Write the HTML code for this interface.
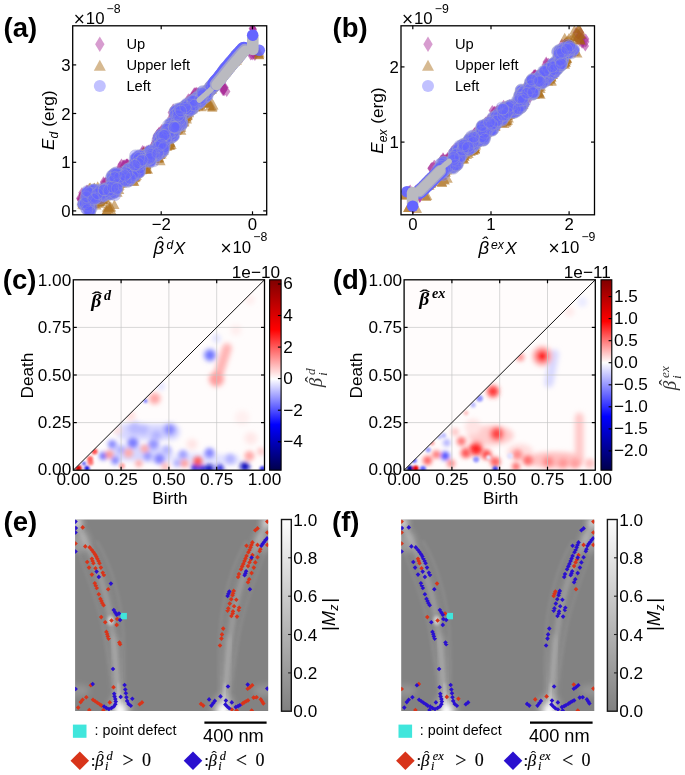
<!DOCTYPE html>
<html lang="en"><head><meta charset="utf-8"><title>Figure</title>
<style>html,body{margin:0;padding:0;background:#fff}svg{display:block}text{font-family:'Liberation Sans', sans-serif}text.sf{font-family:'Liberation Serif', 'DejaVu Serif', serif}text.dj{font-family:'DejaVu Sans',sans-serif}</style></head><body>
<svg width="685" height="775" viewBox="0 0 685 775">
<defs>
<filter id="blur1" x="-20%" y="-20%" width="140%" height="140%"><feGaussianBlur stdDeviation="1.1"/></filter>
<filter id="blur2" x="-20%" y="-20%" width="140%" height="140%"><feGaussianBlur stdDeviation="1.7"/></filter>
<filter id="blurh" x="-10%" y="-10%" width="120%" height="120%"><feGaussianBlur stdDeviation="2.1"/></filter>
<filter id="blurs" x="-10%" y="-10%" width="120%" height="120%"><feGaussianBlur stdDeviation="2.9"/></filter>
<filter id="blur3" x="-50%" y="-50%" width="200%" height="200%"><feGaussianBlur stdDeviation="3.2"/></filter>
<linearGradient id="seis_pc" x1="0" y1="0" x2="0" y2="1">
<stop offset="0%" stop-color="#800000"/>
<stop offset="26.1%" stop-color="#ff0000"/>
<stop offset="52.1%" stop-color="#ffffff"/>
<stop offset="76.1%" stop-color="#0000ff"/>
<stop offset="100%" stop-color="#00004c"/>
</linearGradient>
<linearGradient id="seis_pd" x1="0" y1="0" x2="0" y2="1">
<stop offset="0%" stop-color="#800000"/>
<stop offset="21.8%" stop-color="#ff0000"/>
<stop offset="43.5%" stop-color="#ffffff"/>
<stop offset="71.8%" stop-color="#0000ff"/>
<stop offset="100%" stop-color="#00004c"/>
</linearGradient>
<linearGradient id="graybar" x1="0" y1="0" x2="0" y2="1"><stop offset="0" stop-color="#fdfdfd"/><stop offset="1" stop-color="#808080"/></linearGradient>
</defs>
<rect x="0" y="0" width="685" height="775" fill="#fff"/>
<g id="pa">
<clipPath id="clip_pa"><rect x="72.7" y="25.8" width="194" height="189"/></clipPath>
<g clip-path="url(#clip_pa)">
<path d="M125.7 163.5L129.4 169.1L125.7 174.7L122 169.1ZM235.7 51.4L239.4 57L235.7 62.6L232 57ZM120.1 169L123.8 174.6L120.1 180.2L116.4 174.6ZM123.8 163.4L127.5 169L123.8 174.6L120.1 169ZM145 155.5L148.7 161.1L145 166.7L141.3 161.1ZM155.7 140.8L159.4 146.4L155.7 152L152 146.4ZM117 172.8L120.7 178.4L117 184L113.3 178.4ZM114 178.2L117.7 183.8L114 189.4L110.3 183.8ZM213.4 78.2L217.1 83.8L213.4 89.4L209.7 83.8ZM145.7 160.2L149.4 165.8L145.7 171.4L142 165.8ZM229.4 59.7L233.1 65.3L229.4 70.9L225.7 65.3ZM119.7 170.1L123.4 175.7L119.7 181.3L116 175.7ZM194.2 88.4L197.9 94L194.2 99.6L190.5 94ZM198.8 88.5L202.5 94.1L198.8 99.7L195.1 94.1ZM165.3 127.3L169 132.9L165.3 138.5L161.6 132.9ZM193.5 93.1L197.2 98.7L193.5 104.3L189.8 98.7ZM102.9 184.6L106.6 190.2L102.9 195.8L99.2 190.2ZM156.3 140.7L160 146.3L156.3 151.9L152.6 146.3ZM155.9 135.4L159.6 141L155.9 146.6L152.2 141ZM235.5 50.8L239.2 56.4L235.5 62L231.8 56.4ZM162.6 127.5L166.3 133.1L162.6 138.7L158.9 133.1ZM157.5 135.4L161.2 141L157.5 146.6L153.8 141ZM95.7 190.4L99.4 196L95.7 201.6L92 196ZM210.4 82.1L214.1 87.7L210.4 93.3L206.7 87.7ZM164.1 125.8L167.8 131.4L164.1 137L160.4 131.4ZM242.5 45.6L246.2 51.2L242.5 56.8L238.8 51.2ZM118.7 166.2L122.4 171.8L118.7 177.4L115 171.8ZM104.5 183L108.2 188.6L104.5 194.2L100.8 188.6ZM118.4 178.2L122.1 183.8L118.4 189.4L114.7 183.8ZM122.7 162.4L126.4 168L122.7 173.6L119 168ZM233.3 53.9L237 59.5L233.3 65.1L229.6 59.5ZM230.1 58.1L233.8 63.7L230.1 69.3L226.4 63.7ZM223 85.1L226.7 90.7L223 96.3L219.3 90.7ZM238.9 47.6L242.6 53.2L238.9 58.8L235.2 53.2ZM172.4 109.2L176.1 114.8L172.4 120.4L168.7 114.8ZM121.5 158.4L125.2 164L121.5 169.6L117.8 164ZM115.3 176.9L119 182.5L115.3 188.1L111.6 182.5ZM92.4 188.1L96.1 193.7L92.4 199.3L88.7 193.7ZM119.7 172.4L123.4 178L119.7 183.6L116 178ZM115.4 174.3L119.1 179.9L115.4 185.5L111.7 179.9ZM81.8 193L85.5 198.6L81.8 204.2L78.1 198.6ZM143.9 156.4L147.6 162L143.9 167.6L140.2 162ZM88.7 188.2L92.4 193.8L88.7 199.4L85 193.8ZM161.7 124.1L165.4 129.7L161.7 135.3L158 129.7ZM106.2 180.8L109.9 186.4L106.2 192L102.5 186.4ZM175.5 118.7L179.2 124.3L175.5 129.9L171.8 124.3ZM186 104.9L189.7 110.5L186 116.1L182.3 110.5ZM148.3 144.9L152 150.5L148.3 156.1L144.6 150.5ZM102.3 188.4L106 194L102.3 199.6L98.6 194ZM167.7 126.2L171.4 131.8L167.7 137.4L164 131.8ZM170.2 125.5L173.9 131.1L170.2 136.7L166.5 131.1ZM79.7 192.8L83.4 198.4L79.7 204L76 198.4ZM194.6 89.8L198.3 95.4L194.6 101L190.9 95.4ZM231.4 57.7L235.1 63.3L231.4 68.9L227.7 63.3ZM242.5 44.5L246.2 50.1L242.5 55.7L238.8 50.1ZM235.9 49.8L239.6 55.4L235.9 61L232.2 55.4ZM104.1 180.7L107.8 186.3L104.1 191.9L100.4 186.3ZM164.3 129.1L168 134.7L164.3 140.3L160.6 134.7ZM143 146.7L146.7 152.3L143 157.9L139.3 152.3ZM121.7 162.6L125.4 168.2L121.7 173.8L118 168.2ZM173.5 118.5L177.2 124.1L173.5 129.7L169.8 124.1ZM144.2 153L147.9 158.6L144.2 164.2L140.5 158.6ZM175.2 105.5L178.9 111.1L175.2 116.7L171.5 111.1ZM209.1 85.5L212.8 91.1L209.1 96.7L205.4 91.1ZM221.1 71.5L224.8 77.1L221.1 82.7L217.4 77.1ZM155.9 141.8L159.6 147.4L155.9 153L152.2 147.4ZM241.9 44L245.6 49.6L241.9 55.2L238.2 49.6ZM173.1 125.5L176.8 131.1L173.1 136.7L169.4 131.1ZM123.1 159.5L126.8 165.1L123.1 170.7L119.4 165.1ZM144.9 160.8L148.6 166.4L144.9 172L141.2 166.4ZM228.2 60.9L231.9 66.5L228.2 72.1L224.5 66.5ZM213 77.4L216.7 83L213 88.6L209.3 83ZM154.8 142.4L158.5 148L154.8 153.6L151.1 148ZM224.5 67.3L228.2 72.9L224.5 78.5L220.8 72.9ZM102.9 188.5L106.6 194.1L102.9 199.7L99.2 194.1ZM254.9 49.9L258.6 55.5L254.9 61.1L251.2 55.5ZM205.7 86.8L209.4 92.4L205.7 98L202 92.4ZM174.7 115.7L178.4 121.3L174.7 126.9L171 121.3ZM82.7 195.4L86.4 201L82.7 206.6L79 201ZM183.4 105.7L187.1 111.3L183.4 116.9L179.7 111.3ZM207.5 85.3L211.2 90.9L207.5 96.5L203.8 90.9ZM119.7 163.2L123.4 168.8L119.7 174.4L116 168.8ZM234.7 52L238.4 57.6L234.7 63.2L231 57.6ZM157.7 129L161.4 134.6L157.7 140.2L154 134.6ZM143.8 155.9L147.5 161.5L143.8 167.1L140.1 161.5ZM121.3 158.7L125 164.3L121.3 169.9L117.6 164.3ZM155.1 145L158.8 150.6L155.1 156.2L151.4 150.6ZM141.2 162.5L144.9 168.1L141.2 173.7L137.5 168.1ZM109.4 177.4L113.1 183L109.4 188.6L105.7 183ZM191.3 92.9L195 98.5L191.3 104.1L187.6 98.5ZM117.8 172.6L121.5 178.2L117.8 183.8L114.1 178.2ZM98.8 191.4L102.5 197L98.8 202.6L95.1 197ZM143.7 161.5L147.4 167.1L143.7 172.7L140 167.1ZM223.8 66.4L227.5 72L223.8 77.6L220.1 72ZM127.1 158.5L130.8 164.1L127.1 169.7L123.4 164.1ZM90.8 188.3L94.5 193.9L90.8 199.5L87.1 193.9ZM189.6 93.8L193.3 99.4L189.6 105L185.9 99.4ZM224.6 66.2L228.3 71.8L224.6 77.4L220.9 71.8ZM240.1 47.3L243.8 52.9L240.1 58.5L236.4 52.9ZM160.4 129.2L164.1 134.8L160.4 140.4L156.7 134.8ZM177.8 107.7L181.5 113.3L177.8 118.9L174.1 113.3ZM84.8 200.9L88.5 206.5L84.8 212.1L81.1 206.5ZM103 187.2L106.7 192.8L103 198.4L99.3 192.8ZM210.4 81.3L214.1 86.9L210.4 92.5L206.7 86.9ZM151.4 144.9L155.1 150.5L151.4 156.1L147.7 150.5ZM144 145.5L147.7 151.1L144 156.7L140.3 151.1ZM137.4 163.6L141.1 169.2L137.4 174.8L133.7 169.2ZM155.8 142L159.5 147.6L155.8 153.2L152.1 147.6ZM155.7 141.4L159.4 147L155.7 152.6L152 147ZM116.9 174.2L120.6 179.8L116.9 185.4L113.2 179.8ZM221 71.4L224.7 77L221 82.6L217.3 77ZM86.4 192.6L90.1 198.2L86.4 203.8L82.7 198.2ZM118.6 173.7L122.3 179.3L118.6 184.9L114.9 179.3ZM225.3 64.8L229 70.4L225.3 76L221.6 70.4ZM100.9 188.4L104.6 194L100.9 199.6L97.2 194ZM215.5 75.9L219.2 81.5L215.5 87.1L211.8 81.5ZM109 176.7L112.7 182.3L109 187.9L105.3 182.3ZM140.5 165L144.2 170.6L140.5 176.2L136.8 170.6ZM180.8 104.8L184.5 110.4L180.8 116L177.1 110.4ZM218 74L221.7 79.6L218 85.2L214.3 79.6ZM159.9 130.1L163.6 135.7L159.9 141.3L156.2 135.7ZM114.5 177.6L118.2 183.2L114.5 188.8L110.8 183.2ZM131.4 161.1L135.1 166.7L131.4 172.3L127.7 166.7ZM211.2 80.2L214.9 85.8L211.2 91.4L207.5 85.8ZM146.3 157.1L150 162.7L146.3 168.3L142.6 162.7ZM155.1 145.8L158.8 151.4L155.1 157L151.4 151.4ZM123.6 160.4L127.3 166L123.6 171.6L119.9 166ZM252.3 22.8L256 28.4L252.3 34L248.6 28.4ZM212.9 79.7L216.6 85.3L212.9 90.9L209.2 85.3ZM140.7 161.6L144.4 167.2L140.7 172.8L137 167.2ZM225 82L228.7 87.6L225 93.2L221.3 87.6ZM174.6 110.8L178.3 116.4L174.6 122L170.9 116.4ZM124.1 159.5L127.8 165.1L124.1 170.7L120.4 165.1ZM110.6 178.4L114.3 184L110.6 189.6L106.9 184ZM157.2 139.2L160.9 144.8L157.2 150.4L153.5 144.8ZM145.4 159.7L149.1 165.3L145.4 170.9L141.7 165.3ZM227.3 62.6L231 68.2L227.3 73.8L223.6 68.2ZM231.3 57.2L235 62.8L231.3 68.4L227.6 62.8ZM164.3 127L168 132.6L164.3 138.2L160.6 132.6ZM83.8 191.8L87.5 197.4L83.8 203L80.1 197.4ZM211.9 79.5L215.6 85.1L211.9 90.7L208.2 85.1ZM230.9 56.2L234.6 61.8L230.9 67.4L227.2 61.8ZM144.5 147.2L148.2 152.8L144.5 158.4L140.8 152.8ZM135.4 162.5L139.1 168.1L135.4 173.7L131.7 168.1ZM187 103L190.7 108.6L187 114.2L183.3 108.6ZM154.8 143.2L158.5 148.8L154.8 154.4L151.1 148.8ZM241.1 45L244.8 50.6L241.1 56.2L237.4 50.6ZM132 159.6L135.7 165.2L132 170.8L128.3 165.2ZM197.3 87.7L201 93.3L197.3 98.9L193.6 93.3ZM173.6 115.3L177.3 120.9L173.6 126.5L169.9 120.9ZM239.7 48.8L243.4 54.4L239.7 60L236 54.4ZM215.8 75.6L219.5 81.2L215.8 86.8L212.1 81.2ZM169.4 126.6L173.1 132.2L169.4 137.8L165.7 132.2ZM133.9 160.5L137.6 166.1L133.9 171.7L130.2 166.1ZM100.7 188.1L104.4 193.7L100.7 199.3L97 193.7ZM240.9 46.6L244.6 52.2L240.9 57.8L237.2 52.2ZM120.2 165.6L123.9 171.2L120.2 176.8L116.5 171.2ZM186.7 105.8L190.4 111.4L186.7 117L183 111.4ZM237.6 49.7L241.3 55.3L237.6 60.9L233.9 55.3ZM224.9 66.4L228.6 72L224.9 77.6L221.2 72ZM177.1 119.2L180.8 124.8L177.1 130.4L173.4 124.8ZM148.4 146.5L152.1 152.1L148.4 157.7L144.7 152.1ZM144.1 149.9L147.8 155.5L144.1 161.1L140.4 155.5ZM145.5 147.3L149.2 152.9L145.5 158.5L141.8 152.9ZM102.4 181.2L106.1 186.8L102.4 192.4L98.7 186.8ZM143.3 151.5L147 157.1L143.3 162.7L139.6 157.1ZM188.9 97.9L192.6 103.5L188.9 109.1L185.2 103.5ZM181 105.7L184.7 111.3L181 116.9L177.3 111.3ZM126.4 164.4L130.1 170L126.4 175.6L122.7 170ZM176.1 108.9L179.8 114.5L176.1 120.1L172.4 114.5ZM157 130.5L160.7 136.1L157 141.7L153.3 136.1ZM126.1 158.8L129.8 164.4L126.1 170L122.4 164.4ZM143.8 158.8L147.5 164.4L143.8 170L140.1 164.4ZM196 89.1L199.7 94.7L196 100.3L192.3 94.7ZM145.8 146.3L149.5 151.9L145.8 157.5L142.1 151.9ZM143.3 157.9L147 163.5L143.3 169.1L139.6 163.5ZM196.6 88.4L200.3 94L196.6 99.6L192.9 94ZM233.1 54L236.8 59.6L233.1 65.2L229.4 59.6ZM142.6 145.1L146.3 150.7L142.6 156.3L138.9 150.7ZM174.8 106.5L178.5 112.1L174.8 117.7L171.1 112.1ZM204.1 89.1L207.8 94.7L204.1 100.3L200.4 94.7ZM229 60.3L232.7 65.9L229 71.5L225.3 65.9ZM183.1 102.4L186.8 108L183.1 113.6L179.4 108ZM99 192L102.7 197.6L99 203.2L95.3 197.6ZM189.2 97.8L192.9 103.4L189.2 109L185.5 103.4ZM204.2 88.5L207.9 94.1L204.2 99.7L200.5 94.1ZM97.8 189.9L101.5 195.5L97.8 201.1L94.1 195.5ZM174.6 123.3L178.3 128.9L174.6 134.5L170.9 128.9ZM218.5 72.3L222.2 77.9L218.5 83.5L214.8 77.9ZM153.7 144.5L157.4 150.1L153.7 155.7L150 150.1ZM212.2 80.3L215.9 85.9L212.2 91.5L208.5 85.9ZM166.3 124.8L170 130.4L166.3 136L162.6 130.4ZM194.2 87.3L197.9 92.9L194.2 98.5L190.5 92.9ZM144.2 152.6L147.9 158.2L144.2 163.8L140.5 158.2ZM243.6 43.1L247.3 48.7L243.6 54.3L239.9 48.7ZM196.5 86.8L200.2 92.4L196.5 98L192.8 92.4ZM127.1 160.3L130.8 165.9L127.1 171.5L123.4 165.9ZM238 49.5L241.7 55.1L238 60.7L234.3 55.1ZM220.4 71.9L224.1 77.5L220.4 83.1L216.7 77.5ZM228.4 60.8L232.1 66.4L228.4 72L224.7 66.4ZM175.9 123.1L179.6 128.7L175.9 134.3L172.2 128.7ZM83 192.3L86.7 197.9L83 203.5L79.3 197.9ZM145.5 159.2L149.2 164.8L145.5 170.4L141.8 164.8ZM115.8 176L119.5 181.6L115.8 187.2L112.1 181.6ZM169.3 124.1L173 129.7L169.3 135.3L165.6 129.7ZM177.9 121.2L181.6 126.8L177.9 132.4L174.2 126.8ZM195.2 88.3L198.9 93.9L195.2 99.5L191.5 93.9ZM195.3 87.2L199 92.8L195.3 98.4L191.6 92.8ZM87 184.4L90.7 190L87 195.6L83.3 190ZM168.8 124.1L172.5 129.7L168.8 135.3L165.1 129.7ZM131.3 160L135 165.6L131.3 171.2L127.6 165.6ZM218.2 73.9L221.9 79.5L218.2 85.1L214.5 79.5ZM217.3 74L221 79.6L217.3 85.2L213.6 79.6ZM126 160.3L129.7 165.9L126 171.5L122.3 165.9ZM191.3 92.3L195 97.9L191.3 103.5L187.6 97.9ZM226.3 66.3L230 71.9L226.3 77.5L222.6 71.9ZM203.7 89.4L207.4 95L203.7 100.6L200 95ZM144.3 158.6L148 164.2L144.3 169.8L140.6 164.2ZM86 186.2L89.7 191.8L86 197.4L82.3 191.8ZM242.8 43.7L246.5 49.3L242.8 54.9L239.1 49.3ZM202.4 89.6L206.1 95.2L202.4 100.8L198.7 95.2ZM83.1 192.3L86.8 197.9L83.1 203.5L79.4 197.9ZM189.5 97.5L193.2 103.1L189.5 108.7L185.8 103.1ZM120.5 173.6L124.2 179.2L120.5 184.8L116.8 179.2ZM117.5 173.1L121.2 178.7L117.5 184.3L113.8 178.7ZM226.8 62.4L230.5 68L226.8 73.6L223.1 68ZM213.3 78.9L217 84.5L213.3 90.1L209.6 84.5ZM209.2 83.5L212.9 89.1L209.2 94.7L205.5 89.1ZM210.5 82.1L214.2 87.7L210.5 93.3L206.8 87.7ZM105.5 177.2L109.2 182.8L105.5 188.4L101.8 182.8ZM233.8 53.1L237.5 58.7L233.8 64.3L230.1 58.7ZM173.8 125.5L177.5 131.1L173.8 136.7L170.1 131.1ZM143.6 151.8L147.3 157.4L143.6 163L139.9 157.4ZM201.4 89.6L205.1 95.2L201.4 100.8L197.7 95.2ZM222.9 68.5L226.6 74.1L222.9 79.7L219.2 74.1ZM155.3 141.5L159 147.1L155.3 152.7L151.6 147.1ZM162.1 127.4L165.8 133L162.1 138.6L158.4 133ZM214.8 76.3L218.5 81.9L214.8 87.5L211.1 81.9ZM235 51.6L238.7 57.2L235 62.8L231.3 57.2ZM174.3 115.5L178 121.1L174.3 126.7L170.6 121.1ZM234.8 51.8L238.5 57.4L234.8 63L231.1 57.4ZM203.6 88.2L207.3 93.8L203.6 99.4L199.9 93.8ZM89.4 187.5L93.1 193.1L89.4 198.7L85.7 193.1ZM156.5 131.2L160.2 136.8L156.5 142.4L152.8 136.8ZM130 159.9L133.7 165.5L130 171.1L126.3 165.5ZM218 73.8L221.7 79.4L218 85L214.3 79.4ZM80.2 191.8L83.9 197.4L80.2 203L76.5 197.4ZM97.9 192.8L101.6 198.4L97.9 204L94.2 198.4ZM82.7 191.2L86.4 196.8L82.7 202.4L79 196.8ZM210.5 80.9L214.2 86.5L210.5 92.1L206.8 86.5ZM99.6 190.4L103.3 196L99.6 201.6L95.9 196ZM104.1 190.4L107.8 196L104.1 201.6L100.4 196ZM141.4 163.2L145.1 168.8L141.4 174.4L137.7 168.8ZM209.9 82.4L213.6 88L209.9 93.6L206.2 88ZM172.2 110L175.9 115.6L172.2 121.2L168.5 115.6ZM118.4 166.5L122.1 172.1L118.4 177.7L114.7 172.1ZM85.7 190.4L89.4 196L85.7 201.6L82 196ZM191.3 97.5L195 103.1L191.3 108.7L187.6 103.1ZM140.5 162.5L144.2 168.1L140.5 173.7L136.8 168.1ZM221.6 68.9L225.3 74.5L221.6 80.1L217.9 74.5ZM185.8 105L189.5 110.6L185.8 116.2L182.1 110.6ZM158.5 128.3L162.2 133.9L158.5 139.5L154.8 133.9ZM222.1 69L225.8 74.6L222.1 80.2L218.4 74.6ZM236.7 50.7L240.4 56.3L236.7 61.9L233 56.3ZM225.1 65.4L228.8 71L225.1 76.6L221.4 71ZM189.7 95.3L193.4 100.9L189.7 106.5L186 100.9ZM173.2 106.3L176.9 111.9L173.2 117.5L169.5 111.9ZM215.4 73.3L219.1 78.9L215.4 84.5L211.7 78.9ZM90 189.7L93.7 195.3L90 200.9L86.3 195.3ZM182.1 106.5L185.8 112.1L182.1 117.7L178.4 112.1ZM191 100.6L194.7 106.2L191 111.8L187.3 106.2ZM208.5 83.8L212.2 89.4L208.5 95L204.8 89.4ZM116.2 176L119.9 181.6L116.2 187.2L112.5 181.6ZM207.6 84.6L211.3 90.2L207.6 95.8L203.9 90.2Z" fill="#a0148c" fill-opacity="0.5"/>
<path d="M188.9 97.4L192.6 103L188.9 108.6L185.2 103ZM128.1 159.3L131.8 164.9L128.1 170.5L124.4 164.9ZM198 87.8L201.7 93.4L198 99L194.3 93.4ZM236.4 50.8L240.1 56.4L236.4 62L232.7 56.4ZM190.4 97.3L194.1 102.9L190.4 108.5L186.7 102.9ZM103.6 184.2L107.3 189.8L103.6 195.4L99.9 189.8ZM215.8 75.9L219.5 81.5L215.8 87.1L212.1 81.5ZM99.9 192.1L103.6 197.7L99.9 203.3L96.2 197.7ZM174 122.1L177.7 127.7L174 133.3L170.3 127.7ZM170.2 125L173.9 130.6L170.2 136.2L166.5 130.6ZM157.9 130.3L161.6 135.9L157.9 141.5L154.2 135.9ZM213.1 80L216.8 85.6L213.1 91.2L209.4 85.6ZM154.5 144.8L158.2 150.4L154.5 156L150.8 150.4ZM231.5 55.9L235.2 61.5L231.5 67.1L227.8 61.5ZM84.2 192.4L87.9 198L84.2 203.6L80.5 198ZM143.4 159.6L147.1 165.2L143.4 170.8L139.7 165.2ZM230.4 58.6L234.1 64.2L230.4 69.8L226.7 64.2ZM198.9 88.1L202.6 93.7L198.9 99.3L195.2 93.7ZM203.9 89.2L207.6 94.8L203.9 100.4L200.2 94.8ZM99.4 191.4L103.1 197L99.4 202.6L95.7 197ZM82.3 197.7L86 203.3L82.3 208.9L78.6 203.3ZM190.4 95.3L194.1 100.9L190.4 106.5L186.7 100.9ZM105.8 177.1L109.5 182.7L105.8 188.3L102.1 182.7ZM238 48.5L241.7 54.1L238 59.7L234.3 54.1ZM205.6 88.4L209.3 94L205.6 99.6L201.9 94ZM223.4 67.5L227.1 73.1L223.4 78.7L219.7 73.1ZM239.2 49.2L242.9 54.8L239.2 60.4L235.5 54.8ZM188 100.3L191.7 105.9L188 111.5L184.3 105.9ZM216.4 74.2L220.1 79.8L216.4 85.4L212.7 79.8ZM227.5 62.4L231.2 68L227.5 73.6L223.8 68ZM176.6 121.9L180.3 127.5L176.6 133.1L172.9 127.5ZM112.7 177.4L116.4 183L112.7 188.6L109 183ZM234.2 53L237.9 58.6L234.2 64.2L230.5 58.6ZM146.8 148.4L150.5 154L146.8 159.6L143.1 154ZM120.9 172L124.6 177.6L120.9 183.2L117.2 177.6ZM243.3 42.9L247 48.5L243.3 54.1L239.6 48.5ZM219.9 73.1L223.6 78.7L219.9 84.3L216.2 78.7ZM156.8 132.6L160.5 138.2L156.8 143.8L153.1 138.2ZM176.2 115.7L179.9 121.3L176.2 126.9L172.5 121.3ZM107 177.8L110.7 183.4L107 189L103.3 183.4ZM94 191.1L97.7 196.7L94 202.3L90.3 196.7ZM216.7 74.3L220.4 79.9L216.7 85.5L213 79.9ZM80.5 192.9L84.2 198.5L80.5 204.1L76.8 198.5ZM88.1 188.1L91.8 193.7L88.1 199.3L84.4 193.7ZM122.6 160.8L126.3 166.4L122.6 172L118.9 166.4ZM133.8 162.7L137.5 168.3L133.8 173.9L130.1 168.3ZM195.9 87.9L199.6 93.5L195.9 99.1L192.2 93.5ZM115.6 176.7L119.3 182.3L115.6 187.9L111.9 182.3ZM159.7 129.3L163.4 134.9L159.7 140.5L156 134.9ZM214.2 76L217.9 81.6L214.2 87.2L210.5 81.6ZM123.2 160.2L126.9 165.8L123.2 171.4L119.5 165.8ZM186.7 102.1L190.4 107.7L186.7 113.3L183 107.7ZM141.2 164.7L144.9 170.3L141.2 175.9L137.5 170.3ZM88.4 202.9L92.1 208.5L88.4 214.1L84.7 208.5ZM134 161.1L137.7 166.7L134 172.3L130.3 166.7ZM167.2 125.7L170.9 131.3L167.2 136.9L163.5 131.3ZM173.7 107.2L177.4 112.8L173.7 118.4L170 112.8ZM146.6 147.9L150.3 153.5L146.6 159.1L142.9 153.5ZM174.5 108.4L178.2 114L174.5 119.6L170.8 114ZM153 146.2L156.7 151.8L153 157.4L149.3 151.8ZM229 58.9L232.7 64.5L229 70.1L225.3 64.5ZM241.9 46L245.6 51.6L241.9 57.2L238.2 51.6ZM111.8 177.8L115.5 183.4L111.8 189L108.1 183.4ZM100.9 193.4L104.6 199L100.9 204.6L97.2 199ZM121.1 165.1L124.8 170.7L121.1 176.3L117.4 170.7ZM87 189.4L90.7 195L87 200.6L83.3 195ZM187.1 103.4L190.8 109L187.1 114.6L183.4 109ZM117.5 171.3L121.2 176.9L117.5 182.5L113.8 176.9ZM188.5 102L192.2 107.6L188.5 113.2L184.8 107.6ZM151 147.8L154.7 153.4L151 159L147.3 153.4ZM209.4 84L213.1 89.6L209.4 95.2L205.7 89.6ZM177 121L180.7 126.6L177 132.2L173.3 126.6ZM223.6 69.1L227.3 74.7L223.6 80.3L219.9 74.7ZM160.7 127.5L164.4 133.1L160.7 138.7L157 133.1ZM120.2 160.9L123.9 166.5L120.2 172.1L116.5 166.5ZM141.9 152.4L145.6 158L141.9 163.6L138.2 158ZM194.5 90L198.2 95.6L194.5 101.2L190.8 95.6ZM210.7 81.9L214.4 87.5L210.7 93.1L207 87.5ZM191 99L194.7 104.6L191 110.2L187.3 104.6ZM212.5 81L216.2 86.6L212.5 92.2L208.8 86.6ZM159.9 129.9L163.6 135.5L159.9 141.1L156.2 135.5ZM117.1 173.5L120.8 179.1L117.1 184.7L113.4 179.1ZM210.1 82.5L213.8 88.1L210.1 93.7L206.4 88.1ZM241.2 46.1L244.9 51.7L241.2 57.3L237.5 51.7ZM226.5 62.5L230.2 68.1L226.5 73.7L222.8 68.1ZM226 63L229.7 68.6L226 74.2L222.3 68.6ZM174.2 124.8L177.9 130.4L174.2 136L170.5 130.4ZM177.8 106.5L181.5 112.1L177.8 117.7L174.1 112.1ZM204.7 87.2L208.4 92.8L204.7 98.4L201 92.8ZM117.2 173.5L120.9 179.1L117.2 184.7L113.5 179.1ZM142.9 153L146.6 158.6L142.9 164.2L139.2 158.6ZM146.8 145.3L150.5 150.9L146.8 156.5L143.1 150.9ZM105.5 180.3L109.2 185.9L105.5 191.5L101.8 185.9ZM158.3 137.2L162 142.8L158.3 148.4L154.6 142.8ZM250.7 49.2L254.4 54.8L250.7 60.4L247 54.8ZM175.5 118.4L179.2 124L175.5 129.6L171.8 124ZM84.8 188.7L88.5 194.3L84.8 199.9L81.1 194.3ZM242 44.7L245.7 50.3L242 55.9L238.3 50.3ZM187.1 98.4L190.8 104L187.1 109.6L183.4 104ZM144.6 157.7L148.3 163.3L144.6 168.9L140.9 163.3ZM150.7 147.1L154.4 152.7L150.7 158.3L147 152.7ZM216.2 75.8L219.9 81.4L216.2 87L212.5 81.4ZM98.5 192.3L102.2 197.9L98.5 203.5L94.8 197.9ZM163.1 126.7L166.8 132.3L163.1 137.9L159.4 132.3ZM115.1 169.7L118.8 175.3L115.1 180.9L111.4 175.3ZM148.7 147.9L152.4 153.5L148.7 159.1L145 153.5ZM93.8 188.7L97.5 194.3L93.8 199.9L90.1 194.3ZM158.2 135.8L161.9 141.4L158.2 147L154.5 141.4ZM233.8 54L237.5 59.6L233.8 65.2L230.1 59.6ZM231.6 56.7L235.3 62.3L231.6 67.9L227.9 62.3ZM119.3 173.3L123 178.9L119.3 184.5L115.6 178.9ZM193.4 93.4L197.1 99L193.4 104.6L189.7 99ZM237.8 48.4L241.5 54L237.8 59.6L234.1 54ZM242.7 45.3L246.4 50.9L242.7 56.5L239 50.9ZM120.3 162.8L124 168.4L120.3 174L116.6 168.4ZM212 80.8L215.7 86.4L212 92L208.3 86.4ZM141.9 147.4L145.6 153L141.9 158.6L138.2 153ZM239 47.5L242.7 53.1L239 58.7L235.3 53.1ZM157.1 131.6L160.8 137.2L157.1 142.8L153.4 137.2ZM171.3 107L175 112.6L171.3 118.2L167.6 112.6ZM231.8 55.4L235.5 61L231.8 66.6L228.1 61ZM216.3 75.4L220 81L216.3 86.6L212.6 81ZM229.4 58.6L233.1 64.2L229.4 69.8L225.7 64.2ZM221.1 71.3L224.8 76.9L221.1 82.5L217.4 76.9ZM235.2 50.1L238.9 55.7L235.2 61.3L231.5 55.7ZM217.2 75.8L220.9 81.4L217.2 87L213.5 81.4ZM103.5 180.9L107.2 186.5L103.5 192.1L99.8 186.5ZM213.4 76.9L217.1 82.5L213.4 88.1L209.7 82.5ZM177.5 123.3L181.2 128.9L177.5 134.5L173.8 128.9ZM220 71.1L223.7 76.7L220 82.3L216.3 76.7ZM237.7 49.4L241.4 55L237.7 60.6L234 55ZM118.8 169L122.5 174.6L118.8 180.2L115.1 174.6ZM156.3 140.8L160 146.4L156.3 152L152.6 146.4ZM81.7 196.1L85.4 201.7L81.7 207.3L78 201.7ZM252.9 23.2L256.6 28.8L252.9 34.4L249.2 28.8ZM195.1 89.1L198.8 94.7L195.1 100.3L191.4 94.7ZM122.3 162L126 167.6L122.3 173.2L118.6 167.6ZM152.9 146.1L156.6 151.7L152.9 157.3L149.2 151.7ZM103.7 184.3L107.4 189.9L103.7 195.5L100 189.9ZM223.2 68.4L226.9 74L223.2 79.6L219.5 74ZM152.3 146.1L156 151.7L152.3 157.3L148.6 151.7ZM174.7 117.2L178.4 122.8L174.7 128.4L171 122.8ZM89.3 204.5L93 210.1L89.3 215.7L85.6 210.1ZM204.6 88.5L208.3 94.1L204.6 99.7L200.9 94.1ZM165.4 125.1L169.1 130.7L165.4 136.3L161.7 130.7ZM137 160.5L140.7 166.1L137 171.7L133.3 166.1ZM195 87.4L198.7 93L195 98.6L191.3 93ZM174.5 125.3L178.2 130.9L174.5 136.5L170.8 130.9ZM89.5 191.4L93.2 197L89.5 202.6L85.8 197ZM223.8 82.2L227.5 87.8L223.8 93.4L220.1 87.8ZM192 98.5L195.7 104.1L192 109.7L188.3 104.1ZM228 61.4L231.7 67L228 72.6L224.3 67ZM139.9 163.5L143.6 169.1L139.9 174.7L136.2 169.1ZM87.3 199.4L91 205L87.3 210.6L83.6 205ZM87 191.1L90.7 196.7L87 202.3L83.3 196.7ZM204 89.2L207.7 94.8L204 100.4L200.3 94.8ZM175.1 105.9L178.8 111.5L175.1 117.1L171.4 111.5ZM237.1 50.2L240.8 55.8L237.1 61.4L233.4 55.8ZM157.9 139.2L161.6 144.8L157.9 150.4L154.2 144.8ZM236.3 51.6L240 57.2L236.3 62.8L232.6 57.2ZM87.1 184.9L90.8 190.5L87.1 196.1L83.4 190.5ZM179.3 105.4L183 111L179.3 116.6L175.6 111ZM121.2 166.8L124.9 172.4L121.2 178L117.5 172.4ZM193.7 88.9L197.4 94.5L193.7 100.1L190 94.5ZM121.1 162.5L124.8 168.1L121.1 173.7L117.4 168.1ZM222.5 67.9L226.2 73.5L222.5 79.1L218.8 73.5ZM205.1 88.9L208.8 94.5L205.1 100.1L201.4 94.5ZM234.8 52.1L238.5 57.7L234.8 63.3L231.1 57.7ZM185.3 104.7L189 110.3L185.3 115.9L181.6 110.3ZM104.5 186.1L108.2 191.7L104.5 197.3L100.8 191.7ZM152.5 146L156.2 151.6L152.5 157.2L148.8 151.6ZM239.6 48.5L243.3 54.1L239.6 59.7L235.9 54.1ZM173.3 114.2L177 119.8L173.3 125.4L169.6 119.8ZM214.9 75.5L218.6 81.1L214.9 86.7L211.2 81.1ZM83.4 193.7L87.1 199.3L83.4 204.9L79.7 199.3ZM172 126.9L175.7 132.5L172 138.1L168.3 132.5ZM206.8 84.7L210.5 90.3L206.8 95.9L203.1 90.3ZM101.5 191.6L105.2 197.2L101.5 202.8L97.8 197.2ZM222.2 68.8L225.9 74.4L222.2 80L218.5 74.4ZM207.1 85.9L210.8 91.5L207.1 97.1L203.4 91.5ZM233.2 53.7L236.9 59.3L233.2 64.9L229.5 59.3ZM126.5 158.5L130.2 164.1L126.5 169.7L122.8 164.1ZM109.5 179L113.2 184.6L109.5 190.2L105.8 184.6ZM100 190.2L103.7 195.8L100 201.4L96.3 195.8ZM231.5 56.3L235.2 61.9L231.5 67.5L227.8 61.9ZM187.7 103.6L191.4 109.2L187.7 114.8L184 109.2ZM110.4 177.2L114.1 182.8L110.4 188.4L106.7 182.8ZM124.1 161.3L127.8 166.9L124.1 172.5L120.4 166.9ZM81 194L84.7 199.6L81 205.2L77.3 199.6ZM101.8 187.8L105.5 193.4L101.8 199L98.1 193.4ZM96.7 192.4L100.4 198L96.7 203.6L93 198ZM88.4 201.6L92.1 207.2L88.4 212.8L84.7 207.2ZM143.3 146.4L147 152L143.3 157.6L139.6 152ZM195 89.2L198.7 94.8L195 100.4L191.3 94.8ZM220.3 72.8L224 78.4L220.3 84L216.6 78.4ZM133.9 162.5L137.6 168.1L133.9 173.7L130.2 168.1ZM188.7 100L192.4 105.6L188.7 111.2L185 105.6ZM219.6 73.1L223.3 78.7L219.6 84.3L215.9 78.7ZM105.4 179.2L109.1 184.8L105.4 190.4L101.7 184.8ZM228.9 59.8L232.6 65.4L228.9 71L225.2 65.4ZM126.1 159.6L129.8 165.2L126.1 170.8L122.4 165.2ZM168.6 123.6L172.3 129.2L168.6 134.8L164.9 129.2ZM158.9 130.6L162.6 136.2L158.9 141.8L155.2 136.2ZM156.9 129.6L160.6 135.2L156.9 140.8L153.2 135.2ZM228.5 61L232.2 66.6L228.5 72.2L224.8 66.6ZM172.6 109.9L176.3 115.5L172.6 121.1L168.9 115.5ZM163.5 125.6L167.2 131.2L163.5 136.8L159.8 131.2ZM206.4 86L210.1 91.6L206.4 97.2L202.7 91.6ZM153.4 139.3L157.1 144.9L153.4 150.5L149.7 144.9ZM185.7 99.8L189.4 105.4L185.7 111L182 105.4ZM229.9 58.4L233.6 64L229.9 69.6L226.2 64ZM132 159.4L135.7 165L132 170.6L128.3 165ZM156.8 135L160.5 140.6L156.8 146.2L153.1 140.6ZM243.5 44.6L247.2 50.2L243.5 55.8L239.8 50.2ZM157.3 138.8L161 144.4L157.3 150L153.6 144.4ZM188.4 93.2L192.1 98.8L188.4 104.4L184.7 98.8ZM157.1 137.2L160.8 142.8L157.1 148.4L153.4 142.8ZM239.7 46.9L243.4 52.5L239.7 58.1L236 52.5ZM224.3 65.6L228 71.2L224.3 76.8L220.6 71.2ZM225.8 64.2L229.5 69.8L225.8 75.4L222.1 69.8ZM221.7 69.9L225.4 75.5L221.7 81.1L218 75.5ZM172.5 111.1L176.2 116.7L172.5 122.3L168.8 116.7ZM211.2 81.7L214.9 87.3L211.2 92.9L207.5 87.3ZM143.7 160.9L147.4 166.5L143.7 172.1L140 166.5ZM208 87.3L211.7 92.9L208 98.5L204.3 92.9ZM187.9 102.3L191.6 107.9L187.9 113.5L184.2 107.9ZM144.4 158.1L148.1 163.7L144.4 169.3L140.7 163.7ZM86.8 188.1L90.5 193.7L86.8 199.3L83.1 193.7ZM122.7 160.6L126.4 166.2L122.7 171.8L119 166.2ZM81.9 187.2L85.6 192.8L81.9 198.4L78.2 192.8ZM212.7 78.2L216.4 83.8L212.7 89.4L209 83.8ZM222.6 70.7L226.3 76.3L222.6 81.9L218.9 76.3ZM159.1 126.6L162.8 132.2L159.1 137.8L155.4 132.2ZM176.3 122.7L180 128.3L176.3 133.9L172.6 128.3ZM178 104.1L181.7 109.7L178 115.3L174.3 109.7ZM240.6 46.6L244.3 52.2L240.6 57.8L236.9 52.2ZM174.1 112.6L177.8 118.2L174.1 123.8L170.4 118.2ZM103.3 189.1L107 194.7L103.3 200.3L99.6 194.7ZM156.5 138.3L160.2 143.9L156.5 149.5L152.8 143.9ZM203 89.6L206.7 95.2L203 100.8L199.3 95.2ZM87.7 188.5L91.4 194.1L87.7 199.7L84 194.1ZM107.5 177.7L111.2 183.3L107.5 188.9L103.8 183.3ZM136.9 161.5L140.6 167.1L136.9 172.7L133.2 167.1ZM119.8 165.5L123.5 171.1L119.8 176.7L116.1 171.1ZM129.1 160.3L132.8 165.9L129.1 171.5L125.4 165.9ZM223.9 84L227.6 89.6L223.9 95.2L220.2 89.6ZM116.9 173.3L120.6 178.9L116.9 184.5L113.2 178.9ZM113.2 176.9L116.9 182.5L113.2 188.1L109.5 182.5ZM156.2 140.5L159.9 146.1L156.2 151.7L152.5 146.1ZM144.6 152.9L148.3 158.5L144.6 164.1L140.9 158.5ZM189.1 100.5L192.8 106.1L189.1 111.7L185.4 106.1ZM231.9 54.9L235.6 60.5L231.9 66.1L228.2 60.5ZM116.2 179.7L119.9 185.3L116.2 190.9L112.5 185.3ZM226.9 63.4L230.6 69L226.9 74.6L223.2 69ZM143.6 147.3L147.3 152.9L143.6 158.5L139.9 152.9ZM172.5 109.5L176.2 115.1L172.5 120.7L168.8 115.1ZM103.5 176.3L107.2 181.9L103.5 187.5L99.8 181.9ZM143.8 152.3L147.5 157.9L143.8 163.5L140.1 157.9ZM232.4 55.6L236.1 61.2L232.4 66.8L228.7 61.2ZM110.3 176.7L114 182.3L110.3 187.9L106.6 182.3ZM140.7 158.9L144.4 164.5L140.7 170.1L137 164.5ZM226.3 64.2L230 69.8L226.3 75.4L222.6 69.8ZM140.8 161.3L144.5 166.9L140.8 172.5L137.1 166.9ZM222.5 82.8L226.2 88.4L222.5 94L218.8 88.4ZM129 159.7L132.7 165.3L129 170.9L125.3 165.3ZM227.7 61.8L231.4 67.4L227.7 73L224 67.4ZM112.6 176.1L116.3 181.7L112.6 187.3L108.9 181.7ZM216.4 74.5L220.1 80.1L216.4 85.7L212.7 80.1ZM155.2 145.6L158.9 151.2L155.2 156.8L151.5 151.2ZM150.3 145.9L154 151.5L150.3 157.1L146.6 151.5ZM155.7 133L159.4 138.6L155.7 144.2L152 138.6ZM181.8 104.9L185.5 110.5L181.8 116.1L178.1 110.5ZM174.4 105.2L178.1 110.8L174.4 116.4L170.7 110.8ZM253.3 48.6L257 54.2L253.3 59.8L249.6 54.2Z" fill="#a0148c" fill-opacity="0.5"/>
<path d="M141.4 161L145.1 166.6L141.4 172.2L137.7 166.6ZM140 163.3L143.7 168.9L140 174.5L136.3 168.9ZM192.4 94L196.1 99.6L192.4 105.2L188.7 99.6ZM83.6 190.9L87.3 196.5L83.6 202.1L79.9 196.5ZM231.6 56.5L235.3 62.1L231.6 67.7L227.9 62.1ZM114.7 179.3L118.4 184.9L114.7 190.5L111 184.9ZM172.5 113.9L176.2 119.5L172.5 125.1L168.8 119.5ZM209 84.9L212.7 90.5L209 96.1L205.3 90.5ZM182 105L185.7 110.6L182 116.2L178.3 110.6ZM187.4 95.9L191.1 101.5L187.4 107.1L183.7 101.5ZM176.1 125.6L179.8 131.2L176.1 136.8L172.4 131.2ZM165.4 127.4L169.1 133L165.4 138.6L161.7 133ZM154.6 137.5L158.3 143.1L154.6 148.7L150.9 143.1ZM123.6 162.7L127.3 168.3L123.6 173.9L119.9 168.3ZM106.2 178.4L109.9 184L106.2 189.6L102.5 184ZM188.2 99.6L191.9 105.2L188.2 110.8L184.5 105.2ZM146 150.9L149.7 156.5L146 162.1L142.3 156.5ZM113.7 179.7L117.4 185.3L113.7 190.9L110 185.3ZM174.3 110.8L178 116.4L174.3 122L170.6 116.4ZM111.9 180.3L115.6 185.9L111.9 191.5L108.2 185.9ZM224 85.1L227.7 90.7L224 96.3L220.3 90.7ZM229.8 57.2L233.5 62.8L229.8 68.4L226.1 62.8ZM104 177.4L107.7 183L104 188.6L100.3 183ZM122.1 168.3L125.8 173.9L122.1 179.5L118.4 173.9ZM156.3 134.7L160 140.3L156.3 145.9L152.6 140.3ZM144.3 159.8L148 165.4L144.3 171L140.6 165.4ZM183.9 106.1L187.6 111.7L183.9 117.3L180.2 111.7ZM224.4 67.3L228.1 72.9L224.4 78.5L220.7 72.9ZM222.9 68.8L226.6 74.4L222.9 80L219.2 74.4ZM221.7 71L225.4 76.6L221.7 82.2L218 76.6ZM190.4 94L194.1 99.6L190.4 105.2L186.7 99.6ZM99 191.2L102.7 196.8L99 202.4L95.3 196.8ZM213.3 78.8L217 84.4L213.3 90L209.6 84.4ZM174.5 124.3L178.2 129.9L174.5 135.5L170.8 129.9ZM105.1 188.6L108.8 194.2L105.1 199.8L101.4 194.2ZM143.2 147.7L146.9 153.3L143.2 158.9L139.5 153.3ZM227.7 61.4L231.4 67L227.7 72.6L224 67ZM135.7 161.8L139.4 167.4L135.7 173L132 167.4ZM225.7 65.8L229.4 71.4L225.7 77L222 71.4ZM206.1 86L209.8 91.6L206.1 97.2L202.4 91.6ZM174.5 116.5L178.2 122.1L174.5 127.7L170.8 122.1ZM241 46.6L244.7 52.2L241 57.8L237.3 52.2ZM105.2 177.4L108.9 183L105.2 188.6L101.5 183ZM226.3 62.3L230 67.9L226.3 73.5L222.6 67.9ZM115.1 172.7L118.8 178.3L115.1 183.9L111.4 178.3ZM210 83L213.7 88.6L210 94.2L206.3 88.6ZM234 53L237.7 58.6L234 64.2L230.3 58.6ZM240.7 47.6L244.4 53.2L240.7 58.8L237 53.2ZM205.8 87.3L209.5 92.9L205.8 98.5L202.1 92.9ZM212 80.4L215.7 86L212 91.6L208.3 86ZM162.2 126.9L165.9 132.5L162.2 138.1L158.5 132.5ZM114.8 177.1L118.5 182.7L114.8 188.3L111.1 182.7ZM180.9 105.4L184.6 111L180.9 116.6L177.2 111ZM95.4 191.3L99.1 196.9L95.4 202.5L91.7 196.9ZM197.8 87.5L201.5 93.1L197.8 98.7L194.1 93.1ZM193.3 91L197 96.6L193.3 102.2L189.6 96.6ZM243.5 44L247.2 49.6L243.5 55.2L239.8 49.6ZM189.6 97.5L193.3 103.1L189.6 108.7L185.9 103.1ZM191.4 94.1L195.1 99.7L191.4 105.3L187.7 99.7ZM205.2 88.5L208.9 94.1L205.2 99.7L201.5 94.1ZM192.2 92.4L195.9 98L192.2 103.6L188.5 98ZM176.9 106.3L180.6 111.9L176.9 117.5L173.2 111.9ZM150.8 144.2L154.5 149.8L150.8 155.4L147.1 149.8ZM117.1 173.9L120.8 179.5L117.1 185.1L113.4 179.5ZM166.5 127.2L170.2 132.8L166.5 138.4L162.8 132.8ZM187.9 100.8L191.6 106.4L187.9 112L184.2 106.4ZM215.4 77.2L219.1 82.8L215.4 88.4L211.7 82.8ZM165 126.4L168.7 132L165 137.6L161.3 132ZM155.9 134.7L159.6 140.3L155.9 145.9L152.2 140.3ZM107.3 182.7L111 188.3L107.3 193.9L103.6 188.3ZM184.8 102.1L188.5 107.7L184.8 113.3L181.1 107.7ZM196.6 88L200.3 93.6L196.6 99.2L192.9 93.6ZM173.8 125.8L177.5 131.4L173.8 137L170.1 131.4ZM106.6 178.3L110.3 183.9L106.6 189.5L102.9 183.9ZM176.4 120.8L180.1 126.4L176.4 132L172.7 126.4ZM82.3 189.1L86 194.7L82.3 200.3L78.6 194.7ZM120.1 170.9L123.8 176.5L120.1 182.1L116.4 176.5ZM234 52.3L237.7 57.9L234 63.5L230.3 57.9ZM194 91.6L197.7 97.2L194 102.8L190.3 97.2ZM228.6 59.5L232.3 65.1L228.6 70.7L224.9 65.1ZM213.1 76.1L216.8 81.7L213.1 87.3L209.4 81.7ZM157.4 129L161.1 134.6L157.4 140.2L153.7 134.6ZM86.5 187.4L90.2 193L86.5 198.6L82.8 193ZM84.8 190.7L88.5 196.3L84.8 201.9L81.1 196.3ZM221.4 70.4L225.1 76L221.4 81.6L217.7 76ZM184 102.8L187.7 108.4L184 114L180.3 108.4ZM233.8 56.2L237.5 61.8L233.8 67.4L230.1 61.8ZM141.2 163.3L144.9 168.9L141.2 174.5L137.5 168.9ZM106.1 177.3L109.8 182.9L106.1 188.5L102.4 182.9ZM118.4 171.1L122.1 176.7L118.4 182.3L114.7 176.7ZM225.3 64.1L229 69.7L225.3 75.3L221.6 69.7ZM150.1 145.2L153.8 150.8L150.1 156.4L146.4 150.8ZM80.7 194.4L84.4 200L80.7 205.6L77 200ZM95.2 188.9L98.9 194.5L95.2 200.1L91.5 194.5ZM213.3 77.4L217 83L213.3 88.6L209.6 83ZM217.1 73.1L220.8 78.7L217.1 84.3L213.4 78.7ZM102.6 180.6L106.3 186.2L102.6 191.8L98.9 186.2ZM161.5 125.6L165.2 131.2L161.5 136.8L157.8 131.2ZM186 102.5L189.7 108.1L186 113.7L182.3 108.1ZM253.4 24.2L257.1 29.8L253.4 35.4L249.7 29.8ZM155.4 137.3L159.1 142.9L155.4 148.5L151.7 142.9ZM234.4 52.6L238.1 58.2L234.4 63.8L230.7 58.2ZM237.1 50.4L240.8 56L237.1 61.6L233.4 56ZM83.1 193.3L86.8 198.9L83.1 204.5L79.4 198.9ZM238.1 49L241.8 54.6L238.1 60.2L234.4 54.6ZM149 146.7L152.7 152.3L149 157.9L145.3 152.3ZM194.9 91.6L198.6 97.2L194.9 102.8L191.2 97.2ZM202.2 90.6L205.9 96.2L202.2 101.8L198.5 96.2ZM171.9 124.9L175.6 130.5L171.9 136.1L168.2 130.5ZM148.4 145.1L152.1 150.7L148.4 156.3L144.7 150.7ZM195.9 90.9L199.6 96.5L195.9 102.1L192.2 96.5ZM142.3 149.6L146 155.2L142.3 160.8L138.6 155.2ZM222.5 81.1L226.2 86.7L222.5 92.3L218.8 86.7ZM152.5 144.4L156.2 150L152.5 155.6L148.8 150ZM96.4 192.3L100.1 197.9L96.4 203.5L92.7 197.9ZM100.7 191.5L104.4 197.1L100.7 202.7L97 197.1ZM185.7 100.4L189.4 106L185.7 111.6L182 106ZM137.5 162.9L141.2 168.5L137.5 174.1L133.8 168.5ZM172.7 113.5L176.4 119.1L172.7 124.7L169 119.1ZM157.4 135.4L161.1 141L157.4 146.6L153.7 141ZM209.9 83.8L213.6 89.4L209.9 95L206.2 89.4ZM169.4 124.2L173.1 129.8L169.4 135.4L165.7 129.8ZM142.1 160.7L145.8 166.3L142.1 171.9L138.4 166.3ZM173.9 123.6L177.6 129.2L173.9 134.8L170.2 129.2ZM103.9 192.8L107.6 198.4L103.9 204L100.2 198.4ZM232.5 54.5L236.2 60.1L232.5 65.7L228.8 60.1ZM208.9 84.6L212.6 90.2L208.9 95.8L205.2 90.2ZM103.6 190.3L107.3 195.9L103.6 201.5L99.9 195.9ZM168.6 124.9L172.3 130.5L168.6 136.1L164.9 130.5ZM177.3 122.7L181 128.3L177.3 133.9L173.6 128.3ZM148.5 148L152.2 153.6L148.5 159.2L144.8 153.6ZM146.8 147.4L150.5 153L146.8 158.6L143.1 153ZM150 145.3L153.7 150.9L150 156.5L146.3 150.9ZM92.7 189L96.4 194.6L92.7 200.2L89 194.6ZM87.6 189.8L91.3 195.4L87.6 201L83.9 195.4ZM189.6 98.9L193.3 104.5L189.6 110.1L185.9 104.5ZM175.6 124.1L179.3 129.7L175.6 135.3L171.9 129.7ZM101.6 182.7L105.3 188.3L101.6 193.9L97.9 188.3ZM224.5 82.3L228.2 87.9L224.5 93.5L220.8 87.9ZM156.1 142.4L159.8 148L156.1 153.6L152.4 148ZM207.4 85.2L211.1 90.8L207.4 96.4L203.7 90.8ZM103 188.2L106.7 193.8L103 199.4L99.3 193.8ZM170.9 112.4L174.6 118L170.9 123.6L167.2 118ZM152.7 147.1L156.4 152.7L152.7 158.3L149 152.7ZM173.9 107.8L177.6 113.4L173.9 119L170.2 113.4ZM111.5 177.4L115.2 183L111.5 188.6L107.8 183ZM137.1 163.3L140.8 168.9L137.1 174.5L133.4 168.9ZM124.3 159.5L128 165.1L124.3 170.7L120.6 165.1ZM224.2 85.1L227.9 90.7L224.2 96.3L220.5 90.7ZM121.7 167.9L125.4 173.5L121.7 179.1L118 173.5ZM103.1 181.1L106.8 186.7L103.1 192.3L99.4 186.7ZM191.5 92.6L195.2 98.2L191.5 103.8L187.8 98.2ZM157.3 135.5L161 141.1L157.3 146.7L153.6 141.1ZM210.9 83.6L214.6 89.2L210.9 94.8L207.2 89.2ZM151.3 146.2L155 151.8L151.3 157.4L147.6 151.8ZM99.7 189.9L103.4 195.5L99.7 201.1L96 195.5ZM144 155.3L147.7 160.9L144 166.5L140.3 160.9ZM104.2 179L107.9 184.6L104.2 190.2L100.5 184.6ZM181.4 106.8L185.1 112.4L181.4 118L177.7 112.4ZM103.4 184.5L107.1 190.1L103.4 195.7L99.7 190.1ZM160.3 130.9L164 136.5L160.3 142.1L156.6 136.5ZM185.4 103.6L189.1 109.2L185.4 114.8L181.7 109.2ZM172.8 108.6L176.5 114.2L172.8 119.8L169.1 114.2ZM91.6 189.5L95.3 195.1L91.6 200.7L87.9 195.1ZM152.4 146.2L156.1 151.8L152.4 157.4L148.7 151.8ZM242.1 45.9L245.8 51.5L242.1 57.1L238.4 51.5ZM177.8 104.8L181.5 110.4L177.8 116L174.1 110.4ZM155.7 143.6L159.4 149.2L155.7 154.8L152 149.2ZM163.9 124.8L167.6 130.4L163.9 136L160.2 130.4ZM125.2 161.1L128.9 166.7L125.2 172.3L121.5 166.7ZM125.2 160.9L128.9 166.5L125.2 172.1L121.5 166.5ZM103.4 184.8L107.1 190.4L103.4 196L99.7 190.4ZM124 161.8L127.7 167.4L124 173L120.3 167.4ZM240.2 47.6L243.9 53.2L240.2 58.8L236.5 53.2ZM173.7 110.3L177.4 115.9L173.7 121.5L170 115.9ZM82.9 192.2L86.6 197.8L82.9 203.4L79.2 197.8ZM158.1 135.7L161.8 141.3L158.1 146.9L154.4 141.3ZM105.8 180L109.5 185.6L105.8 191.2L102.1 185.6ZM124.3 162.2L128 167.8L124.3 173.4L120.6 167.8ZM120.9 166.8L124.6 172.4L120.9 178L117.2 172.4ZM156.9 137.7L160.6 143.3L156.9 148.9L153.2 143.3ZM163.1 124.6L166.8 130.2L163.1 135.8L159.4 130.2ZM212.3 78.6L216 84.2L212.3 89.8L208.6 84.2ZM225.7 64.3L229.4 69.9L225.7 75.5L222 69.9ZM207.9 85.2L211.6 90.8L207.9 96.4L204.2 90.8ZM226.7 85.8L230.4 91.4L226.7 97L223 91.4ZM85.9 203.6L89.6 209.2L85.9 214.8L82.2 209.2ZM153.8 143.5L157.5 149.1L153.8 154.7L150.1 149.1ZM110.2 178L113.9 183.6L110.2 189.2L106.5 183.6ZM160 128.6L163.7 134.2L160 139.8L156.3 134.2ZM231.9 54.4L235.6 60L231.9 65.6L228.2 60ZM155.6 142.9L159.3 148.5L155.6 154.1L151.9 148.5ZM103.4 187.5L107.1 193.1L103.4 198.7L99.7 193.1ZM86 189.2L89.7 194.8L86 200.4L82.3 194.8ZM156.8 130.4L160.5 136L156.8 141.6L153.1 136ZM136 161L139.7 166.6L136 172.2L132.3 166.6ZM223.1 68.7L226.8 74.3L223.1 79.9L219.4 74.3ZM173.8 119.6L177.5 125.2L173.8 130.8L170.1 125.2ZM101.2 187.7L104.9 193.3L101.2 198.9L97.5 193.3ZM195.7 89.3L199.4 94.9L195.7 100.5L192 94.9ZM87.6 188.6L91.3 194.2L87.6 199.8L83.9 194.2ZM160.8 132.2L164.5 137.8L160.8 143.4L157.1 137.8ZM201.9 90.3L205.6 95.9L201.9 101.5L198.2 95.9ZM164.8 123.6L168.5 129.2L164.8 134.8L161.1 129.2ZM191.2 96.2L194.9 101.8L191.2 107.4L187.5 101.8ZM91.1 187.6L94.8 193.2L91.1 198.8L87.4 193.2ZM119.9 172.5L123.6 178.1L119.9 183.7L116.2 178.1ZM119.3 176.1L123 181.7L119.3 187.3L115.6 181.7ZM228.7 62L232.4 67.6L228.7 73.2L225 67.6ZM252.2 49.3L255.9 54.9L252.2 60.5L248.5 54.9ZM155.7 139.6L159.4 145.2L155.7 150.8L152 145.2ZM230.2 58.1L233.9 63.7L230.2 69.3L226.5 63.7ZM225.9 65.2L229.6 70.8L225.9 76.4L222.2 70.8ZM190.1 102.4L193.8 108L190.1 113.6L186.4 108ZM174.5 109L178.2 114.6L174.5 120.2L170.8 114.6ZM160.5 127.9L164.2 133.5L160.5 139.1L156.8 133.5ZM178.1 106L181.8 111.6L178.1 117.2L174.4 111.6ZM86.6 188.9L90.3 194.5L86.6 200.1L82.9 194.5ZM174.1 108.1L177.8 113.7L174.1 119.3L170.4 113.7ZM172.4 113.3L176.1 118.9L172.4 124.5L168.7 118.9ZM159.7 134.5L163.4 140.1L159.7 145.7L156 140.1ZM195.3 92.7L199 98.3L195.3 103.9L191.6 98.3ZM232.2 56.3L235.9 61.9L232.2 67.5L228.5 61.9ZM218.6 72.4L222.3 78L218.6 83.6L214.9 78ZM145.1 146.9L148.8 152.5L145.1 158.1L141.4 152.5ZM141.4 159.6L145.1 165.2L141.4 170.8L137.7 165.2ZM103.7 183.1L107.4 188.7L103.7 194.3L100 188.7ZM156.7 130.5L160.4 136.1L156.7 141.7L153 136.1ZM114.6 179.1L118.3 184.7L114.6 190.3L110.9 184.7ZM181.7 105.3L185.4 110.9L181.7 116.5L178 110.9ZM83.1 193.8L86.8 199.4L83.1 205L79.4 199.4ZM103.7 183.7L107.4 189.3L103.7 194.9L100 189.3ZM140.5 162L144.2 167.6L140.5 173.2L136.8 167.6ZM176.7 118.9L180.4 124.5L176.7 130.1L173 124.5ZM121 168.9L124.7 174.5L121 180.1L117.3 174.5ZM158.9 128L162.6 133.6L158.9 139.2L155.2 133.6ZM110.1 177L113.8 182.6L110.1 188.2L106.4 182.6ZM218.8 74.1L222.5 79.7L218.8 85.3L215.1 79.7ZM128.3 161.3L132 166.9L128.3 172.5L124.6 166.9ZM206.6 85.7L210.3 91.3L206.6 96.9L202.9 91.3ZM186.1 102.3L189.8 107.9L186.1 113.5L182.4 107.9ZM239.2 48.5L242.9 54.1L239.2 59.7L235.5 54.1ZM228.2 59.8L231.9 65.4L228.2 71L224.5 65.4ZM121.8 163.4L125.5 169L121.8 174.6L118.1 169ZM172.6 113.5L176.3 119.1L172.6 124.7L168.9 119.1ZM221.7 70.1L225.4 75.7L221.7 81.3L218 75.7ZM182.2 104.5L185.9 110.1L182.2 115.7L178.5 110.1ZM119.4 169L123.1 174.6L119.4 180.2L115.7 174.6ZM214.3 77.8L218 83.4L214.3 89L210.6 83.4ZM163.4 126.9L167.1 132.5L163.4 138.1L159.7 132.5ZM219.9 72.6L223.6 78.2L219.9 83.8L216.2 78.2ZM129.8 161.2L133.5 166.8L129.8 172.4L126.1 166.8ZM81.8 193.9L85.5 199.5L81.8 205.1L78.1 199.5ZM184.6 104.3L188.3 109.9L184.6 115.5L180.9 109.9ZM205.8 86.7L209.5 92.3L205.8 97.9L202.1 92.3ZM194.5 93.1L198.2 98.7L194.5 104.3L190.8 98.7ZM194.5 95.1L198.2 100.7L194.5 106.3L190.8 100.7ZM202.9 89.3L206.6 94.9L202.9 100.5L199.2 94.9ZM123.6 160.6L127.3 166.2L123.6 171.8L119.9 166.2ZM210 84.5L213.7 90.1L210 95.7L206.3 90.1ZM115.3 175.6L119 181.2L115.3 186.8L111.6 181.2ZM195 91.2L198.7 96.8L195 102.4L191.3 96.8ZM106.9 178.8L110.6 184.4L106.9 190L103.2 184.4ZM173.2 103.6L176.9 109.2L173.2 114.8L169.5 109.2ZM224.4 66.6L228.1 72.2L224.4 77.8L220.7 72.2ZM99 191.5L102.7 197.1L99 202.7L95.3 197.1ZM143 155.8L146.7 161.4L143 167L139.3 161.4ZM92 191.7L95.7 197.3L92 202.9L88.3 197.3ZM175.8 106.4L179.5 112L175.8 117.6L172.1 112ZM174.5 117.7L178.2 123.3L174.5 128.9L170.8 123.3ZM127.5 158.6L131.2 164.2L127.5 169.8L123.8 164.2ZM220.7 72.1L224.4 77.7L220.7 83.3L217 77.7ZM190.5 94.3L194.2 99.9L190.5 105.5L186.8 99.9ZM154.6 138.6L158.3 144.2L154.6 149.8L150.9 144.2ZM172.6 124.6L176.3 130.2L172.6 135.8L168.9 130.2Z" fill="#a0148c" fill-opacity="0.5"/>
<path d="M144.3 150.4L149.5 159.8L139.2 159.8ZM83.9 195.7L89 205.2L78.8 205.2ZM98.1 195.3L103.3 204.8L93 204.8ZM230 60.2L235.1 69.6L224.8 69.6ZM119.8 169.6L124.9 179L114.7 179ZM206.5 88.2L211.6 97.6L201.3 97.6ZM137.1 164.7L142.2 174.1L132 174.1ZM212.3 82L217.5 91.4L207.2 91.4ZM94.3 182.9L99.4 192.3L89.2 192.3ZM170 123.4L175.2 132.8L164.9 132.8ZM180.8 120.1L185.9 129.6L175.7 129.6ZM111.1 182.3L116.2 191.7L105.9 191.7ZM136.4 163.6L141.5 173.1L131.2 173.1ZM210.5 82.8L215.7 92.2L205.4 92.2ZM224 67.6L229.1 77.1L218.9 77.1ZM231.2 59.4L236.3 68.8L226.1 68.8ZM216.7 76.4L221.8 85.9L211.6 85.9ZM168 136.9L173.1 146.3L162.9 146.3ZM146.2 164.2L151.4 173.7L141.1 173.7ZM240.4 47.2L245.5 56.6L235.2 56.6ZM176.7 124.5L181.9 133.9L171.6 133.9ZM130.8 173.8L136 183.3L125.7 183.3ZM122.4 175.8L127.6 185.3L117.3 185.3ZM108.2 186.4L113.3 195.8L103.1 195.8ZM99.6 196L104.7 205.5L94.4 205.5ZM167.1 133.6L172.2 143L161.9 143ZM98.7 194.9L103.9 204.3L93.6 204.3ZM168.6 127L173.7 136.5L163.4 136.5ZM214.7 78.7L219.8 88.2L209.6 88.2ZM105.6 191.1L110.7 200.5L100.5 200.5ZM176.8 122.1L181.9 131.5L171.6 131.5ZM239.1 47L244.3 56.5L234 56.5ZM191.1 100.6L196.2 110L185.9 110ZM180.6 121.5L185.7 131L175.4 131ZM167.5 127.6L172.6 137.1L162.3 137.1ZM234.8 55.9L240 65.3L229.7 65.3ZM127.2 173.1L132.4 182.6L122.1 182.6ZM167.7 131.3L172.8 140.8L162.6 140.8ZM119.8 176.2L124.9 185.7L114.6 185.7ZM123.7 173.4L128.9 182.8L118.6 182.8ZM187.1 108.6L192.2 118L182 118ZM212 82.2L217.2 91.7L206.9 91.7ZM220.8 72.7L225.9 82.2L215.6 82.2ZM186.4 100.7L191.5 110.2L181.2 110.2ZM200.9 96.4L206 105.8L195.8 105.8ZM135.1 168.1L140.2 177.5L129.9 177.5ZM107.4 182.8L112.5 192.3L102.2 192.3ZM134.3 176.5L139.4 185.9L129.2 185.9ZM198.6 98.2L203.7 107.7L193.5 107.7ZM184.2 111.1L189.4 120.6L179.1 120.6ZM89.5 199.8L94.6 209.2L84.4 209.2ZM161.2 142.2L166.4 151.7L156.1 151.7ZM160.5 155.8L165.6 165.2L155.4 165.2ZM211 82.9L216.1 92.4L205.9 92.4ZM223 69.2L228.1 78.6L217.9 78.6ZM100.4 193.4L105.5 202.8L95.3 202.8ZM206.9 85.4L212 94.9L201.8 94.9ZM87.7 197.2L92.8 206.7L82.5 206.7ZM164.7 139.4L169.9 148.9L159.6 148.9ZM180.2 122.7L185.3 132.1L175.1 132.1ZM198.6 95.9L203.8 105.3L193.5 105.3ZM163.2 141.5L168.3 151L158.1 151ZM114.4 199.5L119.5 209L109.2 209ZM138.3 161.4L143.5 170.9L133.2 170.9ZM121 177.2L126.1 186.7L115.8 186.7ZM97.8 197.7L102.9 207.2L92.6 207.2ZM190.9 101.1L196 110.6L185.7 110.6ZM235.5 54.1L240.6 63.5L230.4 63.5ZM94.5 198.9L99.6 208.4L89.3 208.4ZM128.2 173.6L133.3 183L123 183ZM185 111L190.2 120.4L179.9 120.4ZM157.6 148.1L162.7 157.5L152.5 157.5ZM226.6 63.7L231.7 73.2L221.5 73.2ZM100 193.5L105.1 203L94.8 203ZM88.5 196.1L93.6 205.5L83.3 205.5ZM196.9 100.9L202.1 110.3L191.8 110.3ZM169.8 137.2L174.9 146.6L164.7 146.6ZM239.4 48.7L244.5 58.2L234.2 58.2ZM124.4 173.7L129.5 183.2L119.3 183.2ZM229.2 61.5L234.4 71L224.1 71ZM145.5 161.3L150.6 170.7L140.4 170.7ZM218 73.9L223.2 83.4L212.9 83.4ZM201.3 101.8L206.5 111.2L196.2 111.2ZM103.6 194.5L108.7 204L98.5 204ZM241.6 45.4L246.7 54.9L236.5 54.9ZM170.9 123.1L176.1 132.5L165.8 132.5ZM142.1 164.9L147.2 174.3L136.9 174.3ZM169.4 140.3L174.5 149.7L164.2 149.7ZM94.6 185.3L99.7 194.8L89.5 194.8ZM228.4 61.8L233.5 71.3L223.3 71.3ZM159.4 148.7L164.5 158.1L154.3 158.1ZM209 98L214.1 107.5L203.8 107.5ZM237.2 52.1L242.4 61.5L232.1 61.5ZM163.2 140.7L168.4 150.1L158.1 150.1ZM225.1 66.6L230.2 76.1L219.9 76.1ZM226.4 65.4L231.5 74.8L221.3 74.8ZM163.1 138.5L168.2 148L157.9 148ZM220.7 72.4L225.8 81.8L215.6 81.8ZM231.5 59.3L236.7 68.8L226.4 68.8ZM236.9 53L242 62.5L231.7 62.5ZM158.7 149.2L163.8 158.6L153.6 158.6ZM182.2 112.8L187.3 122.2L177 122.2ZM135.4 168.1L140.5 177.5L130.3 177.5ZM137.1 162.7L142.2 172.1L132 172.1ZM148.8 150.9L154 160.3L143.7 160.3ZM99.7 195.7L104.8 205.2L94.6 205.2ZM92.3 186.3L97.4 195.7L87.2 195.7ZM185.1 111L190.3 120.5L180 120.5ZM170.4 137.6L175.5 147L165.2 147ZM210 101.1L215.1 110.6L204.8 110.6ZM232.1 56.4L237.3 65.8L227 65.8ZM199.4 95.7L204.6 105.1L194.3 105.1ZM89.8 200.2L95 209.6L84.7 209.6ZM123.9 172.9L129 182.3L118.7 182.3ZM237.9 50.8L243 60.3L232.8 60.3ZM237.9 51.3L243 60.7L232.8 60.7ZM241.7 46L246.9 55.5L236.6 55.5ZM104 192.7L109.1 202.1L98.8 202.1ZM236.1 54L241.2 63.4L231 63.4ZM111.6 205.7L116.7 215.1L106.5 215.1ZM109 185.9L114.1 195.3L103.9 195.3ZM230.7 57.7L235.9 67.1L225.6 67.1ZM214.6 79.6L219.7 89L209.5 89ZM167.7 124L172.9 133.4L162.6 133.4ZM181.2 122.3L186.3 131.8L176.1 131.8ZM160.1 149.2L165.2 158.6L155 158.6ZM117.1 178.7L122.3 188.1L112 188.1ZM98.7 192.2L103.9 201.7L93.6 201.7ZM168.7 131.9L173.8 141.4L163.6 141.4ZM214.1 79.2L219.3 88.6L209 88.6ZM118.8 181.4L123.9 190.8L113.6 190.8ZM168.8 135.3L173.9 144.8L163.6 144.8ZM100.8 195.2L105.9 204.7L95.6 204.7ZM184.5 115L189.6 124.4L179.4 124.4ZM178.2 123.2L183.3 132.7L173.1 132.7ZM227.7 63.6L232.9 73.1L222.6 73.1ZM106.6 204.9L111.8 214.3L101.5 214.3ZM180 117.9L185.1 127.4L174.9 127.4ZM203.3 91.3L208.4 100.7L198.2 100.7ZM107.6 185.9L112.7 195.4L102.4 195.4ZM220.6 71.7L225.7 81.1L215.4 81.1ZM153.6 152.1L158.8 161.5L148.5 161.5ZM205.1 94.1L210.3 103.5L200 103.5ZM192.6 97.8L197.7 107.2L187.4 107.2ZM109.9 185.7L115 195.1L104.7 195.1ZM147.9 156.2L153 165.6L142.8 165.6ZM128.7 174.8L133.8 184.2L123.5 184.2ZM135.2 171.7L140.3 181.2L130.1 181.2ZM227 61.7L232.2 71.2L221.9 71.2ZM184.6 113.9L189.7 123.4L179.5 123.4ZM192.4 99.2L197.5 108.6L187.3 108.6ZM192.5 103.8L197.6 113.3L187.3 113.3ZM240.3 47.5L245.4 57L235.2 57ZM158.8 147.9L163.9 157.4L153.7 157.4ZM220.1 71.9L225.2 81.3L214.9 81.3ZM174.7 124.4L179.8 133.8L169.6 133.8ZM180.8 121.2L185.9 130.7L175.7 130.7ZM161.1 146L166.2 155.4L155.9 155.4ZM133.4 171L138.5 180.4L128.3 180.4ZM82.9 198.3L88 207.7L77.8 207.7ZM94.3 198.8L99.4 208.2L89.2 208.2ZM105.8 206.8L110.9 216.2L100.7 216.2ZM110.3 202.5L115.4 211.9L105.2 211.9ZM204.5 90.4L209.7 99.9L199.4 99.9ZM169.2 136.6L174.3 146.1L164 146.1ZM99.1 196.6L104.2 206.1L93.9 206.1ZM214.9 76.7L220 86.2L209.8 86.2ZM185.1 113.6L190.2 123.1L180 123.1ZM231.1 57.9L236.3 67.4L226 67.4ZM110.4 182.3L115.5 191.7L105.3 191.7ZM150.8 153L155.9 162.5L145.6 162.5ZM179.1 121.8L184.2 131.3L173.9 131.3ZM146.7 148.8L151.8 158.2L141.6 158.2ZM97.2 196.7L102.3 206.1L92.1 206.1ZM191.7 101.6L196.9 111.1L186.6 111.1ZM188.6 106.1L193.7 115.5L183.4 115.5ZM174.7 122.1L179.8 131.6L169.6 131.6ZM163.5 145.4L168.6 154.8L158.3 154.8ZM154.4 150.8L159.6 160.2L149.3 160.2ZM156.4 152.8L161.5 162.3L151.2 162.3ZM171.8 125.5L176.9 134.9L166.7 134.9ZM186.1 104L191.3 113.4L181 113.4ZM158.6 149.9L163.7 159.4L153.5 159.4ZM115.8 180.7L121 190.1L110.7 190.1ZM116.3 177.3L121.5 186.7L111.2 186.7ZM229.5 62.2L234.7 71.6L224.4 71.6ZM191 102.1L196.1 111.6L185.8 111.6ZM120.9 171.8L126.1 181.2L115.8 181.2ZM241.9 45.3L247 54.7L236.7 54.7ZM166.8 129L171.9 138.5L161.7 138.5ZM92.5 196.9L97.6 206.4L87.3 206.4ZM187.7 109.3L192.8 118.7L182.6 118.7ZM226.5 64.9L231.6 74.3L221.4 74.3ZM198.9 95.3L204.1 104.7L193.8 104.7ZM178.1 120.6L183.2 130L172.9 130ZM219.4 74.4L224.6 83.8L214.3 83.8ZM240.4 47.9L245.6 57.4L235.3 57.4ZM219.8 70.9L224.9 80.3L214.6 80.3ZM168.3 132.2L173.5 141.7L163.2 141.7ZM187.6 104L192.7 113.5L182.4 113.5ZM96.4 200.2L101.5 209.6L91.2 209.6ZM89.5 183.8L94.6 193.2L84.4 193.2ZM189.1 107.8L194.2 117.3L184 117.3ZM164.1 137.2L169.2 146.6L159 146.6ZM88.8 190L93.9 199.5L83.6 199.5ZM135.7 165.7L140.9 175.1L130.6 175.1ZM128.2 172.2L133.4 181.7L123.1 181.7ZM203.6 89L208.7 98.4L198.4 98.4ZM114.4 181.5L119.5 191L109.3 191ZM195.7 101.1L200.8 110.5L190.6 110.5ZM244 43.9L249.1 53.4L238.9 53.4ZM211.7 81.4L216.9 90.9L206.6 90.9ZM172.1 123.1L177.2 132.6L167 132.6ZM158.6 143.3L163.8 152.7L153.5 152.7ZM167.3 124.9L172.5 134.4L162.2 134.4ZM109.9 179.7L115 189.2L104.7 189.2ZM146.7 163.6L151.9 173.1L141.6 173.1ZM144.1 163.8L149.3 173.2L139 173.2ZM204.1 95.4L209.2 104.9L198.9 104.9ZM134.3 171.6L139.4 181.1L129.1 181.1ZM199.3 101.2L204.5 110.6L194.2 110.6ZM140.7 163.5L145.8 172.9L135.5 172.9ZM227.4 62.6L232.5 72.1L222.2 72.1ZM228.2 62L233.3 71.4L223 71.4ZM190.4 102.9L195.5 112.4L185.3 112.4ZM130.7 174.1L135.8 183.6L125.5 183.6ZM206.8 86.3L211.9 95.7L201.7 95.7ZM188.1 106.9L193.2 116.4L183 116.4ZM172.1 124.9L177.3 134.3L167 134.3ZM151 150.8L156.1 160.3L145.9 160.3ZM110.5 183.1L115.7 192.5L105.4 192.5ZM220.6 70.4L225.7 79.8L215.5 79.8ZM194.5 99.4L199.7 108.9L189.4 108.9ZM83.7 199.9L88.8 209.3L78.6 209.3ZM134.5 161.5L139.7 171L129.4 171ZM189.1 102.1L194.2 111.5L184 111.5ZM217.9 76.7L223 86.1L212.8 86.1ZM230.1 60L235.2 69.5L225 69.5ZM109.6 183.1L114.7 192.5L104.4 192.5ZM97.1 197.2L102.2 206.7L92 206.7ZM131 172.8L136.1 182.2L125.9 182.2ZM85.4 196.7L90.5 206.2L80.3 206.2ZM162.1 147.2L167.2 156.6L156.9 156.6ZM186.9 114L192 123.5L181.8 123.5ZM185.3 113.6L190.4 123L180.2 123ZM208.6 85.2L213.7 94.6L203.5 94.6ZM144.4 162.1L149.5 171.6L139.2 171.6ZM145.4 154.5L150.6 163.9L140.3 163.9ZM241.9 46.7L247.1 56.1L236.8 56.1ZM144.9 161.3L150.1 170.8L139.8 170.8ZM210.1 84.3L215.2 93.7L204.9 93.7ZM124.8 172.3L129.9 181.8L119.7 181.8ZM179.9 115.9L185 125.3L174.8 125.3ZM146.2 158.9L151.4 168.4L141.1 168.4ZM186.1 99.8L191.2 109.3L181 109.3ZM103.5 189.8L108.7 199.2L98.4 199.2ZM188.2 101.3L193.3 110.7L183.1 110.7ZM240.7 48.2L245.9 57.6L235.6 57.6ZM221.6 71.2L226.7 80.7L216.5 80.7ZM119.8 175.9L124.9 185.4L114.7 185.4ZM86.9 198.7L92 208.1L81.8 208.1ZM110.1 181.4L115.3 190.9L105 190.9ZM81.8 195.9L86.9 205.3L76.7 205.3ZM195.4 98.7L200.5 108.2L190.3 108.2ZM168.5 124.2L173.7 133.6L163.4 133.6ZM99.7 194.5L104.9 203.9L94.6 203.9ZM259.2 49.8L264.3 59.3L254.1 59.3ZM97 196.8L102.1 206.2L91.8 206.2ZM170.6 124.3L175.7 133.8L165.5 133.8ZM225.4 67.7L230.5 77.1L220.3 77.1ZM193.3 99.7L198.5 109.1L188.2 109.1ZM186 109.2L191.2 118.6L180.9 118.6ZM138.3 161L143.4 170.5L133.1 170.5ZM118 178.3L123.1 187.8L112.9 187.8ZM209.1 84.2L214.2 93.6L204 93.6ZM92.5 199.6L97.6 209.1L87.4 209.1ZM88.1 199.1L93.2 208.6L82.9 208.6ZM211.9 84.4L217 93.8L206.8 93.8ZM230.3 59.1L235.5 68.5L225.2 68.5ZM203.4 98.2L208.5 107.6L198.3 107.6Z" fill="#a5640a" fill-opacity="0.5"/>
<path d="M138.6 164.3L143.7 173.7L133.4 173.7ZM106.8 202.4L111.9 211.8L101.7 211.8ZM186.6 103.2L191.7 112.6L181.5 112.6ZM114.7 183.3L119.8 192.7L109.5 192.7ZM147 157L152.1 166.4L141.9 166.4ZM230.1 58.1L235.3 67.5L225 67.5ZM195.6 99.5L200.8 109L190.5 109ZM111.5 187L116.6 196.4L106.3 196.4ZM129.8 172.4L134.9 181.8L124.7 181.8ZM216.7 76.1L221.8 85.6L211.6 85.6ZM148 164.4L153.1 173.8L142.8 173.8ZM160.2 140.1L165.3 149.6L155.1 149.6ZM109.2 202.2L114.3 211.7L104 211.7ZM94.8 196.5L99.9 205.9L89.7 205.9ZM232.7 56.4L237.8 65.8L227.5 65.8ZM235.8 54.9L240.9 64.3L230.7 64.3ZM100.5 196.4L105.6 205.9L95.3 205.9ZM170.1 124.8L175.2 134.3L164.9 134.3ZM222.5 69.9L227.6 79.4L217.4 79.4ZM213.2 80.9L218.3 90.3L208 90.3ZM229.5 60.2L234.6 69.6L224.4 69.6ZM145.5 150L150.6 159.5L140.3 159.5ZM104.5 189.6L109.7 199.1L99.4 199.1ZM178.3 122.2L183.4 131.7L173.1 131.7ZM186.4 107L191.6 116.5L181.3 116.5ZM104.6 189.4L109.7 198.9L99.5 198.9ZM89.1 198.1L94.3 207.5L84 207.5ZM107.8 189.4L113 198.9L102.7 198.9ZM244 44L249.1 53.4L238.9 53.4ZM136.8 163.7L141.9 173.1L131.7 173.1ZM106.9 190.6L112.1 200L101.8 200ZM162.3 143.6L167.4 153L157.1 153ZM230.2 58.9L235.3 68.3L225 68.3ZM112.4 184L117.5 193.4L107.2 193.4ZM226.2 66.1L231.4 75.6L221.1 75.6ZM189.6 100.5L194.7 110L184.4 110ZM168.3 128.8L173.5 138.3L163.2 138.3ZM219.1 71.8L224.2 81.2L214 81.2ZM188.8 104.2L193.9 113.7L183.6 113.7ZM234.8 56.3L239.9 65.8L229.6 65.8ZM154.6 153.2L159.7 162.7L149.4 162.7ZM240.5 46.4L245.7 55.9L235.4 55.9ZM93.7 198.6L98.8 208.1L88.5 208.1ZM112.4 180.4L117.5 189.9L107.3 189.9ZM93 197.5L98.1 206.9L87.9 206.9ZM234.5 54.9L239.6 64.4L229.4 64.4ZM118 177.8L123.2 187.2L112.9 187.2ZM101 192L106.2 201.4L95.9 201.4ZM218.8 75L223.9 84.4L213.6 84.4ZM168.5 128.4L173.6 137.8L163.4 137.8ZM200.8 96.5L205.9 105.9L195.6 105.9ZM212.5 81.1L217.6 90.6L207.3 90.6ZM187.3 107.2L192.5 116.7L182.2 116.7ZM182.4 114.5L187.5 123.9L177.3 123.9ZM125 173.3L130.1 182.8L119.9 182.8ZM89.1 198.2L94.2 207.7L83.9 207.7ZM136.5 164.2L141.6 173.7L131.4 173.7ZM146.3 160.3L151.5 169.7L141.2 169.7ZM112.1 180.3L117.2 189.7L106.9 189.7ZM206.9 87.2L212.1 96.7L201.8 96.7ZM117.4 180L122.5 189.4L112.3 189.4ZM211.6 82.7L216.7 92.2L206.5 92.2ZM135.4 162.3L140.5 171.7L130.2 171.7ZM205.1 97.8L210.2 107.2L199.9 107.2ZM180 116.4L185.1 125.9L174.9 125.9ZM219 72.9L224.2 82.3L213.9 82.3ZM135.1 168.2L140.2 177.6L130 177.6ZM202.6 90.6L207.7 100L197.5 100ZM165.9 131.3L171 140.8L160.8 140.8ZM215.2 77.2L220.4 86.7L210.1 86.7ZM240 48.9L245.1 58.4L234.8 58.4ZM94.9 197.2L100 206.6L89.7 206.6ZM160.2 140.8L165.3 150.2L155.1 150.2ZM198.1 101.1L203.3 110.6L193 110.6ZM103.7 189.1L108.8 198.5L98.6 198.5ZM189.4 100.6L194.5 110.1L184.3 110.1ZM209.2 97.1L214.3 106.5L204.1 106.5ZM139.3 162.6L144.4 172.1L134.2 172.1ZM146.4 158.4L151.5 167.8L141.3 167.8ZM132.6 163.3L137.7 172.7L127.4 172.7ZM162.6 140L167.7 149.5L157.4 149.5ZM225.7 66.6L230.8 76L220.6 76ZM177.8 118L183 127.5L172.7 127.5ZM140.4 163.1L145.6 172.6L135.3 172.6ZM145 161.6L150.1 171L139.9 171ZM238.8 49.5L243.9 59L233.7 59ZM94 184L99.1 193.5L88.9 193.5ZM88.4 197.7L93.6 207.2L83.3 207.2ZM160 149.7L165.2 159.1L154.9 159.1ZM186.5 112.1L191.6 121.5L181.3 121.5ZM227.4 63.3L232.5 72.8L222.3 72.8ZM229.8 59.1L234.9 68.5L224.7 68.5ZM133.6 170.9L138.7 180.3L128.5 180.3ZM89 195.7L94.1 205.1L83.9 205.1ZM209.9 83.5L215 93L204.8 93ZM178.2 120.7L183.3 130.1L173.1 130.1ZM176.6 124L181.7 133.4L171.4 133.4ZM94.9 186.4L100 195.9L89.8 195.9ZM229.3 60.9L234.4 70.4L224.1 70.4ZM209.5 84.8L214.6 94.3L204.3 94.3ZM203.8 94.4L209 103.9L198.7 103.9ZM97.2 194.2L102.3 203.7L92.1 203.7ZM109 182L114.1 191.5L103.9 191.5ZM94.3 182.5L99.4 192L89.1 192ZM233.1 56.4L238.2 65.9L227.9 65.9ZM106.8 188.2L112 197.7L101.7 197.7ZM215.7 79L220.8 88.4L210.5 88.4ZM157.4 149.8L162.6 159.2L152.3 159.2ZM243.8 44.4L248.9 53.8L238.6 53.8ZM142.4 163.8L147.6 173.2L137.3 173.2ZM103.1 186.8L108.2 196.3L98 196.3ZM227.2 64.2L232.3 73.6L222 73.6ZM106.8 181L112 190.5L101.7 190.5ZM181.6 118.6L186.7 128L176.5 128ZM169.9 136.3L175 145.7L164.7 145.7ZM126.6 174.6L131.7 184L121.4 184ZM238.4 51.1L243.5 60.6L233.2 60.6ZM121.7 178.1L126.8 187.5L116.5 187.5ZM259 49.2L264.1 58.7L253.8 58.7ZM134.8 162.7L139.9 172.2L129.6 172.2ZM231.8 56.5L236.9 65.9L226.6 65.9ZM169.6 127.8L174.7 137.2L164.4 137.2ZM82.4 197L87.5 206.4L77.3 206.4ZM86.2 196.4L91.4 205.9L81.1 205.9ZM185.6 105.2L190.7 114.7L180.4 114.7ZM207.6 85.9L212.8 95.3L202.5 95.3ZM233.4 56.8L238.5 66.3L228.3 66.3ZM122.3 172.6L127.5 182L117.2 182ZM174.3 124.9L179.4 134.4L169.2 134.4ZM108.3 186.7L113.4 196.2L103.2 196.2ZM204.8 95.8L210 105.3L199.7 105.3ZM203.8 89.6L208.9 99.1L198.6 99.1ZM108.7 186.6L113.8 196.1L103.5 196.1ZM186.9 107.3L192 116.7L181.8 116.7ZM236.8 55.4L241.9 64.8L231.6 64.8ZM179.3 119L184.4 128.4L174.2 128.4ZM215.1 78.1L220.3 87.5L210 87.5ZM116.5 179L121.7 188.5L111.4 188.5ZM221.9 68.7L227 78.1L216.8 78.1ZM164.4 126.9L169.5 136.4L159.3 136.4ZM143.9 157L149 166.4L138.7 166.4ZM134.4 172.8L139.6 182.2L129.3 182.2ZM225.6 66.2L230.7 75.7L220.4 75.7ZM221.3 70.1L226.4 79.6L216.2 79.6ZM161 141.1L166.2 150.5L155.9 150.5ZM178.1 124.2L183.3 133.6L173 133.6ZM103.4 193.3L108.5 202.8L98.3 202.8ZM237.5 51.2L242.7 60.6L232.4 60.6ZM168.6 125.6L173.7 135L163.4 135ZM181.9 116.8L187 126.3L176.7 126.3ZM145.9 146.6L151.1 156L140.8 156ZM148.4 149.3L153.5 158.8L143.3 158.8ZM200.1 96.6L205.2 106L194.9 106ZM176.6 125.5L181.7 135L171.5 135ZM223.8 67.5L228.9 77L218.7 77ZM145.6 149.3L150.7 158.8L140.5 158.8ZM113.2 181.7L118.4 191.1L108.1 191.1ZM120.2 174.9L125.3 184.3L115 184.3ZM184.3 116.8L189.5 126.2L179.2 126.2ZM192.9 102.1L198.1 111.5L187.8 111.5ZM83.7 198.2L88.8 207.6L78.5 207.6ZM237.1 53.8L242.2 63.2L231.9 63.2ZM145.3 150.6L150.4 160.1L140.1 160.1ZM225.6 66.5L230.8 75.9L220.5 75.9ZM218.6 75.1L223.7 84.6L213.4 84.6ZM238.1 52.5L243.2 62L233 62ZM238 49.2L243.2 58.7L232.9 58.7ZM102 194.1L107.1 203.6L96.8 203.6ZM215.3 77.1L220.4 86.5L210.2 86.5ZM160 143.6L165.2 153.1L154.9 153.1ZM100.2 193L105.4 202.4L95.1 202.4ZM109.6 184L114.7 193.5L104.5 193.5ZM181.7 116.4L186.8 125.9L176.5 125.9ZM166.8 130L171.9 139.5L161.6 139.5ZM151 150.4L156.2 159.9L145.9 159.9ZM243.1 45.4L248.2 54.9L237.9 54.9ZM233.3 55.7L238.4 65.2L228.1 65.2ZM166.9 135.5L172 144.9L161.8 144.9ZM106.9 186.2L112 195.7L101.7 195.7ZM187.1 105.2L192.2 114.7L182 114.7ZM148 148.5L153.1 157.9L142.9 157.9ZM222 69.9L227.1 79.4L216.8 79.4ZM143.1 164.5L148.2 173.9L138 173.9ZM205.1 87.8L210.2 97.3L200 97.3ZM187.2 110.8L192.3 120.3L182.1 120.3ZM218.6 73.4L223.8 82.9L213.5 82.9ZM181 116.4L186.1 125.8L175.9 125.8ZM179.6 118.3L184.7 127.8L174.4 127.8ZM205.5 89.2L210.6 98.7L200.3 98.7ZM209.2 85.5L214.3 94.9L204 94.9ZM187.1 108.4L192.3 117.9L182 117.9ZM208.7 96.2L213.8 105.6L203.6 105.6ZM144.8 156.1L149.9 165.6L139.6 165.6ZM221.9 68.9L227 78.3L216.8 78.3ZM103.4 193.8L108.5 203.3L98.2 203.3ZM138.5 162.9L143.6 172.3L133.4 172.3ZM182.5 113.7L187.6 123.2L177.3 123.2ZM182.9 113.1L188 122.5L177.7 122.5ZM125.5 174.7L130.7 184.2L120.4 184.2ZM238.7 48.7L243.9 58.2L233.6 58.2ZM208.9 84.7L214 94.2L203.8 94.2ZM207.2 86.9L212.3 96.3L202.1 96.3ZM231.1 57.6L236.3 67L226 67ZM103.6 192L108.8 201.4L98.5 201.4ZM104.9 189.3L110 198.7L99.8 198.7ZM225.9 63.8L231.1 73.2L220.8 73.2ZM184.6 113.5L189.7 122.9L179.4 122.9ZM172.5 125L177.6 134.4L167.4 134.4ZM166.4 139.1L171.6 148.6L161.3 148.6ZM92.4 198.3L97.5 207.8L87.2 207.8ZM109.2 182.4L114.3 191.8L104.1 191.8ZM142.6 164.3L147.7 173.7L137.4 173.7ZM182.1 114.5L187.2 124L176.9 124ZM234.7 54.5L239.8 64L229.6 64ZM102.8 189.2L107.9 198.7L97.7 198.7ZM143.6 153.7L148.8 163.2L138.5 163.2ZM133.6 162.5L138.8 172L128.5 172ZM218 76.1L223.1 85.5L212.9 85.5ZM193.1 100.6L198.2 110.1L187.9 110.1ZM238.2 50.3L243.3 59.8L233 59.8ZM123.5 171.1L128.6 180.5L118.4 180.5ZM213.9 80.6L219.1 90.1L208.8 90.1ZM162 141.3L167.2 150.8L156.9 150.8ZM91.1 185.6L96.2 195.1L86 195.1ZM210.7 83.6L215.8 93L205.6 93ZM212.8 80.6L217.9 90L207.6 90ZM116.7 178.7L121.9 188.1L111.6 188.1ZM237 53.6L242.2 63L231.9 63ZM91.9 197L97 206.4L86.7 206.4ZM186.4 109.1L191.5 118.5L181.3 118.5ZM204.1 96.6L209.2 106L198.9 106ZM109.8 186.3L115 195.8L104.7 195.8ZM162.1 139.5L167.2 149L156.9 149ZM104.4 191.1L109.5 200.6L99.3 200.6ZM205.6 88.8L210.8 98.3L200.5 98.3ZM198.7 100.4L203.9 109.8L193.6 109.8ZM205.3 88.8L210.5 98.3L200.2 98.3ZM158.1 149.3L163.2 158.8L152.9 158.8ZM181.3 116L186.4 125.4L176.1 125.4ZM132 172.4L137.1 181.9L126.9 181.9ZM119 174.3L124.1 183.7L113.9 183.7ZM134 167.6L139.1 177.1L128.9 177.1ZM185 111.5L190.1 120.9L179.8 120.9ZM180.9 115.9L186 125.3L175.8 125.3ZM241.4 46.9L246.5 56.3L236.3 56.3ZM112.6 181.8L117.7 191.3L107.5 191.3ZM82.4 199.2L87.5 208.7L77.3 208.7ZM213.1 79.5L218.3 89L208 89ZM223.7 68.1L228.8 77.6L218.6 77.6ZM127.2 174.7L132.3 184.1L122.1 184.1ZM212.3 102.3L217.4 111.7L207.1 111.7ZM189.8 101L194.9 110.5L184.7 110.5ZM196.6 98.9L201.8 108.3L191.5 108.3ZM157.7 153.2L162.8 162.7L152.6 162.7ZM91.3 197.6L96.4 207.1L86.2 207.1ZM105.2 193.8L110.4 203.3L100.1 203.3ZM207 87.8L212.1 97.3L201.9 97.3ZM166 125.8L171.2 135.2L160.9 135.2ZM203.9 90.1L209.1 99.5L198.8 99.5ZM207.7 85.9L212.9 95.3L202.6 95.3ZM169.8 137.7L174.9 147.2L164.7 147.2ZM145.4 149.9L150.5 159.3L140.3 159.3ZM223.3 67.8L228.4 77.3L218.1 77.3ZM170.4 140.4L175.5 149.8L165.2 149.8ZM119.6 178.4L124.7 187.9L114.4 187.9ZM83.9 196.8L89 206.2L78.8 206.2ZM168 131.8L173.1 141.3L162.9 141.3ZM117.8 176.6L122.9 186L112.7 186ZM167.3 131.8L172.5 141.2L162.2 141.2ZM189 99.4L194.1 108.8L183.9 108.8ZM213.3 80L218.4 89.4L208.2 89.4ZM109.2 184.5L114.3 193.9L104.1 193.9ZM121.3 171.4L126.5 180.8L116.2 180.8ZM154.9 151.7L160 161.1L149.8 161.1ZM234.9 54.2L240 63.7L229.8 63.7ZM159.1 142L164.3 151.4L154 151.4ZM187.6 101.9L192.7 111.4L182.5 111.4ZM120.9 175.3L126 184.8L115.8 184.8ZM158.4 152.5L163.5 161.9L153.3 161.9ZM242.2 45.5L247.3 55L237 55Z" fill="#a5640a" fill-opacity="0.5"/>
<path d="M212.5 82.5L217.6 92L207.4 92ZM158.9 151.9L164 161.3L153.8 161.3ZM167.4 140.7L172.6 150.2L162.3 150.2ZM97.2 196.3L102.3 205.8L92.1 205.8ZM140.4 162.9L145.5 172.3L135.2 172.3ZM229.1 59.3L234.3 68.7L224 68.7ZM147.9 148.1L153.1 157.5L142.8 157.5ZM213.4 100.1L218.5 109.6L208.3 109.6ZM132.4 171.8L137.5 181.3L127.3 181.3ZM235.1 55.1L240.2 64.6L230 64.6ZM136 171.2L141.1 180.7L130.8 180.7ZM239.5 49.8L244.6 59.3L234.4 59.3ZM136.7 170.5L141.8 180L131.6 180ZM206.6 88.1L211.8 97.6L201.5 97.6ZM192.5 102L197.6 111.5L187.3 111.5ZM208.7 98.4L213.8 107.9L203.6 107.9ZM113.9 178.6L119 188.1L108.8 188.1ZM204.7 89.4L209.9 98.8L199.6 98.8ZM168.8 124.2L174 133.7L163.7 133.7ZM220.3 71.2L225.4 80.6L215.2 80.6ZM166 140.5L171.1 150L160.8 150ZM171.6 139.6L176.7 149.1L166.5 149.1ZM203 90.4L208.1 99.9L197.9 99.9ZM231.9 57.6L237 67L226.7 67ZM211.2 96.2L216.3 105.7L206.1 105.7ZM133.5 165.1L138.7 174.6L128.4 174.6ZM212.3 81L217.4 90.5L207.1 90.5ZM234.6 55.1L239.7 64.6L229.5 64.6ZM209.9 97.7L215.1 107.1L204.8 107.1ZM161.5 149L166.6 158.4L156.4 158.4ZM235.5 53.7L240.7 63.1L230.4 63.1ZM236.7 52.6L241.8 62.1L231.5 62.1ZM231.9 57.8L237.1 67.3L226.8 67.3ZM160.1 147.6L165.2 157L154.9 157ZM133.5 175.1L138.6 184.5L128.3 184.5ZM233.1 56.8L238.2 66.3L227.9 66.3ZM202.2 90.2L207.4 99.7L197.1 99.7ZM222.2 69.7L227.3 79.2L217.1 79.2ZM213.7 81.4L218.8 90.8L208.5 90.8ZM214.2 78.4L219.3 87.8L209.1 87.8ZM229.1 60.2L234.2 69.6L224 69.6ZM145.8 161L150.9 170.5L140.6 170.5ZM169.6 124.8L174.7 134.2L164.4 134.2ZM108 184.7L113.1 194.2L102.9 194.2ZM183.6 117L188.7 126.4L178.5 126.4ZM187.4 101.1L192.5 110.5L182.3 110.5ZM156.8 151.5L161.9 161L151.7 161ZM205.5 87.7L210.6 97.1L200.4 97.1ZM147.1 151.4L152.2 160.8L142 160.8ZM195.5 99.7L200.6 109.1L190.4 109.1ZM106.1 188.6L111.2 198L100.9 198ZM226.2 65.5L231.3 75L221 75ZM179.5 121.6L184.7 131L174.4 131ZM202.6 95.9L207.8 105.3L197.5 105.3ZM179.1 118.5L184.2 127.9L174 127.9ZM184 110L189.1 119.5L178.8 119.5ZM166.8 141.6L171.9 151L161.7 151ZM111.1 201.9L116.2 211.4L105.9 211.4ZM216.1 77.2L221.2 86.6L210.9 86.6ZM215 79.4L220.1 88.8L209.9 88.8ZM155.9 152.5L161.1 161.9L150.8 161.9ZM226.7 65L231.8 74.4L221.5 74.4ZM132.7 176L137.8 185.5L127.5 185.5ZM218 75.6L223.1 85.1L212.9 85.1ZM101.1 193.7L106.2 203.2L96 203.2ZM225.6 66.6L230.8 76L220.5 76ZM209.9 85.3L215 94.8L204.7 94.8ZM202.3 97.6L207.4 107L197.2 107ZM217.2 76.9L222.4 86.4L212.1 86.4ZM170.1 124.7L175.2 134.2L165 134.2ZM132.1 175.7L137.2 185.2L127 185.2ZM156.5 150.8L161.6 160.2L151.4 160.2ZM227.2 62.9L232.3 72.3L222 72.3ZM160.3 143.2L165.5 152.7L155.2 152.7ZM112.6 182L117.7 191.4L107.4 191.4ZM238.4 47.8L243.5 57.2L233.3 57.2ZM214.4 79.1L219.5 88.6L209.3 88.6ZM115.4 179.8L120.5 189.2L110.3 189.2ZM228.3 62.8L233.5 72.2L223.2 72.2ZM227.7 62.6L232.9 72L222.6 72ZM119.2 184.5L124.3 194L114.1 194ZM224.2 67.6L229.4 77.1L219.1 77.1ZM120.4 178L125.6 187.5L115.3 187.5ZM237.2 52.5L242.3 62L232 62ZM135.3 171.9L140.4 181.4L130.2 181.4ZM207.3 86.3L212.4 95.7L202.2 95.7ZM148.9 150.6L154 160L143.7 160ZM212.5 101.2L217.7 110.6L207.4 110.6ZM131.9 174.1L137 183.6L126.7 183.6ZM151 150.2L156.1 159.7L145.9 159.7ZM233.7 55.9L238.8 65.4L228.6 65.4ZM90.2 199.3L95.3 208.7L85 208.7ZM205.4 86.4L210.6 95.9L200.3 95.9ZM175.2 122.6L180.3 132L170.1 132ZM108.1 203.8L113.3 213.3L103 213.3ZM243.2 45.6L248.4 55L238.1 55ZM105.6 186.4L110.7 195.9L100.5 195.9ZM96.1 197.9L101.2 207.3L91 207.3ZM119.3 178.1L124.4 187.5L114.1 187.5ZM85.6 200.1L90.7 209.5L80.4 209.5ZM125.2 173.7L130.4 183.1L120.1 183.1ZM134.7 170.7L139.8 180.2L129.5 180.2ZM92.6 186.9L97.7 196.4L87.4 196.4ZM125.4 172.7L130.5 182.1L120.2 182.1ZM106.8 205.8L111.9 215.2L101.7 215.2ZM162.9 140.5L168 150L157.8 150ZM116.2 182.4L121.3 191.8L111.1 191.8ZM157.1 143.6L162.2 153L152 153ZM181.3 125.4L186.4 134.8L176.1 134.8ZM203.9 98.1L209 107.6L198.8 107.6ZM86.7 196.4L91.8 205.8L81.6 205.8ZM168.3 128.3L173.4 137.7L163.1 137.7ZM118.5 180.1L123.6 189.5L113.3 189.5ZM223 69.8L228.2 79.3L217.9 79.3ZM143.6 146.7L148.8 156.1L138.5 156.1ZM242.8 44.3L247.9 53.8L237.7 53.8ZM146 163.8L151.1 173.2L140.8 173.2ZM205.5 89.8L210.6 99.3L200.3 99.3ZM144.3 161.1L149.5 170.5L139.2 170.5ZM184.3 113.3L189.4 122.8L179.2 122.8ZM188 103.1L193.1 112.5L182.8 112.5ZM238.2 49.7L243.3 59.1L233.1 59.1ZM95.2 184.8L100.3 194.2L90.1 194.2ZM166.1 138.3L171.2 147.8L160.9 147.8ZM119.5 180.3L124.6 189.8L114.3 189.8ZM199.1 99.3L204.2 108.8L193.9 108.8ZM228.3 61.8L233.4 71.3L223.1 71.3ZM156.2 151.5L161.4 160.9L151.1 160.9ZM163.9 141.3L169 150.7L158.8 150.7ZM157 151.6L162.1 161L151.9 161ZM238.7 49.3L243.8 58.7L233.6 58.7ZM134.1 166.1L139.2 175.5L128.9 175.5ZM113.8 182.2L119 191.7L108.7 191.7ZM211.2 81.8L216.3 91.2L206.1 91.2ZM242.6 44.8L247.7 54.2L237.5 54.2ZM144.9 157.9L150 167.3L139.8 167.3ZM101.5 191.9L106.6 201.3L96.4 201.3ZM144.2 153.4L149.4 162.8L139.1 162.8ZM178.9 119.3L184 128.8L173.7 128.8ZM176 124.1L181.1 133.6L170.9 133.6ZM180.7 113.6L185.9 123L175.6 123ZM219.1 72.9L224.2 82.3L214 82.3ZM210.3 95.5L215.4 104.9L205.2 104.9ZM118.9 174.9L124 184.3L113.7 184.3ZM94 196.3L99.1 205.7L88.8 205.7ZM207.2 84.5L212.4 94L202.1 94ZM153.5 151.6L158.6 161L148.3 161ZM105.6 207.4L110.7 216.8L100.5 216.8ZM216.9 74.4L222 83.8L211.8 83.8ZM186.1 111.6L191.2 121L180.9 121ZM169.7 136.3L174.9 145.8L164.6 145.8ZM133.1 172.1L138.3 181.5L128 181.5ZM132.6 162.9L137.8 172.4L127.5 172.4ZM168.9 136.1L174.1 145.5L163.8 145.5ZM259.1 47L264.3 56.4L254 56.4ZM160.1 143L165.2 152.4L154.9 152.4ZM187.4 101.1L192.5 110.6L182.2 110.6ZM180.7 117.6L185.9 127L175.6 127ZM223.2 68.2L228.3 77.6L218.1 77.6ZM218.9 74.1L224 83.5L213.8 83.5ZM133.8 168.5L138.9 178L128.6 178ZM215.8 78.3L220.9 87.8L210.6 87.8ZM129.7 174.1L134.8 183.6L124.5 183.6ZM103.6 188.9L108.7 198.4L98.5 198.4ZM164.9 127.2L170.1 136.6L159.8 136.6ZM109.8 200.8L114.9 210.3L104.7 210.3ZM117.3 181.1L122.4 190.5L112.1 190.5ZM122.1 172.5L127.2 181.9L117 181.9ZM159.7 148.3L164.8 157.8L154.6 157.8ZM90.3 182.4L95.4 191.8L85.2 191.8ZM146.2 159.6L151.3 169.1L141.1 169.1ZM115.3 178.1L120.4 187.5L110.2 187.5ZM142.5 164L147.6 173.4L137.4 173.4ZM146.5 156.5L151.6 166L141.3 166ZM166.7 129L171.8 138.5L161.5 138.5ZM210.8 83.6L215.9 93.1L205.7 93.1ZM179.7 115.8L184.8 125.2L174.5 125.2ZM204.7 94.6L209.8 104L199.6 104ZM207.7 97.7L212.8 107.1L202.5 107.1ZM195.3 101.9L200.4 111.4L190.1 111.4ZM203.5 90.8L208.7 100.2L198.4 100.2ZM159.3 153.1L164.4 162.5L154.1 162.5ZM99.9 195.1L105 204.6L94.8 204.6ZM123.6 171.3L128.7 180.8L118.5 180.8ZM219.5 73.6L224.6 83L214.3 83ZM144 162.4L149.1 171.8L138.9 171.8ZM179.9 123.4L185 132.9L174.7 132.9ZM181.9 115.5L187.1 124.9L176.8 124.9ZM220.2 73L225.3 82.4L215 82.4ZM165.9 127.9L171.1 137.3L160.8 137.3ZM137.3 165.4L142.4 174.9L132.2 174.9ZM117.5 187.3L122.6 196.8L112.3 196.8ZM226.1 65.1L231.2 74.5L220.9 74.5ZM89.3 182.8L94.4 192.3L84.2 192.3ZM167.2 138.9L172.4 148.4L162.1 148.4ZM216.1 77L221.2 86.4L211 86.4ZM102.6 194.3L107.8 203.7L97.5 203.7ZM84.1 196L89.2 205.5L79 205.5ZM186.1 104.8L191.3 114.3L181 114.3ZM97.4 197.2L102.5 206.6L92.3 206.6ZM162.5 141L167.6 150.5L157.4 150.5ZM160.9 144L166 153.4L155.7 153.4ZM202.2 96.2L207.3 105.7L197 105.7ZM200 99.3L205.1 108.7L194.9 108.7ZM221.4 71L226.6 80.5L216.3 80.5ZM99.8 198.4L104.9 207.8L94.7 207.8ZM117.9 181.1L123 190.6L112.8 190.6ZM104 190.3L109.2 199.7L98.9 199.7ZM198.1 100.1L203.2 109.6L192.9 109.6ZM100.4 194.9L105.6 204.4L95.3 204.4ZM197.2 99.4L202.3 108.8L192.1 108.8ZM179.1 117L184.3 126.5L174 126.5ZM142.7 161.2L147.8 170.6L137.5 170.6ZM217.5 76.3L222.6 85.8L212.4 85.8ZM241 46.3L246.1 55.8L235.8 55.8ZM113.3 182.6L118.4 192.1L108.1 192.1ZM143.8 152.1L149 161.6L138.7 161.6ZM86.7 200.3L91.9 209.7L81.6 209.7ZM116.1 182.4L121.2 191.9L110.9 191.9ZM144.8 157.3L150 166.8L139.7 166.8ZM132.8 168.9L137.9 178.3L127.7 178.3ZM171.8 125.1L177 134.6L166.7 134.6ZM200.2 97.8L205.3 107.2L195 107.2ZM222.5 68.8L227.6 78.3L217.4 78.3ZM159.9 141.7L165.1 151.2L154.8 151.2ZM89.4 197.8L94.5 207.3L84.2 207.3ZM211 84.4L216.1 93.8L205.8 93.8ZM152.4 149.8L157.5 159.2L147.2 159.2ZM190.1 100.4L195.3 109.9L185 109.9ZM167.9 137.7L173 147.1L162.7 147.1ZM241.4 47.2L246.5 56.7L236.3 56.7ZM202.7 91.6L207.9 101L197.6 101ZM169 139L174.1 148.4L163.9 148.4ZM122 175.9L127.1 185.3L116.8 185.3ZM188.7 102.9L193.9 112.4L183.6 112.4ZM85.4 198.5L90.5 208L80.3 208ZM97.7 181.3L102.8 190.8L92.6 190.8ZM169.1 130L174.3 139.4L164 139.4ZM93.5 196.3L98.7 205.7L88.4 205.7ZM152.1 150.5L157.3 160L147 160ZM201.2 96.5L206.4 106L196.1 106ZM176.9 123.4L182 132.9L171.7 132.9ZM111.3 180.1L116.4 189.5L106.2 189.5ZM237.7 53.1L242.8 62.6L232.6 62.6ZM166.6 139.9L171.8 149.3L161.5 149.3ZM158.4 141.5L163.6 151L153.3 151ZM187.2 105.7L192.3 115.2L182 115.2ZM187.7 110.4L192.8 119.9L182.6 119.9ZM145 151.2L150.1 160.6L139.9 160.6ZM140.9 163.1L146 172.5L135.8 172.5ZM190.6 99.6L195.8 109L185.5 109ZM144 153L149.1 162.5L138.8 162.5ZM120.7 173.8L125.9 183.3L115.6 183.3ZM186.5 110.6L191.6 120.1L181.4 120.1ZM167.2 134.4L172.3 143.9L162.1 143.9ZM166.8 138.8L171.9 148.3L161.7 148.3ZM145.3 159.1L150.5 168.6L140.2 168.6ZM115.6 180.1L120.7 189.5L110.4 189.5ZM224.3 66.8L229.4 76.2L219.1 76.2ZM146.3 150.6L151.5 160L141.2 160ZM179 119.4L184.2 128.9L173.9 128.9ZM120.5 172.2L125.6 181.7L115.3 181.7ZM145.2 161L150.3 170.5L140.1 170.5ZM197.9 98.8L203 108.2L192.8 108.2ZM244.1 44.2L249.2 53.6L238.9 53.6ZM201.1 95.2L206.2 104.7L196 104.7ZM185.8 111L190.9 120.4L180.7 120.4ZM166.8 128.5L171.9 138L161.6 138ZM198.1 97L203.3 106.5L193 106.5ZM102.9 191L108.1 200.4L97.8 200.4ZM206.4 96.2L211.5 105.6L201.2 105.6ZM107 186.4L112.2 195.9L101.9 195.9ZM192 101.1L197.1 110.6L186.8 110.6ZM135.3 168.3L140.4 177.8L130.1 177.8ZM146.5 155.5L151.6 165L141.3 165ZM134 164.8L139.1 174.3L128.9 174.3ZM147 148L152.1 157.4L141.9 157.4ZM208.1 85.2L213.2 94.7L203 94.7ZM96 196.6L101.1 206L90.8 206ZM259.4 48L264.5 57.5L254.3 57.5ZM128.8 175.2L133.9 184.6L123.6 184.6ZM180.9 115.8L186 125.2L175.7 125.2Z" fill="#a5640a" fill-opacity="0.5"/>
<g fill="#7a7aff" fill-opacity="0.9">
<circle cx="82.9" cy="204.2" r="5.3"/>
<circle cx="83.8" cy="203.8" r="5.3"/>
<circle cx="84.8" cy="203.9" r="5.3"/>
<circle cx="89.8" cy="209.4" r="5.3"/>
<circle cx="88.6" cy="205.9" r="5.3"/>
<circle cx="87.4" cy="202.5" r="5.3"/>
<circle cx="86.7" cy="199.8" r="5.3"/>
<circle cx="87.8" cy="199.7" r="5.3"/>
<circle cx="89.7" cy="200.7" r="5.3"/>
<circle cx="88.7" cy="197.6" r="5.3"/>
<circle cx="91.2" cy="199.8" r="5.3"/>
<circle cx="87.3" cy="192.2" r="5.3"/>
<circle cx="92.7" cy="198.3" r="5.3"/>
<circle cx="90.7" cy="194.1" r="5.3"/>
<circle cx="93.1" cy="195.4" r="5.3"/>
<circle cx="95.8" cy="198.3" r="5.3"/>
<circle cx="92.2" cy="190.9" r="5.3"/>
<circle cx="94.9" cy="193.4" r="5.3"/>
<circle cx="93.8" cy="189.8" r="5.3"/>
<circle cx="97.5" cy="193.8" r="5.3"/>
<circle cx="96.6" cy="190.9" r="5.3"/>
<circle cx="97.3" cy="190.1" r="5.3"/>
<circle cx="101.3" cy="194.3" r="5.3"/>
<circle cx="104" cy="196.2" r="5.3"/>
<circle cx="100.7" cy="190.7" r="5.3"/>
<circle cx="102.7" cy="191.4" r="5.3"/>
<circle cx="104.2" cy="191.8" r="5.3"/>
<circle cx="103.8" cy="189.9" r="5.3"/>
<circle cx="104.3" cy="189.1" r="5.3"/>
<circle cx="109.3" cy="194" r="5.3"/>
<circle cx="110.9" cy="194.4" r="5.3"/>
<circle cx="108.8" cy="190.4" r="5.3"/>
<circle cx="110" cy="190.5" r="5.3"/>
<circle cx="108.7" cy="186.8" r="5.3"/>
<circle cx="114.5" cy="192.9" r="5.3"/>
<circle cx="113.4" cy="189.9" r="5.3"/>
<circle cx="115.1" cy="190.9" r="5.3"/>
<circle cx="111.9" cy="185" r="5.3"/>
<circle cx="116.3" cy="189.2" r="5.3"/>
<circle cx="117" cy="188.5" r="5.3"/>
<circle cx="112.5" cy="181.3" r="5.3"/>
<circle cx="117.2" cy="185.8" r="5.3"/>
<circle cx="117.3" cy="184.5" r="5.3"/>
<circle cx="111.9" cy="175.6" r="5.3"/>
<circle cx="114.7" cy="177.5" r="5.3"/>
<circle cx="113.9" cy="174" r="5.3"/>
<circle cx="115.2" cy="174.3" r="5.3"/>
<circle cx="116.2" cy="174.1" r="5.3"/>
<circle cx="118.9" cy="176.4" r="5.3"/>
<circle cx="120.8" cy="177.9" r="5.3"/>
<circle cx="119.9" cy="174.8" r="5.3"/>
<circle cx="122.3" cy="176.8" r="5.3"/>
<circle cx="126.1" cy="181.1" r="5.3"/>
<circle cx="125.3" cy="178.1" r="5.3"/>
<circle cx="125.3" cy="176" r="5.3"/>
<circle cx="127.2" cy="177.4" r="5.3"/>
<circle cx="128.9" cy="178.5" r="5.3"/>
<circle cx="129.5" cy="177.9" r="5.3"/>
<circle cx="131.3" cy="178.6" r="5.3"/>
<circle cx="128.6" cy="172.8" r="5.3"/>
<circle cx="128.2" cy="171.2" r="5.3"/>
<circle cx="127.6" cy="169" r="5.3"/>
<circle cx="135" cy="175.9" r="5.3"/>
<circle cx="132.7" cy="171.8" r="5.3"/>
<circle cx="133.3" cy="171.1" r="5.3"/>
<circle cx="131.2" cy="167.1" r="5.3"/>
<circle cx="132.8" cy="167.5" r="5.3"/>
<circle cx="138.7" cy="172.6" r="5.3"/>
<circle cx="139.5" cy="172.1" r="5.3"/>
<circle cx="134.5" cy="165.2" r="5.3"/>
<circle cx="135.6" cy="165.1" r="5.3"/>
<circle cx="134.7" cy="162.8" r="5.3"/>
<circle cx="137.1" cy="164" r="5.3"/>
<circle cx="137.3" cy="162.8" r="5.3"/>
<circle cx="139.8" cy="164.3" r="5.3"/>
<circle cx="138.9" cy="161.8" r="5.3"/>
<circle cx="136.4" cy="157.6" r="5.3"/>
<circle cx="142" cy="162.4" r="5.3"/>
<circle cx="139" cy="157.9" r="5.3"/>
<circle cx="142.8" cy="160.5" r="5.3"/>
<circle cx="139.2" cy="155.3" r="5.3"/>
<circle cx="143.3" cy="158.1" r="5.3"/>
<circle cx="146.3" cy="160.1" r="5.3"/>
<circle cx="147.2" cy="159.6" r="5.3"/>
<circle cx="150.2" cy="161.5" r="5.3"/>
<circle cx="150.6" cy="160.5" r="5.3"/>
<circle cx="147" cy="155.4" r="5.3"/>
<circle cx="148.2" cy="155.4" r="5.3"/>
<circle cx="150.5" cy="156.5" r="5.3"/>
<circle cx="149.3" cy="153.7" r="5.3"/>
<circle cx="151.3" cy="154.3" r="5.3"/>
<circle cx="151.5" cy="153.2" r="5.3"/>
<circle cx="150.2" cy="150.5" r="5.3"/>
<circle cx="156.5" cy="156.2" r="5.3"/>
<circle cx="157.1" cy="155.4" r="5.3"/>
<circle cx="155.1" cy="151.8" r="5.3"/>
<circle cx="157.8" cy="153.3" r="5.3"/>
<circle cx="159.5" cy="153.9" r="5.3"/>
<circle cx="158.4" cy="151.2" r="5.3"/>
<circle cx="156" cy="147" r="5.3"/>
<circle cx="162.3" cy="151.1" r="5.3"/>
<circle cx="162.4" cy="150" r="5.3"/>
<circle cx="163.4" cy="149.9" r="5.3"/>
<circle cx="163.5" cy="148.4" r="5.3"/>
<circle cx="160" cy="144.6" r="5.3"/>
<circle cx="161.3" cy="144.3" r="5.3"/>
<circle cx="163.2" cy="144.6" r="5.3"/>
<circle cx="163.3" cy="143.4" r="5.3"/>
<circle cx="161.5" cy="140.8" r="5.3"/>
<circle cx="158.5" cy="137.2" r="5.3"/>
<circle cx="165.2" cy="141.3" r="5.3"/>
<circle cx="160.7" cy="136.4" r="5.3"/>
<circle cx="160.4" cy="135.1" r="5.3"/>
<circle cx="165.9" cy="138.3" r="5.3"/>
<circle cx="167.8" cy="138.7" r="5.3"/>
<circle cx="164.8" cy="135.1" r="5.3"/>
<circle cx="164.4" cy="133.7" r="5.3"/>
<circle cx="169.5" cy="136.3" r="5.3"/>
<circle cx="167" cy="133.1" r="5.3"/>
<circle cx="169.6" cy="134.1" r="5.3"/>
<circle cx="174" cy="135.7" r="5.3"/>
<circle cx="170.7" cy="132.5" r="5.3"/>
<circle cx="166.5" cy="129" r="5.3"/>
<circle cx="169.9" cy="129.8" r="5.3"/>
<circle cx="168.6" cy="127.9" r="5.3"/>
<circle cx="168.8" cy="126.9" r="5.3"/>
<circle cx="175.1" cy="129.8" r="5.3"/>
<circle cx="174.8" cy="128.4" r="5.3"/>
<circle cx="174.5" cy="127.2" r="5.3"/>
<circle cx="170.2" cy="123.3" r="5.3"/>
<circle cx="177.1" cy="126.6" r="5.3"/>
<circle cx="172.8" cy="122.6" r="5.3"/>
<circle cx="179.4" cy="125.7" r="5.3"/>
<circle cx="174.3" cy="121.4" r="5.3"/>
<circle cx="181.5" cy="124.7" r="5.3"/>
<circle cx="180.6" cy="123.1" r="5.3"/>
<circle cx="179.9" cy="121.7" r="5.3"/>
<circle cx="182" cy="122.2" r="5.3"/>
<circle cx="179.8" cy="119.4" r="5.3"/>
<circle cx="175.1" cy="114.8" r="5.3"/>
<circle cx="175.9" cy="114.2" r="5.3"/>
<circle cx="177.9" cy="114.6" r="5.3"/>
<circle cx="175" cy="111.3" r="5.3"/>
<circle cx="181" cy="114.6" r="5.3"/>
<circle cx="178.6" cy="111.5" r="5.3"/>
<circle cx="177.7" cy="109.5" r="5.3"/>
<circle cx="180.9" cy="111" r="5.3"/>
<circle cx="183.5" cy="111.7" r="5.3"/>
<circle cx="181.3" cy="108.9" r="5.3"/>
<circle cx="183" cy="108.7" r="5.3"/>
<circle cx="186.1" cy="109.9" r="5.3"/>
<circle cx="186.2" cy="109" r="5.3"/>
<circle cx="185" cy="105.7" r="5.3"/>
<circle cx="188.9" cy="109.9" r="5.3"/>
<circle cx="189.9" cy="109.6" r="5.3"/>
<circle cx="186.8" cy="103.7" r="5.3"/>
<circle cx="191.9" cy="109.1" r="5.3"/>
<circle cx="193.1" cy="108.8" r="5.3"/>
<circle cx="192.6" cy="107" r="5.3"/>
<circle cx="193.8" cy="106.9" r="5.3"/>
<circle cx="191.2" cy="101.6" r="5.3"/>
<circle cx="193.8" cy="103.4" r="5.3"/>
<circle cx="193.2" cy="101.2" r="5.3"/>
<circle cx="194.7" cy="101.6" r="5.3"/>
<circle cx="195.6" cy="101.5" r="5.3"/>
<circle cx="198.5" cy="103.8" r="5.3"/>
<circle cx="196.5" cy="99.5" r="5.3"/>
<circle cx="200.1" cy="102.6" r="5.3"/>
<circle cx="201" cy="101.5" r="5.3"/>
<circle cx="200.8" cy="100.1" r="5.3"/>
<circle cx="201.5" cy="99.3" r="5.3"/>
<circle cx="201.7" cy="98.4" r="5.3"/>
<circle cx="202.4" cy="97.5" r="5.3"/>
<circle cx="201.4" cy="94.9" r="5.3"/>
<circle cx="205.1" cy="98" r="5.3"/>
<circle cx="202.2" cy="93.2" r="5.3"/>
<circle cx="206.2" cy="95.9" r="5.3"/>
<circle cx="207.4" cy="96" r="5.3"/>
<circle cx="206.5" cy="93.6" r="5.3"/>
<circle cx="206.8" cy="92.8" r="5.3"/>
<circle cx="208" cy="92.4" r="5.3"/>
<circle cx="209" cy="92.1" r="5.3"/>
<circle cx="208.3" cy="89.9" r="5.3"/>
<circle cx="208.8" cy="89.1" r="5.3"/>
<circle cx="209.6" cy="88.8" r="5.3"/>
<circle cx="209.5" cy="87.6" r="5.3"/>
<circle cx="210.9" cy="87.6" r="5.3"/>
<circle cx="210.7" cy="86" r="5.3"/>
<circle cx="211.4" cy="85.5" r="5.3"/>
<circle cx="213.4" cy="85.9" r="5.3"/>
<circle cx="212.7" cy="84.1" r="5.3"/>
<circle cx="215.5" cy="85.2" r="5.3"/>
<circle cx="214.6" cy="83.1" r="5.3"/>
<circle cx="214.5" cy="82" r="5.3"/>
<circle cx="215.3" cy="81.4" r="5.3"/>
<circle cx="217.1" cy="81.6" r="5.3"/>
<circle cx="218.1" cy="81.4" r="5.3"/>
<circle cx="218" cy="79.9" r="5.3"/>
<circle cx="217.9" cy="78.6" r="5.3"/>
<circle cx="219.4" cy="78.8" r="5.3"/>
<circle cx="220.7" cy="78.5" r="5.3"/>
<circle cx="221.4" cy="77.8" r="5.3"/>
<circle cx="220.6" cy="76" r="5.3"/>
<circle cx="220.8" cy="75" r="5.3"/>
<circle cx="222.4" cy="74.8" r="5.3"/>
<circle cx="222.6" cy="73.7" r="5.3"/>
<circle cx="223.1" cy="73.2" r="5.3"/>
<circle cx="224.6" cy="72.9" r="5.3"/>
<circle cx="224" cy="71.5" r="5.3"/>
<circle cx="223.8" cy="70" r="5.3"/>
<circle cx="225.2" cy="69.8" r="5.3"/>
<circle cx="225.6" cy="69.1" r="5.3"/>
<circle cx="227.6" cy="69.6" r="5.3"/>
<circle cx="226.2" cy="67.2" r="5.3"/>
<circle cx="229" cy="68" r="5.3"/>
<circle cx="228.7" cy="66.5" r="5.3"/>
<circle cx="230.3" cy="66.9" r="5.3"/>
<circle cx="230.8" cy="66.1" r="5.3"/>
<circle cx="231.5" cy="65.2" r="5.3"/>
<circle cx="231" cy="63.6" r="5.3"/>
<circle cx="231.6" cy="63.2" r="5.3"/>
<circle cx="231.4" cy="61.8" r="5.3"/>
<circle cx="233.2" cy="61.9" r="5.3"/>
<circle cx="233" cy="60.6" r="5.3"/>
<circle cx="234.4" cy="60.2" r="5.3"/>
<circle cx="233.6" cy="58.6" r="5.3"/>
<circle cx="235.6" cy="58.9" r="5.3"/>
<circle cx="235" cy="57.2" r="5.3"/>
<circle cx="237.1" cy="57.6" r="5.3"/>
<circle cx="237" cy="56.5" r="5.3"/>
<circle cx="237.4" cy="55.6" r="5.3"/>
<circle cx="239.3" cy="55.8" r="5.3"/>
<circle cx="239.6" cy="55.1" r="5.3"/>
<circle cx="240.3" cy="54.2" r="5.3"/>
<circle cx="241.2" cy="53.9" r="5.3"/>
<circle cx="241.7" cy="53" r="5.3"/>
<circle cx="242.1" cy="52.3" r="5.3"/>
<circle cx="242.3" cy="50.9" r="5.3"/>
<circle cx="242.5" cy="49.9" r="5.3"/>
<circle cx="242.3" cy="48.6" r="5.3"/>
</g>
<g fill="#6464ff" fill-opacity="0.35" stroke="#a8a8c2" stroke-opacity="0.45" stroke-width="0.8">
<circle cx="162.8" cy="141.4" r="5.8"/>
<circle cx="143.6" cy="157.7" r="5.8"/>
<circle cx="223.8" cy="70" r="5.8"/>
<circle cx="127.5" cy="181.8" r="5.8"/>
<circle cx="97.4" cy="192.7" r="5.8"/>
<circle cx="197.8" cy="97.3" r="5.8"/>
<circle cx="146.3" cy="160.1" r="5.8"/>
<circle cx="231" cy="63.6" r="5.8"/>
<circle cx="237.4" cy="55.6" r="5.8"/>
<circle cx="114.9" cy="173.3" r="5.8"/>
<circle cx="201.7" cy="95.9" r="5.8"/>
<circle cx="167.8" cy="138.7" r="5.8"/>
<circle cx="209.1" cy="90" r="5.8"/>
<circle cx="218.3" cy="78.1" r="5.8"/>
<circle cx="150.2" cy="161.5" r="5.8"/>
<circle cx="156.4" cy="148" r="5.8"/>
<circle cx="230.5" cy="65.3" r="5.8"/>
<circle cx="182" cy="122.2" r="5.8"/>
<circle cx="114.7" cy="186.7" r="5.8"/>
<circle cx="140.2" cy="167.1" r="5.8"/>
<circle cx="205.9" cy="92.8" r="5.8"/>
<circle cx="158.8" cy="145.4" r="5.8"/>
<circle cx="191.2" cy="105.9" r="5.8"/>
<circle cx="193.1" cy="108.8" r="5.8"/>
<circle cx="232.8" cy="63.2" r="5.8"/>
<circle cx="163.5" cy="142.8" r="5.8"/>
<circle cx="196.5" cy="99.5" r="5.8"/>
<circle cx="112.3" cy="193" r="5.8"/>
<circle cx="174.3" cy="121.4" r="5.8"/>
<circle cx="221.1" cy="77.1" r="5.8"/>
<circle cx="174.6" cy="118.9" r="5.8"/>
<circle cx="134.7" cy="170.4" r="5.8"/>
<circle cx="177.2" cy="108.9" r="5.8"/>
<circle cx="190.1" cy="102.1" r="5.8"/>
<circle cx="111.9" cy="175.6" r="5.8"/>
<circle cx="93.1" cy="195.4" r="5.8"/>
<circle cx="211" cy="86.7" r="5.8"/>
<circle cx="199.4" cy="94.9" r="5.8"/>
<circle cx="126.9" cy="171.5" r="5.8"/>
<circle cx="209" cy="92.1" r="5.8"/>
<circle cx="91.2" cy="199.8" r="5.8"/>
<circle cx="239.8" cy="55.4" r="5.8"/>
<circle cx="242.7" cy="48.5" r="5.8"/>
<circle cx="192.2" cy="102.7" r="5.8"/>
<circle cx="162.4" cy="150" r="5.8"/>
<circle cx="102.7" cy="191.4" r="5.8"/>
<circle cx="181.7" cy="121.2" r="5.8"/>
<circle cx="133.3" cy="171.1" r="5.8"/>
<circle cx="191.2" cy="101.6" r="5.8"/>
<circle cx="139.2" cy="161.4" r="5.8"/>
<circle cx="215.4" cy="82.9" r="5.8"/>
<circle cx="182.7" cy="108.4" r="5.8"/>
<circle cx="215.5" cy="85.2" r="5.8"/>
<circle cx="115" cy="194.9" r="5.8"/>
<circle cx="129.2" cy="172.7" r="5.8"/>
<circle cx="159.6" cy="150" r="5.8"/>
<circle cx="148.5" cy="153.5" r="5.8"/>
<circle cx="88.7" cy="195.1" r="5.8"/>
<circle cx="91.2" cy="190.5" r="5.8"/>
<circle cx="234.5" cy="60.8" r="5.8"/>
<circle cx="184.6" cy="113.9" r="5.8"/>
<circle cx="180.6" cy="119.2" r="5.8"/>
<circle cx="195.8" cy="99.6" r="5.8"/>
<circle cx="170.2" cy="123.3" r="5.8"/>
<circle cx="154.2" cy="151.6" r="5.8"/>
<circle cx="165.3" cy="132.4" r="5.8"/>
<circle cx="97.3" cy="190.1" r="5.8"/>
<circle cx="230" cy="63.1" r="5.8"/>
<circle cx="126.8" cy="170.5" r="5.8"/>
<circle cx="173.2" cy="133.3" r="5.8"/>
<circle cx="181.5" cy="110.7" r="5.8"/>
<circle cx="149.3" cy="153.7" r="5.8"/>
<circle cx="183.6" cy="114.7" r="5.8"/>
<circle cx="147.2" cy="159.6" r="5.8"/>
<circle cx="215.4" cy="82.3" r="5.8"/>
<circle cx="186.1" cy="109.9" r="5.8"/>
<circle cx="161.5" cy="140.8" r="5.8"/>
<circle cx="241.7" cy="53" r="5.8"/>
<circle cx="203" cy="94.6" r="5.8"/>
<circle cx="149.4" cy="151.8" r="5.8"/>
<circle cx="141.3" cy="157.9" r="5.8"/>
<circle cx="197.3" cy="104.1" r="5.8"/>
<circle cx="127.6" cy="169" r="5.8"/>
<circle cx="225.4" cy="68.2" r="5.8"/>
<circle cx="89.8" cy="209.4" r="5.8"/>
<circle cx="174.8" cy="128.4" r="5.8"/>
<circle cx="193.4" cy="102.8" r="5.8"/>
<circle cx="235" cy="57.2" r="5.8"/>
<circle cx="179.9" cy="121.7" r="5.8"/>
<circle cx="102.3" cy="188.5" r="5.8"/>
<circle cx="112.1" cy="184.8" r="5.8"/>
<circle cx="209.3" cy="89.5" r="5.8"/>
<circle cx="240.3" cy="52.1" r="5.8"/>
<circle cx="128.7" cy="180.7" r="5.8"/>
<circle cx="207.9" cy="92.9" r="5.8"/>
<circle cx="168.6" cy="127.9" r="5.8"/>
<circle cx="82.9" cy="204.2" r="5.8"/>
<circle cx="154" cy="161" r="5.8"/>
<circle cx="103.6" cy="195.1" r="5.8"/>
<circle cx="154.9" cy="156.2" r="5.8"/>
<circle cx="117.1" cy="178.7" r="5.8"/>
<circle cx="208.8" cy="89.1" r="5.8"/>
<circle cx="118.9" cy="176.4" r="5.8"/>
<circle cx="224.6" cy="69" r="5.8"/>
<circle cx="140.5" cy="161.6" r="5.8"/>
<circle cx="177.9" cy="114.6" r="5.8"/>
<circle cx="172.2" cy="122.6" r="5.8"/>
<circle cx="236" cy="55.4" r="5.8"/>
<circle cx="218.1" cy="81.4" r="5.8"/>
<circle cx="223.6" cy="70.5" r="5.8"/>
<circle cx="214.5" cy="82" r="5.8"/>
<circle cx="178.6" cy="120" r="5.8"/>
<circle cx="204.3" cy="93.9" r="5.8"/>
<circle cx="136.4" cy="167.1" r="5.8"/>
<circle cx="94.9" cy="193.4" r="5.8"/>
<circle cx="128.2" cy="171.2" r="5.8"/>
<circle cx="162.3" cy="151.1" r="5.8"/>
<circle cx="198.5" cy="103.8" r="5.8"/>
<circle cx="175.7" cy="126.3" r="5.8"/>
<circle cx="88.9" cy="194.1" r="5.8"/>
<circle cx="174.2" cy="128.4" r="5.8"/>
<circle cx="183.2" cy="110.6" r="5.8"/>
<circle cx="175.9" cy="114.2" r="5.8"/>
<circle cx="170.7" cy="134.5" r="5.8"/>
<circle cx="239" cy="53.4" r="5.8"/>
<circle cx="85.3" cy="198.8" r="5.8"/>
<circle cx="227.6" cy="69.6" r="5.8"/>
<circle cx="185.2" cy="105.7" r="5.8"/>
<circle cx="188.9" cy="109.9" r="5.8"/>
<circle cx="208.5" cy="90.7" r="5.8"/>
<circle cx="242.3" cy="50.9" r="5.8"/>
<circle cx="147" cy="155.4" r="5.8"/>
<circle cx="164.8" cy="139.5" r="5.8"/>
<circle cx="93.4" cy="190.6" r="5.8"/>
<circle cx="127.2" cy="177.4" r="5.8"/>
<circle cx="169.6" cy="134.1" r="5.8"/>
<circle cx="135.7" cy="165.6" r="5.8"/>
<circle cx="169.5" cy="127.9" r="5.8"/>
<circle cx="132.8" cy="167.5" r="5.8"/>
<circle cx="193.8" cy="103.4" r="5.8"/>
<circle cx="175" cy="111.3" r="5.8"/>
<circle cx="158.4" cy="151.2" r="5.8"/>
<circle cx="115.2" cy="174.3" r="5.8"/>
<circle cx="104.2" cy="191.8" r="5.8"/>
<circle cx="86.3" cy="201.7" r="5.8"/>
<circle cx="113.2" cy="189.2" r="5.8"/>
<circle cx="131" cy="173.4" r="5.8"/>
<circle cx="187.3" cy="105.1" r="5.8"/>
<circle cx="163.1" cy="150.3" r="5.8"/>
<circle cx="164.4" cy="133.7" r="5.8"/>
<circle cx="127.4" cy="176.7" r="5.8"/>
<circle cx="235.2" cy="59.6" r="5.8"/>
<circle cx="213.4" cy="85.9" r="5.8"/>
<circle cx="91.3" cy="204.2" r="5.8"/>
<circle cx="207.2" cy="91.1" r="5.8"/>
<circle cx="95.1" cy="199.2" r="5.8"/>
<circle cx="155.9" cy="154.7" r="5.8"/>
<circle cx="207.4" cy="96" r="5.8"/>
<circle cx="113.9" cy="174" r="5.8"/>
<circle cx="121" cy="174.9" r="5.8"/>
<circle cx="242.1" cy="52.3" r="5.8"/>
<circle cx="150.2" cy="162.2" r="5.8"/>
<circle cx="87.6" cy="194.5" r="5.8"/>
<circle cx="189.9" cy="109.6" r="5.8"/>
<circle cx="100" cy="191.6" r="5.8"/>
<circle cx="155.1" cy="151.8" r="5.8"/>
<circle cx="146.4" cy="161.1" r="5.8"/>
<circle cx="129.5" cy="177.9" r="5.8"/>
<circle cx="193.8" cy="106.9" r="5.8"/>
<circle cx="202.7" cy="91.3" r="5.8"/>
<circle cx="164.1" cy="142" r="5.8"/>
<circle cx="156.6" cy="153.9" r="5.8"/>
<circle cx="183.4" cy="107.2" r="5.8"/>
<circle cx="88.7" cy="197.6" r="5.8"/>
<circle cx="223.3" cy="71.8" r="5.8"/>
<circle cx="111.5" cy="192.6" r="5.8"/>
<circle cx="168.7" cy="137.2" r="5.8"/>
<circle cx="228.5" cy="65.6" r="5.8"/>
<circle cx="138.1" cy="173.1" r="5.8"/>
<circle cx="200.1" cy="102.6" r="5.8"/>
<circle cx="220.8" cy="75" r="5.8"/>
<circle cx="231.4" cy="61.8" r="5.8"/>
<circle cx="104" cy="196.2" r="5.8"/>
<circle cx="160.9" cy="153.3" r="5.8"/>
<circle cx="90.7" cy="194.1" r="5.8"/>
<circle cx="241.2" cy="53.9" r="5.8"/>
<circle cx="92.3" cy="190.5" r="5.8"/>
<circle cx="156.5" cy="156.2" r="5.8"/>
<circle cx="133.5" cy="170.7" r="5.8"/>
<circle cx="233.3" cy="60.4" r="5.8"/>
<circle cx="174.8" cy="111.7" r="5.8"/>
<circle cx="129.5" cy="180.7" r="5.8"/>
<circle cx="220.5" cy="75.1" r="5.8"/>
<circle cx="241.5" cy="51.2" r="5.8"/>
<circle cx="131.2" cy="167.1" r="5.8"/>
<circle cx="233.9" cy="62.2" r="5.8"/>
<circle cx="87.8" cy="199.7" r="5.8"/>
<circle cx="117.1" cy="189.2" r="5.8"/>
<circle cx="177.7" cy="109.5" r="5.8"/>
<circle cx="177.4" cy="120.3" r="5.8"/>
<circle cx="161" cy="135.4" r="5.8"/>
<circle cx="228.2" cy="66.1" r="5.8"/>
<circle cx="237.6" cy="55.1" r="5.8"/>
<circle cx="116.2" cy="186.6" r="5.8"/>
<circle cx="146.3" cy="156.2" r="5.8"/>
<circle cx="190.2" cy="105.8" r="5.8"/>
<circle cx="92.9" cy="194.4" r="5.8"/>
<circle cx="191.9" cy="109.1" r="5.8"/>
<circle cx="101.8" cy="192.5" r="5.8"/>
<circle cx="150.9" cy="154.2" r="5.8"/>
<circle cx="102.5" cy="190.7" r="5.8"/>
<circle cx="180.7" cy="119.9" r="5.8"/>
<circle cx="91.8" cy="199.5" r="5.8"/>
<circle cx="111.8" cy="187" r="5.8"/>
<circle cx="139.5" cy="172.1" r="5.8"/>
<circle cx="113.3" cy="180.9" r="5.8"/>
<circle cx="90.5" cy="208.2" r="5.8"/>
<circle cx="233" cy="60.6" r="5.8"/>
<circle cx="209.5" cy="87.6" r="5.8"/>
<circle cx="206.9" cy="93.3" r="5.8"/>
<circle cx="154.9" cy="150.8" r="5.8"/>
<circle cx="144.8" cy="157.7" r="5.8"/>
<circle cx="89.2" cy="203.1" r="5.8"/>
<circle cx="115.1" cy="190.9" r="5.8"/>
<circle cx="117.2" cy="185.8" r="5.8"/>
<circle cx="233.2" cy="62.5" r="5.8"/>
<circle cx="175.4" cy="130.6" r="5.8"/>
<circle cx="125.3" cy="176" r="5.8"/>
<circle cx="181.2" cy="125.8" r="5.8"/>
<circle cx="123.8" cy="174.8" r="5.8"/>
<circle cx="133.7" cy="175.1" r="5.8"/>
<circle cx="182.5" cy="123.5" r="5.8"/>
<circle cx="184.5" cy="106.3" r="5.8"/>
<circle cx="222.3" cy="73.2" r="5.8"/>
<circle cx="201.7" cy="98.4" r="5.8"/>
<circle cx="113.4" cy="185.8" r="5.8"/>
<circle cx="220.2" cy="78.9" r="5.8"/>
<circle cx="205.1" cy="98" r="5.8"/>
<circle cx="93.8" cy="189.8" r="5.8"/>
<circle cx="193.5" cy="105.5" r="5.8"/>
<circle cx="131.8" cy="170" r="5.8"/>
<circle cx="178.4" cy="122.3" r="5.8"/>
<circle cx="111.8" cy="181.3" r="5.8"/>
<circle cx="157.5" cy="140.7" r="5.8"/>
<circle cx="218.1" cy="80.3" r="5.8"/>
<circle cx="113" cy="178.2" r="5.8"/>
<circle cx="211.4" cy="86.1" r="5.8"/>
<circle cx="191.1" cy="109.9" r="5.8"/>
<circle cx="181" cy="123.9" r="5.8"/>
<circle cx="232.3" cy="63" r="5.8"/>
<circle cx="215.1" cy="85.6" r="5.8"/>
<circle cx="185.1" cy="108.9" r="5.8"/>
<circle cx="142.3" cy="155.2" r="5.8"/>
<circle cx="138.8" cy="162.5" r="5.8"/>
<circle cx="220.7" cy="77.7" r="5.8"/>
<circle cx="96.6" cy="190.9" r="5.8"/>
<circle cx="135" cy="168.4" r="5.8"/>
<circle cx="123.5" cy="172.1" r="5.8"/>
<circle cx="87.4" cy="202.5" r="5.8"/>
<circle cx="114.5" cy="181.3" r="5.8"/>
<circle cx="175.2" cy="122.7" r="5.8"/>
<circle cx="83.8" cy="203.8" r="5.8"/>
<circle cx="131.3" cy="178.6" r="5.8"/>
<circle cx="175.1" cy="129.8" r="5.8"/>
<circle cx="172.8" cy="122.6" r="5.8"/>
<circle cx="197.3" cy="102.7" r="5.8"/>
<circle cx="156" cy="150.5" r="5.8"/>
<circle cx="133.2" cy="173.5" r="5.8"/>
<circle cx="157.8" cy="143.4" r="5.8"/>
<circle cx="178.6" cy="111.5" r="5.8"/>
<circle cx="98.1" cy="192.5" r="5.8"/>
<circle cx="93.6" cy="190.2" r="5.8"/>
<circle cx="84.8" cy="203.9" r="5.8"/>
<circle cx="230.6" cy="63" r="5.8"/>
<circle cx="225.2" cy="68.5" r="5.8"/>
<circle cx="160.6" cy="150.1" r="5.8"/>
<circle cx="160.7" cy="136.4" r="5.8"/>
<circle cx="117.9" cy="182.2" r="5.8"/>
<circle cx="135.1" cy="162.6" r="5.8"/>
<circle cx="114.8" cy="178.8" r="5.8"/>
<circle cx="173.5" cy="125.6" r="5.8"/>
<circle cx="103.8" cy="190.7" r="5.8"/>
<circle cx="214.3" cy="82.5" r="5.8"/>
<circle cx="169.9" cy="129.8" r="5.8"/>
<circle cx="150.8" cy="154.7" r="5.8"/>
<circle cx="201.5" cy="99.3" r="5.8"/>
<circle cx="185" cy="105.7" r="5.8"/>
<circle cx="224.2" cy="73.7" r="5.8"/>
<circle cx="92.2" cy="190.9" r="5.8"/>
<circle cx="227.8" cy="67.6" r="5.8"/>
<circle cx="163.4" cy="149.9" r="5.8"/>
<circle cx="159.5" cy="137.5" r="5.8"/>
<circle cx="151.7" cy="158.1" r="5.8"/>
<circle cx="161.7" cy="138.3" r="5.8"/>
<circle cx="193.3" cy="100.5" r="5.8"/>
<circle cx="171.6" cy="135.6" r="5.8"/>
<circle cx="211" cy="88.2" r="5.8"/>
<circle cx="226.3" cy="71.5" r="5.8"/>
<circle cx="235" cy="58.7" r="5.8"/>
<circle cx="168.1" cy="125.2" r="5.8"/>
<circle cx="159.5" cy="153.9" r="5.8"/>
<circle cx="220.7" cy="78.5" r="5.8"/>
<circle cx="129.1" cy="175.7" r="5.8"/>
<circle cx="242.3" cy="48.6" r="5.8"/>
<circle cx="155.1" cy="154.9" r="5.8"/>
<circle cx="181" cy="114.6" r="5.8"/>
<circle cx="223.1" cy="73.2" r="5.8"/>
<circle cx="171.4" cy="137.4" r="5.8"/>
<circle cx="181.5" cy="124.7" r="5.8"/>
<circle cx="183.5" cy="111.7" r="5.8"/>
<circle cx="139.8" cy="166" r="5.8"/>
<circle cx="137.7" cy="172.3" r="5.8"/>
<circle cx="181.9" cy="113.2" r="5.8"/>
<circle cx="197.8" cy="97.6" r="5.8"/>
<circle cx="236.7" cy="57" r="5.8"/>
<circle cx="86.9" cy="195.9" r="5.8"/>
<circle cx="109.5" cy="188.4" r="5.8"/>
<circle cx="120.7" cy="175.3" r="5.8"/>
<circle cx="100.3" cy="198.5" r="5.8"/>
<circle cx="145.4" cy="155.9" r="5.8"/>
<circle cx="211.3" cy="89.5" r="5.8"/>
<circle cx="110.9" cy="178.3" r="5.8"/>
<circle cx="180.5" cy="116.7" r="5.8"/>
<circle cx="196.7" cy="97.4" r="5.8"/>
<circle cx="168.9" cy="128.6" r="5.8"/>
<circle cx="163.2" cy="133.2" r="5.8"/>
<circle cx="217.1" cy="81.6" r="5.8"/>
<circle cx="174.2" cy="121.1" r="5.8"/>
<circle cx="198.2" cy="99.3" r="5.8"/>
<circle cx="188.4" cy="112.1" r="5.8"/>
<circle cx="202.4" cy="97.5" r="5.8"/>
<circle cx="93.3" cy="195.3" r="5.8"/>
<circle cx="142" cy="162.4" r="5.8"/>
<circle cx="198.9" cy="102.1" r="5.8"/>
<circle cx="210.3" cy="89.9" r="5.8"/>
<circle cx="209.2" cy="90.7" r="5.8"/>
<circle cx="99.8" cy="194.8" r="5.8"/>
<circle cx="213.7" cy="83" r="5.8"/>
<circle cx="171.1" cy="123.1" r="5.8"/>
<circle cx="172.3" cy="131" r="5.8"/>
<circle cx="182.3" cy="111.5" r="5.8"/>
<circle cx="213.4" cy="87.5" r="5.8"/>
<circle cx="160.4" cy="135.1" r="5.8"/>
<circle cx="235.8" cy="57" r="5.8"/>
<circle cx="110" cy="192.2" r="5.8"/>
<circle cx="120.8" cy="177.9" r="5.8"/>
<circle cx="162" cy="138.3" r="5.8"/>
<circle cx="163.2" cy="151.4" r="5.8"/>
<circle cx="135.4" cy="174.3" r="5.8"/>
<circle cx="117" cy="175.6" r="5.8"/>
<circle cx="213.5" cy="85.2" r="5.8"/>
<circle cx="219.3" cy="79.3" r="5.8"/>
<circle cx="161.3" cy="146.1" r="5.8"/>
<circle cx="211.4" cy="85.5" r="5.8"/>
<circle cx="180.6" cy="115.7" r="5.8"/>
<circle cx="234.4" cy="60.2" r="5.8"/>
<circle cx="209.6" cy="88.8" r="5.8"/>
<circle cx="177.4" cy="118.5" r="5.8"/>
<circle cx="139.2" cy="155.3" r="5.8"/>
<circle cx="196.9" cy="98.8" r="5.8"/>
<circle cx="170.9" cy="138.3" r="5.8"/>
<circle cx="173.2" cy="136.7" r="5.8"/>
<circle cx="240.3" cy="54.2" r="5.8"/>
<circle cx="132.4" cy="169" r="5.8"/>
<circle cx="222.5" cy="75.4" r="5.8"/>
<circle cx="168.6" cy="136.3" r="5.8"/>
<circle cx="233.6" cy="58.6" r="5.8"/>
<circle cx="227.5" cy="67.6" r="5.8"/>
<circle cx="238" cy="55.3" r="5.8"/>
<circle cx="236.4" cy="54.9" r="5.8"/>
<circle cx="98.2" cy="191" r="5.8"/>
<circle cx="214.6" cy="83.1" r="5.8"/>
<circle cx="168.8" cy="126.9" r="5.8"/>
<circle cx="180.2" cy="113.6" r="5.8"/>
<circle cx="136" cy="159" r="5.8"/>
<circle cx="214.8" cy="84" r="5.8"/>
<circle cx="94.3" cy="193" r="5.8"/>
<circle cx="164.1" cy="147.2" r="5.8"/>
<circle cx="168.6" cy="138.4" r="5.8"/>
<circle cx="128.9" cy="178.5" r="5.8"/>
<circle cx="157.1" cy="155.4" r="5.8"/>
<circle cx="119.2" cy="173.8" r="5.8"/>
<circle cx="242.8" cy="51" r="5.8"/>
<circle cx="137.1" cy="164" r="5.8"/>
<circle cx="101.3" cy="194.3" r="5.8"/>
<circle cx="202.1" cy="92.1" r="5.8"/>
<circle cx="236.4" cy="56.5" r="5.8"/>
<circle cx="113.4" cy="189.9" r="5.8"/>
<circle cx="163.3" cy="143.4" r="5.8"/>
<circle cx="195.6" cy="101.5" r="5.8"/>
<circle cx="111.2" cy="193" r="5.8"/>
<circle cx="156.1" cy="151.9" r="5.8"/>
<circle cx="116.7" cy="174.1" r="5.8"/>
<circle cx="222.6" cy="73.7" r="5.8"/>
<circle cx="224" cy="71.5" r="5.8"/>
<circle cx="140.1" cy="169.7" r="5.8"/>
<circle cx="239.4" cy="51.9" r="5.8"/>
<circle cx="203.9" cy="97.4" r="5.8"/>
<circle cx="167.1" cy="128.7" r="5.8"/>
<circle cx="126.8" cy="171" r="5.8"/>
<circle cx="158.5" cy="151.6" r="5.8"/>
<circle cx="146.2" cy="154.8" r="5.8"/>
<circle cx="221.8" cy="75.4" r="5.8"/>
<circle cx="152.9" cy="151.2" r="5.8"/>
<circle cx="183" cy="109.2" r="5.8"/>
<circle cx="177.3" cy="115.8" r="5.8"/>
<circle cx="237" cy="56.5" r="5.8"/>
<circle cx="215.7" cy="81.2" r="5.8"/>
<circle cx="181.3" cy="108.9" r="5.8"/>
<circle cx="235.6" cy="58.9" r="5.8"/>
<circle cx="128.6" cy="172.8" r="5.8"/>
<circle cx="224.2" cy="70.6" r="5.8"/>
<circle cx="134.7" cy="162.8" r="5.8"/>
<circle cx="158.4" cy="151.7" r="5.8"/>
<circle cx="187.9" cy="109" r="5.8"/>
<circle cx="205.2" cy="92.5" r="5.8"/>
<circle cx="128.4" cy="169" r="5.8"/>
<circle cx="241.5" cy="52.4" r="5.8"/>
<circle cx="149.6" cy="158.9" r="5.8"/>
<circle cx="156" cy="147" r="5.8"/>
<circle cx="86.5" cy="198.6" r="5.8"/>
<circle cx="108.9" cy="191.4" r="5.8"/>
<circle cx="174" cy="135.7" r="5.8"/>
<circle cx="215.9" cy="80.1" r="5.8"/>
<circle cx="90.1" cy="211.2" r="5.8"/>
<circle cx="241.1" cy="50.2" r="5.8"/>
<circle cx="132.1" cy="167.7" r="5.8"/>
<circle cx="140.8" cy="156.2" r="5.8"/>
<circle cx="95" cy="195.7" r="5.8"/>
<circle cx="161.4" cy="135.4" r="5.8"/>
<circle cx="125.6" cy="172.5" r="5.8"/>
<circle cx="227.7" cy="66.2" r="5.8"/>
<circle cx="86.4" cy="193.6" r="5.8"/>
<circle cx="211" cy="87.8" r="5.8"/>
<circle cx="219" cy="80.4" r="5.8"/>
<circle cx="175.8" cy="110.9" r="5.8"/>
<circle cx="179.5" cy="117.8" r="5.8"/>
<circle cx="169.5" cy="136.3" r="5.8"/>
<circle cx="163.2" cy="144.6" r="5.8"/>
<circle cx="108" cy="194.1" r="5.8"/>
<circle cx="176.3" cy="121.9" r="5.8"/>
<circle cx="144.6" cy="160.2" r="5.8"/>
<circle cx="239.6" cy="55.1" r="5.8"/>
<circle cx="132.7" cy="171.8" r="5.8"/>
<circle cx="226.5" cy="71.6" r="5.8"/>
<circle cx="207.5" cy="91.1" r="5.8"/>
<circle cx="242.2" cy="49.4" r="5.8"/>
<circle cx="126.1" cy="181.1" r="5.8"/>
<circle cx="163.2" cy="149.9" r="5.8"/>
<circle cx="113.3" cy="192.1" r="5.8"/>
<circle cx="237.5" cy="53.9" r="5.8"/>
<circle cx="137.7" cy="169.7" r="5.8"/>
<circle cx="225.9" cy="67.7" r="5.8"/>
<circle cx="86.7" cy="199.8" r="5.8"/>
<circle cx="177.7" cy="112.8" r="5.8"/>
<circle cx="183" cy="108.7" r="5.8"/>
<circle cx="137.3" cy="162.8" r="5.8"/>
<circle cx="91.7" cy="207.9" r="5.8"/>
<circle cx="231.6" cy="63.2" r="5.8"/>
<circle cx="222.7" cy="72.1" r="5.8"/>
<circle cx="105.5" cy="189.5" r="5.8"/>
<circle cx="174.8" cy="130.9" r="5.8"/>
<circle cx="122.1" cy="179.1" r="5.8"/>
<circle cx="218" cy="79.9" r="5.8"/>
<circle cx="194.7" cy="101.6" r="5.8"/>
<circle cx="150" cy="157.9" r="5.8"/>
<circle cx="191.5" cy="108.9" r="5.8"/>
<circle cx="99" cy="191.9" r="5.8"/>
<circle cx="161" cy="139" r="5.8"/>
<circle cx="134.7" cy="159.5" r="5.8"/>
<circle cx="221.1" cy="78.4" r="5.8"/>
<circle cx="137.8" cy="166.5" r="5.8"/>
<circle cx="124.5" cy="179.8" r="5.8"/>
<circle cx="88.9" cy="207.6" r="5.8"/>
<circle cx="181.1" cy="108.3" r="5.8"/>
<circle cx="219.4" cy="80.2" r="5.8"/>
<circle cx="158.3" cy="142.5" r="5.8"/>
<circle cx="216.1" cy="80" r="5.8"/>
<circle cx="200.8" cy="100.1" r="5.8"/>
<circle cx="138.9" cy="161.8" r="5.8"/>
<circle cx="105.4" cy="190" r="5.8"/>
<circle cx="143" cy="161.9" r="5.8"/>
<circle cx="169.1" cy="131.3" r="5.8"/>
<circle cx="192.6" cy="107" r="5.8"/>
<circle cx="235.7" cy="58.3" r="5.8"/>
<circle cx="116.3" cy="189.2" r="5.8"/>
<circle cx="105.7" cy="188.9" r="5.8"/>
<circle cx="178.8" cy="125.8" r="5.8"/>
<circle cx="192.7" cy="107.4" r="5.8"/>
<circle cx="194.1" cy="100.1" r="5.8"/>
<circle cx="191.7" cy="105" r="5.8"/>
<circle cx="217" cy="83.1" r="5.8"/>
<circle cx="116.4" cy="179.1" r="5.8"/>
<circle cx="221.4" cy="76.9" r="5.8"/>
<circle cx="86.2" cy="208.6" r="5.8"/>
<circle cx="155" cy="149.5" r="5.8"/>
<circle cx="180.6" cy="123.1" r="5.8"/>
<circle cx="99.5" cy="191.8" r="5.8"/>
<circle cx="175.1" cy="114.8" r="5.8"/>
<circle cx="220.1" cy="75" r="5.8"/>
<circle cx="148.2" cy="155.4" r="5.8"/>
<circle cx="89.3" cy="211.4" r="5.8"/>
<circle cx="224.8" cy="69" r="5.8"/>
<circle cx="202.3" cy="99.9" r="5.8"/>
<circle cx="89.7" cy="200.7" r="5.8"/>
<circle cx="199.7" cy="98.6" r="5.8"/>
<circle cx="104.3" cy="189.1" r="5.8"/>
<circle cx="195.5" cy="100.7" r="5.8"/>
<circle cx="158.5" cy="137.2" r="5.8"/>
<circle cx="140.9" cy="160.3" r="5.8"/>
<circle cx="88.5" cy="198.1" r="5.8"/>
<circle cx="149.7" cy="154.6" r="5.8"/>
<circle cx="138.5" cy="171.7" r="5.8"/>
<circle cx="206.9" cy="92.5" r="5.8"/>
<circle cx="234.7" cy="60.1" r="5.8"/>
<circle cx="167" cy="133.1" r="5.8"/>
<circle cx="154" cy="154.2" r="5.8"/>
<circle cx="137.7" cy="160.1" r="5.8"/>
<circle cx="207.4" cy="90" r="5.8"/>
<circle cx="88.6" cy="205.9" r="5.8"/>
<circle cx="193.3" cy="100.7" r="5.8"/>
<circle cx="119.9" cy="174.8" r="5.8"/>
<circle cx="164.5" cy="144.8" r="5.8"/>
<circle cx="215.3" cy="81.4" r="5.8"/>
<circle cx="172.5" cy="134" r="5.8"/>
<circle cx="109.3" cy="194" r="5.8"/>
<circle cx="240.4" cy="53.4" r="5.8"/>
<circle cx="168" cy="129.4" r="5.8"/>
<circle cx="122.3" cy="176.8" r="5.8"/>
<circle cx="139.8" cy="171.7" r="5.8"/>
<circle cx="87.6" cy="204.9" r="5.8"/>
<circle cx="232.9" cy="60.6" r="5.8"/>
<circle cx="228.9" cy="64.9" r="5.8"/>
<circle cx="169.8" cy="126.7" r="5.8"/>
<circle cx="229.4" cy="63.3" r="5.8"/>
<circle cx="93.1" cy="196.9" r="5.8"/>
<circle cx="112.9" cy="186.5" r="5.8"/>
<circle cx="99.7" cy="196.6" r="5.8"/>
<circle cx="159.9" cy="140.2" r="5.8"/>
<circle cx="93.9" cy="189.5" r="5.8"/>
<circle cx="136.4" cy="157.6" r="5.8"/>
<circle cx="204.4" cy="92.5" r="5.8"/>
<circle cx="229.5" cy="65.8" r="5.8"/>
<circle cx="229" cy="68" r="5.8"/>
<circle cx="230.8" cy="66.1" r="5.8"/>
<circle cx="92.7" cy="198.3" r="5.8"/>
<circle cx="189.4" cy="109.4" r="5.8"/>
<circle cx="100.7" cy="190.7" r="5.8"/>
<circle cx="125.3" cy="178.1" r="5.8"/>
<circle cx="143.3" cy="158.1" r="5.8"/>
<circle cx="211.3" cy="89.7" r="5.8"/>
<circle cx="123.9" cy="176.7" r="5.8"/>
<circle cx="142.8" cy="160.5" r="5.8"/>
<circle cx="212.5" cy="84.5" r="5.8"/>
<circle cx="111.9" cy="185" r="5.8"/>
<circle cx="199.6" cy="96.6" r="5.8"/>
<circle cx="135" cy="175.9" r="5.8"/>
<circle cx="220.6" cy="76" r="5.8"/>
<circle cx="240.1" cy="54.7" r="5.8"/>
<circle cx="213" cy="85.9" r="5.8"/>
<circle cx="223.3" cy="75.2" r="5.8"/>
<circle cx="134" cy="173.7" r="5.8"/>
<circle cx="210.7" cy="86" r="5.8"/>
<circle cx="179.4" cy="125.7" r="5.8"/>
<circle cx="195.5" cy="98.4" r="5.8"/>
<circle cx="85.2" cy="203" r="5.8"/>
<circle cx="201.6" cy="96.1" r="5.8"/>
<circle cx="225.6" cy="69.1" r="5.8"/>
<circle cx="162.9" cy="135.2" r="5.8"/>
<circle cx="115.5" cy="177.2" r="5.8"/>
<circle cx="161.2" cy="134.3" r="5.8"/>
<circle cx="228.7" cy="66.5" r="5.8"/>
<circle cx="177.6" cy="125.4" r="5.8"/>
<circle cx="144.5" cy="162" r="5.8"/>
<circle cx="112.1" cy="178.3" r="5.8"/>
<circle cx="229.6" cy="64.1" r="5.8"/>
<circle cx="233.6" cy="59" r="5.8"/>
<circle cx="206.8" cy="92.8" r="5.8"/>
<circle cx="219.4" cy="78.8" r="5.8"/>
<circle cx="87.3" cy="192.2" r="5.8"/>
<circle cx="222.5" cy="72.9" r="5.8"/>
<circle cx="223" cy="71.1" r="5.8"/>
<circle cx="170.7" cy="132.5" r="5.8"/>
<circle cx="103.8" cy="192.2" r="5.8"/>
<circle cx="242.5" cy="49.9" r="5.8"/>
<circle cx="178.4" cy="111.7" r="5.8"/>
<circle cx="135.3" cy="155.6" r="5.8"/>
<circle cx="201" cy="101.5" r="5.8"/>
<circle cx="179.8" cy="119.4" r="5.8"/>
<circle cx="151.5" cy="153.2" r="5.8"/>
<circle cx="226.4" cy="67.6" r="5.8"/>
<circle cx="239.3" cy="55.8" r="5.8"/>
<circle cx="208" cy="92.4" r="5.8"/>
<circle cx="168.6" cy="131.9" r="5.8"/>
<circle cx="153" cy="154.7" r="5.8"/>
<circle cx="206.2" cy="95.9" r="5.8"/>
<circle cx="228.3" cy="67.1" r="5.8"/>
<circle cx="201.6" cy="97.7" r="5.8"/>
<circle cx="159" cy="145.3" r="5.8"/>
<circle cx="119.8" cy="182" r="5.8"/>
<circle cx="89.8" cy="211.7" r="5.8"/>
<circle cx="213.7" cy="83.9" r="5.8"/>
<circle cx="201.4" cy="94.9" r="5.8"/>
<circle cx="150.9" cy="152.8" r="5.8"/>
<circle cx="186.8" cy="103.7" r="5.8"/>
<circle cx="104.6" cy="195.2" r="5.8"/>
<circle cx="206.5" cy="93.6" r="5.8"/>
<circle cx="222.4" cy="74" r="5.8"/>
<circle cx="140.1" cy="168" r="5.8"/>
<circle cx="175" cy="124.7" r="5.8"/>
<circle cx="110.9" cy="194.4" r="5.8"/>
<circle cx="150.6" cy="160.5" r="5.8"/>
<circle cx="210.9" cy="87.6" r="5.8"/>
<circle cx="122.6" cy="181.5" r="5.8"/>
<circle cx="138.7" cy="172.6" r="5.8"/>
<circle cx="114.3" cy="179.5" r="5.8"/>
<circle cx="188.9" cy="104.2" r="5.8"/>
<circle cx="147.1" cy="159.2" r="5.8"/>
<circle cx="116.2" cy="174.1" r="5.8"/>
<circle cx="169.1" cy="133.1" r="5.8"/>
<circle cx="139" cy="157.9" r="5.8"/>
<circle cx="132.5" cy="175.4" r="5.8"/>
<circle cx="220.1" cy="78.4" r="5.8"/>
<circle cx="242.9" cy="48.3" r="5.8"/>
<circle cx="192.3" cy="100.2" r="5.8"/>
<circle cx="165.2" cy="141.3" r="5.8"/>
<circle cx="112.3" cy="189.7" r="5.8"/>
<circle cx="89.5" cy="193" r="5.8"/>
<circle cx="230.3" cy="66.9" r="5.8"/>
<circle cx="95.8" cy="198.3" r="5.8"/>
<circle cx="139.8" cy="164.3" r="5.8"/>
<circle cx="212.7" cy="84.1" r="5.8"/>
<circle cx="189.8" cy="107.2" r="5.8"/>
<circle cx="161.3" cy="142.9" r="5.8"/>
<circle cx="103.8" cy="193.4" r="5.8"/>
<circle cx="165.9" cy="138.3" r="5.8"/>
<circle cx="160" cy="144.6" r="5.8"/>
<circle cx="125.5" cy="180.7" r="5.8"/>
<circle cx="221.4" cy="77.8" r="5.8"/>
<circle cx="192.6" cy="104.8" r="5.8"/>
<circle cx="150.2" cy="150.5" r="5.8"/>
<circle cx="231.2" cy="61" r="5.8"/>
<circle cx="216.4" cy="81.6" r="5.8"/>
<circle cx="135.6" cy="165.1" r="5.8"/>
<circle cx="110" cy="190.5" r="5.8"/>
<circle cx="224.6" cy="72.9" r="5.8"/>
<circle cx="203.1" cy="95.1" r="5.8"/>
<circle cx="190" cy="110.6" r="5.8"/>
<circle cx="173.6" cy="126.8" r="5.8"/>
<circle cx="86.3" cy="196.8" r="5.8"/>
<circle cx="218.7" cy="81.2" r="5.8"/>
<circle cx="237.1" cy="57.6" r="5.8"/>
<circle cx="236.1" cy="57.7" r="5.8"/>
<circle cx="108.7" cy="192.2" r="5.8"/>
<circle cx="157.8" cy="146.9" r="5.8"/>
<circle cx="241.2" cy="51.8" r="5.8"/>
<circle cx="208.3" cy="89.9" r="5.8"/>
<circle cx="202.4" cy="95.4" r="5.8"/>
<circle cx="230.9" cy="62.8" r="5.8"/>
<circle cx="112.5" cy="181.3" r="5.8"/>
<circle cx="193.2" cy="101.2" r="5.8"/>
<circle cx="87.3" cy="191.2" r="5.8"/>
<circle cx="166.5" cy="129" r="5.8"/>
<circle cx="162" cy="136.9" r="5.8"/>
<circle cx="93.7" cy="199.1" r="5.8"/>
<circle cx="130.3" cy="178.4" r="5.8"/>
<circle cx="117.3" cy="184.5" r="5.8"/>
<circle cx="213.5" cy="86.6" r="5.8"/>
<circle cx="114.5" cy="192.9" r="5.8"/>
<circle cx="226.2" cy="67.2" r="5.8"/>
<circle cx="108.7" cy="186.8" r="5.8"/>
<circle cx="103.8" cy="189.9" r="5.8"/>
<circle cx="200.5" cy="98.9" r="5.8"/>
<circle cx="210.8" cy="86.9" r="5.8"/>
<circle cx="243.4" cy="51.4" r="5.8"/>
<circle cx="194.5" cy="105.1" r="5.8"/>
<circle cx="164.8" cy="135.1" r="5.8"/>
<circle cx="179.9" cy="108.3" r="5.8"/>
<circle cx="151.3" cy="154.3" r="5.8"/>
<circle cx="203.2" cy="93.9" r="5.8"/>
<circle cx="186.2" cy="109" r="5.8"/>
<circle cx="177.1" cy="126.6" r="5.8"/>
<circle cx="164.4" cy="146.7" r="5.8"/>
<circle cx="126.8" cy="173.5" r="5.8"/>
<circle cx="163.9" cy="135.3" r="5.8"/>
<circle cx="174.1" cy="127.4" r="5.8"/>
<circle cx="185.3" cy="106.9" r="5.8"/>
<circle cx="242.6" cy="49.4" r="5.8"/>
<circle cx="175.9" cy="127.6" r="5.8"/>
<circle cx="141.1" cy="161.2" r="5.8"/>
<circle cx="110.6" cy="186.9" r="5.8"/>
<circle cx="222.4" cy="74.8" r="5.8"/>
<circle cx="97.5" cy="193.8" r="5.8"/>
<circle cx="138.1" cy="163" r="5.8"/>
<circle cx="225.2" cy="69.8" r="5.8"/>
<circle cx="235.3" cy="58.2" r="5.8"/>
<circle cx="87.1" cy="209.6" r="5.8"/>
<circle cx="178.3" cy="115.7" r="5.8"/>
<circle cx="150.5" cy="156.5" r="5.8"/>
<circle cx="104" cy="189.9" r="5.8"/>
<circle cx="108.8" cy="190.4" r="5.8"/>
<circle cx="150" cy="158.4" r="5.8"/>
<circle cx="180.9" cy="111" r="5.8"/>
<circle cx="163.5" cy="148.4" r="5.8"/>
<circle cx="157.8" cy="153.3" r="5.8"/>
<circle cx="116.2" cy="172.5" r="5.8"/>
<circle cx="233.2" cy="61.9" r="5.8"/>
<circle cx="202.2" cy="93.2" r="5.8"/>
<circle cx="142.2" cy="160.1" r="5.8"/>
<circle cx="119.7" cy="177.3" r="5.8"/>
<circle cx="240.1" cy="53.5" r="5.8"/>
<circle cx="231.5" cy="65.2" r="5.8"/>
<circle cx="174.5" cy="127.2" r="5.8"/>
<circle cx="217.9" cy="78.6" r="5.8"/>
<circle cx="114.7" cy="177.5" r="5.8"/>
<circle cx="124.6" cy="175.4" r="5.8"/>
<circle cx="134.5" cy="165.2" r="5.8"/>
<circle cx="112.9" cy="187.3" r="5.8"/>
<circle cx="117" cy="188.5" r="5.8"/>
<circle cx="161.3" cy="144.3" r="5.8"/>
</g>
<circle cx="241.8" cy="50.3" r="5.8" fill="#6464ff" fill-opacity="0.95"/>
<circle cx="259.3" cy="50.3" r="5.8" fill="#6464ff" fill-opacity="0.85"/>
<path d="M214.8 83.6L216 82.1L217.2 80.7L218.5 79.2L219.7 77.8L220.8 76.3L222 74.8L223.2 73.3L224.4 71.9L225.5 70.4L226.7 68.9L227.9 67.4L229 66L230.3 64.5L231.5 63.1L232.7 61.7L233.9 60.2L235.2 58.8L236.4 57.4L237.6 55.9L238.8 54.5L240.1 53.1L241.3 51.7L242.7 50.3L244 49" fill="none" stroke="#6464ff" stroke-width="14.6" stroke-linecap="round" stroke-linejoin="round"/>
<path d="M199.3 100.1L200 99.5L200.7 98.8L201.4 98.2L202.1 97.6L202.8 96.9L203.6 96.3L204.3 95.7L205 95.1L205.7 94.4L206.4 93.8L207.1 93.2L207.8 92.5L208.5 91.9L209.2 91.3L209.9 90.6L210.6 90L211.3 89.2L211.9 88.5L212.5 87.8L213.1 87.1L213.7 86.4L214.4 85.6L215 84.9L215.6 84.2" fill="none" stroke="#babac0" stroke-width="5.5" stroke-linecap="round" stroke-linejoin="round"/>
<path d="M215.7 84.3L216.9 82.9L218.2 81.4L219.4 80L220.6 78.5L221.8 77L222.9 75.6L224.1 74.1L225.3 72.6L226.5 71.1L227.6 69.7L228.8 68.2L230 66.7L231.2 65.3L232.4 63.9L233.6 62.4L234.8 61L236.1 59.6L237.3 58.1L238.5 56.7L239.7 55.3L241 53.8L242.2 52.5L243.5 51.2L244.8 49.8" fill="none" stroke="#9c9cd0" stroke-width="12" stroke-linecap="round" stroke-linejoin="round"/>
<path d="M216.5 85L217.7 83.5L218.9 82.1L220.1 80.7L221.4 79.1L222.6 77.7L223.7 76.2L224.9 74.7L226.1 73.2L227.2 71.8L228.4 70.3L229.6 68.8L230.8 67.3L231.9 65.9L233.2 64.5L234.4 63.1L235.6 61.6L236.8 60.2L238.1 58.8L239.3 57.3L240.5 55.9L241.7 54.5L242.9 53.2L244.2 51.9L245.6 50.6" fill="none" stroke="#babac0" stroke-width="10.4" stroke-linecap="round" stroke-linejoin="round"/>
<line x1="252.8" y1="49.5" x2="252.8" y2="38" stroke="#babac0" stroke-width="11.6" stroke-linecap="round"/>
<circle cx="252.7" cy="35.2" r="5.8" fill="#6464ff" fill-opacity="1"/>
</g>
<rect x="72.7" y="25.8" width="194" height="189" fill="none" stroke="#000" stroke-width="1.3"/>
<line x1="161.2" y1="214.8" x2="161.2" y2="211.3" stroke="#000" stroke-width="1.2" />
<line x1="161.2" y1="25.8" x2="161.2" y2="29.3" stroke="#000" stroke-width="1.2" />
<text x="161.2" y="230.4" font-size="16.8" text-anchor="middle">−2</text>
<line x1="252.5" y1="214.8" x2="252.5" y2="211.3" stroke="#000" stroke-width="1.2" />
<line x1="252.5" y1="25.8" x2="252.5" y2="29.3" stroke="#000" stroke-width="1.2" />
<text x="252.5" y="230.4" font-size="16.8" text-anchor="middle">0</text>
<line x1="72.7" y1="210.9" x2="76.2" y2="210.9" stroke="#000" stroke-width="1.2" />
<line x1="266.7" y1="210.9" x2="263.2" y2="210.9" stroke="#000" stroke-width="1.2" />
<text x="70.5" y="216.9" font-size="16.8" text-anchor="end">0</text>
<line x1="72.7" y1="162.3" x2="76.2" y2="162.3" stroke="#000" stroke-width="1.2" />
<line x1="266.7" y1="162.3" x2="263.2" y2="162.3" stroke="#000" stroke-width="1.2" />
<text x="70.5" y="168.3" font-size="16.8" text-anchor="end">1</text>
<line x1="72.7" y1="113.5" x2="76.2" y2="113.5" stroke="#000" stroke-width="1.2" />
<line x1="266.7" y1="113.5" x2="263.2" y2="113.5" stroke="#000" stroke-width="1.2" />
<text x="70.5" y="119.5" font-size="16.8" text-anchor="end">2</text>
<line x1="72.7" y1="64.9" x2="76.2" y2="64.9" stroke="#000" stroke-width="1.2" />
<line x1="266.7" y1="64.9" x2="263.2" y2="64.9" stroke="#000" stroke-width="1.2" />
<text x="70.5" y="70.9" font-size="16.8" text-anchor="end">3</text>
</g>
<path d="M99.8 36.4L104.5 44.2L99.8 52L95.1 44.2Z" fill="#a0148c" fill-opacity="0.42"/>
<path d="M99.8 59.7L105.8 70.7L93.8 70.7Z" fill="#a5640a" fill-opacity="0.45"/>
<circle cx="99.8" cy="86" r="6" fill="#6464ff" fill-opacity="0.4"/>
<text x="126.4" y="49.4" font-size="14.7">Up</text>
<text x="126.4" y="70" font-size="14.7">Upper left</text>
<text x="126.4" y="91.2" font-size="14.7">Left</text>
<text x="3.5" y="36.8" font-size="27.5" font-weight="bold">(a)</text>
<text x="73" y="23.9" font-size="15" class="dj">×</text>
<text x="85.8" y="23.9" font-size="16.8">10</text>
<text x="106.6" y="12.6" font-size="12.3">−8</text>
<text x="219.7" y="252.7" font-size="15" class="dj">×</text>
<text x="232.5" y="252.7" font-size="16.8">10</text>
<text x="253.3" y="241.4" font-size="12.3">−8</text>
<g transform="translate(54.2 120) rotate(-90)">
<text x="-29.9" y="0" font-size="17.2" font-style="italic">E</text>
<text x="-18.4" y="3.4" font-size="12.2" font-style="italic">d</text>
<text x="-6.8" y="0" font-size="17.2">(erg)</text>
</g>
<text x="153.5" y="253.8" font-size="18.6" font-style="italic">β</text>
<text x="156.4" y="249.5" font-size="18.5" font-style="italic">ˆ</text>
<text x="166.4" y="249.2" font-size="12.2" font-style="italic">d</text>
<text x="173.8" y="253.8" font-size="17.2" font-style="italic">X</text>
<g id="pb">
<clipPath id="clip_pb"><rect x="401" y="25.8" width="193.5" height="189"/></clipPath>
<g clip-path="url(#clip_pb)">
<path d="M535.5 72.4L539.2 78L535.5 83.6L531.8 78ZM527.9 84.5L531.6 90.1L527.9 95.7L524.2 90.1ZM494.2 107L497.9 112.6L494.2 118.2L490.5 112.6ZM429.8 175.1L433.5 180.7L429.8 186.3L426.1 180.7ZM420.8 185.2L424.5 190.8L420.8 196.4L417.1 190.8ZM562.3 51.6L566 57.2L562.3 62.8L558.6 57.2ZM544.7 68.7L548.4 74.3L544.7 79.9L541 74.3ZM518 99.1L521.7 104.7L518 110.3L514.3 104.7ZM492.3 115.2L496 120.8L492.3 126.4L488.6 120.8ZM521.9 95.7L525.6 101.3L521.9 106.9L518.2 101.3ZM542.6 70.9L546.3 76.5L542.6 82.1L538.9 76.5ZM468.2 139.5L471.9 145.1L468.2 150.7L464.5 145.1ZM564.9 52.1L568.6 57.7L564.9 63.3L561.2 57.7ZM448.9 155.6L452.6 161.2L448.9 166.8L445.2 161.2ZM528.8 80.1L532.5 85.7L528.8 91.3L525.1 85.7ZM492.5 113.1L496.2 118.7L492.5 124.3L488.8 118.7ZM475.9 128.4L479.6 134L475.9 139.6L472.2 134ZM447.5 154L451.2 159.6L447.5 165.2L443.8 159.6ZM454 144.9L457.7 150.5L454 156.1L450.3 150.5ZM479.4 125.3L483.1 130.9L479.4 136.5L475.7 130.9ZM554 61.3L557.7 66.9L554 72.5L550.3 66.9ZM558.5 58.9L562.2 64.5L558.5 70.1L554.8 64.5ZM561.9 38.8L565.6 44.4L561.9 50L558.2 44.4ZM523 90.7L526.7 96.3L523 101.9L519.3 96.3ZM441.8 157.1L445.5 162.7L441.8 168.3L438.1 162.7ZM539.4 70.2L543.1 75.8L539.4 81.4L535.7 75.8ZM464.7 140.9L468.4 146.5L464.7 152.1L461 146.5ZM455.7 143.1L459.4 148.7L455.7 154.3L452 148.7ZM477.8 132.2L481.5 137.8L477.8 143.4L474.1 137.8ZM446.3 154.7L450 160.3L446.3 165.9L442.6 160.3ZM563.2 55.4L566.9 61L563.2 66.6L559.5 61ZM422.7 183.7L426.4 189.3L422.7 194.9L419 189.3ZM561.1 57.7L564.8 63.3L561.1 68.9L557.4 63.3ZM477.6 128.3L481.3 133.9L477.6 139.5L473.9 133.9ZM546.3 60.9L550 66.5L546.3 72.1L542.6 66.5ZM537 70.1L540.7 75.7L537 81.3L533.3 75.7ZM425.7 178L429.4 183.6L425.7 189.2L422 183.6ZM425.4 179.7L429.1 185.3L425.4 190.9L421.7 185.3ZM543 70.3L546.7 75.9L543 81.5L539.3 75.9ZM464.2 139.8L467.9 145.4L464.2 151L460.5 145.4ZM527.2 83.8L530.9 89.4L527.2 95L523.5 89.4ZM434.8 171.5L438.5 177.1L434.8 182.7L431.1 177.1ZM441.6 164.7L445.3 170.3L441.6 175.9L437.9 170.3ZM420 185L423.7 190.6L420 196.2L416.3 190.6ZM487.3 120.5L491 126.1L487.3 131.7L483.6 126.1ZM432.2 173.3L435.9 178.9L432.2 184.5L428.5 178.9ZM487.2 116.8L490.9 122.4L487.2 128L483.5 122.4ZM472.4 138L476.1 143.6L472.4 149.2L468.7 143.6ZM455.9 146.1L459.6 151.7L455.9 157.3L452.2 151.7ZM474.4 136.5L478.1 142.1L474.4 147.7L470.7 142.1ZM498.6 107.3L502.3 112.9L498.6 118.5L494.9 112.9ZM443 152.3L446.7 157.9L443 163.5L439.3 157.9ZM454.1 151L457.8 156.6L454.1 162.2L450.4 156.6ZM426.7 178.4L430.4 184L426.7 189.6L423 184ZM533.2 77.8L536.9 83.4L533.2 89L529.5 83.4ZM507 102.3L510.7 107.9L507 113.5L503.3 107.9ZM422.4 183.1L426.1 188.7L422.4 194.3L418.7 188.7ZM529.7 83.7L533.4 89.3L529.7 94.9L526 89.3ZM450.2 155.2L453.9 160.8L450.2 166.4L446.5 160.8ZM559.6 53.7L563.3 59.3L559.6 64.9L555.9 59.3ZM484.3 118.4L488 124L484.3 129.6L480.6 124ZM493.6 108.4L497.3 114L493.6 119.6L489.9 114ZM532.9 77.1L536.6 82.7L532.9 88.3L529.2 82.7ZM529.8 79L533.5 84.6L529.8 90.2L526.1 84.6ZM508.2 102.9L511.9 108.5L508.2 114.1L504.5 108.5ZM517.7 96.8L521.4 102.4L517.7 108L514 102.4ZM485.3 119.2L489 124.8L485.3 130.4L481.6 124.8ZM537.8 70.2L541.5 75.8L537.8 81.4L534.1 75.8ZM455.7 143.4L459.4 149L455.7 154.6L452 149ZM547 63.3L550.7 68.9L547 74.5L543.3 68.9ZM546 64.8L549.7 70.4L546 76L542.3 70.4ZM430.4 174.6L434.1 180.2L430.4 185.8L426.7 180.2ZM455.3 153.4L459 159L455.3 164.6L451.6 159ZM485.9 118.6L489.6 124.2L485.9 129.8L482.2 124.2ZM500.8 103.2L504.5 108.8L500.8 114.4L497.1 108.8ZM476.3 126.4L480 132L476.3 137.6L472.6 132ZM491.9 116.9L495.6 122.5L491.9 128.1L488.2 122.5ZM564.7 38.2L568.4 43.8L564.7 49.4L561 43.8ZM514.2 100.1L517.9 105.7L514.2 111.3L510.5 105.7ZM483 128.4L486.7 134L483 139.6L479.3 134ZM463.3 140.4L467 146L463.3 151.6L459.6 146ZM476 128.7L479.7 134.3L476 139.9L472.3 134.3ZM519.6 99.2L523.3 104.8L519.6 110.4L515.9 104.8ZM451.7 155.8L455.4 161.4L451.7 167L448 161.4ZM468.3 138.6L472 144.2L468.3 149.8L464.6 144.2ZM430 176.2L433.7 181.8L430 187.4L426.3 181.8ZM465.6 144.1L469.3 149.7L465.6 155.3L461.9 149.7ZM432.4 174.3L436.1 179.9L432.4 185.5L428.7 179.9ZM561.9 57.5L565.6 63.1L561.9 68.7L558.2 63.1ZM519.3 96.7L523 102.3L519.3 107.9L515.6 102.3ZM515.5 101.3L519.2 106.9L515.5 112.5L511.8 106.9ZM503.1 105.6L506.8 111.2L503.1 116.8L499.4 111.2ZM526 82.6L529.7 88.2L526 93.8L522.3 88.2ZM490.5 113L494.2 118.6L490.5 124.2L486.8 118.6ZM438.8 166.3L442.5 171.9L438.8 177.5L435.1 171.9ZM474.5 127.2L478.2 132.8L474.5 138.4L470.8 132.8ZM559.2 58.6L562.9 64.2L559.2 69.8L555.5 64.2ZM529 84.7L532.7 90.3L529 95.9L525.3 90.3ZM486.1 126.2L489.8 131.8L486.1 137.4L482.4 131.8ZM490.9 112.7L494.6 118.3L490.9 123.9L487.2 118.3ZM494.6 110.3L498.3 115.9L494.6 121.5L490.9 115.9ZM448.8 154.8L452.5 160.4L448.8 166L445.1 160.4ZM486.5 127.8L490.2 133.4L486.5 139L482.8 133.4ZM511.1 102.1L514.8 107.7L511.1 113.3L507.4 107.7ZM464.2 142.2L467.9 147.8L464.2 153.4L460.5 147.8ZM491.4 118.2L495.1 123.8L491.4 129.4L487.7 123.8ZM560.7 59.2L564.4 64.8L560.7 70.4L557 64.8ZM529.6 76.2L533.3 81.8L529.6 87.4L525.9 81.8ZM454.7 148.1L458.4 153.7L454.7 159.3L451 153.7ZM564.9 48.3L568.6 53.9L564.9 59.5L561.2 53.9ZM468.8 139.7L472.5 145.3L468.8 150.9L465.1 145.3ZM454.4 156.1L458.1 161.7L454.4 167.3L450.7 161.7ZM544.5 68.5L548.2 74.1L544.5 79.7L540.8 74.1ZM459.3 145.6L463 151.2L459.3 156.8L455.6 151.2ZM475.6 138L479.3 143.6L475.6 149.2L471.9 143.6ZM465.6 139.4L469.3 145L465.6 150.6L461.9 145ZM528.1 80.3L531.8 85.9L528.1 91.5L524.4 85.9ZM535.5 73.2L539.2 78.8L535.5 84.4L531.8 78.8ZM506.5 102.7L510.2 108.3L506.5 113.9L502.8 108.3ZM420.1 184.7L423.8 190.3L420.1 195.9L416.4 190.3ZM462.2 144.8L465.9 150.4L462.2 156L458.5 150.4ZM476.2 135.8L479.9 141.4L476.2 147L472.5 141.4ZM442.8 162.4L446.5 168L442.8 173.6L439.1 168ZM477.1 129L480.8 134.6L477.1 140.2L473.4 134.6ZM559.1 55.5L562.8 61.1L559.1 66.7L555.4 61.1ZM554.3 57.9L558 63.5L554.3 69.1L550.6 63.5ZM419.8 191.9L423.5 197.5L419.8 203.1L416.1 197.5ZM502.2 106.4L505.9 112L502.2 117.6L498.5 112ZM442.2 160.7L445.9 166.3L442.2 171.9L438.5 166.3ZM585.7 33.4L589.4 39L585.7 44.6L582 39ZM534.8 75.9L538.5 81.5L534.8 87.1L531.1 81.5ZM570.6 39L574.3 44.6L570.6 50.2L566.9 44.6ZM584.5 33.9L588.2 39.5L584.5 45.1L580.8 39.5ZM470 136L473.7 141.6L470 147.2L466.3 141.6ZM497.9 104.5L501.6 110.1L497.9 115.7L494.2 110.1ZM424.7 181.4L428.4 187L424.7 192.6L421 187ZM511.6 101.5L515.3 107.1L511.6 112.7L507.9 107.1ZM453.7 146.8L457.4 152.4L453.7 158L450 152.4ZM456.3 144.7L460 150.3L456.3 155.9L452.6 150.3ZM557.3 57.4L561 63L557.3 68.6L553.6 63ZM460.3 144.6L464 150.2L460.3 155.8L456.6 150.2ZM548.5 60.5L552.2 66.1L548.5 71.7L544.8 66.1ZM438.1 168L441.8 173.6L438.1 179.2L434.4 173.6ZM529.4 90.3L533.1 95.9L529.4 101.5L525.7 95.9ZM511.3 100.4L515 106L511.3 111.6L507.6 106ZM464.3 140L468 145.6L464.3 151.2L460.6 145.6ZM581.7 32.2L585.4 37.8L581.7 43.4L578 37.8ZM474.5 135.3L478.2 140.9L474.5 146.5L470.8 140.9ZM544.9 67.8L548.6 73.4L544.9 79L541.2 73.4ZM454.2 149L457.9 154.6L454.2 160.2L450.5 154.6ZM558.6 55.2L562.3 60.8L558.6 66.4L554.9 60.8ZM566.6 39.5L570.3 45.1L566.6 50.7L562.9 45.1ZM455.4 153.5L459.1 159.1L455.4 164.7L451.7 159.1ZM519.3 93L523 98.6L519.3 104.2L515.6 98.6ZM464.1 140.7L467.8 146.3L464.1 151.9L460.4 146.3ZM427.8 176.7L431.5 182.3L427.8 187.9L424.1 182.3ZM477.6 135.5L481.3 141.1L477.6 146.7L473.9 141.1ZM502.7 107.9L506.4 113.5L502.7 119.1L499 113.5ZM542.6 69.8L546.3 75.4L542.6 81L538.9 75.4ZM475.9 140.6L479.6 146.2L475.9 151.8L472.2 146.2ZM546.5 61.3L550.2 66.9L546.5 72.5L542.8 66.9ZM518.1 93.9L521.8 99.5L518.1 105.1L514.4 99.5ZM562.2 53.2L565.9 58.8L562.2 64.4L558.5 58.8ZM471.3 138.5L475 144.1L471.3 149.7L467.6 144.1ZM447.8 153.7L451.5 159.3L447.8 164.9L444.1 159.3ZM421 185.3L424.7 190.9L421 196.5L417.3 190.9ZM465.7 138.8L469.4 144.4L465.7 150L462 144.4ZM509.6 101.8L513.3 107.4L509.6 113L505.9 107.4ZM480.9 127.5L484.6 133.1L480.9 138.7L477.2 133.1ZM436.1 168.8L439.8 174.4L436.1 180L432.4 174.4ZM526.2 90.7L529.9 96.3L526.2 101.9L522.5 96.3ZM502.7 108.4L506.4 114L502.7 119.6L499 114ZM540.7 71.5L544.4 77.1L540.7 82.7L537 77.1ZM582.9 37.6L586.6 43.2L582.9 48.8L579.2 43.2ZM436.1 168.9L439.8 174.5L436.1 180.1L432.4 174.5ZM527.2 90.5L530.9 96.1L527.2 101.7L523.5 96.1ZM562.7 57.7L566.4 63.3L562.7 68.9L559 63.3ZM461.1 144L464.8 149.6L461.1 155.2L457.4 149.6ZM536 71.8L539.7 77.4L536 83L532.3 77.4ZM466.9 140.5L470.6 146.1L466.9 151.7L463.2 146.1ZM525.3 91.9L529 97.5L525.3 103.1L521.6 97.5ZM535.6 73.3L539.3 78.9L535.6 84.5L531.9 78.9ZM440.2 164.6L443.9 170.2L440.2 175.8L436.5 170.2ZM525.8 90.7L529.5 96.3L525.8 101.9L522.1 96.3ZM442.3 157.9L446 163.5L442.3 169.1L438.6 163.5ZM530.5 81.9L534.2 87.5L530.5 93.1L526.8 87.5ZM460.7 143.2L464.4 148.8L460.7 154.4L457 148.8ZM462.4 143.2L466.1 148.8L462.4 154.4L458.7 148.8ZM565.4 42.5L569.1 48.1L565.4 53.7L561.7 48.1ZM433.3 172.3L437 177.9L433.3 183.5L429.6 177.9ZM426.1 178.8L429.8 184.4L426.1 190L422.4 184.4ZM463.7 142.1L467.4 147.7L463.7 153.3L460 147.7ZM498.5 105.8L502.2 111.4L498.5 117L494.8 111.4ZM422.9 181.8L426.6 187.4L422.9 193L419.2 187.4ZM430.3 173.9L434 179.5L430.3 185.1L426.6 179.5ZM445.5 155.8L449.2 161.4L445.5 167L441.8 161.4ZM566.8 41.1L570.5 46.7L566.8 52.3L563.1 46.7ZM454.6 156.9L458.3 162.5L454.6 168.1L450.9 162.5ZM532.8 77.6L536.5 83.2L532.8 88.8L529.1 83.2ZM431.9 173.9L435.6 179.5L431.9 185.1L428.2 179.5ZM455.1 152.1L458.8 157.7L455.1 163.3L451.4 157.7ZM485 124.7L488.7 130.3L485 135.9L481.3 130.3ZM452 154.5L455.7 160.1L452 165.7L448.3 160.1ZM439 165.2L442.7 170.8L439 176.4L435.3 170.8ZM501 105.3L504.7 110.9L501 116.5L497.3 110.9ZM444 160.7L447.7 166.3L444 171.9L440.3 166.3ZM556.7 59.6L560.4 65.2L556.7 70.8L553 65.2ZM530.6 80L534.3 85.6L530.6 91.2L526.9 85.6ZM496.3 106.3L500 111.9L496.3 117.5L492.6 111.9ZM550.7 61.8L554.4 67.4L550.7 73L547 67.4ZM485.4 121.7L489.1 127.3L485.4 132.9L481.7 127.3ZM501.9 107.3L505.6 112.9L501.9 118.5L498.2 112.9ZM585.3 40.3L589 45.9L585.3 51.5L581.6 45.9ZM562.7 50.7L566.4 56.3L562.7 61.9L559 56.3ZM515.4 100.8L519.1 106.4L515.4 112L511.7 106.4ZM517.6 98.4L521.3 104L517.6 109.6L513.9 104ZM423.7 181.7L427.4 187.3L423.7 192.9L420 187.3ZM567.2 39.5L570.9 45.1L567.2 50.7L563.5 45.1ZM496.3 108.1L500 113.7L496.3 119.3L492.6 113.7ZM478.3 137.1L482 142.7L478.3 148.3L474.6 142.7ZM493.2 111.7L496.9 117.3L493.2 122.9L489.5 117.3ZM449.1 153.6L452.8 159.2L449.1 164.8L445.4 159.2ZM464.9 141.9L468.6 147.5L464.9 153.1L461.2 147.5ZM558.4 57.8L562.1 63.4L558.4 69L554.7 63.4ZM583.9 33.8L587.6 39.4L583.9 45L580.2 39.4ZM534.5 69.3L538.2 74.9L534.5 80.5L530.8 74.9ZM473.3 139.9L477 145.5L473.3 151.1L469.6 145.5ZM526 85.2L529.7 90.8L526 96.4L522.3 90.8ZM424.8 182.3L428.5 187.9L424.8 193.5L421.1 187.9ZM565.4 41.9L569.1 47.5L565.4 53.1L561.7 47.5ZM566.4 47.9L570.1 53.5L566.4 59.1L562.7 53.5ZM565.5 48.2L569.2 53.8L565.5 59.4L561.8 53.8ZM492.7 113.5L496.4 119.1L492.7 124.7L489 119.1ZM455.9 143.7L459.6 149.3L455.9 154.9L452.2 149.3ZM489.5 116L493.2 121.6L489.5 127.2L485.8 121.6ZM430.8 174.9L434.5 180.5L430.8 186.1L427.1 180.5ZM527.2 88.7L530.9 94.3L527.2 99.9L523.5 94.3ZM481.3 129.4L485 135L481.3 140.6L477.6 135ZM511.3 102.4L515 108L511.3 113.6L507.6 108ZM428.3 175.6L432 181.2L428.3 186.8L424.6 181.2ZM421.2 185.5L424.9 191.1L421.2 196.7L417.5 191.1ZM561.7 56.1L565.4 61.7L561.7 67.3L558 61.7ZM534.8 73.1L538.5 78.7L534.8 84.3L531.1 78.7ZM544.6 67.5L548.3 73.1L544.6 78.7L540.9 73.1ZM423.1 182.3L426.8 187.9L423.1 193.5L419.4 187.9ZM507.4 103.1L511.1 108.7L507.4 114.3L503.7 108.7ZM421.5 184.7L425.2 190.3L421.5 195.9L417.8 190.3ZM518.7 95.1L522.4 100.7L518.7 106.3L515 100.7ZM474.9 138.4L478.6 144L474.9 149.6L471.2 144ZM475.9 139.4L479.6 145L475.9 150.6L472.2 145ZM457 144.6L460.7 150.2L457 155.8L453.3 150.2ZM548 59.8L551.7 65.4L548 71L544.3 65.4ZM523.4 89.6L527.1 95.2L523.4 100.8L519.7 95.2ZM513.4 103.1L517.1 108.7L513.4 114.3L509.7 108.7ZM476.2 132.3L479.9 137.9L476.2 143.5L472.5 137.9ZM475.7 126.5L479.4 132.1L475.7 137.7L472 132.1ZM549.5 63.3L553.2 68.9L549.5 74.5L545.8 68.9ZM493.4 112.9L497.1 118.5L493.4 124.1L489.7 118.5ZM472.3 138.5L476 144.1L472.3 149.7L468.6 144.1ZM422.8 182.9L426.5 188.5L422.8 194.1L419.1 188.5ZM478.4 126.6L482.1 132.2L478.4 137.8L474.7 132.2ZM473.1 138.5L476.8 144.1L473.1 149.7L469.4 144.1ZM462.7 140.9L466.4 146.5L462.7 152.1L459 146.5ZM567.1 46.3L570.8 51.9L567.1 57.5L563.4 51.9ZM474.1 132L477.8 137.6L474.1 143.2L470.4 137.6ZM481.6 124.4L485.3 130L481.6 135.6L477.9 130ZM533.3 76L537 81.6L533.3 87.2L529.6 81.6ZM546.5 67L550.2 72.6L546.5 78.2L542.8 72.6ZM514.8 101.8L518.5 107.4L514.8 113L511.1 107.4ZM528.2 79.4L531.9 85L528.2 90.6L524.5 85ZM518.7 96.7L522.4 102.3L518.7 107.9L515 102.3ZM561.2 52.4L564.9 58L561.2 63.6L557.5 58ZM469 140.2L472.7 145.8L469 151.4L465.3 145.8ZM518.2 94.4L521.9 100L518.2 105.6L514.5 100ZM532.2 73.1L535.9 78.7L532.2 84.3L528.5 78.7ZM435.9 168L439.6 173.6L435.9 179.2L432.2 173.6ZM452.8 153.4L456.5 159L452.8 164.6L449.1 159ZM518 93.4L521.7 99L518 104.6L514.3 99Z" fill="#a0148c" fill-opacity="0.5"/>
<path d="M544.2 66.8L547.9 72.4L544.2 78L540.5 72.4ZM509 100.7L512.7 106.3L509 111.9L505.3 106.3ZM436.4 170.1L440.1 175.7L436.4 181.3L432.7 175.7ZM546.2 69.2L549.9 74.8L546.2 80.4L542.5 74.8ZM475 134.5L478.7 140.1L475 145.7L471.3 140.1ZM436.4 169L440.1 174.6L436.4 180.2L432.7 174.6ZM484.2 128.2L487.9 133.8L484.2 139.4L480.5 133.8ZM419.2 185.4L422.9 191L419.2 196.6L415.5 191ZM452.2 154.8L455.9 160.4L452.2 166L448.5 160.4ZM454.7 148.1L458.4 153.7L454.7 159.3L451 153.7ZM487 126.2L490.7 131.8L487 137.4L483.3 131.8ZM436.1 169.5L439.8 175.1L436.1 180.7L432.4 175.1ZM546.7 57.7L550.4 63.3L546.7 68.9L543 63.3ZM529.1 87.4L532.8 93L529.1 98.6L525.4 93ZM435.5 170.3L439.2 175.9L435.5 181.5L431.8 175.9ZM546.6 63.2L550.3 68.8L546.6 74.4L542.9 68.8ZM453.9 151.6L457.6 157.2L453.9 162.8L450.2 157.2ZM509.6 99.2L513.3 104.8L509.6 110.4L505.9 104.8ZM534.8 71.9L538.5 77.5L534.8 83.1L531.1 77.5ZM441 154.8L444.7 160.4L441 166L437.3 160.4ZM434.8 159.8L438.5 165.4L434.8 171L431.1 165.4ZM536.2 71L539.9 76.6L536.2 82.2L532.5 76.6ZM494.6 109.8L498.3 115.4L494.6 121L490.9 115.4ZM576.4 26.8L580.1 32.4L576.4 38L572.7 32.4ZM467.4 139.4L471.1 145L467.4 150.6L463.7 145ZM564 52.1L567.7 57.7L564 63.3L560.3 57.7ZM521.2 90.2L524.9 95.8L521.2 101.4L517.5 95.8ZM530.5 76.1L534.2 81.7L530.5 87.3L526.8 81.7ZM559 60.8L562.7 66.4L559 72L555.3 66.4ZM505 106.8L508.7 112.4L505 118L501.3 112.4ZM443 156.2L446.7 161.8L443 167.4L439.3 161.8ZM565.3 51.4L569 57L565.3 62.6L561.6 57ZM488 116L491.7 121.6L488 127.2L484.3 121.6ZM453.4 144.2L457.1 149.8L453.4 155.4L449.7 149.8ZM483.3 127.5L487 133.1L483.3 138.7L479.6 133.1ZM544 66.3L547.7 71.9L544 77.5L540.3 71.9ZM555.9 58.8L559.6 64.4L555.9 70L552.2 64.4ZM546.1 67.9L549.8 73.5L546.1 79.1L542.4 73.5ZM546.4 66.9L550.1 72.5L546.4 78.1L542.7 72.5ZM523.9 91.4L527.6 97L523.9 102.6L520.2 97ZM514.7 100.3L518.4 105.9L514.7 111.5L511 105.9ZM536.3 73.2L540 78.8L536.3 84.4L532.6 78.8ZM440.3 162.1L444 167.7L440.3 173.3L436.6 167.7ZM562.3 53.9L566 59.5L562.3 65.1L558.6 59.5ZM426.3 179.3L430 184.9L426.3 190.5L422.6 184.9ZM428.2 176.7L431.9 182.3L428.2 187.9L424.5 182.3ZM548.1 66.6L551.8 72.2L548.1 77.8L544.4 72.2ZM566.2 43.3L569.9 48.9L566.2 54.5L562.5 48.9ZM495.8 106L499.5 111.6L495.8 117.2L492.1 111.6ZM553.3 59.5L557 65.1L553.3 70.7L549.6 65.1ZM520.4 95.7L524.1 101.3L520.4 106.9L516.7 101.3ZM443 155L446.7 160.6L443 166.2L439.3 160.6ZM471.4 139.9L475.1 145.5L471.4 151.1L467.7 145.5ZM455.8 143.1L459.5 148.7L455.8 154.3L452.1 148.7ZM464.5 138.9L468.2 144.5L464.5 150.1L460.8 144.5ZM427.2 177.8L430.9 183.4L427.2 189L423.5 183.4ZM563.5 45.4L567.2 51L563.5 56.6L559.8 51ZM565 52.5L568.7 58.1L565 63.7L561.3 58.1ZM460 143.4L463.7 149L460 154.6L456.3 149ZM530.3 79.4L534 85L530.3 90.6L526.6 85ZM434 160L437.7 165.6L434 171.2L430.3 165.6ZM495.1 112.3L498.8 117.9L495.1 123.5L491.4 117.9ZM566.7 48.1L570.4 53.7L566.7 59.3L563 53.7ZM453.1 153.7L456.8 159.3L453.1 164.9L449.4 159.3ZM433.4 172.7L437.1 178.3L433.4 183.9L429.7 178.3ZM497.7 105.5L501.4 111.1L497.7 116.7L494 111.1ZM510.8 99.8L514.5 105.4L510.8 111L507.1 105.4ZM477.1 130L480.8 135.6L477.1 141.2L473.4 135.6ZM423.5 184.7L427.2 190.3L423.5 195.9L419.8 190.3ZM517.9 95.3L521.6 100.9L517.9 106.5L514.2 100.9ZM445.5 154.1L449.2 159.7L445.5 165.3L441.8 159.7ZM485.4 117.1L489.1 122.7L485.4 128.3L481.7 122.7ZM565.6 42.3L569.3 47.9L565.6 53.5L561.9 47.9ZM413 202.7L416.7 208.3L413 213.9L409.3 208.3ZM565.5 46.3L569.2 51.9L565.5 57.5L561.8 51.9ZM476.1 138.8L479.8 144.4L476.1 150L472.4 144.4ZM559.7 56.3L563.4 61.9L559.7 67.5L556 61.9ZM531.9 73.2L535.6 78.8L531.9 84.4L528.2 78.8ZM583.6 36.9L587.3 42.5L583.6 48.1L579.9 42.5ZM500.1 104L503.8 109.6L500.1 115.2L496.4 109.6ZM528.3 90.5L532 96.1L528.3 101.7L524.6 96.1ZM487.1 116.5L490.8 122.1L487.1 127.7L483.4 122.1ZM585.7 36.1L589.4 41.7L585.7 47.3L582 41.7ZM545.3 59.2L549 64.8L545.3 70.4L541.6 64.8ZM559.8 51.7L563.5 57.3L559.8 62.9L556.1 57.3ZM562.2 52.1L565.9 57.7L562.2 63.3L558.5 57.7ZM479.1 127.2L482.8 132.8L479.1 138.4L475.4 132.8ZM476.4 131.6L480.1 137.2L476.4 142.8L472.7 137.2ZM455.2 144.9L458.9 150.5L455.2 156.1L451.5 150.5ZM506.6 106L510.3 111.6L506.6 117.2L502.9 111.6ZM479.4 127.1L483.1 132.7L479.4 138.3L475.7 132.7ZM485.9 117L489.6 122.6L485.9 128.2L482.2 122.6ZM526.7 93.2L530.4 98.8L526.7 104.4L523 98.8ZM426.6 177.4L430.3 183L426.6 188.6L422.9 183ZM443.3 153.2L447 158.8L443.3 164.4L439.6 158.8ZM563.5 53.1L567.2 58.7L563.5 64.3L559.8 58.7ZM531.5 78.6L535.2 84.2L531.5 89.8L527.8 84.2ZM467.5 139.8L471.2 145.4L467.5 151L463.8 145.4ZM522.7 93.1L526.4 98.7L522.7 104.3L519 98.7ZM419.8 185.7L423.5 191.3L419.8 196.9L416.1 191.3ZM565.6 51.6L569.3 57.2L565.6 62.8L561.9 57.2ZM554 59.4L557.7 65L554 70.6L550.3 65ZM422.2 183.8L425.9 189.4L422.2 195L418.5 189.4ZM430.2 175.2L433.9 180.8L430.2 186.4L426.5 180.8ZM530.8 82.9L534.5 88.5L530.8 94.1L527.1 88.5ZM517.4 90.5L521.1 96.1L517.4 101.7L513.7 96.1ZM438.8 166.2L442.5 171.8L438.8 177.4L435.1 171.8ZM454.7 144.8L458.4 150.4L454.7 156L451 150.4ZM423.1 183.2L426.8 188.8L423.1 194.4L419.4 188.8ZM569.2 38.9L572.9 44.5L569.2 50.1L565.5 44.5ZM534.2 77.2L537.9 82.8L534.2 88.4L530.5 82.8ZM552.7 58.1L556.4 63.7L552.7 69.3L549 63.7ZM442.3 163.6L446 169.2L442.3 174.8L438.6 169.2ZM538.3 72L542 77.6L538.3 83.2L534.6 77.6ZM559.3 56.2L563 61.8L559.3 67.4L555.6 61.8ZM463 144.4L466.7 150L463 155.6L459.3 150ZM488 117.1L491.7 122.7L488 128.3L484.3 122.7ZM494.5 105.8L498.2 111.4L494.5 117L490.8 111.4ZM441.5 164.2L445.2 169.8L441.5 175.4L437.8 169.8ZM440.8 165.7L444.5 171.3L440.8 176.9L437.1 171.3ZM495.5 108L499.2 113.6L495.5 119.2L491.8 113.6ZM568.1 40.7L571.8 46.3L568.1 51.9L564.4 46.3ZM424 180.9L427.7 186.5L424 192.1L420.3 186.5ZM485.5 116.4L489.2 122L485.5 127.6L481.8 122ZM453.3 146.5L457 152.1L453.3 157.7L449.6 152.1ZM562.9 50.8L566.6 56.4L562.9 62L559.2 56.4ZM534.8 73.5L538.5 79.1L534.8 84.7L531.1 79.1ZM477.5 127.7L481.2 133.3L477.5 138.9L473.8 133.3ZM556.5 58.9L560.2 64.5L556.5 70.1L552.8 64.5ZM520.7 91.9L524.4 97.5L520.7 103.1L517 97.5ZM475.4 132.6L479.1 138.2L475.4 143.8L471.7 138.2ZM427.5 177.7L431.2 183.3L427.5 188.9L423.8 183.3ZM523.8 90.8L527.5 96.4L523.8 102L520.1 96.4ZM489.2 114.9L492.9 120.5L489.2 126.1L485.5 120.5ZM454.6 148.3L458.3 153.9L454.6 159.5L450.9 153.9ZM437.5 167.8L441.2 173.4L437.5 179L433.8 173.4ZM542.3 67.9L546 73.5L542.3 79.1L538.6 73.5ZM562 49.1L565.7 54.7L562 60.3L558.3 54.7ZM546.2 59.8L549.9 65.4L546.2 71L542.5 65.4ZM494.7 113L498.4 118.6L494.7 124.2L491 118.6ZM544.9 67.4L548.6 73L544.9 78.6L541.2 73ZM453.8 154.9L457.5 160.5L453.8 166.1L450.1 160.5ZM433 162.2L436.7 167.8L433 173.4L429.3 167.8ZM451.1 154.7L454.8 160.3L451.1 165.9L447.4 160.3ZM494 105.9L497.7 111.5L494 117.1L490.3 111.5ZM548.4 60.8L552.1 66.4L548.4 72L544.7 66.4ZM490 116.3L493.7 121.9L490 127.5L486.3 121.9ZM538.3 70.2L542 75.8L538.3 81.4L534.6 75.8ZM440.6 164L444.3 169.6L440.6 175.2L436.9 169.6ZM508.4 103.8L512.1 109.4L508.4 115L504.7 109.4ZM519 96.8L522.7 102.4L519 108L515.3 102.4ZM529.6 76.4L533.3 82L529.6 87.6L525.9 82ZM531.9 71.9L535.6 77.5L531.9 83.1L528.2 77.5ZM439.8 161.4L443.5 167L439.8 172.6L436.1 167ZM469.6 136.7L473.3 142.3L469.6 147.9L465.9 142.3ZM458.2 145.7L461.9 151.3L458.2 156.9L454.5 151.3ZM551.9 59.2L555.6 64.8L551.9 70.4L548.2 64.8ZM432.2 173.6L435.9 179.2L432.2 184.8L428.5 179.2ZM435.9 170.5L439.6 176.1L435.9 181.7L432.2 176.1ZM529.6 82.5L533.3 88.1L529.6 93.7L525.9 88.1ZM492.7 113.4L496.4 119L492.7 124.6L489 119ZM421.8 184.7L425.5 190.3L421.8 195.9L418.1 190.3ZM476.1 128.2L479.8 133.8L476.1 139.4L472.4 133.8ZM528.4 77.1L532.1 82.7L528.4 88.3L524.7 82.7ZM421.7 184.5L425.4 190.1L421.7 195.7L418 190.1ZM519.6 91.9L523.3 97.5L519.6 103.1L515.9 97.5ZM523 92.9L526.7 98.5L523 104.1L519.3 98.5ZM566.4 43.3L570.1 48.9L566.4 54.5L562.7 48.9ZM566.8 43.6L570.5 49.2L566.8 54.8L563.1 49.2ZM568.4 38.6L572.1 44.2L568.4 49.8L564.7 44.2ZM442.8 155.3L446.5 160.9L442.8 166.5L439.1 160.9ZM492.8 114L496.5 119.6L492.8 125.2L489.1 119.6ZM519.8 91.9L523.5 97.5L519.8 103.1L516.1 97.5ZM559.2 59.1L562.9 64.7L559.2 70.3L555.5 64.7ZM456.2 148.5L459.9 154.1L456.2 159.7L452.5 154.1ZM441.1 164L444.8 169.6L441.1 175.2L437.4 169.6ZM531.5 81L535.2 86.6L531.5 92.2L527.8 86.6ZM552.9 58.6L556.6 64.2L552.9 69.8L549.2 64.2ZM517.6 96.6L521.3 102.2L517.6 107.8L513.9 102.2ZM531.7 78.8L535.4 84.4L531.7 90L528 84.4ZM506.3 103.7L510 109.3L506.3 114.9L502.6 109.3ZM518.7 100.9L522.4 106.5L518.7 112.1L515 106.5ZM567.9 41.5L571.6 47.1L567.9 52.7L564.2 47.1ZM532.5 77.7L536.2 83.3L532.5 88.9L528.8 83.3ZM543.9 68.2L547.6 73.8L543.9 79.4L540.2 73.8ZM485.4 122.8L489.1 128.4L485.4 134L481.7 128.4ZM483.4 125.7L487.1 131.3L483.4 136.9L479.7 131.3ZM485.3 121.4L489 127L485.3 132.6L481.6 127ZM516.8 100L520.5 105.6L516.8 111.2L513.1 105.6ZM535.1 68.9L538.8 74.5L535.1 80.1L531.4 74.5ZM475.9 130.3L479.6 135.9L475.9 141.5L472.2 135.9ZM431 162.9L434.7 168.5L431 174.1L427.3 168.5ZM454.1 152.6L457.8 158.2L454.1 163.8L450.4 158.2ZM488 116.7L491.7 122.3L488 127.9L484.3 122.3ZM481.1 129.3L484.8 134.9L481.1 140.5L477.4 134.9ZM548.8 68.8L552.5 74.4L548.8 80L545.1 74.4ZM493.7 113L497.4 118.6L493.7 124.2L490 118.6ZM428 176.4L431.7 182L428 187.6L424.3 182ZM472.4 138.9L476.1 144.5L472.4 150.1L468.7 144.5ZM486.7 116.8L490.4 122.4L486.7 128L483 122.4ZM562 52.5L565.7 58.1L562 63.7L558.3 58.1ZM540.1 70.1L543.8 75.7L540.1 81.3L536.4 75.7ZM547.3 61L551 66.6L547.3 72.2L543.6 66.6ZM542.4 67.4L546.1 73L542.4 78.6L538.7 73ZM494.1 114.4L497.8 120L494.1 125.6L490.4 120ZM409 185.5L412.7 191.1L409 196.7L405.3 191.1ZM527.3 90L531 95.6L527.3 101.2L523.6 95.6ZM454.9 153.2L458.6 158.8L454.9 164.4L451.2 158.8ZM476.1 129.6L479.8 135.2L476.1 140.8L472.4 135.2ZM497.6 105.9L501.3 111.5L497.6 117.1L493.9 111.5ZM500.9 107.9L504.6 113.5L500.9 119.1L497.2 113.5ZM423.8 182.3L427.5 187.9L423.8 193.5L420.1 187.9ZM560.3 57.3L564 62.9L560.3 68.5L556.6 62.9ZM527.7 82.3L531.4 87.9L527.7 93.5L524 87.9ZM485.7 123.7L489.4 129.3L485.7 134.9L482 129.3ZM424.1 181.9L427.8 187.5L424.1 193.1L420.4 187.5ZM533.7 78.7L537.4 84.3L533.7 89.9L530 84.3ZM484.1 126L487.8 131.6L484.1 137.2L480.4 131.6ZM493.2 112.1L496.9 117.7L493.2 123.3L489.5 117.7ZM492.2 112.7L495.9 118.3L492.2 123.9L488.5 118.3ZM428.3 175.8L432 181.4L428.3 187L424.6 181.4ZM443.4 160.2L447.1 165.8L443.4 171.4L439.7 165.8ZM437.9 167.7L441.6 173.3L437.9 178.9L434.2 173.3ZM520.8 92.5L524.5 98.1L520.8 103.7L517.1 98.1ZM527.3 82.2L531 87.8L527.3 93.4L523.6 87.8ZM547 71.3L550.7 76.9L547 82.5L543.3 76.9ZM461.6 141.5L465.3 147.1L461.6 152.7L457.9 147.1ZM440.3 165.9L444 171.5L440.3 177.1L436.6 171.5ZM578 28.7L581.7 34.3L578 39.9L574.3 34.3ZM531.7 75.8L535.4 81.4L531.7 87L528 81.4ZM426.7 178.2L430.4 183.8L426.7 189.4L423 183.8ZM489.7 116.5L493.4 122.1L489.7 127.7L486 122.1ZM554.7 60.3L558.4 65.9L554.7 71.5L551 65.9ZM441.5 164.3L445.2 169.9L441.5 175.5L437.8 169.9ZM452.8 149.3L456.5 154.9L452.8 160.5L449.1 154.9ZM438 168.3L441.7 173.9L438 179.5L434.3 173.9ZM455.6 144.6L459.3 150.2L455.6 155.8L451.9 150.2ZM492 117.9L495.7 123.5L492 129.1L488.3 123.5ZM474.1 140.1L477.8 145.7L474.1 151.3L470.4 145.7ZM564.2 40.7L567.9 46.3L564.2 51.9L560.5 46.3ZM438.5 167.4L442.2 173L438.5 178.6L434.8 173ZM528.7 89.8L532.4 95.4L528.7 101L525 95.4ZM441.7 158.7L445.4 164.3L441.7 169.9L438 164.3ZM514.8 99.6L518.5 105.2L514.8 110.8L511.1 105.2ZM459.6 144.6L463.3 150.2L459.6 155.8L455.9 150.2ZM483.1 126.7L486.8 132.3L483.1 137.9L479.4 132.3ZM562.9 47.5L566.6 53.1L562.9 58.7L559.2 53.1ZM456 149.9L459.7 155.5L456 161.1L452.3 155.5ZM461.2 143.8L464.9 149.4L461.2 155L457.5 149.4ZM528.9 89.7L532.6 95.3L528.9 100.9L525.2 95.3ZM534.6 71.9L538.3 77.5L534.6 83.1L530.9 77.5ZM434 170.4L437.7 176L434 181.6L430.3 176ZM495.9 106.7L499.6 112.3L495.9 117.9L492.2 112.3ZM527.1 89.6L530.8 95.2L527.1 100.8L523.4 95.2ZM484.2 129.3L487.9 134.9L484.2 140.5L480.5 134.9ZM532.6 73.9L536.3 79.5L532.6 85.1L528.9 79.5ZM444.5 157.3L448.2 162.9L444.5 168.5L440.8 162.9ZM492.4 116.5L496.1 122.1L492.4 127.7L488.7 122.1ZM457 144.1L460.7 149.7L457 155.3L453.3 149.7ZM565.4 50.1L569.1 55.7L565.4 61.3L561.7 55.7ZM453.2 148.2L456.9 153.8L453.2 159.4L449.5 153.8ZM548.7 60.6L552.4 66.2L548.7 71.8L545 66.2ZM501.3 105.8L505 111.4L501.3 117L497.6 111.4ZM416.7 184.7L420.4 190.3L416.7 195.9L413 190.3ZM432.1 162L435.8 167.6L432.1 173.2L428.4 167.6ZM543.1 71.2L546.8 76.8L543.1 82.4L539.4 76.8ZM495.8 108.2L499.5 113.8L495.8 119.4L492.1 113.8ZM486.1 126.9L489.8 132.5L486.1 138.1L482.4 132.5ZM437.5 167.5L441.2 173.1L437.5 178.7L433.8 173.1ZM451.4 155.7L455.1 161.3L451.4 166.9L447.7 161.3ZM514.7 102.5L518.4 108.1L514.7 113.7L511 108.1ZM435.9 170.9L439.6 176.5L435.9 182.1L432.2 176.5ZM546.4 61.2L550.1 66.8L546.4 72.4L542.7 66.8ZM545.5 61.8L549.2 67.4L545.5 73L541.8 67.4ZM419.8 191.4L423.5 197L419.8 202.6L416.1 197ZM500.2 106.2L503.9 111.8L500.2 117.4L496.5 111.8ZM447.8 152L451.5 157.6L447.8 163.2L444.1 157.6ZM516.5 100.1L520.2 105.7L516.5 111.3L512.8 105.7Z" fill="#a0148c" fill-opacity="0.5"/>
<path d="M423.5 183L427.2 188.6L423.5 194.2L419.8 188.6ZM546.2 65.4L549.9 71L546.2 76.6L542.5 71ZM443.5 157.5L447.2 163.1L443.5 168.7L439.8 163.1ZM454.9 150.1L458.6 155.7L454.9 161.3L451.2 155.7ZM510.2 102.5L513.9 108.1L510.2 113.7L506.5 108.1ZM459.7 143.6L463.4 149.2L459.7 154.8L456 149.2ZM457.4 143L461.1 148.6L457.4 154.2L453.7 148.6ZM413.2 202.7L416.9 208.3L413.2 213.9L409.5 208.3ZM520.3 94.3L524 99.9L520.3 105.5L516.6 99.9ZM452.2 145.4L455.9 151L452.2 156.6L448.5 151ZM565.6 50.8L569.3 56.4L565.6 62L561.9 56.4ZM477.5 133.6L481.2 139.2L477.5 144.8L473.8 139.2ZM552.1 58.4L555.8 64L552.1 69.6L548.4 64ZM443.2 161.8L446.9 167.4L443.2 173L439.5 167.4ZM547.4 62.9L551.1 68.5L547.4 74.1L543.7 68.5ZM580.5 26.9L584.2 32.5L580.5 38.1L576.8 32.5ZM547 59.3L550.7 64.9L547 70.5L543.3 64.9ZM530 92.1L533.7 97.7L530 103.3L526.3 97.7ZM556.5 58.3L560.2 63.9L556.5 69.5L552.8 63.9ZM477.7 135.3L481.4 140.9L477.7 146.5L474 140.9ZM489 114.4L492.7 120L489 125.6L485.3 120ZM487.9 118.2L491.6 123.8L487.9 129.4L484.2 123.8ZM488 117.8L491.7 123.4L488 129L484.3 123.4ZM488.4 126.8L492.1 132.4L488.4 138L484.7 132.4ZM487.5 115.3L491.2 120.9L487.5 126.5L483.8 120.9ZM540.2 70.2L543.9 75.8L540.2 81.4L536.5 75.8ZM548.2 72.5L551.9 78.1L548.2 83.7L544.5 78.1ZM484.8 123.1L488.5 128.7L484.8 134.3L481.1 128.7ZM511.8 100L515.5 105.6L511.8 111.2L508.1 105.6ZM562.6 55.1L566.3 60.7L562.6 66.3L558.9 60.7ZM432.5 172.8L436.2 178.4L432.5 184L428.8 178.4ZM567.6 40L571.3 45.6L567.6 51.2L563.9 45.6ZM437.7 168.7L441.4 174.3L437.7 179.9L434 174.3ZM468.7 140.4L472.4 146L468.7 151.6L465 146ZM442.4 157.1L446.1 162.7L442.4 168.3L438.7 162.7ZM428.3 175.7L432 181.3L428.3 186.9L424.6 181.3ZM444.1 154.9L447.8 160.5L444.1 166.1L440.4 160.5ZM522.2 93.5L525.9 99.1L522.2 104.7L518.5 99.1ZM517.5 94.2L521.2 99.8L517.5 105.4L513.8 99.8ZM442.3 157.6L446 163.2L442.3 168.8L438.6 163.2ZM556.3 59.6L560 65.2L556.3 70.8L552.6 65.2ZM479.7 126.6L483.4 132.2L479.7 137.8L476 132.2ZM495.7 114.9L499.4 120.5L495.7 126.1L492 120.5ZM579.7 33.4L583.4 39L579.7 44.6L576 39ZM564.4 38.9L568.1 44.5L564.4 50.1L560.7 44.5ZM565.1 41.6L568.8 47.2L565.1 52.8L561.4 47.2ZM449.7 155.4L453.4 161L449.7 166.6L446 161ZM517.5 97.1L521.2 102.7L517.5 108.3L513.8 102.7ZM567 40.4L570.7 46L567 51.6L563.3 46ZM505.2 105L508.9 110.6L505.2 116.2L501.5 110.6ZM507.4 101.2L511.1 106.8L507.4 112.4L503.7 106.8ZM534.3 72.7L538 78.3L534.3 83.9L530.6 78.3ZM492.3 104.9L496 110.5L492.3 116.1L488.6 110.5ZM553.7 60L557.4 65.6L553.7 71.2L550 65.6ZM541.2 71L544.9 76.6L541.2 82.2L537.5 76.6ZM463.3 144.6L467 150.2L463.3 155.8L459.6 150.2ZM455.1 154.9L458.8 160.5L455.1 166.1L451.4 160.5ZM563.1 52.1L566.8 57.7L563.1 63.3L559.4 57.7ZM428.5 176.5L432.2 182.1L428.5 187.7L424.8 182.1ZM486.2 119.6L489.9 125.2L486.2 130.8L482.5 125.2ZM580.2 32.6L583.9 38.2L580.2 43.8L576.5 38.2ZM505.6 101.3L509.3 106.9L505.6 112.5L501.9 106.9ZM443.2 155.1L446.9 160.7L443.2 166.3L439.5 160.7ZM579.8 35.6L583.5 41.2L579.8 46.8L576.1 41.2ZM425.3 178.9L429 184.5L425.3 190.1L421.6 184.5ZM582.1 32.6L585.8 38.2L582.1 43.8L578.4 38.2ZM439.8 166.1L443.5 171.7L439.8 177.3L436.1 171.7ZM485.9 119.2L489.6 124.8L485.9 130.4L482.2 124.8ZM528 90.6L531.7 96.2L528 101.8L524.3 96.2ZM506.9 105.9L510.6 111.5L506.9 117.1L503.2 111.5ZM535.5 74.2L539.2 79.8L535.5 85.4L531.8 79.8ZM443.3 163.9L447 169.5L443.3 175.1L439.6 169.5ZM427.4 177.5L431.1 183.1L427.4 188.7L423.7 183.1ZM506.3 105.3L510 110.9L506.3 116.5L502.6 110.9ZM433.8 171L437.5 176.6L433.8 182.2L430.1 176.6ZM498.6 108.2L502.3 113.8L498.6 119.4L494.9 113.8ZM483.4 128.2L487.1 133.8L483.4 139.4L479.7 133.8ZM527.6 90L531.3 95.6L527.6 101.2L523.9 95.6ZM520.4 92.1L524.1 97.7L520.4 103.3L516.7 97.7ZM486.2 125.2L489.9 130.8L486.2 136.4L482.5 130.8ZM435.3 169.6L439 175.2L435.3 180.8L431.6 175.2ZM422.2 183.8L425.9 189.4L422.2 195L418.5 189.4ZM533.9 76.2L537.6 81.8L533.9 87.4L530.2 81.8ZM420.5 186L424.2 191.6L420.5 197.2L416.8 191.6ZM528.2 89.5L531.9 95.1L528.2 100.7L524.5 95.1ZM464.9 146.2L468.6 151.8L464.9 157.4L461.2 151.8ZM441.4 158L445.1 163.6L441.4 169.2L437.7 163.6ZM459.1 145.1L462.8 150.7L459.1 156.3L455.4 150.7ZM486.3 122.8L490 128.4L486.3 134L482.6 128.4ZM527.3 91.3L531 96.9L527.3 102.5L523.6 96.9ZM581.9 36.2L585.6 41.8L581.9 47.4L578.2 41.8ZM518.1 93.4L521.8 99L518.1 104.6L514.4 99ZM474.8 135.9L478.5 141.5L474.8 147.1L471.1 141.5ZM515.3 101.6L519 107.2L515.3 112.8L511.6 107.2ZM529.1 82.5L532.8 88.1L529.1 93.7L525.4 88.1ZM475.7 132.1L479.4 137.7L475.7 143.3L472 137.7ZM468.3 139.5L472 145.1L468.3 150.7L464.6 145.1ZM471 140.3L474.7 145.9L471 151.5L467.3 145.9ZM565 49.3L568.7 54.9L565 60.5L561.3 54.9ZM530.2 78.9L533.9 84.5L530.2 90.1L526.5 84.5ZM494.8 106.4L498.5 112L494.8 117.6L491.1 112ZM537.2 71.4L540.9 77L537.2 82.6L533.5 77ZM444.4 155.4L448.1 161L444.4 166.6L440.7 161ZM553.5 61L557.2 66.6L553.5 72.2L549.8 66.6ZM514.1 101L517.8 106.6L514.1 112.2L510.4 106.6ZM505.6 106.1L509.3 111.7L505.6 117.3L501.9 111.7ZM415.8 184.8L419.5 190.4L415.8 196L412.1 190.4ZM558.2 58.2L561.9 63.8L558.2 69.4L554.5 63.8ZM425.4 180.8L429.1 186.4L425.4 192L421.7 186.4ZM495.2 108.6L498.9 114.2L495.2 119.8L491.5 114.2ZM474.6 127.5L478.3 133.1L474.6 138.7L470.9 133.1ZM496.6 105.9L500.3 111.5L496.6 117.1L492.9 111.5ZM462.3 142.9L466 148.5L462.3 154.1L458.6 148.5ZM545.7 62.6L549.4 68.2L545.7 73.8L542 68.2ZM504.6 105.1L508.3 110.7L504.6 116.3L500.9 110.7ZM518.8 100.3L522.5 105.9L518.8 111.5L515.1 105.9ZM445.4 154.8L449.1 160.4L445.4 166L441.7 160.4ZM488.8 116.7L492.5 122.3L488.8 127.9L485.1 122.3ZM434.7 171.5L438.4 177.1L434.7 182.7L431 177.1ZM431.3 162.4L435 168L431.3 173.6L427.6 168ZM506.9 102.3L510.6 107.9L506.9 113.5L503.2 107.9ZM521.2 95.3L524.9 100.9L521.2 106.5L517.5 100.9ZM467.9 140.9L471.6 146.5L467.9 152.1L464.2 146.5ZM438.9 165.4L442.6 171L438.9 176.6L435.2 171ZM464.3 142.7L468 148.3L464.3 153.9L460.6 148.3ZM513.2 100.4L516.9 106L513.2 111.6L509.5 106ZM547.6 66.7L551.3 72.3L547.6 77.9L543.9 72.3ZM440.4 165.8L444.1 171.4L440.4 177L436.7 171.4ZM435.8 168.7L439.5 174.3L435.8 179.9L432.1 174.3ZM509.3 100.5L513 106.1L509.3 111.7L505.6 106.1ZM496.3 109.3L500 114.9L496.3 120.5L492.6 114.9ZM560.7 52.8L564.4 58.4L560.7 64L557 58.4ZM529 86.6L532.7 92.2L529 97.8L525.3 92.2ZM533.8 69.5L537.5 75.1L533.8 80.7L530.1 75.1ZM410.2 184.5L413.9 190.1L410.2 195.7L406.5 190.1ZM475.7 134.6L479.4 140.2L475.7 145.8L472 140.2ZM546.2 56.5L549.9 62.1L546.2 67.7L542.5 62.1ZM519.7 92.5L523.4 98.1L519.7 103.7L516 98.1ZM530.3 82.6L534 88.2L530.3 93.8L526.6 88.2ZM486.9 126L490.6 131.6L486.9 137.2L483.2 131.6ZM473.5 139.4L477.2 145L473.5 150.6L469.8 145ZM484.5 121.9L488.2 127.5L484.5 133.1L480.8 127.5ZM430 174.5L433.7 180.1L430 185.7L426.3 180.1ZM564.9 52.7L568.6 58.3L564.9 63.9L561.2 58.3ZM565.2 47.5L568.9 53.1L565.2 58.7L561.5 53.1ZM549.3 59.1L553 64.7L549.3 70.3L545.6 64.7ZM425 180L428.7 185.6L425 191.2L421.3 185.6ZM501.3 109.1L505 114.7L501.3 120.3L497.6 114.7ZM476.4 137.5L480.1 143.1L476.4 148.7L472.7 143.1ZM483.3 127.5L487 133.1L483.3 138.7L479.6 133.1ZM434 171.3L437.7 176.9L434 182.5L430.3 176.9ZM507.4 106.6L511.1 112.2L507.4 117.8L503.7 112.2ZM434.4 171.7L438.1 177.3L434.4 182.9L430.7 177.3ZM424.7 180.7L428.4 186.3L424.7 191.9L421 186.3ZM550.2 58.9L553.9 64.5L550.2 70.1L546.5 64.5ZM428.1 177.6L431.8 183.2L428.1 188.8L424.4 183.2ZM432.9 173.3L436.6 178.9L432.9 184.5L429.2 178.9ZM523.6 93.3L527.3 98.9L523.6 104.5L519.9 98.9ZM447.6 153.8L451.3 159.4L447.6 165L443.9 159.4ZM530.2 87.8L533.9 93.4L530.2 99L526.5 93.4ZM530.2 83.8L533.9 89.4L530.2 95L526.5 89.4ZM561 53.9L564.7 59.5L561 65.1L557.3 59.5ZM475.2 129.3L478.9 134.9L475.2 140.5L471.5 134.9ZM504.2 107.6L507.9 113.2L504.2 118.8L500.5 113.2ZM429.7 175.1L433.4 180.7L429.7 186.3L426 180.7ZM577.2 33.2L580.9 38.8L577.2 44.4L573.5 38.8ZM517.4 100.9L521.1 106.5L517.4 112.1L513.7 106.5ZM566.5 49.9L570.2 55.5L566.5 61.1L562.8 55.5ZM523.4 91.1L527.1 96.7L523.4 102.3L519.7 96.7ZM503.6 99.8L507.3 105.4L503.6 111L499.9 105.4ZM565.7 50.8L569.4 56.4L565.7 62L562 56.4ZM493.4 108.3L497.1 113.9L493.4 119.5L489.7 113.9ZM526.3 79.8L530 85.4L526.3 91L522.6 85.4ZM441.7 164.1L445.4 169.7L441.7 175.3L438 169.7ZM568.1 45.7L571.8 51.3L568.1 56.9L564.4 51.3ZM487.6 118.5L491.3 124.1L487.6 129.7L483.9 124.1ZM476.6 133.8L480.3 139.4L476.6 145L472.9 139.4ZM468.4 137.1L472.1 142.7L468.4 148.3L464.7 142.7ZM432.1 162.1L435.8 167.7L432.1 173.3L428.4 167.7ZM425.8 180L429.5 185.6L425.8 191.2L422.1 185.6ZM519.1 98.9L522.8 104.5L519.1 110.1L515.4 104.5ZM474.8 138.4L478.5 144L474.8 149.6L471.1 144ZM508.3 101.2L512 106.8L508.3 112.4L504.6 106.8ZM438.2 166.6L441.9 172.2L438.2 177.8L434.5 172.2ZM463.9 142.2L467.6 147.8L463.9 153.4L460.2 147.8ZM567.1 45.1L570.8 50.7L567.1 56.3L563.4 50.7ZM530.3 81.6L534 87.2L530.3 92.8L526.6 87.2ZM549.6 59.1L553.3 64.7L549.6 70.3L545.9 64.7ZM458.9 144.5L462.6 150.1L458.9 155.7L455.2 150.1ZM535.7 69.2L539.4 74.8L535.7 80.4L532 74.8ZM441.3 164.2L445 169.8L441.3 175.4L437.6 169.8ZM547.1 60.6L550.8 66.2L547.1 71.8L543.4 66.2ZM538.9 70.3L542.6 75.9L538.9 81.5L535.2 75.9ZM548.5 57.8L552.2 63.4L548.5 69L544.8 63.4ZM433.4 172.7L437.1 178.3L433.4 183.9L429.7 178.3ZM541.2 69.7L544.9 75.3L541.2 80.9L537.5 75.3ZM514.2 101.1L517.9 106.7L514.2 112.3L510.5 106.7ZM426.6 178.3L430.3 183.9L426.6 189.5L422.9 183.9ZM580 35.3L583.7 40.9L580 46.5L576.3 40.9ZM424.6 179.5L428.3 185.1L424.6 190.7L420.9 185.1ZM441.3 165.3L445 170.9L441.3 176.5L437.6 170.9ZM516 100.4L519.7 106L516 111.6L512.3 106ZM433.9 171.6L437.6 177.2L433.9 182.8L430.2 177.2ZM431 174.5L434.7 180.1L431 185.7L427.3 180.1ZM499.7 105.7L503.4 111.3L499.7 116.9L496 111.3ZM454.1 153.8L457.8 159.4L454.1 165L450.4 159.4ZM455.1 145.9L458.8 151.5L455.1 157.1L451.4 151.5ZM526.9 90.7L530.6 96.3L526.9 101.9L523.2 96.3ZM485.9 119.9L489.6 125.5L485.9 131.1L482.2 125.5ZM445.7 155.3L449.4 160.9L445.7 166.5L442 160.9ZM528.8 88.4L532.5 94L528.8 99.6L525.1 94ZM532.4 76L536.1 81.6L532.4 87.2L528.7 81.6ZM536.9 70.8L540.6 76.4L536.9 82L533.2 76.4ZM541.1 68.7L544.8 74.3L541.1 79.9L537.4 74.3ZM468.3 139.6L472 145.2L468.3 150.8L464.6 145.2ZM494 111.3L497.7 116.9L494 122.5L490.3 116.9ZM447.5 152.2L451.2 157.8L447.5 163.4L443.8 157.8ZM434.6 172.9L438.3 178.5L434.6 184.1L430.9 178.5ZM538.3 70.2L542 75.8L538.3 81.4L534.6 75.8ZM493.8 108.7L497.5 114.3L493.8 119.9L490.1 114.3ZM439.3 167.1L443 172.7L439.3 178.3L435.6 172.7ZM507.4 102.2L511.1 107.8L507.4 113.4L503.7 107.8ZM528.6 85.2L532.3 90.8L528.6 96.4L524.9 90.8ZM442.1 160.8L445.8 166.4L442.1 172L438.4 166.4ZM485.8 123.6L489.5 129.2L485.8 134.8L482.1 129.2ZM502.5 104.1L506.2 109.7L502.5 115.3L498.8 109.7ZM475.1 137.2L478.8 142.8L475.1 148.4L471.4 142.8ZM428.9 175.9L432.6 181.5L428.9 187.1L425.2 181.5ZM557.5 57.3L561.2 62.9L557.5 68.5L553.8 62.9ZM450.4 156.3L454.1 161.9L450.4 167.5L446.7 161.9ZM504.9 105.4L508.6 111L504.9 116.6L501.2 111ZM559.7 60.2L563.4 65.8L559.7 71.4L556 65.8ZM549.1 58.7L552.8 64.3L549.1 69.9L545.4 64.3ZM486.5 124.1L490.2 129.7L486.5 135.3L482.8 129.7ZM535.2 72.4L538.9 78L535.2 83.6L531.5 78ZM435.9 171L439.6 176.6L435.9 182.2L432.2 176.6ZM494.7 108.5L498.4 114.1L494.7 119.7L491 114.1ZM546 64L549.7 69.6L546 75.2L542.3 69.6ZM507.3 99.9L511 105.5L507.3 111.1L503.6 105.5ZM505.6 106.5L509.3 112.1L505.6 117.7L501.9 112.1ZM505.9 103.2L509.6 108.8L505.9 114.4L502.2 108.8ZM449.7 155.9L453.4 161.5L449.7 167.1L446 161.5ZM563.2 43L566.9 48.6L563.2 54.2L559.5 48.6ZM565.9 47.2L569.6 52.8L565.9 58.4L562.2 52.8ZM430.5 173.8L434.2 179.4L430.5 185L426.8 179.4ZM555.6 58.3L559.3 63.9L555.6 69.5L551.9 63.9ZM581.9 37.3L585.6 42.9L581.9 48.5L578.2 42.9ZM518.9 100.2L522.6 105.8L518.9 111.4L515.2 105.8ZM540.5 69L544.2 74.6L540.5 80.2L536.8 74.6ZM563.7 53.8L567.4 59.4L563.7 65L560 59.4ZM466.4 139.1L470.1 144.7L466.4 150.3L462.7 144.7ZM452.8 156.5L456.5 162.1L452.8 167.7L449.1 162.1ZM424.9 181.7L428.6 187.3L424.9 192.9L421.2 187.3ZM566.3 40.2L570 45.8L566.3 51.4L562.6 45.8ZM488.6 114L492.3 119.6L488.6 125.2L484.9 119.6ZM494.3 112.2L498 117.8L494.3 123.4L490.6 117.8ZM577.2 33.1L580.9 38.7L577.2 44.3L573.5 38.7ZM486.4 121.2L490.1 126.8L486.4 132.4L482.7 126.8ZM558.4 57L562.1 62.6L558.4 68.2L554.7 62.6ZM454.4 155.2L458.1 160.8L454.4 166.4L450.7 160.8ZM565.1 42.2L568.8 47.8L565.1 53.4L561.4 47.8ZM524.2 90.7L527.9 96.3L524.2 101.9L520.5 96.3ZM509.1 100.5L512.8 106.1L509.1 111.7L505.4 106.1ZM433.8 161.7L437.5 167.3L433.8 172.9L430.1 167.3ZM524.8 92.9L528.5 98.5L524.8 104.1L521.1 98.5ZM442.2 159.1L445.9 164.7L442.2 170.3L438.5 164.7ZM529 87.6L532.7 93.2L529 98.8L525.3 93.2ZM439.4 167.1L443.1 172.7L439.4 178.3L435.7 172.7ZM563.9 40.8L567.6 46.4L563.9 52L560.2 46.4ZM529.5 85.8L533.2 91.4L529.5 97L525.8 91.4ZM535 78.2L538.7 83.8L535 89.4L531.3 83.8ZM481.1 128.8L484.8 134.4L481.1 140L477.4 134.4ZM545.4 63L549.1 68.6L545.4 74.2L541.7 68.6ZM475.7 138.2L479.4 143.8L475.7 149.4L472 143.8ZM482.3 123.8L486 129.4L482.3 135L478.6 129.4ZM476.4 134.7L480.1 140.3L476.4 145.9L472.7 140.3ZM440.1 165.1L443.8 170.7L440.1 176.3L436.4 170.7ZM442 154.7L445.7 160.3L442 165.9L438.3 160.3ZM493.8 108.6L497.5 114.2L493.8 119.8L490.1 114.2ZM431.2 173.9L434.9 179.5L431.2 185.1L427.5 179.5Z" fill="#a0148c" fill-opacity="0.5"/>
<path d="M547.1 75L552.2 84.5L541.9 84.5ZM433.9 170.4L439.1 179.9L428.8 179.9ZM570.3 34.9L575.5 44.4L565.2 44.4ZM449 162.5L454.1 171.9L443.8 171.9ZM474.2 131L479.4 140.4L469.1 140.4ZM475 143.7L480.2 153.2L469.9 153.2ZM424.2 181.3L429.4 190.7L419.1 190.7ZM571.4 45.1L576.5 54.6L566.3 54.6ZM507.3 111.4L512.4 120.9L502.1 120.9ZM533.5 89.1L538.6 98.6L528.3 98.6ZM450.2 156.6L455.3 166.1L445 166.1ZM539.2 74.6L544.3 84.1L534 84.1ZM507.4 109.7L512.5 119.1L502.3 119.1ZM440.4 166.1L445.6 175.5L435.3 175.5ZM574.4 28L579.5 37.4L569.3 37.4ZM538.8 87.7L543.9 97.1L533.7 97.1ZM559.4 58.6L564.6 68.1L554.3 68.1ZM450 158.4L455.1 167.8L444.9 167.8ZM436.4 169L441.5 178.4L431.3 178.4ZM475.7 133.7L480.9 143.1L470.6 143.1ZM537.6 81.1L542.7 90.6L532.4 90.6ZM486.5 124.2L491.6 133.7L481.3 133.7ZM435.8 170.2L440.9 179.7L430.7 179.7ZM484.3 126.7L489.4 136.1L479.2 136.1ZM448.4 163.5L453.5 173L443.2 173ZM578.1 25.7L583.2 35.2L573 35.2ZM552.3 57.7L557.4 67.2L547.2 67.2ZM533.8 87.1L538.9 96.6L528.7 96.6ZM509 106L514.2 115.4L503.9 115.4ZM538.8 79.2L543.9 88.7L533.6 88.7ZM563.9 57L569 66.4L558.8 66.4ZM501.4 114.6L506.6 124L496.3 124ZM492.1 119.1L497.2 128.5L486.9 128.5ZM511.6 103.4L516.7 112.9L506.5 112.9ZM464.1 154.1L469.2 163.6L459 163.6ZM432.7 176.3L437.8 185.7L427.6 185.7ZM504.8 115.7L510 125.2L499.7 125.2ZM522 91L527.2 100.4L516.9 100.4ZM530.1 86.5L535.2 95.9L524.9 95.9ZM518.9 100L524 109.4L513.7 109.4ZM475.4 138.3L480.6 147.7L470.3 147.7ZM550.3 64.7L555.4 74.2L545.1 74.2ZM522 100L527.1 109.5L516.9 109.5ZM423.5 182L428.6 191.5L418.4 191.5ZM450.9 155.9L456.1 165.3L445.8 165.3ZM507.9 110.5L513 119.9L502.8 119.9ZM489 120.7L494.2 130.1L483.9 130.1ZM565.5 56.8L570.6 66.2L560.4 66.2ZM538.1 74.3L543.2 83.8L533 83.8ZM440.2 166L445.3 175.5L435.1 175.5ZM492.1 121.9L497.2 131.3L486.9 131.3ZM563.4 50.5L568.6 59.9L558.3 59.9ZM550 72L555.1 81.4L544.8 81.4ZM453.5 154.5L458.7 163.9L448.4 163.9ZM441.8 164.7L446.9 174.1L436.7 174.1ZM475.3 137.4L480.5 146.8L470.2 146.8ZM522.9 93.2L528 102.6L517.8 102.6ZM464.6 143.4L469.7 152.9L459.5 152.9ZM467 147.4L472.2 156.8L461.9 156.8ZM487.1 121.1L492.2 130.6L481.9 130.6ZM430.5 178.3L435.6 187.8L425.4 187.8ZM547.3 72.4L552.4 81.9L542.2 81.9ZM533.1 87.9L538.2 97.3L527.9 97.3ZM536.2 73L541.3 82.5L531.1 82.5ZM551.4 72L556.6 81.5L546.3 81.5ZM462.2 151.6L467.4 161.1L457.1 161.1ZM440.4 166.2L445.6 175.7L435.3 175.7ZM506.9 115.9L512 125.4L501.8 125.4ZM559.5 56.7L564.6 66.2L554.4 66.2ZM428.8 180.2L433.9 189.6L423.7 189.6ZM565.9 36.9L571 46.3L560.7 46.3ZM563 55.5L568.1 64.9L557.9 64.9ZM477.4 131.1L482.6 140.6L472.3 140.6ZM550.2 71.8L555.4 81.3L545.1 81.3ZM566.5 45.1L571.6 54.5L561.4 54.5ZM439.1 166.7L444.3 176.1L434 176.1ZM521.4 87.7L526.6 97.2L516.3 97.2ZM539.1 82.2L544.2 91.7L534 91.7ZM449.3 160L454.4 169.5L444.1 169.5ZM496.6 116.7L501.7 126.1L491.4 126.1ZM515.9 103.3L521 112.7L510.8 112.7ZM554.8 55.7L560 65.2L549.7 65.2ZM555.9 58L561 67.4L550.8 67.4ZM475.4 141.8L480.5 151.2L470.3 151.2ZM447.3 159.2L452.4 168.7L442.1 168.7ZM425.9 180.6L431 190L420.7 190ZM547 75.3L552.1 84.8L541.8 84.8ZM514.8 103.3L520 112.8L509.7 112.8ZM525.7 87.1L530.8 96.6L520.6 96.6ZM538.2 86.5L543.3 96L533 96ZM439.7 166.9L444.8 176.3L434.5 176.3ZM485.2 125.6L490.3 135.1L480.1 135.1ZM548.4 70.5L553.6 80L543.3 80ZM541.7 74.1L546.9 83.5L536.6 83.5ZM421.6 185.5L426.7 195L416.5 195ZM509.8 103.7L514.9 113.1L504.7 113.1ZM568.3 47L573.5 56.5L563.2 56.5ZM559.7 58.5L564.8 68L554.6 68ZM456.7 154.4L461.9 163.8L451.6 163.8ZM473.2 137.4L478.4 146.8L468.1 146.8ZM448.9 155.3L454 164.7L443.7 164.7ZM524.5 88.6L529.6 98L519.4 98ZM456.6 153.4L461.7 162.9L451.4 162.9ZM482.8 128.4L487.9 137.8L477.7 137.8ZM533.3 88L538.4 97.5L528.1 97.5ZM564.4 48.5L569.5 58L559.3 58ZM577.5 28.4L582.6 37.9L572.3 37.9ZM528.6 85.8L533.7 95.3L523.5 95.3ZM421.7 184.6L426.8 194.1L416.6 194.1ZM522 87.9L527.1 97.3L516.9 97.3ZM499.9 115.4L505 124.8L494.8 124.8ZM537.2 76.2L542.3 85.6L532 85.6ZM452.4 156L457.5 165.5L447.2 165.5ZM450.4 155.4L455.6 164.9L445.3 164.9ZM462.2 151.6L467.3 161L457.1 161ZM524.1 97.1L529.2 106.5L518.9 106.5ZM569.5 46L574.6 55.5L564.3 55.5ZM548.1 76L553.2 85.4L543 85.4ZM534.5 74.6L539.6 84L529.4 84ZM549.8 73.4L554.9 82.8L544.6 82.8ZM483.6 129.6L488.7 139L478.5 139ZM555.4 57.2L560.5 66.7L550.2 66.7ZM461.6 151.3L466.7 160.8L456.5 160.8ZM558.5 57.6L563.6 67.1L553.4 67.1ZM552.8 57.9L558 67.4L547.7 67.4ZM549.4 74L554.5 83.5L544.3 83.5ZM514.6 100.8L519.7 110.2L509.5 110.2ZM494 116.4L499.1 125.9L488.8 125.9ZM568 35.2L573.1 44.7L562.9 44.7ZM505.5 110.4L510.6 119.8L500.3 119.8ZM451.9 153L457 162.5L446.8 162.5ZM503.1 116.2L508.2 125.6L498 125.6ZM454.8 154.1L459.9 163.6L449.7 163.6ZM438.9 167L444.1 176.5L433.8 176.5ZM526.4 85.4L531.5 94.8L521.2 94.8ZM549.6 67.7L554.7 77.2L544.5 77.2ZM515.8 101.9L521 111.3L510.7 111.3ZM489.2 122.5L494.3 132L484.1 132ZM554.3 58.5L559.4 67.9L549.2 67.9ZM452.8 152.5L457.9 162L447.6 162ZM524.8 86.7L529.9 96.1L519.7 96.1ZM416.8 203.2L421.9 212.6L411.7 212.6ZM567.6 41.9L572.8 51.4L562.5 51.4ZM531.6 87.3L536.8 96.8L526.5 96.8ZM547.1 74.4L552.3 83.8L542 83.8ZM479.3 132.5L484.4 141.9L474.2 141.9ZM518.3 100.1L523.4 109.6L513.1 109.6ZM408.2 202.6L413.3 212L403 212ZM580.1 25.2L585.3 34.6L575 34.6ZM567.5 39.8L572.7 49.2L562.4 49.2ZM446.2 161.2L451.4 170.7L441.1 170.7ZM548.1 74.2L553.3 83.6L543 83.6ZM552.9 63.5L558 72.9L547.7 72.9ZM580.4 28.8L585.5 38.2L575.3 38.2ZM564.6 53L569.7 62.5L559.5 62.5ZM502.1 116.9L507.3 126.3L497 126.3ZM519.1 101L524.2 110.5L514 110.5ZM449.2 161.4L454.4 170.8L444.1 170.8ZM462.9 151.7L468 161.1L457.8 161.1ZM475.3 132.6L480.5 142L470.2 142ZM553.8 65L558.9 74.5L548.6 74.5ZM485.6 120.9L490.8 130.3L480.5 130.3ZM568.3 36.7L573.4 46.2L563.1 46.2ZM426.3 191.5L431.4 201L421.2 201ZM523 97.1L528.1 106.6L517.8 106.6ZM495.4 118.3L500.5 127.7L490.3 127.7ZM579.9 34.4L585 43.9L574.8 43.9ZM483.6 129.7L488.7 139.1L478.5 139.1ZM506.1 108.7L511.3 118.2L501 118.2ZM536 76.3L541.1 85.8L530.8 85.8ZM540.4 75.2L545.5 84.6L535.3 84.6ZM460.2 154.1L465.4 163.5L455.1 163.5ZM431.3 176L436.4 185.4L426.1 185.4ZM473.6 145.6L478.7 155.1L468.4 155.1ZM502.6 115.3L507.7 124.7L497.4 124.7ZM465.2 148.2L470.3 157.7L460.1 157.7ZM564.8 56.8L569.9 66.3L559.6 66.3ZM490.7 122.9L495.9 132.3L485.6 132.3ZM445 166.8L450.1 176.3L439.8 176.3ZM486.8 125.4L491.9 134.9L481.6 134.9ZM538.7 86.7L543.8 96.2L533.6 96.2ZM505.5 110.1L510.6 119.6L500.4 119.6ZM537.6 76.2L542.7 85.6L532.5 85.6ZM567.1 45.8L572.2 55.2L561.9 55.2ZM445.4 165.5L450.6 174.9L440.3 174.9ZM428.2 180.4L433.3 189.9L423 189.9ZM472.5 142.9L477.6 152.3L467.4 152.3ZM523.4 99.2L528.5 108.7L518.3 108.7ZM479 133.2L484.1 142.6L473.8 142.6ZM514.9 102.7L520 112.2L509.7 112.2ZM509.2 103L514.3 112.5L504.1 112.5ZM553.5 61.2L558.7 70.7L548.4 70.7ZM464.4 142.2L469.5 151.7L459.3 151.7ZM564 50.1L569.1 59.5L558.8 59.5ZM574.4 25L579.6 34.5L569.3 34.5ZM452 155.4L457.1 164.8L446.9 164.8ZM431.5 175.7L436.6 185.2L426.3 185.2ZM522.4 86.8L527.6 96.3L517.3 96.3ZM506.9 113.9L512 123.3L501.8 123.3ZM508.7 113.1L513.9 122.5L503.6 122.5ZM566.4 46.4L571.6 55.9L561.3 55.9ZM427.1 179.5L432.2 189L421.9 189ZM438.5 167.2L443.7 176.7L433.4 176.7ZM561.8 59.3L567 68.7L556.7 68.7ZM478 131.5L483.2 141L472.9 141ZM482.4 130.3L487.5 139.7L477.2 139.7ZM537.4 79.5L542.5 89L532.3 89ZM566.3 55.2L571.4 64.7L561.2 64.7ZM562.8 46.7L567.9 56.1L557.7 56.1ZM460.4 152.9L465.5 162.4L455.3 162.4ZM475.4 131.6L480.6 141.1L470.3 141.1ZM522.3 91.2L527.4 100.6L517.2 100.6ZM525.8 85.8L530.9 95.3L520.7 95.3ZM573.5 46.7L578.6 56.1L568.4 56.1ZM473.5 133.3L478.7 142.7L468.4 142.7ZM477.3 131.7L482.4 141.2L472.2 141.2ZM536.2 74.1L541.3 83.5L531.1 83.5ZM494.9 117.2L500.1 126.7L489.8 126.7ZM562.9 57.6L568.1 67L557.8 67ZM459.2 150.8L464.4 160.3L454.1 160.3ZM571.9 46.1L577 55.5L566.8 55.5ZM489.2 119.2L494.3 128.6L484.1 128.6ZM564 53.8L569.2 63.2L558.9 63.2ZM527 86L532.1 95.4L521.9 95.4ZM464.5 151.7L469.7 161.1L459.4 161.1ZM487 121.9L492.2 131.4L481.9 131.4ZM467.4 143.5L472.6 153L462.3 153ZM416.7 203.5L421.8 212.9L411.6 212.9ZM425.6 179.6L430.7 189.1L420.5 189.1ZM577.2 31.5L582.4 41L572.1 41ZM421.7 182.6L426.9 192.1L416.6 192.1ZM492.3 118.7L497.4 128.2L487.2 128.2ZM432.7 174L437.8 183.4L427.6 183.4ZM424 181.5L429.1 190.9L418.8 190.9ZM432.5 174.4L437.7 183.8L427.4 183.8ZM540.4 83.5L545.6 93L535.3 93ZM441.8 165.5L446.9 175L436.7 175ZM472.1 131.5L477.2 140.9L467 140.9ZM502.2 117.8L507.3 127.3L497 127.3ZM493.5 114.3L498.7 123.7L488.4 123.7ZM514.1 104.1L519.3 113.6L509 113.6ZM445.8 155.8L450.9 165.3L440.7 165.3ZM525.2 88.8L530.3 98.3L520 98.3ZM481.5 130.9L486.7 140.3L476.4 140.3ZM524.9 95.5L530.1 104.9L519.8 104.9ZM471.9 144.8L477.1 154.2L466.8 154.2ZM437.5 167.5L442.6 176.9L432.4 176.9ZM510.6 105.9L515.8 115.3L505.5 115.3ZM431.1 176.2L436.2 185.6L425.9 185.6ZM431.2 177L436.3 186.5L426 186.5ZM456.2 155.2L461.4 164.6L451.1 164.6ZM530.9 87.7L536 97.1L525.8 97.1ZM461.5 153.2L466.6 162.7L456.4 162.7ZM486.8 127.4L491.9 136.8L481.6 136.8ZM503.1 114.4L508.2 123.9L498 123.9ZM504.9 113.9L510.1 123.4L499.8 123.4ZM512.7 103.4L517.9 112.8L507.6 112.8ZM446.3 161.5L451.4 170.9L441.2 170.9ZM470.6 144.3L475.8 153.8L465.5 153.8ZM545.7 76L550.8 85.4L540.6 85.4ZM572 46.6L577.1 56L566.8 56ZM540.5 89.3L545.6 98.8L535.4 98.8ZM506.6 106.3L511.7 115.7L501.5 115.7ZM566.8 47.7L571.9 57.1L561.7 57.1ZM484.4 125.4L489.6 134.8L479.3 134.8ZM444.8 165.6L449.9 175.1L439.6 175.1ZM474.3 143.4L479.5 152.9L469.2 152.9ZM463.8 150.8L468.9 160.2L458.7 160.2ZM554.6 57L559.7 66.5L549.5 66.5ZM464.2 149.4L469.3 158.9L459.1 158.9ZM493.8 118.8L499 128.3L488.7 128.3ZM508.1 107.2L513.3 116.7L503 116.7ZM566.4 53.1L571.6 62.5L561.3 62.5ZM522.1 94.9L527.3 104.4L517 104.4ZM484.2 128.1L489.4 137.6L479.1 137.6ZM483.1 132.5L488.3 141.9L478 141.9ZM492 123.3L497.2 132.8L486.9 132.8ZM523.8 86.3L529 95.7L518.7 95.7ZM476.2 130.2L481.3 139.7L471.1 139.7ZM570.9 47.1L576 56.5L565.8 56.5ZM483.6 131.3L488.8 140.8L478.5 140.8ZM476.1 140.1L481.2 149.6L470.9 149.6Z" fill="#a5640a" fill-opacity="0.5"/>
<path d="M436.6 169.4L441.8 178.9L431.5 178.9ZM440.8 166.3L446 175.7L435.7 175.7ZM453.1 156.1L458.2 165.6L448 165.6ZM445.1 165.9L450.2 175.4L440 175.4ZM566.2 45.9L571.4 55.4L561.1 55.4ZM521.2 87.3L526.3 96.7L516.1 96.7ZM455.9 155.6L461 165.1L450.7 165.1ZM558 57.6L563.1 67.1L552.9 67.1ZM554.4 59.2L559.6 68.6L549.3 68.6ZM564 56.8L569.2 66.3L558.9 66.3ZM441.1 164.8L446.2 174.3L436 174.3ZM425.9 180.8L431.1 190.2L420.8 190.2ZM430.6 178.3L435.7 187.7L425.5 187.7ZM576.2 29L581.3 38.5L571.1 38.5ZM508.7 105.7L513.9 115.1L503.6 115.1ZM539.3 87.7L544.5 97.2L534.2 97.2ZM459 153.3L464.1 162.8L453.9 162.8ZM465.7 144.5L470.8 153.9L460.6 153.9ZM564.8 47.6L569.9 57.1L559.7 57.1ZM456.1 153.8L461.2 163.3L450.9 163.3ZM451 155L456.2 164.5L445.9 164.5ZM537.1 88.4L542.2 97.8L531.9 97.8ZM434.5 172.4L439.6 181.8L429.3 181.8ZM544.3 73.9L549.5 83.3L539.2 83.3ZM521.3 97.5L526.4 107L516.2 107ZM488.1 123.9L493.2 133.3L482.9 133.3ZM515.7 100.7L520.9 110.1L510.6 110.1ZM536.9 79.2L542.1 88.6L531.8 88.6ZM551.4 68.7L556.6 78.1L546.3 78.1ZM500.8 116.8L505.9 126.3L495.6 126.3ZM461.9 150.6L467 160.1L456.8 160.1ZM463.4 143L468.6 152.5L458.3 152.5ZM493.6 117.4L498.7 126.8L488.5 126.8ZM544.4 72.9L549.5 82.4L539.3 82.4ZM567.6 43.7L572.8 53.2L562.5 53.2ZM551.8 59.8L556.9 69.2L546.6 69.2ZM464 150.2L469.1 159.7L458.8 159.7ZM509.6 104.3L514.7 113.7L504.5 113.7ZM432.6 176.4L437.8 185.9L427.5 185.9ZM477.6 131.4L482.8 140.9L472.5 140.9ZM538.6 86.1L543.7 95.5L533.4 95.5ZM537.1 75.5L542.2 84.9L531.9 84.9ZM560.5 56.3L565.7 65.8L555.4 65.8ZM548.9 63.8L554.1 73.2L543.8 73.2ZM551.6 62.7L556.8 72.2L546.5 72.2ZM495.6 117.4L500.7 126.9L490.5 126.9ZM523 95.6L528.2 105L517.9 105ZM544.6 74.7L549.7 84.2L539.4 84.2ZM440.1 166.8L445.2 176.2L435 176.2ZM577.6 31.9L582.7 41.4L572.4 41.4ZM449.3 158.5L454.4 168L444.1 168ZM525.7 84.6L530.8 94L520.6 94ZM564.8 45.7L569.9 55.1L559.6 55.1ZM404.6 190.3L409.7 199.8L399.4 199.8ZM476.6 136.9L481.7 146.3L471.5 146.3ZM479.6 130.8L484.8 140.3L474.5 140.3ZM569.1 46.8L574.2 56.3L564 56.3ZM566.7 53.5L571.8 62.9L561.6 62.9ZM468.5 148.6L473.7 158.1L463.4 158.1ZM482.8 131.4L488 140.8L477.7 140.8ZM462.9 153.1L468 162.5L457.8 162.5ZM522.3 93.6L527.4 103.1L517.1 103.1ZM451.8 154.5L456.9 163.9L446.7 163.9ZM490.9 121.2L496.1 130.7L485.8 130.7ZM553.1 66.3L558.2 75.7L548 75.7ZM561.7 58.8L566.8 68.3L556.5 68.3ZM494.8 119L499.9 128.5L489.7 128.5ZM434.2 171L439.4 180.5L429.1 180.5ZM537 78.6L542.2 88.1L531.9 88.1ZM463 150.4L468.1 159.9L457.9 159.9ZM566.6 36.2L571.8 45.7L561.5 45.7ZM529.4 85.1L534.5 94.5L524.3 94.5ZM435.3 170.9L440.4 180.4L430.1 180.4ZM499.8 117.4L504.9 126.9L494.7 126.9ZM492.3 121.3L497.4 130.8L487.2 130.8ZM535 88.2L540.1 97.7L529.9 97.7ZM474.2 144.3L479.3 153.7L469.1 153.7ZM538 88.6L543.1 98.1L532.9 98.1ZM437 167.5L442.1 176.9L431.8 176.9ZM512.5 102.8L517.7 112.2L507.4 112.2ZM450 158.1L455.2 167.5L444.9 167.5ZM519.5 97.2L524.6 106.7L514.3 106.7ZM497.4 117L502.6 126.5L492.3 126.5ZM435.1 170.5L440.2 179.9L430 179.9ZM446.1 162.9L451.3 172.3L441 172.3ZM562.9 57.6L568 67L557.7 67ZM523.9 93.8L529.1 103.2L518.8 103.2ZM454.6 156.5L459.7 165.9L449.5 165.9ZM517.3 97.9L522.4 107.3L512.1 107.3ZM551.5 67.6L556.6 77.1L546.3 77.1ZM551.1 70.8L556.2 80.3L545.9 80.3ZM567.2 46.5L572.4 56L562.1 56ZM516 101.2L521.2 110.7L510.9 110.7ZM429.5 180.1L434.7 189.5L424.4 189.5ZM423.9 180.6L429 190.1L418.7 190.1ZM447.3 164.9L452.4 174.4L442.2 174.4ZM562.1 57.5L567.3 67L557 67ZM515.8 99.6L520.9 109.1L510.7 109.1ZM508 106.5L513.1 115.9L502.9 115.9ZM549.9 64.4L555 73.8L544.8 73.8ZM442 164.7L447.2 174.1L436.9 174.1ZM435.5 169L440.6 178.4L430.4 178.4ZM472.8 142.5L478 151.9L467.7 151.9ZM473.2 142.7L478.3 152.1L468 152.1ZM537.5 88L542.6 97.4L532.4 97.4ZM474 141.2L479.1 150.6L468.9 150.6ZM487.1 123.1L492.3 132.5L482 132.5ZM553.6 59.3L558.7 68.7L548.5 68.7ZM462.7 149L467.9 158.5L457.6 158.5ZM565.5 54.4L570.6 63.9L560.4 63.9ZM432.3 175.5L437.5 184.9L427.2 184.9ZM472.2 141.1L477.3 150.6L467 150.6ZM512.1 106.6L517.2 116L506.9 116ZM448.3 158L453.5 167.5L443.2 167.5ZM500.4 115.1L505.5 124.5L495.3 124.5ZM566.5 46.8L571.7 56.2L561.4 56.2ZM492.3 119.5L497.5 129L487.2 129ZM448 160.8L453.2 170.2L442.9 170.2ZM462.6 154.2L467.7 163.6L457.5 163.6ZM525.2 85.3L530.3 94.7L520.1 94.7ZM505.7 115.6L510.8 125L500.5 125ZM549 72.5L554.2 82L543.9 82ZM434.7 171.5L439.9 180.9L429.6 180.9ZM529.4 87.2L534.5 96.6L524.2 96.6ZM434.2 169.9L439.3 179.3L429.1 179.3ZM520.9 95.3L526 104.7L515.7 104.7ZM578.5 29L583.7 38.4L573.4 38.4ZM473.6 138.9L478.8 148.3L468.5 148.3ZM463.5 149.5L468.6 159L458.4 159ZM473.1 139.7L478.2 149.2L468 149.2ZM430.3 177.6L435.4 187L425.2 187ZM550.4 70.9L555.6 80.4L545.3 80.4ZM471.8 145.1L476.9 154.5L466.6 154.5ZM565 49.7L570.1 59.1L559.9 59.1ZM526.1 86.2L531.2 95.6L520.9 95.6ZM564.4 46L569.5 55.5L559.2 55.5ZM489.2 122.5L494.3 131.9L484.1 131.9ZM512.3 107.7L517.4 117.1L507.2 117.1ZM576.9 28.3L582 37.7L571.7 37.7ZM470.9 143.9L476 153.3L465.8 153.3ZM534.4 75.5L539.5 85L529.3 85ZM571.4 45.1L576.5 54.6L566.3 54.6ZM566.2 52.6L571.3 62L561.1 62ZM457 153.3L462.1 162.8L451.9 162.8ZM431 178L436.2 187.5L425.9 187.5ZM441.1 165.9L446.2 175.4L435.9 175.4ZM574.2 32.6L579.3 42L569 42ZM538.1 81.9L543.3 91.3L533 91.3ZM553.3 60.3L558.4 69.7L548.1 69.7ZM495.7 121.1L500.8 130.5L490.6 130.5ZM519.8 97.5L524.9 106.9L514.6 106.9ZM526.9 85.8L532 95.2L521.7 95.2ZM424.7 180.1L429.8 189.6L419.5 189.6ZM484.3 126.5L489.5 135.9L479.2 135.9ZM551.5 75.5L556.7 85L546.4 85ZM547.2 72.5L552.3 81.9L542 81.9ZM431.4 174.7L436.6 184.2L426.3 184.2ZM537.1 71.6L542.3 81.1L532 81.1ZM574.5 47.9L579.6 57.4L569.3 57.4ZM497.6 116.9L502.7 126.3L492.5 126.3ZM435.9 169L441.1 178.5L430.8 178.5ZM554 56.8L559.1 66.3L548.9 66.3ZM520.8 94.6L526 104.1L515.7 104.1ZM496.5 115.8L501.6 125.2L491.3 125.2ZM532.2 87.5L537.4 96.9L527.1 96.9ZM466.9 149.6L472 159.1L461.8 159.1ZM511.4 105.8L516.6 115.2L506.3 115.2ZM521.6 96.9L526.8 106.3L516.5 106.3ZM436.2 170.1L441.3 179.5L431 179.5ZM563.4 58.4L568.5 67.9L558.3 67.9ZM565.6 57.6L570.8 67.1L560.5 67.1ZM446.6 159.3L451.8 168.7L441.5 168.7ZM571.8 46.2L576.9 55.7L566.6 55.7ZM429.9 177.4L435.1 186.9L424.8 186.9ZM577.3 48.2L582.5 57.6L572.2 57.6ZM571.7 47.5L576.8 56.9L566.6 56.9ZM475.1 144.4L480.2 153.8L469.9 153.8ZM521.4 92.3L526.5 101.8L516.2 101.8ZM427 179.5L432.2 188.9L421.9 188.9ZM538.8 88.6L544 98L533.7 98ZM432.4 172.1L437.6 181.6L427.3 181.6ZM479.8 131.1L484.9 140.6L474.7 140.6ZM449.1 156.4L454.2 165.9L444 165.9ZM547.4 73.9L552.5 83.4L542.2 83.4ZM575.2 45.6L580.3 55.1L570 55.1ZM522.3 86.6L527.5 96L517.2 96ZM550.2 70L555.3 79.4L545 79.4ZM537.3 87.6L542.4 97L532.2 97ZM458.3 153.3L463.4 162.7L453.1 162.7ZM551.4 61.4L556.5 70.8L546.2 70.8ZM488.1 121.7L493.2 131.2L482.9 131.2ZM550.6 60.3L555.7 69.7L545.5 69.7ZM467.3 148.2L472.4 157.7L462.2 157.7ZM550.2 67.5L555.4 76.9L545.1 76.9ZM482.7 119.6L487.9 129.1L477.6 129.1ZM445.2 164.4L450.3 173.9L440.1 173.9ZM451.5 155.8L456.6 165.3L446.4 165.3ZM447.6 173.3L452.8 182.8L442.5 182.8ZM487.9 123.8L493.1 133.3L482.8 133.3ZM576.9 31.9L582 41.4L571.8 41.4ZM509.9 109.6L515 119L504.7 119ZM572.3 36.2L577.5 45.6L567.2 45.6ZM539.7 74.5L544.9 84L534.6 84ZM543.6 75.6L548.7 85L538.5 85ZM538.2 74L543.3 83.4L533.1 83.4ZM494.4 120.5L499.5 130L489.3 130ZM575.4 46.2L580.5 55.7L570.3 55.7ZM434.5 172.4L439.6 181.9L429.4 181.9ZM506.3 115.5L511.4 124.9L501.2 124.9ZM475.4 137.1L480.5 146.5L470.2 146.5ZM408.3 202.7L413.4 212.1L403.2 212.1ZM447.3 160.3L452.5 169.7L442.2 169.7ZM477.2 133.4L482.3 142.9L472 142.9ZM472.8 134L477.9 143.4L467.7 143.4ZM492.2 118.7L497.4 128.1L487.1 128.1ZM535.5 88L540.6 97.4L530.4 97.4ZM460.9 153.4L466 162.8L455.8 162.8ZM474 139.8L479.1 149.2L468.9 149.2ZM441.5 164.6L446.6 174.1L436.4 174.1ZM424.8 182L429.9 191.4L419.7 191.4ZM488.8 120.1L493.9 129.5L483.7 129.5ZM457.5 153.6L462.7 163L452.4 163ZM493.2 118.3L498.4 127.7L488.1 127.7ZM565.2 48.1L570.3 57.5L560.1 57.5ZM483.5 126.6L488.7 136L478.4 136ZM437.6 167.1L442.7 176.6L432.5 176.6ZM555 57.5L560.1 67L549.8 67ZM484.2 126.9L489.4 136.4L479.1 136.4ZM539.1 76.3L544.3 85.8L534 85.8ZM445.1 162.7L450.2 172.1L440 172.1ZM554.2 67.1L559.3 76.5L549.1 76.5ZM522.2 88.9L527.3 98.3L517 98.3ZM481.7 133.8L486.9 143.2L476.6 143.2ZM462.2 151.4L467.4 160.9L457.1 160.9ZM458.5 151.7L463.6 161.1L453.3 161.1ZM552.2 67.4L557.3 76.9L547.1 76.9ZM477.3 132.5L482.4 142L472.1 142ZM512.7 103.6L517.8 113.1L507.6 113.1ZM426.6 180.7L431.7 190.2L421.5 190.2ZM483.9 132.6L489 142L478.8 142ZM442 177.2L447.2 186.7L436.9 186.7ZM523 84.3L528.1 93.7L517.9 93.7ZM474.8 133.1L480 142.5L469.7 142.5ZM558 58L563.1 67.4L552.8 67.4ZM519.8 99.3L525 108.8L514.7 108.8ZM483.7 128.9L488.9 138.3L478.6 138.3ZM472.9 135.6L478.1 145.1L467.8 145.1ZM467.8 146.6L473 156.1L462.7 156.1ZM507.3 108.3L512.5 117.8L502.2 117.8ZM495.5 118.6L500.6 128L490.4 128ZM426.5 180.1L431.7 189.5L421.4 189.5ZM522 85.5L527.1 95L516.9 95ZM463.1 152.8L468.3 162.2L458 162.2ZM437.6 168.8L442.7 178.2L432.5 178.2ZM480.1 134.9L485.3 144.3L475 144.3ZM557.6 56.6L562.7 66L552.4 66ZM517.8 103.5L523 112.9L512.7 112.9ZM516.1 100L521.2 109.4L511 109.4ZM444 174.3L449.1 183.7L438.8 183.7ZM553 69.4L558.1 78.9L547.9 78.9ZM464.8 144.1L469.9 153.6L459.6 153.6ZM505.4 106.7L510.5 116.1L500.3 116.1ZM507.5 105.2L512.6 114.7L502.3 114.7ZM448.7 156.2L453.8 165.6L443.5 165.6ZM476 132.5L481.2 141.9L470.9 141.9ZM580.8 35.3L585.9 44.8L575.6 44.8ZM570.6 38L575.8 47.4L565.5 47.4ZM432.2 174.2L437.4 183.7L427.1 183.7ZM437.2 170.4L442.4 179.8L432.1 179.8ZM483.6 124.9L488.7 134.4L478.4 134.4ZM564.5 53.6L569.7 63L559.4 63ZM564.1 57.9L569.2 67.3L559 67.3ZM459.5 154.7L464.6 164.2L454.4 164.2ZM507.6 110.4L512.7 119.9L502.5 119.9ZM551.7 76.3L556.8 85.8L546.5 85.8ZM570.7 47.8L575.9 57.2L565.6 57.2ZM420.8 185.6L425.9 195.1L415.6 195.1ZM430 177.9L435.2 187.3L424.9 187.3ZM551.4 58.4L556.5 67.9L546.3 67.9ZM469.6 144.9L474.8 154.3L464.5 154.3ZM504.6 116.3L509.7 125.7L499.4 125.7ZM460.2 153.7L465.3 163.2L455 163.2Z" fill="#a5640a" fill-opacity="0.5"/>
<path d="M564.7 32.7L569.9 42.1L559.6 42.1ZM433.1 173.6L438.2 183.1L428 183.1ZM552.3 64.1L557.4 73.6L547.1 73.6ZM525.7 86.5L530.8 95.9L520.6 95.9ZM549.3 65.4L554.4 74.8L544.2 74.8ZM463 145.4L468.2 154.8L457.9 154.8ZM567 46.7L572.1 56.1L561.8 56.1ZM470.7 146.6L475.8 156L465.6 156ZM483.7 130.8L488.8 140.2L478.6 140.2ZM404 189.8L409.1 199.2L398.9 199.2ZM532.8 88.6L537.9 98.1L527.6 98.1ZM474.5 136.9L479.6 146.4L469.4 146.4ZM457.7 152.5L462.9 162L452.6 162ZM421.1 186.2L426.3 195.6L416 195.6ZM517.7 98.2L522.8 107.7L512.5 107.7ZM441.2 164.1L446.3 173.5L436 173.5ZM556.7 58.4L561.8 67.9L551.5 67.9ZM441.9 177.1L447.1 186.5L436.8 186.5ZM524.1 90L529.2 99.4L519 99.4ZM562.2 54.6L567.4 64.1L557.1 64.1ZM540.8 73L546 82.4L535.7 82.4ZM457.1 153.7L462.3 163.2L452 163.2ZM569 32.9L574.2 42.3L563.9 42.3ZM573.3 31.9L578.5 41.3L568.2 41.3ZM438.6 167.3L443.7 176.8L433.4 176.8ZM485.4 120.5L490.5 129.9L480.3 129.9ZM422.7 182.3L427.8 191.8L417.6 191.8ZM464.4 148.2L469.6 157.7L459.3 157.7ZM510.1 107.5L515.2 116.9L505 116.9ZM427.2 190.4L432.3 199.9L422.1 199.9ZM447.5 156L452.6 165.4L442.4 165.4ZM492.5 119.3L497.7 128.8L487.4 128.8ZM565 59.3L570.1 68.8L559.9 68.8ZM547.7 74.3L552.8 83.8L542.5 83.8ZM521.4 98L526.5 107.4L516.3 107.4ZM504.8 113.5L510 122.9L499.7 122.9ZM422.1 182.8L427.2 192.2L417 192.2ZM522.4 91.8L527.5 101.2L517.3 101.2ZM540.8 81.3L545.9 90.8L535.6 90.8ZM545.8 75.6L550.9 85L540.7 85ZM538.6 86.7L543.8 96.2L533.5 96.2ZM445.6 163.7L450.7 173.2L440.4 173.2ZM429.1 178.2L434.2 187.7L423.9 187.7ZM522.7 99L527.8 108.5L517.6 108.5ZM477.6 135.1L482.7 144.6L472.4 144.6ZM446.5 161.2L451.6 170.6L441.3 170.6ZM434.8 170.2L439.9 179.7L429.6 179.7ZM553.3 61.3L558.5 70.8L548.2 70.8ZM564.3 54.6L569.4 64L559.1 64ZM496.4 117.2L501.6 126.6L491.3 126.6ZM514.9 99.9L520 109.3L509.8 109.3ZM441.4 174.4L446.6 183.8L436.3 183.8ZM480.9 130.4L486 139.9L475.7 139.9ZM420.8 184.7L426 194.1L415.7 194.1ZM565.3 50.6L570.5 60.1L560.2 60.1ZM474.5 133.1L479.6 142.6L469.3 142.6ZM420.1 186.1L425.2 195.5L415 195.5ZM472.4 135.3L477.5 144.8L467.3 144.8ZM541.3 75.2L546.5 84.7L536.2 84.7ZM551.2 72L556.3 81.4L546 81.4ZM523.2 87.2L528.3 96.6L518.1 96.6ZM483.6 123.4L488.7 132.9L478.5 132.9ZM424.1 182.1L429.3 191.6L419 191.6ZM423.2 182.8L428.3 192.2L418.1 192.2ZM472.3 144.3L477.4 153.7L467.2 153.7ZM564.6 56.3L569.8 65.8L559.5 65.8ZM429.1 178.1L434.2 187.5L423.9 187.5ZM519.8 98L524.9 107.4L514.7 107.4ZM491.3 121.2L496.4 130.6L486.1 130.6ZM520.9 91L526 100.4L515.8 100.4ZM537.5 87.7L542.6 97.2L532.4 97.2ZM551.5 68.9L556.7 78.3L546.4 78.3ZM564.8 47.7L570 57.2L559.7 57.2ZM518.1 100.2L523.2 109.6L513 109.6ZM550.3 74L555.4 83.5L545.1 83.5ZM448.9 156.4L454 165.8L443.8 165.8ZM537.9 82.6L543.1 92L532.8 92ZM506.9 112.6L512 122.1L501.7 122.1ZM481.9 129.7L487.1 139.1L476.8 139.1ZM539.6 73L544.8 82.5L534.5 82.5ZM446.4 162.4L451.6 171.9L441.3 171.9ZM581.2 29.3L586.3 38.8L576 38.8ZM502.9 113.6L508 123.1L497.7 123.1ZM424.8 181.3L429.9 190.7L419.6 190.7ZM431.4 177.4L436.5 186.8L426.2 186.8ZM565.2 49.9L570.3 59.4L560 59.4ZM504.4 117.7L509.6 127.1L499.3 127.1ZM428 179.1L433.2 188.5L422.9 188.5ZM429 178.6L434.2 188L423.9 188ZM498.8 115.7L503.9 125.1L493.7 125.1ZM444.7 175L449.8 184.4L439.5 184.4ZM492.1 118.1L497.3 127.6L487 127.6ZM506.9 109.4L512 118.9L501.7 118.9ZM499.9 117.2L505 126.6L494.7 126.6ZM537.6 84.5L542.7 93.9L532.4 93.9ZM420.9 184.4L426 193.8L415.7 193.8ZM448.7 156.1L453.9 165.6L443.6 165.6ZM437.7 168.7L442.8 178.1L432.5 178.1ZM516 98.9L521.2 108.4L510.9 108.4ZM563.8 47.5L568.9 57L558.7 57ZM420.7 182.6L425.8 192L415.5 192ZM468 144.2L473.1 153.7L462.9 153.7ZM554 60.1L559.1 69.6L548.9 69.6ZM507.9 115.4L513 124.8L502.8 124.8ZM553.3 57.6L558.4 67.1L548.2 67.1ZM578.6 23.2L583.8 32.7L573.5 32.7ZM437.2 169L442.3 178.4L432 178.4ZM510.1 107.1L515.3 116.6L505 116.6ZM551 63.1L556.1 72.6L545.9 72.6ZM575 45.9L580.1 55.4L569.9 55.4ZM422.1 184.7L427.2 194.2L416.9 194.2ZM474.7 143.3L479.8 152.7L469.6 152.7ZM536.3 87.5L541.4 96.9L531.2 96.9ZM543.7 73.1L548.8 82.5L538.5 82.5ZM495.2 115.1L500.3 124.6L490 124.6ZM524.9 85.8L530.1 95.2L519.8 95.2ZM422.1 183.3L427.3 192.7L417 192.7ZM486.3 124.6L491.5 134.1L481.2 134.1ZM527.4 86.7L532.5 96.2L522.3 96.2ZM564.4 46.3L569.5 55.7L559.2 55.7ZM519 97.7L524.1 107.1L513.9 107.1ZM448.4 162.9L453.6 172.3L443.3 172.3ZM447.1 161.9L452.3 171.3L442 171.3ZM514.6 101.6L519.8 111L509.5 111ZM516.6 102.6L521.8 112.1L511.5 112.1ZM473 136.2L478.1 145.7L467.9 145.7ZM575.1 43.9L580.2 53.4L569.9 53.4ZM522.2 95.4L527.3 104.9L517 104.9ZM494.9 117.2L500.1 126.7L489.8 126.7ZM556.7 55.5L561.9 65L551.6 65ZM438.7 169L443.8 178.5L433.6 178.5ZM449.3 156.8L454.4 166.2L444.2 166.2ZM482.7 132.1L487.8 141.6L477.5 141.6ZM572.6 39.1L577.8 48.6L567.5 48.6ZM483.3 122.4L488.5 131.8L478.2 131.8ZM424.9 181.1L430 190.6L419.8 190.6ZM499.4 117.7L504.5 127.1L494.3 127.1ZM499.3 115.3L504.5 124.8L494.2 124.8ZM516.9 101.3L522 110.7L511.8 110.7ZM454 154.1L459.1 163.6L448.9 163.6ZM432.6 173.2L437.7 182.7L427.4 182.7ZM553.5 64.8L558.6 74.2L548.3 74.2ZM421 184L426.1 193.4L415.9 193.4ZM474.1 136.7L479.2 146.2L468.9 146.2ZM566.5 53.7L571.6 63.2L561.3 63.2ZM507.1 113.8L512.2 123.3L502 123.3ZM538.6 82.2L543.7 91.6L533.5 91.6ZM433.9 171.5L439.1 180.9L428.8 180.9ZM461.7 149.3L466.8 158.7L456.6 158.7ZM539.7 74.5L544.8 83.9L534.5 83.9ZM534.8 89.3L539.9 98.8L529.7 98.8ZM520.3 97.4L525.4 106.8L515.2 106.8ZM466.6 146.6L471.8 156.1L461.5 156.1ZM445.8 167.4L450.9 176.8L440.7 176.8ZM433.5 172.4L438.6 181.9L428.3 181.9ZM461.9 152.3L467 161.7L456.8 161.7ZM564.9 51.2L570.1 60.6L559.8 60.6ZM522.4 98.6L527.5 108L517.3 108ZM454.7 154.3L459.8 163.8L449.6 163.8ZM521.9 96.7L527.1 106.1L516.8 106.1ZM553.3 59.5L558.5 68.9L548.2 68.9ZM506.8 110.3L511.9 119.7L501.7 119.7ZM481.2 128.2L486.3 137.7L476.1 137.7ZM466 144.5L471.2 154L460.9 154ZM429.3 178L434.4 187.4L424.2 187.4ZM445.6 162.4L450.7 171.9L440.5 171.9ZM428.4 178.9L433.5 188.3L423.3 188.3ZM420 186.4L425.1 195.8L414.9 195.8ZM560.3 59.3L565.5 68.8L555.2 68.8ZM452.7 155.6L457.8 165.1L447.5 165.1ZM536.7 84.8L541.8 94.2L531.6 94.2ZM442 164.6L447.1 174.1L436.9 174.1ZM493.9 117.4L499.1 126.9L488.8 126.9ZM474.4 141L479.5 150.4L469.3 150.4ZM428.4 178.3L433.5 187.7L423.3 187.7ZM422.8 183.1L428 192.5L417.7 192.5ZM513.3 104.8L518.4 114.3L508.1 114.3ZM439.8 166.4L444.9 175.8L434.6 175.8ZM475.6 131.8L480.7 141.3L470.4 141.3ZM484 122.3L489.2 131.8L478.9 131.8ZM486.3 126.4L491.5 135.9L481.2 135.9ZM421 184.9L426.1 194.4L415.9 194.4ZM495.1 121.7L500.2 131.1L489.9 131.1ZM428 179.9L433.2 189.3L422.9 189.3ZM482.7 129.1L487.8 138.5L477.6 138.5ZM496.9 113.6L502 123.1L491.8 123.1ZM467.4 143.8L472.5 153.3L462.3 153.3ZM483.4 124.4L488.5 133.9L478.2 133.9ZM510 104.1L515.1 113.5L504.8 113.5ZM551.3 62.5L556.4 71.9L546.2 71.9ZM451.2 154.3L456.3 163.8L446 163.8ZM494.5 115.7L499.7 125.1L489.4 125.1ZM547.7 71.4L552.8 80.9L542.5 80.9ZM539.4 73L544.5 82.4L534.3 82.4ZM506.1 117.4L511.2 126.8L500.9 126.8ZM489.8 122.4L495 131.8L484.7 131.8ZM423.4 181.8L428.5 191.3L418.3 191.3ZM521.7 85.5L526.8 94.9L516.6 94.9ZM552.1 59L557.3 68.4L547 68.4ZM547.5 72.2L552.7 81.6L542.4 81.6ZM513.1 104L518.3 113.5L508 113.5ZM443.3 165.1L448.4 174.5L438.2 174.5ZM552.2 66.9L557.3 76.3L547 76.3ZM469.2 144.7L474.4 154.2L464.1 154.2ZM445.2 162.9L450.4 172.3L440.1 172.3ZM459.1 154.2L464.2 163.6L454 163.6ZM509 109L514.1 118.5L503.9 118.5ZM451.9 155.4L457 164.8L446.7 164.8ZM504.4 118.7L509.5 128.1L499.2 128.1ZM573 45.4L578.1 54.8L567.9 54.8ZM547.1 75L552.3 84.5L542 84.5ZM423.1 181.7L428.2 191.2L417.9 191.2ZM504.4 114.4L509.5 123.9L499.3 123.9ZM542.4 74.6L547.5 84L537.2 84ZM536.6 73.7L541.7 83.1L531.4 83.1ZM514.8 104L520 113.4L509.7 113.4ZM449.5 159.1L454.6 168.5L444.4 168.5ZM550.3 69.5L555.5 78.9L545.2 78.9ZM466.2 146.6L471.4 156.1L461.1 156.1ZM492.9 120.7L498 130.1L487.8 130.1ZM515.1 104.8L520.2 114.2L509.9 114.2ZM510.7 106.8L515.9 116.2L505.6 116.2ZM506.2 105.8L511.4 115.2L501.1 115.2ZM509 106.1L514.1 115.6L503.8 115.6ZM482.8 131.1L487.9 140.5L477.7 140.5ZM423.1 182.6L428.2 192L417.9 192ZM469.9 142.7L475.1 152.1L464.8 152.1ZM555 60.6L560.1 70.1L549.9 70.1ZM445.7 162.5L450.8 171.9L440.6 171.9ZM463.3 146L468.4 155.4L458.1 155.4ZM450.5 159L455.6 168.4L445.4 168.4ZM499 116.4L504.2 125.9L493.9 125.9ZM524.6 88.5L529.7 97.9L519.5 97.9ZM467 145.6L472.1 155.1L461.9 155.1ZM465.7 145.9L470.8 155.3L460.5 155.3ZM518.2 101.3L523.3 110.7L513 110.7ZM544 75.3L549.1 84.7L538.9 84.7ZM520.2 95.5L525.4 104.9L515.1 104.9ZM517.4 96.4L522.6 105.8L512.3 105.8ZM536.1 78.6L541.3 88L531 88ZM550.3 64.9L555.4 74.3L545.2 74.3ZM506.4 114L511.5 123.4L501.2 123.4ZM473.9 142.9L479.1 152.3L468.8 152.3ZM465.6 145.9L470.7 155.4L460.4 155.4ZM440.4 165.4L445.5 174.9L435.3 174.9ZM420.2 186.9L425.3 196.3L415 196.3ZM483.8 127.1L488.9 136.6L478.6 136.6ZM441.9 173.2L447 182.6L436.7 182.6ZM567.1 53.1L572.2 62.6L561.9 62.6ZM508.1 109.4L513.3 118.9L503 118.9ZM579.7 32.9L584.8 42.4L574.6 42.4ZM537.3 84.8L542.4 94.2L532.2 94.2ZM496.9 114.1L502 123.5L491.7 123.5ZM482.3 131.6L487.4 141.1L477.1 141.1ZM474.8 136.6L479.9 146L469.7 146ZM486.2 125.2L491.3 134.6L481 134.6ZM544.5 75.6L549.6 85.1L539.4 85.1ZM448.6 161.1L453.8 170.6L443.5 170.6ZM535.9 85.3L541 94.7L530.8 94.7ZM444.7 174.7L449.8 184.2L439.6 184.2ZM567.9 44.5L573 54L562.8 54ZM433.4 172L438.6 181.4L428.3 181.4ZM514.7 103.4L519.9 112.8L509.6 112.8ZM463.7 150.5L468.8 160L458.5 160ZM434.2 173.2L439.3 182.7L429.1 182.7ZM472.7 144.7L477.9 154.1L467.6 154.1ZM469.8 145.9L474.9 155.4L464.6 155.4ZM488.9 119.7L494 129.1L483.8 129.1ZM542.1 76.1L547.2 85.5L537 85.5ZM486.7 119.6L491.8 129L481.6 129ZM433 175L438.1 184.4L427.9 184.4ZM438.3 167.9L443.4 177.3L433.1 177.3ZM432.6 174.1L437.7 183.5L427.4 183.5ZM430.9 176L436.1 185.4L425.8 185.4ZM510 103.3L515.2 112.7L504.9 112.7ZM565.3 49.4L570.4 58.8L560.2 58.8ZM522.1 93.7L527.2 103.2L517 103.2ZM579.2 31.4L584.3 40.8L574 40.8ZM574.3 45.5L579.4 55L569.1 55ZM515.8 104L521 113.5L510.7 113.5ZM524.6 93L529.7 102.4L519.5 102.4ZM553.8 55.9L558.9 65.4L548.6 65.4ZM473.5 137.6L478.6 147.1L468.3 147.1ZM551.6 69.6L556.8 79.1L546.5 79.1Z" fill="#a5640a" fill-opacity="0.5"/>
<g fill="#7a7aff" fill-opacity="0.9">
<circle cx="420.5" cy="192.5" r="5.3"/>
<circle cx="419.8" cy="190.4" r="5.3"/>
<circle cx="421.1" cy="190.3" r="5.3"/>
<circle cx="422.1" cy="190.2" r="5.3"/>
<circle cx="421.6" cy="188.4" r="5.3"/>
<circle cx="423.6" cy="189.2" r="5.3"/>
<circle cx="423.1" cy="187.4" r="5.3"/>
<circle cx="424.9" cy="188" r="5.3"/>
<circle cx="425.1" cy="186.9" r="5.3"/>
<circle cx="424.9" cy="185.4" r="5.3"/>
<circle cx="426.5" cy="185.8" r="5.3"/>
<circle cx="426.9" cy="185" r="5.3"/>
<circle cx="427.7" cy="184.8" r="5.3"/>
<circle cx="428" cy="183.8" r="5.3"/>
<circle cx="428.7" cy="183.4" r="5.3"/>
<circle cx="428.6" cy="182" r="5.3"/>
<circle cx="429.2" cy="181.2" r="5.3"/>
<circle cx="429.2" cy="180.2" r="5.3"/>
<circle cx="432.1" cy="181.4" r="5.3"/>
<circle cx="430.9" cy="179.3" r="5.3"/>
<circle cx="431.5" cy="178.7" r="5.3"/>
<circle cx="432.6" cy="178.4" r="5.3"/>
<circle cx="433.5" cy="177.9" r="5.3"/>
<circle cx="433.7" cy="177" r="5.3"/>
<circle cx="434.5" cy="176.7" r="5.3"/>
<circle cx="434.4" cy="175.3" r="5.3"/>
<circle cx="436.4" cy="176" r="5.3"/>
<circle cx="436.1" cy="174.3" r="5.3"/>
<circle cx="437.1" cy="174.2" r="5.3"/>
<circle cx="437.8" cy="173.6" r="5.3"/>
<circle cx="438.9" cy="173.6" r="5.3"/>
<circle cx="438.7" cy="172.1" r="5.3"/>
<circle cx="441.5" cy="173.8" r="5.3"/>
<circle cx="439.2" cy="170.4" r="5.3"/>
<circle cx="439" cy="168.5" r="5.3"/>
<circle cx="443.4" cy="171.8" r="5.3"/>
<circle cx="443.7" cy="171.4" r="5.3"/>
<circle cx="444.4" cy="170.8" r="5.3"/>
<circle cx="441.9" cy="166.1" r="5.3"/>
<circle cx="443.5" cy="166.7" r="5.3"/>
<circle cx="446.4" cy="169.1" r="5.3"/>
<circle cx="444.7" cy="165.7" r="5.3"/>
<circle cx="447.4" cy="167.3" r="5.3"/>
<circle cx="443.7" cy="161.9" r="5.3"/>
<circle cx="446.1" cy="163.1" r="5.3"/>
<circle cx="449.9" cy="166.4" r="5.3"/>
<circle cx="450.6" cy="166" r="5.3"/>
<circle cx="453.3" cy="167.5" r="5.3"/>
<circle cx="453.2" cy="166" r="5.3"/>
<circle cx="452.1" cy="163.5" r="5.3"/>
<circle cx="452" cy="162.1" r="5.3"/>
<circle cx="455.7" cy="165.1" r="5.3"/>
<circle cx="452.2" cy="159.6" r="5.3"/>
<circle cx="453.6" cy="160" r="5.3"/>
<circle cx="457.8" cy="163.5" r="5.3"/>
<circle cx="455.7" cy="159.7" r="5.3"/>
<circle cx="456.1" cy="159" r="5.3"/>
<circle cx="456.4" cy="158" r="5.3"/>
<circle cx="453.9" cy="153.5" r="5.3"/>
<circle cx="459.7" cy="158.8" r="5.3"/>
<circle cx="460.2" cy="158.1" r="5.3"/>
<circle cx="460.3" cy="156.9" r="5.3"/>
<circle cx="455.9" cy="150.8" r="5.3"/>
<circle cx="459.2" cy="152.9" r="5.3"/>
<circle cx="458.4" cy="150.9" r="5.3"/>
<circle cx="460.6" cy="152.2" r="5.3"/>
<circle cx="460.9" cy="151" r="5.3"/>
<circle cx="462.6" cy="151.4" r="5.3"/>
<circle cx="462.3" cy="150" r="5.3"/>
<circle cx="463.5" cy="149.8" r="5.3"/>
<circle cx="465.3" cy="150.8" r="5.3"/>
<circle cx="465.4" cy="149.4" r="5.3"/>
<circle cx="466.8" cy="149.7" r="5.3"/>
<circle cx="463.2" cy="144.1" r="5.3"/>
<circle cx="466.8" cy="147.1" r="5.3"/>
<circle cx="469.9" cy="149.3" r="5.3"/>
<circle cx="465.9" cy="143.5" r="5.3"/>
<circle cx="470" cy="146.7" r="5.3"/>
<circle cx="472.2" cy="147.7" r="5.3"/>
<circle cx="469.8" cy="143.8" r="5.3"/>
<circle cx="470.3" cy="143.2" r="5.3"/>
<circle cx="473.9" cy="145.4" r="5.3"/>
<circle cx="469" cy="139.6" r="5.3"/>
<circle cx="469.5" cy="139" r="5.3"/>
<circle cx="472.9" cy="140.8" r="5.3"/>
<circle cx="472.3" cy="139" r="5.3"/>
<circle cx="477.1" cy="142.3" r="5.3"/>
<circle cx="477.4" cy="141.2" r="5.3"/>
<circle cx="473.8" cy="137.2" r="5.3"/>
<circle cx="475.2" cy="136.9" r="5.3"/>
<circle cx="478" cy="138.4" r="5.3"/>
<circle cx="480.4" cy="139.3" r="5.3"/>
<circle cx="477.1" cy="135.2" r="5.3"/>
<circle cx="483.8" cy="140.4" r="5.3"/>
<circle cx="481.6" cy="136.8" r="5.3"/>
<circle cx="482.3" cy="136.6" r="5.3"/>
<circle cx="484.3" cy="137.1" r="5.3"/>
<circle cx="481.2" cy="132.9" r="5.3"/>
<circle cx="484.9" cy="135.1" r="5.3"/>
<circle cx="483.9" cy="133.3" r="5.3"/>
<circle cx="481.2" cy="129.7" r="5.3"/>
<circle cx="481.2" cy="128.4" r="5.3"/>
<circle cx="486.3" cy="131.8" r="5.3"/>
<circle cx="482.3" cy="126.8" r="5.3"/>
<circle cx="482.1" cy="125.6" r="5.3"/>
<circle cx="487.7" cy="130.3" r="5.3"/>
<circle cx="487.6" cy="128.5" r="5.3"/>
<circle cx="485.8" cy="124.5" r="5.3"/>
<circle cx="490.9" cy="130.3" r="5.3"/>
<circle cx="489.7" cy="126.9" r="5.3"/>
<circle cx="492.8" cy="129.9" r="5.3"/>
<circle cx="488.9" cy="123" r="5.3"/>
<circle cx="489.4" cy="122.3" r="5.3"/>
<circle cx="492" cy="124.3" r="5.3"/>
<circle cx="491.1" cy="121.4" r="5.3"/>
<circle cx="491.8" cy="121" r="5.3"/>
<circle cx="495.8" cy="125.2" r="5.3"/>
<circle cx="495.9" cy="123.5" r="5.3"/>
<circle cx="496.5" cy="122.8" r="5.3"/>
<circle cx="495.6" cy="120.4" r="5.3"/>
<circle cx="497.3" cy="121.2" r="5.3"/>
<circle cx="498.3" cy="120.8" r="5.3"/>
<circle cx="498.9" cy="120.2" r="5.3"/>
<circle cx="496.4" cy="115.7" r="5.3"/>
<circle cx="498.2" cy="116.7" r="5.3"/>
<circle cx="498.8" cy="116" r="5.3"/>
<circle cx="502.3" cy="118.8" r="5.3"/>
<circle cx="501.4" cy="116.5" r="5.3"/>
<circle cx="502.8" cy="116.9" r="5.3"/>
<circle cx="503" cy="115.4" r="5.3"/>
<circle cx="502.9" cy="114" r="5.3"/>
<circle cx="504.7" cy="114.7" r="5.3"/>
<circle cx="505.6" cy="114.7" r="5.3"/>
<circle cx="502.5" cy="109.6" r="5.3"/>
<circle cx="503.3" cy="109.1" r="5.3"/>
<circle cx="507.2" cy="112.5" r="5.3"/>
<circle cx="504.6" cy="107.7" r="5.3"/>
<circle cx="509.5" cy="112.4" r="5.3"/>
<circle cx="510.2" cy="112.1" r="5.3"/>
<circle cx="512" cy="112.7" r="5.3"/>
<circle cx="508.2" cy="107.3" r="5.3"/>
<circle cx="509.6" cy="107.4" r="5.3"/>
<circle cx="515.4" cy="112.1" r="5.3"/>
<circle cx="514.5" cy="109.9" r="5.3"/>
<circle cx="511.5" cy="105.4" r="5.3"/>
<circle cx="517.7" cy="110.6" r="5.3"/>
<circle cx="514.3" cy="105.6" r="5.3"/>
<circle cx="517.2" cy="107.5" r="5.3"/>
<circle cx="517" cy="106" r="5.3"/>
<circle cx="517.5" cy="105.4" r="5.3"/>
<circle cx="519.5" cy="106.3" r="5.3"/>
<circle cx="520.7" cy="106.2" r="5.3"/>
<circle cx="517.2" cy="101.4" r="5.3"/>
<circle cx="519.3" cy="102.1" r="5.3"/>
<circle cx="519.7" cy="101.5" r="5.3"/>
<circle cx="523.6" cy="104" r="5.3"/>
<circle cx="521.8" cy="100.9" r="5.3"/>
<circle cx="521.8" cy="99.7" r="5.3"/>
<circle cx="519.4" cy="95.9" r="5.3"/>
<circle cx="519.7" cy="95.1" r="5.3"/>
<circle cx="523.4" cy="97.6" r="5.3"/>
<circle cx="524" cy="97" r="5.3"/>
<circle cx="522" cy="93.8" r="5.3"/>
<circle cx="525.2" cy="95.6" r="5.3"/>
<circle cx="521.8" cy="90.8" r="5.3"/>
<circle cx="524.8" cy="92.9" r="5.3"/>
<circle cx="526.7" cy="93.3" r="5.3"/>
<circle cx="524.9" cy="90.3" r="5.3"/>
<circle cx="527" cy="91.3" r="5.3"/>
<circle cx="529.6" cy="92.5" r="5.3"/>
<circle cx="529.6" cy="91.4" r="5.3"/>
<circle cx="533.4" cy="94.1" r="5.3"/>
<circle cx="529.8" cy="89" r="5.3"/>
<circle cx="528.9" cy="86.9" r="5.3"/>
<circle cx="529.1" cy="86.1" r="5.3"/>
<circle cx="534.3" cy="90" r="5.3"/>
<circle cx="531.3" cy="85.8" r="5.3"/>
<circle cx="530.2" cy="83.2" r="5.3"/>
<circle cx="530.1" cy="82" r="5.3"/>
<circle cx="533.6" cy="84.1" r="5.3"/>
<circle cx="533.4" cy="82.8" r="5.3"/>
<circle cx="532.2" cy="80.6" r="5.3"/>
<circle cx="537" cy="84.2" r="5.3"/>
<circle cx="534.8" cy="80.4" r="5.3"/>
<circle cx="538.7" cy="83.4" r="5.3"/>
<circle cx="538.5" cy="81.6" r="5.3"/>
<circle cx="539.3" cy="81.2" r="5.3"/>
<circle cx="541.8" cy="82.7" r="5.3"/>
<circle cx="539.1" cy="78.6" r="5.3"/>
<circle cx="542.6" cy="81.1" r="5.3"/>
<circle cx="541.7" cy="78.7" r="5.3"/>
<circle cx="545.5" cy="81.3" r="5.3"/>
<circle cx="540.4" cy="75.1" r="5.3"/>
<circle cx="546.5" cy="79.9" r="5.3"/>
<circle cx="543.3" cy="75.4" r="5.3"/>
<circle cx="545.5" cy="76.3" r="5.3"/>
<circle cx="543.5" cy="73.1" r="5.3"/>
<circle cx="549" cy="77.2" r="5.3"/>
<circle cx="544.5" cy="71.6" r="5.3"/>
<circle cx="548.7" cy="74.6" r="5.3"/>
<circle cx="549" cy="73.5" r="5.3"/>
<circle cx="546.7" cy="70.2" r="5.3"/>
<circle cx="552.1" cy="74.2" r="5.3"/>
<circle cx="550.5" cy="71.3" r="5.3"/>
<circle cx="548.7" cy="68.7" r="5.3"/>
<circle cx="554.5" cy="72.9" r="5.3"/>
<circle cx="552.8" cy="70.2" r="5.3"/>
<circle cx="552.6" cy="68.8" r="5.3"/>
<circle cx="555.8" cy="70.6" r="5.3"/>
<circle cx="552" cy="65.7" r="5.3"/>
<circle cx="557" cy="69.2" r="5.3"/>
<circle cx="552.4" cy="63.8" r="5.3"/>
<circle cx="555.2" cy="64.9" r="5.3"/>
<circle cx="554.3" cy="63" r="5.3"/>
<circle cx="558.9" cy="65.9" r="5.3"/>
<circle cx="559.6" cy="65.8" r="5.3"/>
<circle cx="561" cy="65.7" r="5.3"/>
<circle cx="558" cy="61.6" r="5.3"/>
<circle cx="557.7" cy="60.4" r="5.3"/>
<circle cx="560.4" cy="61.4" r="5.3"/>
<circle cx="562.2" cy="62.1" r="5.3"/>
<circle cx="559.6" cy="58.2" r="5.3"/>
<circle cx="558.9" cy="56.6" r="5.3"/>
<circle cx="563.3" cy="59.6" r="5.3"/>
<circle cx="561.4" cy="56.6" r="5.3"/>
<circle cx="559.7" cy="53.8" r="5.3"/>
<circle cx="563.4" cy="55.8" r="5.3"/>
<circle cx="559.4" cy="51.1" r="5.3"/>
<circle cx="559.6" cy="49.9" r="5.3"/>
<circle cx="561.2" cy="50.3" r="5.3"/>
<circle cx="565.5" cy="53.1" r="5.3"/>
<circle cx="565.2" cy="51.6" r="5.3"/>
<circle cx="568.3" cy="53.3" r="5.3"/>
<circle cx="564.1" cy="47.9" r="5.3"/>
<circle cx="568" cy="50.5" r="5.3"/>
<circle cx="569.4" cy="50.8" r="5.3"/>
<circle cx="567.1" cy="47.4" r="5.3"/>
<circle cx="570.6" cy="49.5" r="5.3"/>
<circle cx="570.2" cy="47.9" r="5.3"/>
<circle cx="573.8" cy="50.3" r="5.3"/>
</g>
<g fill="#6464ff" fill-opacity="0.35" stroke="#a8a8c2" stroke-opacity="0.45" stroke-width="0.8">
<circle cx="529.6" cy="92.5" r="5.8"/>
<circle cx="508.9" cy="108.7" r="5.8"/>
<circle cx="498.9" cy="120.2" r="5.8"/>
<circle cx="441.5" cy="173.8" r="5.8"/>
<circle cx="492.2" cy="125.5" r="5.8"/>
<circle cx="546.3" cy="78" r="5.8"/>
<circle cx="446.1" cy="162.8" r="5.8"/>
<circle cx="568.3" cy="53.3" r="5.8"/>
<circle cx="428.2" cy="183.7" r="5.8"/>
<circle cx="545.6" cy="74.3" r="5.8"/>
<circle cx="469.7" cy="147.4" r="5.8"/>
<circle cx="453.9" cy="153.5" r="5.8"/>
<circle cx="524.8" cy="92.9" r="5.8"/>
<circle cx="560" cy="50.8" r="5.8"/>
<circle cx="560.4" cy="61.4" r="5.8"/>
<circle cx="460.9" cy="151" r="5.8"/>
<circle cx="424.9" cy="187.5" r="5.8"/>
<circle cx="556.8" cy="69.4" r="5.8"/>
<circle cx="557.9" cy="65.7" r="5.8"/>
<circle cx="428" cy="183.8" r="5.8"/>
<circle cx="430.4" cy="179.3" r="5.8"/>
<circle cx="468.9" cy="145.8" r="5.8"/>
<circle cx="422.2" cy="188.6" r="5.8"/>
<circle cx="549.2" cy="73.4" r="5.8"/>
<circle cx="436.8" cy="173.3" r="5.8"/>
<circle cx="453.6" cy="168.4" r="5.8"/>
<circle cx="478" cy="138.4" r="5.8"/>
<circle cx="439.2" cy="170.4" r="5.8"/>
<circle cx="524.9" cy="101.5" r="5.8"/>
<circle cx="521.8" cy="90.8" r="5.8"/>
<circle cx="470.3" cy="138" r="5.8"/>
<circle cx="481.2" cy="132.9" r="5.8"/>
<circle cx="456.1" cy="158" r="5.8"/>
<circle cx="531" cy="85.9" r="5.8"/>
<circle cx="468.6" cy="141.5" r="5.8"/>
<circle cx="568.4" cy="47.8" r="5.8"/>
<circle cx="456.2" cy="161.2" r="5.8"/>
<circle cx="496.4" cy="116.7" r="5.8"/>
<circle cx="440.5" cy="170.7" r="5.8"/>
<circle cx="422.1" cy="191.2" r="5.8"/>
<circle cx="438.9" cy="173.6" r="5.8"/>
<circle cx="553.3" cy="68.8" r="5.8"/>
<circle cx="555.6" cy="66.3" r="5.8"/>
<circle cx="535.7" cy="80.7" r="5.8"/>
<circle cx="469.8" cy="143.8" r="5.8"/>
<circle cx="484" cy="136.3" r="5.8"/>
<circle cx="559.7" cy="53.8" r="5.8"/>
<circle cx="481.6" cy="126.7" r="5.8"/>
<circle cx="512.9" cy="106.5" r="5.8"/>
<circle cx="481.3" cy="129.9" r="5.8"/>
<circle cx="473.9" cy="145.4" r="5.8"/>
<circle cx="439" cy="168.5" r="5.8"/>
<circle cx="441.4" cy="163.4" r="5.8"/>
<circle cx="441.9" cy="166.1" r="5.8"/>
<circle cx="461" cy="146.1" r="5.8"/>
<circle cx="560.1" cy="60.7" r="5.8"/>
<circle cx="561.3" cy="62.9" r="5.8"/>
<circle cx="558.9" cy="56.6" r="5.8"/>
<circle cx="443.4" cy="171.8" r="5.8"/>
<circle cx="550" cy="72.9" r="5.8"/>
<circle cx="434.5" cy="175.6" r="5.8"/>
<circle cx="530.2" cy="83.2" r="5.8"/>
<circle cx="484.7" cy="128.5" r="5.8"/>
<circle cx="425.1" cy="185.1" r="5.8"/>
<circle cx="494.2" cy="116.7" r="5.8"/>
<circle cx="570.6" cy="49.5" r="5.8"/>
<circle cx="529.6" cy="92.4" r="5.8"/>
<circle cx="460.1" cy="148.1" r="5.8"/>
<circle cx="522.9" cy="96.3" r="5.8"/>
<circle cx="453.6" cy="160" r="5.8"/>
<circle cx="421.1" cy="191.9" r="5.8"/>
<circle cx="473.9" cy="135.4" r="5.8"/>
<circle cx="541.8" cy="82.7" r="5.8"/>
<circle cx="487.5" cy="123.5" r="5.8"/>
<circle cx="521.9" cy="107.1" r="5.8"/>
<circle cx="443.5" cy="168" r="5.8"/>
<circle cx="446.3" cy="164.2" r="5.8"/>
<circle cx="429.3" cy="183.5" r="5.8"/>
<circle cx="434.4" cy="175.3" r="5.8"/>
<circle cx="419.8" cy="190.4" r="5.8"/>
<circle cx="421" cy="188.7" r="5.8"/>
<circle cx="485" cy="135.7" r="5.8"/>
<circle cx="490.4" cy="127" r="5.8"/>
<circle cx="514.5" cy="109.9" r="5.8"/>
<circle cx="505.1" cy="116.4" r="5.8"/>
<circle cx="557.7" cy="51" r="5.8"/>
<circle cx="486.3" cy="129.1" r="5.8"/>
<circle cx="437.4" cy="170" r="5.8"/>
<circle cx="492.3" cy="120.9" r="5.8"/>
<circle cx="459.2" cy="152.9" r="5.8"/>
<circle cx="426.9" cy="185" r="5.8"/>
<circle cx="533.4" cy="82.8" r="5.8"/>
<circle cx="495.1" cy="124.7" r="5.8"/>
<circle cx="517.4" cy="100" r="5.8"/>
<circle cx="454.4" cy="166" r="5.8"/>
<circle cx="527.8" cy="95.2" r="5.8"/>
<circle cx="531.7" cy="82" r="5.8"/>
<circle cx="421.1" cy="190.3" r="5.8"/>
<circle cx="454" cy="156.7" r="5.8"/>
<circle cx="508.4" cy="106.6" r="5.8"/>
<circle cx="552.8" cy="69.1" r="5.8"/>
<circle cx="561.9" cy="57.5" r="5.8"/>
<circle cx="494.6" cy="125.5" r="5.8"/>
<circle cx="551.8" cy="74.4" r="5.8"/>
<circle cx="545.5" cy="76.3" r="5.8"/>
<circle cx="443.1" cy="172.2" r="5.8"/>
<circle cx="552.1" cy="74.2" r="5.8"/>
<circle cx="510.2" cy="112.1" r="5.8"/>
<circle cx="441.8" cy="168.4" r="5.8"/>
<circle cx="466.8" cy="149.7" r="5.8"/>
<circle cx="507.6" cy="106.6" r="5.8"/>
<circle cx="541.2" cy="74.9" r="5.8"/>
<circle cx="503.6" cy="117.9" r="5.8"/>
<circle cx="552.7" cy="72" r="5.8"/>
<circle cx="553.9" cy="63.4" r="5.8"/>
<circle cx="521.8" cy="100.9" r="5.8"/>
<circle cx="570.3" cy="51.1" r="5.8"/>
<circle cx="544.6" cy="79.5" r="5.8"/>
<circle cx="471.7" cy="140.2" r="5.8"/>
<circle cx="546" cy="71.2" r="5.8"/>
<circle cx="469" cy="148.8" r="5.8"/>
<circle cx="562.5" cy="51.1" r="5.8"/>
<circle cx="477.1" cy="142.3" r="5.8"/>
<circle cx="502.9" cy="116.2" r="5.8"/>
<circle cx="477.1" cy="135.2" r="5.8"/>
<circle cx="456.4" cy="158" r="5.8"/>
<circle cx="517.2" cy="107.5" r="5.8"/>
<circle cx="508.1" cy="111.5" r="5.8"/>
<circle cx="456.2" cy="156.9" r="5.8"/>
<circle cx="533.6" cy="84.1" r="5.8"/>
<circle cx="476" cy="141.6" r="5.8"/>
<circle cx="421.6" cy="188.4" r="5.8"/>
<circle cx="520.9" cy="90.2" r="5.8"/>
<circle cx="485.2" cy="137.1" r="5.8"/>
<circle cx="532.4" cy="94.6" r="5.8"/>
<circle cx="459.8" cy="155.7" r="5.8"/>
<circle cx="483.5" cy="129.8" r="5.8"/>
<circle cx="481.2" cy="128.4" r="5.8"/>
<circle cx="562.7" cy="59.1" r="5.8"/>
<circle cx="489.6" cy="121.7" r="5.8"/>
<circle cx="557" cy="69.2" r="5.8"/>
<circle cx="522" cy="106" r="5.8"/>
<circle cx="557.2" cy="69.1" r="5.8"/>
<circle cx="498" cy="118.4" r="5.8"/>
<circle cx="420.5" cy="192.5" r="5.8"/>
<circle cx="431.4" cy="180.6" r="5.8"/>
<circle cx="557.9" cy="68.9" r="5.8"/>
<circle cx="485.8" cy="124.5" r="5.8"/>
<circle cx="486.6" cy="125.3" r="5.8"/>
<circle cx="495.9" cy="123.5" r="5.8"/>
<circle cx="425.4" cy="187.5" r="5.8"/>
<circle cx="503.7" cy="111.7" r="5.8"/>
<circle cx="432" cy="178" r="5.8"/>
<circle cx="531.4" cy="81.3" r="5.8"/>
<circle cx="542.6" cy="81.1" r="5.8"/>
<circle cx="519.4" cy="105.2" r="5.8"/>
<circle cx="501.2" cy="117.1" r="5.8"/>
<circle cx="567.1" cy="47.4" r="5.8"/>
<circle cx="567.4" cy="53.4" r="5.8"/>
<circle cx="465.2" cy="143.5" r="5.8"/>
<circle cx="463.2" cy="144.1" r="5.8"/>
<circle cx="533.5" cy="79" r="5.8"/>
<circle cx="548.7" cy="74.6" r="5.8"/>
<circle cx="443.1" cy="170.5" r="5.8"/>
<circle cx="537.3" cy="83.6" r="5.8"/>
<circle cx="460.2" cy="158.1" r="5.8"/>
<circle cx="502.9" cy="116.1" r="5.8"/>
<circle cx="543.5" cy="73.1" r="5.8"/>
<circle cx="434.1" cy="175.7" r="5.8"/>
<circle cx="434.9" cy="177.3" r="5.8"/>
<circle cx="530.6" cy="86" r="5.8"/>
<circle cx="419.4" cy="190.6" r="5.8"/>
<circle cx="554" cy="70.7" r="5.8"/>
<circle cx="558.9" cy="56" r="5.8"/>
<circle cx="514.2" cy="111.7" r="5.8"/>
<circle cx="502.3" cy="118.8" r="5.8"/>
<circle cx="482.2" cy="132" r="5.8"/>
<circle cx="469.9" cy="149.3" r="5.8"/>
<circle cx="434.5" cy="176.7" r="5.8"/>
<circle cx="428" cy="185.5" r="5.8"/>
<circle cx="458.4" cy="150.9" r="5.8"/>
<circle cx="541" cy="76.3" r="5.8"/>
<circle cx="452.2" cy="168" r="5.8"/>
<circle cx="524.5" cy="90.6" r="5.8"/>
<circle cx="431.5" cy="178.7" r="5.8"/>
<circle cx="543.2" cy="74.4" r="5.8"/>
<circle cx="472.4" cy="147.8" r="5.8"/>
<circle cx="542.4" cy="79.9" r="5.8"/>
<circle cx="568.4" cy="47.1" r="5.8"/>
<circle cx="543.9" cy="73.8" r="5.8"/>
<circle cx="502.2" cy="120.6" r="5.8"/>
<circle cx="452.9" cy="166.9" r="5.8"/>
<circle cx="440.8" cy="172.2" r="5.8"/>
<circle cx="515.9" cy="109.1" r="5.8"/>
<circle cx="463.9" cy="148.1" r="5.8"/>
<circle cx="502.8" cy="116.9" r="5.8"/>
<circle cx="558" cy="61.6" r="5.8"/>
<circle cx="573.8" cy="50.3" r="5.8"/>
<circle cx="538.7" cy="83.4" r="5.8"/>
<circle cx="487.6" cy="128.5" r="5.8"/>
<circle cx="509.3" cy="109.9" r="5.8"/>
<circle cx="430" cy="180.1" r="5.8"/>
<circle cx="455.6" cy="166" r="5.8"/>
<circle cx="504.9" cy="109.1" r="5.8"/>
<circle cx="496.4" cy="115.7" r="5.8"/>
<circle cx="546.7" cy="70.2" r="5.8"/>
<circle cx="530.1" cy="82" r="5.8"/>
<circle cx="457.8" cy="163.5" r="5.8"/>
<circle cx="493.9" cy="119.8" r="5.8"/>
<circle cx="433.7" cy="177" r="5.8"/>
<circle cx="444.7" cy="165.7" r="5.8"/>
<circle cx="480.7" cy="134.7" r="5.8"/>
<circle cx="461.4" cy="145.7" r="5.8"/>
<circle cx="465.4" cy="149.4" r="5.8"/>
<circle cx="438.7" cy="172.1" r="5.8"/>
<circle cx="438.4" cy="173.5" r="5.8"/>
<circle cx="532.2" cy="80.6" r="5.8"/>
<circle cx="454.2" cy="159.5" r="5.8"/>
<circle cx="552.8" cy="70.2" r="5.8"/>
<circle cx="461.1" cy="154.3" r="5.8"/>
<circle cx="531.3" cy="89.8" r="5.8"/>
<circle cx="429.6" cy="181.2" r="5.8"/>
<circle cx="569.3" cy="52.1" r="5.8"/>
<circle cx="519.8" cy="103.3" r="5.8"/>
<circle cx="471.4" cy="143.6" r="5.8"/>
<circle cx="492.8" cy="129.9" r="5.8"/>
<circle cx="538.6" cy="77.2" r="5.8"/>
<circle cx="552.8" cy="65.9" r="5.8"/>
<circle cx="421.5" cy="188.8" r="5.8"/>
<circle cx="464.3" cy="153" r="5.8"/>
<circle cx="476.6" cy="135.4" r="5.8"/>
<circle cx="427.9" cy="185.7" r="5.8"/>
<circle cx="481.8" cy="128.6" r="5.8"/>
<circle cx="446.1" cy="163.1" r="5.8"/>
<circle cx="514.3" cy="105.6" r="5.8"/>
<circle cx="485.8" cy="128.3" r="5.8"/>
<circle cx="451.8" cy="162.1" r="5.8"/>
<circle cx="533.3" cy="85.5" r="5.8"/>
<circle cx="521.3" cy="89.7" r="5.8"/>
<circle cx="487.7" cy="126.1" r="5.8"/>
<circle cx="522.3" cy="98.1" r="5.8"/>
<circle cx="565.2" cy="51.6" r="5.8"/>
<circle cx="487.1" cy="124.5" r="5.8"/>
<circle cx="485.6" cy="124.8" r="5.8"/>
<circle cx="441.4" cy="172" r="5.8"/>
<circle cx="431.4" cy="178" r="5.8"/>
<circle cx="502.6" cy="118.3" r="5.8"/>
<circle cx="501.4" cy="116.5" r="5.8"/>
<circle cx="519.3" cy="102.1" r="5.8"/>
<circle cx="428.7" cy="183.4" r="5.8"/>
<circle cx="467.7" cy="149.6" r="5.8"/>
<circle cx="479" cy="140" r="5.8"/>
<circle cx="565.5" cy="53.1" r="5.8"/>
<circle cx="569.4" cy="50.8" r="5.8"/>
<circle cx="483.1" cy="140.2" r="5.8"/>
<circle cx="519.5" cy="106.3" r="5.8"/>
<circle cx="429.7" cy="181" r="5.8"/>
<circle cx="560.9" cy="53" r="5.8"/>
<circle cx="425.6" cy="184.5" r="5.8"/>
<circle cx="557.8" cy="64.1" r="5.8"/>
<circle cx="436.4" cy="176" r="5.8"/>
<circle cx="456.1" cy="159" r="5.8"/>
<circle cx="491.8" cy="121" r="5.8"/>
<circle cx="545.5" cy="81.3" r="5.8"/>
<circle cx="456.6" cy="165.2" r="5.8"/>
<circle cx="529.6" cy="91.4" r="5.8"/>
<circle cx="507.4" cy="113.3" r="5.8"/>
<circle cx="458.8" cy="153.5" r="5.8"/>
<circle cx="472.9" cy="140.8" r="5.8"/>
<circle cx="531.9" cy="92.9" r="5.8"/>
<circle cx="491" cy="122.5" r="5.8"/>
<circle cx="429.2" cy="181.2" r="5.8"/>
<circle cx="517.5" cy="105.4" r="5.8"/>
<circle cx="569.1" cy="52.6" r="5.8"/>
<circle cx="517.2" cy="101.4" r="5.8"/>
<circle cx="427.1" cy="183.5" r="5.8"/>
<circle cx="571.5" cy="49.4" r="5.8"/>
<circle cx="558.8" cy="64.5" r="5.8"/>
<circle cx="538.5" cy="81.6" r="5.8"/>
<circle cx="551.8" cy="69.6" r="5.8"/>
<circle cx="424.7" cy="188.6" r="5.8"/>
<circle cx="521" cy="91" r="5.8"/>
<circle cx="465.3" cy="150.8" r="5.8"/>
<circle cx="443.4" cy="161.8" r="5.8"/>
<circle cx="525.2" cy="95.6" r="5.8"/>
<circle cx="450.6" cy="166" r="5.8"/>
<circle cx="431.3" cy="178.9" r="5.8"/>
<circle cx="433.3" cy="177" r="5.8"/>
<circle cx="517.7" cy="104" r="5.8"/>
<circle cx="500.5" cy="111.8" r="5.8"/>
<circle cx="527" cy="91.3" r="5.8"/>
<circle cx="462.1" cy="153.3" r="5.8"/>
<circle cx="496.5" cy="122.8" r="5.8"/>
<circle cx="470" cy="146.7" r="5.8"/>
<circle cx="561.3" cy="65.5" r="5.8"/>
<circle cx="571.4" cy="53.2" r="5.8"/>
<circle cx="422.2" cy="190.8" r="5.8"/>
<circle cx="423.1" cy="187.4" r="5.8"/>
<circle cx="519.7" cy="95.1" r="5.8"/>
<circle cx="493" cy="123.9" r="5.8"/>
<circle cx="428.6" cy="182" r="5.8"/>
<circle cx="573.7" cy="49.3" r="5.8"/>
<circle cx="443.2" cy="175.1" r="5.8"/>
<circle cx="437.2" cy="174.9" r="5.8"/>
<circle cx="543.3" cy="71.3" r="5.8"/>
<circle cx="529.1" cy="86.1" r="5.8"/>
<circle cx="523.6" cy="104" r="5.8"/>
<circle cx="506.2" cy="111.9" r="5.8"/>
<circle cx="524" cy="97" r="5.8"/>
<circle cx="453.2" cy="166" r="5.8"/>
<circle cx="546" cy="76.4" r="5.8"/>
<circle cx="542.6" cy="82.6" r="5.8"/>
<circle cx="521" cy="108" r="5.8"/>
<circle cx="557.3" cy="52.2" r="5.8"/>
<circle cx="515.3" cy="107.7" r="5.8"/>
<circle cx="444.6" cy="164.9" r="5.8"/>
<circle cx="463.5" cy="149.8" r="5.8"/>
<circle cx="510.9" cy="106.7" r="5.8"/>
<circle cx="560" cy="59" r="5.8"/>
<circle cx="493.2" cy="129.5" r="5.8"/>
<circle cx="541.7" cy="84" r="5.8"/>
<circle cx="551.7" cy="65.9" r="5.8"/>
<circle cx="499.3" cy="118.7" r="5.8"/>
<circle cx="443.7" cy="171.4" r="5.8"/>
<circle cx="429.2" cy="180.2" r="5.8"/>
<circle cx="550.5" cy="71.3" r="5.8"/>
<circle cx="473.9" cy="146" r="5.8"/>
<circle cx="561.4" cy="56.6" r="5.8"/>
<circle cx="437.1" cy="174.2" r="5.8"/>
<circle cx="437.8" cy="174.4" r="5.8"/>
<circle cx="515.4" cy="112.1" r="5.8"/>
<circle cx="475.5" cy="139.2" r="5.8"/>
<circle cx="563.3" cy="59.6" r="5.8"/>
<circle cx="545.1" cy="72.1" r="5.8"/>
<circle cx="456.3" cy="165.5" r="5.8"/>
<circle cx="434" cy="179.5" r="5.8"/>
<circle cx="549.5" cy="71" r="5.8"/>
<circle cx="455.7" cy="159.7" r="5.8"/>
<circle cx="422.7" cy="188" r="5.8"/>
<circle cx="504.6" cy="107.7" r="5.8"/>
<circle cx="539.8" cy="83.6" r="5.8"/>
<circle cx="499.3" cy="121" r="5.8"/>
<circle cx="454.8" cy="164.5" r="5.8"/>
<circle cx="517.2" cy="108.3" r="5.8"/>
<circle cx="502.6" cy="111.6" r="5.8"/>
<circle cx="466.8" cy="147.1" r="5.8"/>
<circle cx="478.8" cy="140.8" r="5.8"/>
<circle cx="516.6" cy="106.1" r="5.8"/>
<circle cx="554.3" cy="63" r="5.8"/>
<circle cx="452.2" cy="159.6" r="5.8"/>
<circle cx="569.6" cy="50" r="5.8"/>
<circle cx="465.2" cy="148.2" r="5.8"/>
<circle cx="483.3" cy="134.4" r="5.8"/>
<circle cx="452" cy="164.5" r="5.8"/>
<circle cx="483.7" cy="137" r="5.8"/>
<circle cx="485.6" cy="134.4" r="5.8"/>
<circle cx="523" cy="95.6" r="5.8"/>
<circle cx="487.7" cy="130.3" r="5.8"/>
<circle cx="501.7" cy="107.7" r="5.8"/>
<circle cx="472.2" cy="147.7" r="5.8"/>
<circle cx="546.1" cy="75.4" r="5.8"/>
<circle cx="508.4" cy="111.4" r="5.8"/>
<circle cx="518.4" cy="107.3" r="5.8"/>
<circle cx="470" cy="148.6" r="5.8"/>
<circle cx="560.5" cy="58.2" r="5.8"/>
<circle cx="509.5" cy="112.4" r="5.8"/>
<circle cx="477.4" cy="141.2" r="5.8"/>
<circle cx="475.2" cy="144.5" r="5.8"/>
<circle cx="535" cy="81.5" r="5.8"/>
<circle cx="455.8" cy="153.7" r="5.8"/>
<circle cx="454.1" cy="153.2" r="5.8"/>
<circle cx="435.1" cy="177.9" r="5.8"/>
<circle cx="519.9" cy="108.1" r="5.8"/>
<circle cx="452" cy="162.1" r="5.8"/>
<circle cx="465.9" cy="143.5" r="5.8"/>
<circle cx="533.4" cy="94.1" r="5.8"/>
<circle cx="517" cy="106" r="5.8"/>
<circle cx="562.2" cy="62.1" r="5.8"/>
<circle cx="521.1" cy="93.3" r="5.8"/>
<circle cx="422.1" cy="190.2" r="5.8"/>
<circle cx="519.7" cy="101.5" r="5.8"/>
<circle cx="570.2" cy="47.9" r="5.8"/>
<circle cx="461.8" cy="147.7" r="5.8"/>
<circle cx="494.5" cy="122.2" r="5.8"/>
<circle cx="473.8" cy="144.8" r="5.8"/>
<circle cx="488.9" cy="123" r="5.8"/>
<circle cx="534.3" cy="90" r="5.8"/>
<circle cx="504.1" cy="114.7" r="5.8"/>
<circle cx="459.1" cy="156.1" r="5.8"/>
<circle cx="558.9" cy="65.9" r="5.8"/>
<circle cx="533.2" cy="84.8" r="5.8"/>
<circle cx="460.6" cy="152.2" r="5.8"/>
<circle cx="519.8" cy="94.6" r="5.8"/>
<circle cx="468.1" cy="142.6" r="5.8"/>
<circle cx="519.4" cy="95.9" r="5.8"/>
<circle cx="551" cy="69.1" r="5.8"/>
<circle cx="526.3" cy="90.1" r="5.8"/>
<circle cx="447.6" cy="164.1" r="5.8"/>
<circle cx="506.4" cy="110.8" r="5.8"/>
<circle cx="433.5" cy="177.9" r="5.8"/>
<circle cx="562.7" cy="58.5" r="5.8"/>
<circle cx="491.8" cy="123" r="5.8"/>
<circle cx="528.7" cy="92.2" r="5.8"/>
<circle cx="491.1" cy="121.4" r="5.8"/>
<circle cx="520" cy="101.3" r="5.8"/>
<circle cx="541.5" cy="77.6" r="5.8"/>
<circle cx="549" cy="73.5" r="5.8"/>
<circle cx="519.9" cy="99.7" r="5.8"/>
<circle cx="517.7" cy="110.6" r="5.8"/>
<circle cx="506.3" cy="114.4" r="5.8"/>
<circle cx="480.4" cy="139.3" r="5.8"/>
<circle cx="432.6" cy="178.4" r="5.8"/>
<circle cx="498.6" cy="112.7" r="5.8"/>
<circle cx="482.3" cy="136.6" r="5.8"/>
<circle cx="469" cy="139.6" r="5.8"/>
<circle cx="449.9" cy="166.4" r="5.8"/>
<circle cx="462.2" cy="151.6" r="5.8"/>
<circle cx="482.1" cy="127.5" r="5.8"/>
<circle cx="524.8" cy="95.6" r="5.8"/>
<circle cx="502.5" cy="109.6" r="5.8"/>
<circle cx="471.6" cy="145.7" r="5.8"/>
<circle cx="457.4" cy="159.7" r="5.8"/>
<circle cx="519.7" cy="96.9" r="5.8"/>
<circle cx="552.6" cy="68.8" r="5.8"/>
<circle cx="491.9" cy="130.6" r="5.8"/>
<circle cx="524.4" cy="95.6" r="5.8"/>
<circle cx="521.6" cy="106.2" r="5.8"/>
<circle cx="437.7" cy="173.1" r="5.8"/>
<circle cx="516.5" cy="104" r="5.8"/>
<circle cx="541.7" cy="78.7" r="5.8"/>
<circle cx="440" cy="168.7" r="5.8"/>
<circle cx="551" cy="69.9" r="5.8"/>
<circle cx="559.6" cy="58.2" r="5.8"/>
<circle cx="534.2" cy="90.8" r="5.8"/>
<circle cx="457.7" cy="158.4" r="5.8"/>
<circle cx="537" cy="84.2" r="5.8"/>
<circle cx="556.2" cy="60.5" r="5.8"/>
<circle cx="524.1" cy="91.7" r="5.8"/>
<circle cx="439" cy="172" r="5.8"/>
<circle cx="489.9" cy="125.2" r="5.8"/>
<circle cx="425.1" cy="186.9" r="5.8"/>
<circle cx="534.8" cy="80.4" r="5.8"/>
<circle cx="447.4" cy="167.3" r="5.8"/>
<circle cx="435.8" cy="174.8" r="5.8"/>
<circle cx="550.2" cy="75.9" r="5.8"/>
<circle cx="423.6" cy="189.2" r="5.8"/>
<circle cx="436.1" cy="174.3" r="5.8"/>
<circle cx="430.9" cy="179.3" r="5.8"/>
<circle cx="486" cy="129.6" r="5.8"/>
<circle cx="475.2" cy="136.9" r="5.8"/>
<circle cx="539.1" cy="77.1" r="5.8"/>
<circle cx="460.2" cy="155.7" r="5.8"/>
<circle cx="532.2" cy="93.8" r="5.8"/>
<circle cx="492.8" cy="117.5" r="5.8"/>
<circle cx="451.1" cy="164.2" r="5.8"/>
<circle cx="455.2" cy="151.8" r="5.8"/>
<circle cx="510.6" cy="105.2" r="5.8"/>
<circle cx="491.6" cy="125.9" r="5.8"/>
<circle cx="521.4" cy="95.4" r="5.8"/>
<circle cx="507.8" cy="108.7" r="5.8"/>
<circle cx="548.7" cy="68.7" r="5.8"/>
<circle cx="563.4" cy="55.8" r="5.8"/>
<circle cx="457.8" cy="150.8" r="5.8"/>
<circle cx="547.4" cy="71.2" r="5.8"/>
<circle cx="524.9" cy="90.3" r="5.8"/>
<circle cx="434.1" cy="178.3" r="5.8"/>
<circle cx="471.3" cy="136.3" r="5.8"/>
<circle cx="524.5" cy="90.8" r="5.8"/>
<circle cx="447" cy="168.8" r="5.8"/>
<circle cx="533" cy="82.1" r="5.8"/>
<circle cx="566.6" cy="50.8" r="5.8"/>
<circle cx="443.5" cy="166.7" r="5.8"/>
<circle cx="491.2" cy="125.5" r="5.8"/>
<circle cx="561" cy="65.7" r="5.8"/>
<circle cx="542.8" cy="75.8" r="5.8"/>
<circle cx="540.1" cy="79.4" r="5.8"/>
<circle cx="437.9" cy="172" r="5.8"/>
<circle cx="443.8" cy="162.7" r="5.8"/>
<circle cx="557.7" cy="60.4" r="5.8"/>
<circle cx="430" cy="180.4" r="5.8"/>
<circle cx="568.5" cy="48.2" r="5.8"/>
<circle cx="452.9" cy="164.8" r="5.8"/>
<circle cx="561.7" cy="63.7" r="5.8"/>
<circle cx="457.5" cy="164.9" r="5.8"/>
<circle cx="446.9" cy="164.6" r="5.8"/>
<circle cx="559.6" cy="49.9" r="5.8"/>
<circle cx="482.3" cy="126.8" r="5.8"/>
<circle cx="513.9" cy="112.7" r="5.8"/>
<circle cx="462.4" cy="153" r="5.8"/>
<circle cx="478.7" cy="134.9" r="5.8"/>
<circle cx="437.8" cy="173.6" r="5.8"/>
<circle cx="556.5" cy="64.8" r="5.8"/>
<circle cx="438.6" cy="172.2" r="5.8"/>
<circle cx="443" cy="164.3" r="5.8"/>
<circle cx="444.3" cy="169.6" r="5.8"/>
<circle cx="450" cy="166" r="5.8"/>
<circle cx="539.1" cy="78.6" r="5.8"/>
<circle cx="469.5" cy="139" r="5.8"/>
<circle cx="486.3" cy="133.5" r="5.8"/>
<circle cx="495.8" cy="125.2" r="5.8"/>
<circle cx="441.1" cy="163.7" r="5.8"/>
<circle cx="459.6" cy="145.9" r="5.8"/>
<circle cx="544.5" cy="76.9" r="5.8"/>
<circle cx="562.2" cy="50.5" r="5.8"/>
<circle cx="446.4" cy="169.1" r="5.8"/>
<circle cx="461.6" cy="156" r="5.8"/>
<circle cx="494.9" cy="120" r="5.8"/>
<circle cx="544.2" cy="81" r="5.8"/>
<circle cx="506.1" cy="108" r="5.8"/>
<circle cx="559.6" cy="64.8" r="5.8"/>
<circle cx="427.7" cy="184.8" r="5.8"/>
<circle cx="518" cy="108.8" r="5.8"/>
<circle cx="424.9" cy="188" r="5.8"/>
<circle cx="549" cy="77.2" r="5.8"/>
<circle cx="519.1" cy="100.1" r="5.8"/>
<circle cx="504.7" cy="114.7" r="5.8"/>
<circle cx="469.5" cy="145.3" r="5.8"/>
<circle cx="473.8" cy="140.1" r="5.8"/>
<circle cx="546.5" cy="79.9" r="5.8"/>
<circle cx="533.3" cy="87.4" r="5.8"/>
<circle cx="485.3" cy="124.8" r="5.8"/>
<circle cx="452.1" cy="163.5" r="5.8"/>
<circle cx="483.8" cy="140.4" r="5.8"/>
<circle cx="509.6" cy="107.4" r="5.8"/>
<circle cx="561.2" cy="50.3" r="5.8"/>
<circle cx="532.7" cy="89.9" r="5.8"/>
<circle cx="455.9" cy="150.8" r="5.8"/>
<circle cx="459.7" cy="158.8" r="5.8"/>
<circle cx="494.7" cy="117.9" r="5.8"/>
<circle cx="557" cy="65.9" r="5.8"/>
<circle cx="498.3" cy="120.8" r="5.8"/>
<circle cx="459.7" cy="151.8" r="5.8"/>
<circle cx="420" cy="190" r="5.8"/>
<circle cx="543.4" cy="77.5" r="5.8"/>
<circle cx="531.3" cy="85.8" r="5.8"/>
<circle cx="424.7" cy="186.2" r="5.8"/>
<circle cx="444.4" cy="170.8" r="5.8"/>
<circle cx="458.3" cy="149.7" r="5.8"/>
<circle cx="487.4" cy="129.3" r="5.8"/>
<circle cx="561.9" cy="49.1" r="5.8"/>
<circle cx="458.4" cy="147.9" r="5.8"/>
<circle cx="421.2" cy="190.9" r="5.8"/>
<circle cx="523.1" cy="91.9" r="5.8"/>
<circle cx="502.9" cy="114" r="5.8"/>
<circle cx="495.1" cy="117.6" r="5.8"/>
<circle cx="472.4" cy="137.8" r="5.8"/>
<circle cx="433.6" cy="178.6" r="5.8"/>
<circle cx="522" cy="93.8" r="5.8"/>
<circle cx="568.5" cy="53" r="5.8"/>
<circle cx="429" cy="181.9" r="5.8"/>
<circle cx="561.3" cy="64.4" r="5.8"/>
<circle cx="563.7" cy="54.4" r="5.8"/>
<circle cx="443.7" cy="161.9" r="5.8"/>
<circle cx="542.4" cy="82.9" r="5.8"/>
<circle cx="432.1" cy="181.4" r="5.8"/>
<circle cx="513.8" cy="105.9" r="5.8"/>
<circle cx="544.7" cy="72.4" r="5.8"/>
<circle cx="548" cy="68.4" r="5.8"/>
<circle cx="552" cy="65.7" r="5.8"/>
<circle cx="475.9" cy="139.1" r="5.8"/>
<circle cx="501.8" cy="119" r="5.8"/>
<circle cx="528.9" cy="86.9" r="5.8"/>
<circle cx="512" cy="112.7" r="5.8"/>
<circle cx="441" cy="166.1" r="5.8"/>
<circle cx="534.4" cy="92.4" r="5.8"/>
<circle cx="472.3" cy="139" r="5.8"/>
<circle cx="449.4" cy="164" r="5.8"/>
<circle cx="495.6" cy="120.4" r="5.8"/>
<circle cx="529.7" cy="85.6" r="5.8"/>
<circle cx="521.5" cy="100.5" r="5.8"/>
<circle cx="484.9" cy="135.1" r="5.8"/>
<circle cx="471.2" cy="138.5" r="5.8"/>
<circle cx="543.3" cy="75.4" r="5.8"/>
<circle cx="532.8" cy="83.8" r="5.8"/>
<circle cx="494.2" cy="120.7" r="5.8"/>
<circle cx="467.7" cy="143.9" r="5.8"/>
<circle cx="424.9" cy="185.4" r="5.8"/>
<circle cx="478.6" cy="138.2" r="5.8"/>
<circle cx="561.8" cy="53.6" r="5.8"/>
<circle cx="520.7" cy="106.2" r="5.8"/>
<circle cx="462.6" cy="151.4" r="5.8"/>
<circle cx="435.8" cy="174.7" r="5.8"/>
<circle cx="522.9" cy="97.5" r="5.8"/>
<circle cx="520.2" cy="100.4" r="5.8"/>
<circle cx="468.9" cy="140.1" r="5.8"/>
<circle cx="486.4" cy="127.6" r="5.8"/>
<circle cx="455.1" cy="154.7" r="5.8"/>
<circle cx="481" cy="140.7" r="5.8"/>
<circle cx="555.8" cy="70.6" r="5.8"/>
<circle cx="482.8" cy="139.6" r="5.8"/>
<circle cx="503.1" cy="114.8" r="5.8"/>
<circle cx="425.1" cy="186.3" r="5.8"/>
<circle cx="555.2" cy="64.9" r="5.8"/>
<circle cx="477.7" cy="136.1" r="5.8"/>
<circle cx="436.6" cy="176.6" r="5.8"/>
<circle cx="470.6" cy="140.8" r="5.8"/>
<circle cx="498.8" cy="116" r="5.8"/>
<circle cx="563.8" cy="49.3" r="5.8"/>
<circle cx="469" cy="150.2" r="5.8"/>
<circle cx="489.7" cy="126.9" r="5.8"/>
<circle cx="470.3" cy="143.2" r="5.8"/>
<circle cx="462.3" cy="150" r="5.8"/>
<circle cx="431.1" cy="179.1" r="5.8"/>
<circle cx="505.6" cy="114.7" r="5.8"/>
<circle cx="490.9" cy="130.3" r="5.8"/>
<circle cx="426.5" cy="185.8" r="5.8"/>
<circle cx="485.2" cy="132.6" r="5.8"/>
<circle cx="453.3" cy="167.5" r="5.8"/>
<circle cx="568" cy="50.5" r="5.8"/>
<circle cx="559.4" cy="51.1" r="5.8"/>
<circle cx="554.5" cy="72.9" r="5.8"/>
<circle cx="514.7" cy="109.2" r="5.8"/>
<circle cx="483.2" cy="138" r="5.8"/>
<circle cx="531.6" cy="80.4" r="5.8"/>
<circle cx="444.7" cy="168.8" r="5.8"/>
<circle cx="478.8" cy="141.1" r="5.8"/>
<circle cx="556.8" cy="63.5" r="5.8"/>
<circle cx="481.4" cy="137.5" r="5.8"/>
<circle cx="552.4" cy="63.8" r="5.8"/>
<circle cx="456.4" cy="154.4" r="5.8"/>
<circle cx="512.3" cy="109.3" r="5.8"/>
<circle cx="540.4" cy="75.1" r="5.8"/>
<circle cx="462.8" cy="149.8" r="5.8"/>
<circle cx="498.2" cy="116.7" r="5.8"/>
<circle cx="533.2" cy="93.2" r="5.8"/>
<circle cx="521.8" cy="99.7" r="5.8"/>
<circle cx="560.8" cy="59.2" r="5.8"/>
<circle cx="457.4" cy="161.2" r="5.8"/>
<circle cx="537.5" cy="80.2" r="5.8"/>
<circle cx="442.7" cy="169" r="5.8"/>
<circle cx="423.6" cy="188.2" r="5.8"/>
<circle cx="484.3" cy="137.1" r="5.8"/>
<circle cx="482" cy="132.2" r="5.8"/>
<circle cx="463.3" cy="145.2" r="5.8"/>
<circle cx="550.3" cy="72.1" r="5.8"/>
<circle cx="547.9" cy="68.4" r="5.8"/>
<circle cx="481.6" cy="136.8" r="5.8"/>
<circle cx="453.4" cy="160.4" r="5.8"/>
<circle cx="429.7" cy="182.1" r="5.8"/>
<circle cx="502.4" cy="119.9" r="5.8"/>
<circle cx="559.7" cy="60.2" r="5.8"/>
<circle cx="439.6" cy="167.7" r="5.8"/>
<circle cx="486.3" cy="131.8" r="5.8"/>
<circle cx="497.3" cy="121.2" r="5.8"/>
<circle cx="535" cy="87.9" r="5.8"/>
<circle cx="453.7" cy="159.5" r="5.8"/>
<circle cx="564.7" cy="51.5" r="5.8"/>
<circle cx="564.1" cy="47.9" r="5.8"/>
<circle cx="508.7" cy="110.5" r="5.8"/>
<circle cx="497.7" cy="120" r="5.8"/>
<circle cx="473.4" cy="142.1" r="5.8"/>
<circle cx="529.4" cy="94.1" r="5.8"/>
<circle cx="567.9" cy="45" r="5.8"/>
<circle cx="426.7" cy="182.9" r="5.8"/>
<circle cx="511.5" cy="105.4" r="5.8"/>
<circle cx="532" cy="79.2" r="5.8"/>
<circle cx="483.9" cy="133.3" r="5.8"/>
<circle cx="499.1" cy="117.2" r="5.8"/>
<circle cx="510" cy="106.1" r="5.8"/>
<circle cx="481.2" cy="129.7" r="5.8"/>
<circle cx="518.7" cy="100.6" r="5.8"/>
<circle cx="544.5" cy="71.6" r="5.8"/>
<circle cx="523.4" cy="97.6" r="5.8"/>
<circle cx="424.3" cy="187.9" r="5.8"/>
<circle cx="555.6" cy="65.7" r="5.8"/>
<circle cx="559.6" cy="65.8" r="5.8"/>
<circle cx="537.8" cy="82" r="5.8"/>
<circle cx="435.2" cy="175.8" r="5.8"/>
<circle cx="527.7" cy="93.1" r="5.8"/>
<circle cx="494.9" cy="123.5" r="5.8"/>
<circle cx="496.4" cy="115.5" r="5.8"/>
<circle cx="473.8" cy="137.2" r="5.8"/>
<circle cx="544.6" cy="70.9" r="5.8"/>
<circle cx="554.2" cy="69.6" r="5.8"/>
<circle cx="559.1" cy="52.9" r="5.8"/>
<circle cx="561.2" cy="50.6" r="5.8"/>
<circle cx="533.6" cy="92.7" r="5.8"/>
<circle cx="482.1" cy="125.6" r="5.8"/>
<circle cx="505.4" cy="115.4" r="5.8"/>
<circle cx="463.9" cy="147.4" r="5.8"/>
<circle cx="435.7" cy="173.7" r="5.8"/>
<circle cx="571.3" cy="48.5" r="5.8"/>
<circle cx="537.5" cy="78.6" r="5.8"/>
<circle cx="496.6" cy="121.1" r="5.8"/>
<circle cx="508.2" cy="107.3" r="5.8"/>
<circle cx="552.3" cy="66.8" r="5.8"/>
<circle cx="460.3" cy="156.9" r="5.8"/>
<circle cx="447.1" cy="167.4" r="5.8"/>
<circle cx="560.7" cy="60.4" r="5.8"/>
<circle cx="519.9" cy="98" r="5.8"/>
<circle cx="503" cy="115.4" r="5.8"/>
<circle cx="507.2" cy="112.5" r="5.8"/>
<circle cx="503.3" cy="109.1" r="5.8"/>
<circle cx="523" cy="100.2" r="5.8"/>
<circle cx="531.7" cy="85.3" r="5.8"/>
<circle cx="492" cy="124.3" r="5.8"/>
<circle cx="464.2" cy="144.8" r="5.8"/>
<circle cx="559.2" cy="53.8" r="5.8"/>
<circle cx="424.9" cy="185.3" r="5.8"/>
<circle cx="518.6" cy="108.9" r="5.8"/>
<circle cx="529.8" cy="89" r="5.8"/>
<circle cx="526.7" cy="93.3" r="5.8"/>
<circle cx="428.7" cy="183.5" r="5.8"/>
<circle cx="569.8" cy="46" r="5.8"/>
<circle cx="562.4" cy="52.3" r="5.8"/>
<circle cx="489.4" cy="122.3" r="5.8"/>
<circle cx="532.8" cy="92.5" r="5.8"/>
<circle cx="502.7" cy="109.2" r="5.8"/>
<circle cx="455.7" cy="165.1" r="5.8"/>
<circle cx="540.4" cy="82" r="5.8"/>
<circle cx="453.5" cy="157.4" r="5.8"/>
<circle cx="426.4" cy="185.1" r="5.8"/>
<circle cx="532" cy="80" r="5.8"/>
<circle cx="567" cy="49.2" r="5.8"/>
<circle cx="428.2" cy="181.9" r="5.8"/>
<circle cx="484.7" cy="139" r="5.8"/>
<circle cx="539.3" cy="81.2" r="5.8"/>
<circle cx="422" cy="188" r="5.8"/>
<circle cx="467.9" cy="147.3" r="5.8"/>
<circle cx="561.2" cy="63.9" r="5.8"/>
</g>
<circle cx="407" cy="191.7" r="5.8" fill="#6464ff" fill-opacity="0.95"/>
<circle cx="421.7" cy="191.7" r="5.8" fill="#6464ff" fill-opacity="0.85"/>
<circle cx="417" cy="192" r="5.8" fill="#6464ff" fill-opacity="0.6"/>
<path d="M419.7 191.7L420.6 190.8L421.4 190L422.3 189.1L423.2 188.3L424.1 187.4L424.9 186.5L425.8 185.7L426.7 184.8L427.5 183.9L428.4 183.1L429.3 182.2L430.1 181.3L431 180.5L431.9 179.6L432.7 178.7L433.6 177.9L434.5 177L435.3 176.1L436.2 175.3L437.1 174.4L437.9 173.5L438.8 172.6L439.6 171.8L440.5 170.9" fill="none" stroke="#6464ff" stroke-width="14.4" stroke-linecap="round" stroke-linejoin="round"/>
<path d="M419.5 191.5L420.4 190.6L421.2 189.8L422.1 188.9L423 188L423.8 187.2L424.7 186.3L425.6 185.5L426.5 184.6L427.3 183.7L428.2 182.9L429.1 182L429.9 181.1L430.8 180.3L431.7 179.4L432.5 178.5L433.4 177.7L434.3 176.8L435.1 175.9L436 175L436.8 174.2L437.7 173.3L438.6 172.4L439.4 171.6L440.3 170.7" fill="none" stroke="#9c9cd0" stroke-width="12" stroke-linecap="round" stroke-linejoin="round"/>
<path d="M419.3 191.3L420.2 190.5L421.1 189.6L422 188.8L422.8 187.9L423.7 187L424.6 186.2L425.4 185.3L426.3 184.4L427.2 183.6L428.1 182.7L428.9 181.9L429.8 181L430.7 180.1L431.5 179.3L432.4 178.4L433.2 177.5L434.1 176.6L435 175.8L435.8 174.9L436.7 174L437.6 173.2L438.4 172.3L439.3 171.4L440.2 170.6" fill="none" stroke="#babac0" stroke-width="9.8" stroke-linecap="round" stroke-linejoin="round"/>
<path d="M439.4 169.8L439.8 169.5L440.2 169.1L440.6 168.7L440.9 168.4L441.4 167.9L441.8 167.6L442.2 167.2L442.6 166.9L443 166.6L443.4 166.2L443.8 165.9L444.2 165.6L444.6 165.2L445 164.9L445.5 164.5L445.9 164.2L446.3 163.9L446.7 163.5L447.1 163.2L447.5 162.9L447.9 162.5L448.3 162.2L448.7 161.8L449.1 161.5" fill="none" stroke="#babac0" stroke-width="5.5" stroke-linecap="round" stroke-linejoin="round"/>
<line x1="412.6" y1="192.6" x2="412.6" y2="204" stroke="#babac0" stroke-width="11.6" stroke-linecap="round"/>
<circle cx="412.7" cy="206.2" r="5.8" fill="#6464ff" fill-opacity="1"/>
</g>
<rect x="401" y="25.8" width="193.5" height="189" fill="none" stroke="#000" stroke-width="1.3"/>
<line x1="412.8" y1="214.8" x2="412.8" y2="211.3" stroke="#000" stroke-width="1.2" />
<line x1="412.8" y1="25.8" x2="412.8" y2="29.3" stroke="#000" stroke-width="1.2" />
<text x="412.8" y="230.4" font-size="16.8" text-anchor="middle">0</text>
<line x1="491" y1="214.8" x2="491" y2="211.3" stroke="#000" stroke-width="1.2" />
<line x1="491" y1="25.8" x2="491" y2="29.3" stroke="#000" stroke-width="1.2" />
<text x="491" y="230.4" font-size="16.8" text-anchor="middle">1</text>
<line x1="569.1" y1="214.8" x2="569.1" y2="211.3" stroke="#000" stroke-width="1.2" />
<line x1="569.1" y1="25.8" x2="569.1" y2="29.3" stroke="#000" stroke-width="1.2" />
<text x="569.1" y="230.4" font-size="16.8" text-anchor="middle">2</text>
<line x1="401" y1="142.1" x2="404.5" y2="142.1" stroke="#000" stroke-width="1.2" />
<line x1="594.5" y1="142.1" x2="591" y2="142.1" stroke="#000" stroke-width="1.2" />
<text x="398.8" y="148.1" font-size="16.8" text-anchor="end">1</text>
<line x1="401" y1="66.9" x2="404.5" y2="66.9" stroke="#000" stroke-width="1.2" />
<line x1="594.5" y1="66.9" x2="591" y2="66.9" stroke="#000" stroke-width="1.2" />
<text x="398.8" y="72.9" font-size="16.8" text-anchor="end">2</text>
</g>
<path d="M428 36.4L432.7 44.2L428 52L423.3 44.2Z" fill="#a0148c" fill-opacity="0.42"/>
<path d="M428 59.7L434 70.7L422 70.7Z" fill="#a5640a" fill-opacity="0.45"/>
<circle cx="428" cy="86" r="6" fill="#6464ff" fill-opacity="0.4"/>
<text x="454.9" y="49.4" font-size="14.7">Up</text>
<text x="454.9" y="70" font-size="14.7">Upper left</text>
<text x="454.9" y="91.2" font-size="14.7">Left</text>
<text x="332.5" y="36.8" font-size="27.5" font-weight="bold">(b)</text>
<text x="401.2" y="23.9" font-size="15" class="dj">×</text>
<text x="414" y="23.9" font-size="16.8">10</text>
<text x="434.8" y="12.6" font-size="12.3">−9</text>
<text x="547.8" y="252.7" font-size="15" class="dj">×</text>
<text x="560.6" y="252.7" font-size="16.8">10</text>
<text x="581.4" y="241.4" font-size="12.3">−9</text>
<g transform="translate(383.4 120) rotate(-90)">
<text x="-33.8" y="0" font-size="17.2" font-style="italic">E</text>
<text x="-22.3" y="3.4" font-size="12.2" font-style="italic">ex</text>
<text x="-3.8" y="0" font-size="17.2">(erg)</text>
</g>
<text x="478.5" y="253.8" font-size="18.6" font-style="italic">β</text>
<text x="481.4" y="249.5" font-size="18.5" font-style="italic">ˆ</text>
<text x="491" y="249.2" font-size="12.2" font-style="italic">ex</text>
<text x="505.3" y="253.8" font-size="17.2" font-style="italic">X</text>
<g id="pc">
<rect x="73.3" y="279.8" width="191.2" height="190.4" fill="#fffcfc"/>
<clipPath id="clip_pc"><path d="M73.3 470.2L264.5 279.8L264.5 470.2Z"/></clipPath>
<g clip-path="url(#clip_pc)">
<g filter="url(#blurs)">
<line x1="219.5" y1="371" x2="227" y2="348" stroke="rgb(255,180,180)" stroke-width="9.5" stroke-linecap="round" stroke-opacity="1"/>
<line x1="125" y1="432" x2="172" y2="432" stroke="rgb(215,215,255)" stroke-width="16" stroke-linecap="round" stroke-opacity="1"/>
<line x1="118" y1="452" x2="165" y2="455" stroke="rgb(215,215,255)" stroke-width="16" stroke-linecap="round" stroke-opacity="1"/>
<line x1="180" y1="458" x2="235" y2="460" stroke="rgb(225,225,255)" stroke-width="10" stroke-linecap="round" stroke-opacity="1"/>
<ellipse cx="216.5" cy="379" rx="7.5" ry="7.5" fill="rgb(255,158,158)"/>
<ellipse cx="236" cy="330" rx="5.5" ry="5.5" fill="rgb(255,238,238)"/>
<ellipse cx="210" cy="355.1" rx="5.8" ry="5.8" fill="rgb(110,115,255)"/>
<ellipse cx="154.7" cy="398.5" rx="5.7" ry="5.7" fill="rgb(255,165,165)"/>
<ellipse cx="242" cy="417.7" rx="7.4" ry="7.4" fill="rgb(255,240,240)"/>
<ellipse cx="250.8" cy="438.3" rx="6.4" ry="6.4" fill="rgb(255,232,232)"/>
<ellipse cx="191.9" cy="444.2" rx="5.5" ry="5.5" fill="rgb(255,228,228)"/>
<ellipse cx="134.4" cy="428" rx="6.4" ry="6.4" fill="rgb(185,185,255)"/>
<ellipse cx="143.2" cy="429.5" rx="5.5" ry="5.5" fill="rgb(185,185,255)"/>
<ellipse cx="169.7" cy="429.5" rx="6" ry="6" fill="rgb(135,135,255)"/>
<ellipse cx="156.5" cy="435.4" rx="5.5" ry="5.5" fill="rgb(180,180,255)"/>
</g>
<g filter="url(#blurh)">
<ellipse cx="216.4" cy="338.5" rx="4.5" ry="4.5" fill="rgb(228,228,255)"/>
<ellipse cx="161.2" cy="386.5" rx="3.8" ry="3.8" fill="rgb(228,228,255)"/>
<ellipse cx="130.6" cy="416.1" rx="5" ry="5" fill="rgb(255,225,225)"/>
<ellipse cx="117.8" cy="430.6" rx="4" ry="4" fill="rgb(255,225,225)"/>
<ellipse cx="250" cy="300" rx="5" ry="5" fill="rgb(255,240,240)"/>
<ellipse cx="132.9" cy="442.8" rx="5.4" ry="5.4" fill="rgb(125,125,255)"/>
<ellipse cx="112.2" cy="444.2" rx="4.2" ry="4.2" fill="rgb(135,135,255)"/>
<ellipse cx="103.4" cy="456" rx="4" ry="4" fill="rgb(110,110,255)"/>
<ellipse cx="115.2" cy="460.5" rx="4" ry="4" fill="rgb(135,135,255)"/>
<ellipse cx="153.5" cy="444.2" rx="5.4" ry="5.4" fill="rgb(150,150,255)"/>
<ellipse cx="147.6" cy="456" rx="4.2" ry="4.2" fill="rgb(150,150,255)"/>
<ellipse cx="159.4" cy="459" rx="5" ry="5" fill="rgb(130,130,255)"/>
<ellipse cx="166.8" cy="450" rx="4.4" ry="4.4" fill="rgb(180,180,255)"/>
<ellipse cx="209.5" cy="453" rx="5" ry="5" fill="rgb(135,135,255)"/>
<ellipse cx="183" cy="454.6" rx="4.5" ry="4.5" fill="rgb(160,160,255)"/>
<ellipse cx="177" cy="463" rx="4" ry="4" fill="rgb(180,180,255)"/>
<ellipse cx="230.2" cy="459" rx="5" ry="5" fill="rgb(180,180,255)"/>
<ellipse cx="121" cy="450" rx="3.6" ry="3.6" fill="rgb(170,170,255)"/>
<ellipse cx="194.8" cy="467.8" rx="3.8" ry="3.8" fill="rgb(20,20,220)"/>
<ellipse cx="209.5" cy="468.6" rx="4.3" ry="4.3" fill="rgb(10,10,190)"/>
<ellipse cx="219.9" cy="468.4" rx="3.8" ry="3.8" fill="rgb(30,30,220)"/>
<ellipse cx="244.9" cy="466.6" rx="4.8" ry="4.8" fill="rgb(10,10,190)"/>
<ellipse cx="202" cy="468.5" rx="3.6" ry="3.6" fill="rgb(30,30,215)"/>
<ellipse cx="109.3" cy="454.6" rx="4" ry="4" fill="rgb(255,150,150)"/>
<ellipse cx="128.5" cy="453" rx="4.5" ry="4.5" fill="rgb(255,170,170)"/>
<ellipse cx="144.7" cy="448.7" rx="4" ry="4" fill="rgb(255,170,170)"/>
<ellipse cx="138.8" cy="463.4" rx="3.5" ry="3.5" fill="rgb(255,170,170)"/>
<ellipse cx="165.3" cy="466.4" rx="4" ry="4" fill="rgb(255,190,190)"/>
<ellipse cx="184.5" cy="463.4" rx="4" ry="4" fill="rgb(255,160,160)"/>
<ellipse cx="197.8" cy="461.3" rx="4.5" ry="4.5" fill="rgb(255,90,90)"/>
<ellipse cx="249.4" cy="456" rx="5" ry="5" fill="rgb(255,170,170)"/>
<ellipse cx="261" cy="451.6" rx="4" ry="4" fill="rgb(255,205,205)"/>
</g>
<g filter="url(#blur1)">
<ellipse cx="145.5" cy="401" rx="2" ry="2" fill="rgb(120,120,255)"/>
<ellipse cx="84" cy="463.5" rx="2" ry="2" fill="rgb(90,90,245)"/>
<ellipse cx="262.6" cy="469" rx="3" ry="3" fill="rgb(60,60,240)"/>
<ellipse cx="78.5" cy="468.2" rx="3.2" ry="3.2" fill="rgb(215,0,0)"/>
<ellipse cx="87" cy="468.3" rx="2.6" ry="2.6" fill="rgb(20,20,225)"/>
<ellipse cx="90.5" cy="462.5" rx="3" ry="3" fill="rgb(255,120,120)"/>
<ellipse cx="94.5" cy="451.6" rx="3" ry="3" fill="rgb(255,80,80)"/>
<ellipse cx="90.1" cy="459" rx="3" ry="3" fill="rgb(255,100,100)"/>
<ellipse cx="122" cy="466" rx="3" ry="3" fill="rgb(255,170,170)"/>
</g>
</g>
<line x1="121.1" y1="279.8" x2="121.1" y2="470.2" stroke="#c4c4c4" stroke-width="0.9" stroke-opacity="0.75"/>
<line x1="73.3" y1="422.6" x2="264.5" y2="422.6" stroke="#c4c4c4" stroke-width="0.9" stroke-opacity="0.75"/>
<line x1="168.9" y1="279.8" x2="168.9" y2="470.2" stroke="#c4c4c4" stroke-width="0.9" stroke-opacity="0.75"/>
<line x1="73.3" y1="375" x2="264.5" y2="375" stroke="#c4c4c4" stroke-width="0.9" stroke-opacity="0.75"/>
<line x1="216.7" y1="279.8" x2="216.7" y2="470.2" stroke="#c4c4c4" stroke-width="0.9" stroke-opacity="0.75"/>
<line x1="73.3" y1="327.4" x2="264.5" y2="327.4" stroke="#c4c4c4" stroke-width="0.9" stroke-opacity="0.75"/>
<line x1="73.3" y1="470.2" x2="264.5" y2="279.8" stroke="#111" stroke-width="1" />
<rect x="73.3" y="279.8" width="191.2" height="190.4" fill="none" stroke="#000" stroke-width="1.3"/>
<text x="73.3" y="484.8" font-size="17.2" text-anchor="middle">0.00</text>
<text x="71.2" y="475.2" font-size="17.2" text-anchor="end">0.00</text>
<line x1="121.1" y1="470.2" x2="121.1" y2="466.7" stroke="#000" stroke-width="1.2" />
<line x1="121.1" y1="279.8" x2="121.1" y2="283.3" stroke="#000" stroke-width="1.2" />
<line x1="73.3" y1="422.6" x2="76.8" y2="422.6" stroke="#000" stroke-width="1.2" />
<line x1="264.5" y1="422.6" x2="261" y2="422.6" stroke="#000" stroke-width="1.2" />
<text x="121.1" y="484.8" font-size="17.2" text-anchor="middle">0.25</text>
<text x="71.2" y="428.4" font-size="17.2" text-anchor="end">0.25</text>
<line x1="168.9" y1="470.2" x2="168.9" y2="466.7" stroke="#000" stroke-width="1.2" />
<line x1="168.9" y1="279.8" x2="168.9" y2="283.3" stroke="#000" stroke-width="1.2" />
<line x1="73.3" y1="375" x2="76.8" y2="375" stroke="#000" stroke-width="1.2" />
<line x1="264.5" y1="375" x2="261" y2="375" stroke="#000" stroke-width="1.2" />
<text x="168.9" y="484.8" font-size="17.2" text-anchor="middle">0.50</text>
<text x="71.2" y="380.8" font-size="17.2" text-anchor="end">0.50</text>
<line x1="216.7" y1="470.2" x2="216.7" y2="466.7" stroke="#000" stroke-width="1.2" />
<line x1="216.7" y1="279.8" x2="216.7" y2="283.3" stroke="#000" stroke-width="1.2" />
<line x1="73.3" y1="327.4" x2="76.8" y2="327.4" stroke="#000" stroke-width="1.2" />
<line x1="264.5" y1="327.4" x2="261" y2="327.4" stroke="#000" stroke-width="1.2" />
<text x="216.7" y="484.8" font-size="17.2" text-anchor="middle">0.75</text>
<text x="71.2" y="333.2" font-size="17.2" text-anchor="end">0.75</text>
<text x="264.5" y="484.8" font-size="17.2" text-anchor="middle">1.00</text>
<text x="71.2" y="285.6" font-size="17.2" text-anchor="end">1.00</text>
<text x="169.9" y="504" font-size="17.2" text-anchor="middle">Birth</text>
<text x="33.3" y="375.5" font-size="17.2" text-anchor="middle" transform="rotate(-90 33.3 375.5)">Death</text>
<text x="2.8" y="289.4" font-size="27.5" font-weight="bold">(c)</text>
<text x="91.3" y="307.2" font-size="19.7" class="sf" font-weight="bold" font-style="italic">β</text>
<text class="sf" font-size="17" font-weight="bold" transform="translate(91.4 303.2) scale(1.93 1)">ˆ</text>
<text x="104.1" y="300" font-size="14.2" class="sf" font-weight="bold" font-style="italic">d</text>
<rect x="269.6" y="279.8" width="11.5" height="190.4" fill="url(#seis_pc)" stroke="#000" stroke-width="1.1"/>
<line x1="281.1" y1="284" x2="277.9" y2="284" stroke="#000" stroke-width="1.1" />
<text x="283.3" y="289.4" font-size="17.2">6</text>
<line x1="281.1" y1="315.5" x2="277.9" y2="315.5" stroke="#000" stroke-width="1.1" />
<text x="283.3" y="320.9" font-size="17.2">4</text>
<line x1="281.1" y1="347.1" x2="277.9" y2="347.1" stroke="#000" stroke-width="1.1" />
<text x="283.3" y="352.5" font-size="17.2">2</text>
<line x1="281.1" y1="378.6" x2="277.9" y2="378.6" stroke="#000" stroke-width="1.1" />
<text x="283.3" y="384" font-size="17.2">0</text>
<line x1="281.1" y1="410.2" x2="277.9" y2="410.2" stroke="#000" stroke-width="1.1" />
<text x="283.3" y="415.6" font-size="17.2">−2</text>
<line x1="281.1" y1="441.8" x2="277.9" y2="441.8" stroke="#000" stroke-width="1.1" />
<text x="283.3" y="447.2" font-size="17.2">−4</text>
<text x="280.1" y="278.1" font-size="17.2" text-anchor="end">1e−10</text>
<g transform="translate(322.2 378) rotate(-90)" fill="#333">
<text x="-9.3" y="0" font-size="19" class="sf" font-style="italic" fill="#333">β</text>
<text x="-4.7" y="-4" font-size="19" class="sf" fill="#333">ˆ</text>
<text x="3" y="-7.4" font-size="13.3" class="sf" font-style="italic" fill="#333">d</text>
<text x="2" y="5" font-size="13.3" class="sf" font-style="italic" fill="#333">i</text>
</g>
</g>
<g id="pd">
<rect x="404.1" y="279.8" width="191.2" height="190.4" fill="#fffcfc"/>
<clipPath id="clip_pd"><path d="M404.1 470.2L595.3 279.8L595.3 470.2Z"/></clipPath>
<g clip-path="url(#clip_pd)">
<g filter="url(#blurs)">
<line x1="554.5" y1="354" x2="549" y2="383" stroke="rgb(216,216,255)" stroke-width="9" stroke-linecap="round" stroke-opacity="1"/>
<line x1="579.3" y1="417" x2="579.3" y2="462" stroke="rgb(255,200,200)" stroke-width="8.5" stroke-linecap="round" stroke-opacity="1"/>
<ellipse cx="542.2" cy="356.1" rx="10.1" ry="10.1" fill="rgb(255,175,175)"/>
<ellipse cx="542.2" cy="356.1" rx="5.8" ry="5.8" fill="rgb(255,20,20)"/>
<ellipse cx="493" cy="391.4" rx="5.8" ry="5.8" fill="rgb(255,55,55)"/>
<ellipse cx="490.8" cy="435.4" rx="23" ry="10.1" fill="rgb(255,205,205)"/>
<ellipse cx="473" cy="427" rx="8.3" ry="8.3" fill="rgb(255,228,228)"/>
<ellipse cx="555" cy="460" rx="29.4" ry="8.3" fill="rgb(255,195,195)"/>
<ellipse cx="520" cy="452" rx="12.9" ry="8.3" fill="rgb(255,222,222)"/>
<ellipse cx="496.8" cy="433.9" rx="6.9" ry="6.9" fill="rgb(255,70,70)"/>
<ellipse cx="476.1" cy="448.7" rx="6.9" ry="6.9" fill="rgb(255,40,40)"/>
<ellipse cx="548.4" cy="461.9" rx="5.5" ry="5.5" fill="rgb(255,130,130)"/>
<ellipse cx="563.1" cy="463.4" rx="5.5" ry="5.5" fill="rgb(255,150,150)"/>
</g>
<g filter="url(#blurh)">
<ellipse cx="520.3" cy="357.3" rx="4" ry="4" fill="rgb(255,150,150)"/>
<ellipse cx="582.3" cy="302.1" rx="5" ry="5" fill="rgb(236,236,255)"/>
<ellipse cx="569.5" cy="311.7" rx="5" ry="5" fill="rgb(255,236,236)"/>
<ellipse cx="486.5" cy="454.6" rx="5" ry="5" fill="rgb(255,80,80)"/>
<ellipse cx="495.3" cy="461.9" rx="5" ry="5" fill="rgb(255,100,100)"/>
<ellipse cx="461.4" cy="441.3" rx="4.5" ry="4.5" fill="rgb(255,120,120)"/>
<ellipse cx="465.8" cy="453.1" rx="5" ry="5" fill="rgb(255,90,90)"/>
<ellipse cx="436.3" cy="454.6" rx="4" ry="4" fill="rgb(255,120,120)"/>
<ellipse cx="427.5" cy="460.5" rx="4.5" ry="4.5" fill="rgb(255,100,100)"/>
<ellipse cx="451.1" cy="463.4" rx="4" ry="4" fill="rgb(255,140,140)"/>
<ellipse cx="517.4" cy="454.6" rx="5" ry="5" fill="rgb(255,140,140)"/>
<ellipse cx="527.8" cy="460.5" rx="5" ry="5" fill="rgb(255,110,110)"/>
<ellipse cx="516" cy="466.4" rx="4" ry="4" fill="rgb(255,110,110)"/>
<ellipse cx="575" cy="463.4" rx="5" ry="5" fill="rgb(255,160,160)"/>
<ellipse cx="589.7" cy="463.4" rx="5" ry="5" fill="rgb(255,195,195)"/>
<ellipse cx="445.2" cy="456" rx="4.4" ry="4.4" fill="rgb(80,80,255)"/>
<ellipse cx="446.7" cy="442.8" rx="3.5" ry="3.5" fill="rgb(170,170,255)"/>
<ellipse cx="455" cy="432" rx="4" ry="4" fill="rgb(255,200,200)"/>
</g>
<g filter="url(#blur1)">
<ellipse cx="479.6" cy="398.5" rx="3.3" ry="3.3" fill="rgb(150,150,255)"/>
<ellipse cx="473.1" cy="404.9" rx="2.6" ry="2.6" fill="rgb(190,190,255)"/>
<ellipse cx="466" cy="413" rx="2.5" ry="2.5" fill="rgb(255,200,200)"/>
<ellipse cx="415.7" cy="468.6" rx="3" ry="3" fill="rgb(230,0,0)"/>
<ellipse cx="443.7" cy="435.4" rx="2.5" ry="2.5" fill="rgb(190,190,255)"/>
<ellipse cx="476.1" cy="459.5" rx="3" ry="3" fill="rgb(150,150,255)"/>
<ellipse cx="409.8" cy="468.4" rx="3" ry="3" fill="rgb(0,0,150)"/>
<ellipse cx="414.2" cy="460.5" rx="2.5" ry="2.5" fill="rgb(100,100,255)"/>
<ellipse cx="423" cy="469" rx="3" ry="3" fill="rgb(100,100,255)"/>
<ellipse cx="495.3" cy="469" rx="2.8" ry="2.8" fill="rgb(60,60,230)"/>
<ellipse cx="510" cy="456" rx="3" ry="3" fill="rgb(225,225,255)"/>
<ellipse cx="488.5" cy="457.5" rx="2.4" ry="2.4" fill="rgb(235,235,255)"/>
<ellipse cx="428.2" cy="449.8" rx="2.6" ry="2.6" fill="rgb(160,160,255)"/>
<ellipse cx="439.4" cy="437" rx="2.4" ry="2.4" fill="rgb(200,200,255)"/>
<ellipse cx="432" cy="443" rx="2.5" ry="2.5" fill="rgb(255,170,170)"/>
</g>
</g>
<line x1="451.9" y1="279.8" x2="451.9" y2="470.2" stroke="#c4c4c4" stroke-width="0.9" stroke-opacity="0.75"/>
<line x1="404.1" y1="422.6" x2="595.3" y2="422.6" stroke="#c4c4c4" stroke-width="0.9" stroke-opacity="0.75"/>
<line x1="499.7" y1="279.8" x2="499.7" y2="470.2" stroke="#c4c4c4" stroke-width="0.9" stroke-opacity="0.75"/>
<line x1="404.1" y1="375" x2="595.3" y2="375" stroke="#c4c4c4" stroke-width="0.9" stroke-opacity="0.75"/>
<line x1="547.5" y1="279.8" x2="547.5" y2="470.2" stroke="#c4c4c4" stroke-width="0.9" stroke-opacity="0.75"/>
<line x1="404.1" y1="327.4" x2="595.3" y2="327.4" stroke="#c4c4c4" stroke-width="0.9" stroke-opacity="0.75"/>
<line x1="404.1" y1="470.2" x2="595.3" y2="279.8" stroke="#111" stroke-width="1" />
<rect x="404.1" y="279.8" width="191.2" height="190.4" fill="none" stroke="#000" stroke-width="1.3"/>
<text x="404.1" y="484.8" font-size="17.2" text-anchor="middle">0.00</text>
<text x="402" y="475.2" font-size="17.2" text-anchor="end">0.00</text>
<line x1="451.9" y1="470.2" x2="451.9" y2="466.7" stroke="#000" stroke-width="1.2" />
<line x1="451.9" y1="279.8" x2="451.9" y2="283.3" stroke="#000" stroke-width="1.2" />
<line x1="404.1" y1="422.6" x2="407.6" y2="422.6" stroke="#000" stroke-width="1.2" />
<line x1="595.3" y1="422.6" x2="591.8" y2="422.6" stroke="#000" stroke-width="1.2" />
<text x="451.9" y="484.8" font-size="17.2" text-anchor="middle">0.25</text>
<text x="402" y="428.4" font-size="17.2" text-anchor="end">0.25</text>
<line x1="499.7" y1="470.2" x2="499.7" y2="466.7" stroke="#000" stroke-width="1.2" />
<line x1="499.7" y1="279.8" x2="499.7" y2="283.3" stroke="#000" stroke-width="1.2" />
<line x1="404.1" y1="375" x2="407.6" y2="375" stroke="#000" stroke-width="1.2" />
<line x1="595.3" y1="375" x2="591.8" y2="375" stroke="#000" stroke-width="1.2" />
<text x="499.7" y="484.8" font-size="17.2" text-anchor="middle">0.50</text>
<text x="402" y="380.8" font-size="17.2" text-anchor="end">0.50</text>
<line x1="547.5" y1="470.2" x2="547.5" y2="466.7" stroke="#000" stroke-width="1.2" />
<line x1="547.5" y1="279.8" x2="547.5" y2="283.3" stroke="#000" stroke-width="1.2" />
<line x1="404.1" y1="327.4" x2="407.6" y2="327.4" stroke="#000" stroke-width="1.2" />
<line x1="595.3" y1="327.4" x2="591.8" y2="327.4" stroke="#000" stroke-width="1.2" />
<text x="547.5" y="484.8" font-size="17.2" text-anchor="middle">0.75</text>
<text x="402" y="333.2" font-size="17.2" text-anchor="end">0.75</text>
<text x="595.3" y="484.8" font-size="17.2" text-anchor="middle">1.00</text>
<text x="402" y="285.6" font-size="17.2" text-anchor="end">1.00</text>
<text x="500.7" y="504" font-size="17.2" text-anchor="middle">Birth</text>
<text x="362.1" y="375.5" font-size="17.2" text-anchor="middle" transform="rotate(-90 362.1 375.5)">Death</text>
<text x="332.8" y="289.4" font-size="27.5" font-weight="bold">(d)</text>
<text x="419.2" y="305.4" font-size="19.7" class="sf" font-weight="bold" font-style="italic">β</text>
<text class="sf" font-size="17" font-weight="bold" transform="translate(419.3 301.4) scale(1.93 1)">ˆ</text>
<text x="432" y="298.2" font-size="14.2" class="sf" font-weight="bold" font-style="italic">ex</text>
<rect x="601" y="279.8" width="10.8" height="190.4" fill="url(#seis_pd)" stroke="#000" stroke-width="1.1"/>
<line x1="611.8" y1="296.6" x2="608.6" y2="296.6" stroke="#000" stroke-width="1.1" />
<text x="614" y="302" font-size="17.2">1.5</text>
<line x1="611.8" y1="318.6" x2="608.6" y2="318.6" stroke="#000" stroke-width="1.1" />
<text x="614" y="324" font-size="17.2">1.0</text>
<line x1="611.8" y1="340.7" x2="608.6" y2="340.7" stroke="#000" stroke-width="1.1" />
<text x="614" y="346.1" font-size="17.2">0.5</text>
<line x1="611.8" y1="362.7" x2="608.6" y2="362.7" stroke="#000" stroke-width="1.1" />
<text x="614" y="368.1" font-size="17.2">0.0</text>
<line x1="611.8" y1="384.8" x2="608.6" y2="384.8" stroke="#000" stroke-width="1.1" />
<text x="614" y="390.2" font-size="17.2">−0.5</text>
<line x1="611.8" y1="406.8" x2="608.6" y2="406.8" stroke="#000" stroke-width="1.1" />
<text x="614" y="412.2" font-size="17.2">−1.0</text>
<line x1="611.8" y1="428.9" x2="608.6" y2="428.9" stroke="#000" stroke-width="1.1" />
<text x="614" y="434.3" font-size="17.2">−1.5</text>
<line x1="611.8" y1="450.9" x2="608.6" y2="450.9" stroke="#000" stroke-width="1.1" />
<text x="614" y="456.3" font-size="17.2">−2.0</text>
<text x="610.8" y="278.1" font-size="17.2" text-anchor="end">1e−11</text>
<g transform="translate(676.3 381) rotate(-90)" fill="#333">
<text x="-9.3" y="0" font-size="19" class="sf" font-style="italic" fill="#333">β</text>
<text x="-4.7" y="-4" font-size="19" class="sf" fill="#333">ˆ</text>
<text x="3" y="-7.4" font-size="13.3" class="sf" font-style="italic" fill="#333">ex</text>
<text x="2" y="5" font-size="13.3" class="sf" font-style="italic" fill="#333">i</text>
</g>
</g>
<g id="pe">
<clipPath id="clip_pe"><rect x="75.1" y="519.5" width="193.1" height="191.4"/></clipPath>
<g clip-path="url(#clip_pe)">
<rect x="74.1" y="518.5" width="195.1" height="193.4" fill="#828282"/>
<g fill="none" stroke-linecap="round">
<path d="M76.1 521.5 C89.1 547.5 105.1 581.5 110.6 619.5 S115.1 679.5 120.1 712.9" stroke="#fff" stroke-opacity="0.07" stroke-width="12" filter="url(#blur3)"/>
<path d="M76.1 521.5 C89.1 547.5 105.1 581.5 110.6 619.5 S115.1 679.5 120.1 712.9" stroke="#fff" stroke-opacity="0.12" stroke-width="5.4" filter="url(#blur2)"/>
<path d="M97.1 541.5 C111.1 564.5 121.1 599.5 123.1 629.5 S125.1 679.5 122.1 712.9" stroke="#fff" stroke-opacity="0.07" stroke-width="3" filter="url(#blur2)"/>
<path d="M76.1 547.5 C85.1 569.5 97.1 599.5 103.1 629.5 S111.1 679.5 117.1 712.9" stroke="#fff" stroke-opacity="0.06" stroke-width="3" filter="url(#blur2)"/>
<path d="M114.6 637.5 L120.1 712.9" stroke="#fff" stroke-opacity="0.2" stroke-width="5" filter="url(#blur3)"/>
<path d="M118.1 684.5 L120.1 712.9" stroke="#fff" stroke-opacity="0.22" stroke-width="3.5" filter="url(#blur2)"/>
</g>
<g>
<ellipse cx="77.1" cy="522.5" rx="5" ry="6" fill="#fff" fill-opacity="0.55" filter="url(#blur3)"/>
<ellipse cx="81.1" cy="541.5" rx="8" ry="11" fill="#fff" fill-opacity="0.2" filter="url(#blur3)"/>
<ellipse cx="120.6" cy="711.9" rx="6" ry="9" fill="#fff" fill-opacity="0.95" filter="url(#blur3)"/>
<ellipse cx="120.1" cy="707.9" rx="12" ry="14" fill="#fff" fill-opacity="0.22" filter="url(#blur3)"/>
<ellipse cx="110.6" cy="620.5" rx="3.4" ry="4.6" fill="#fff" fill-opacity="0.5" filter="url(#blur2)"/>
<ellipse cx="79.1" cy="690.5" rx="11" ry="6" fill="#fff" fill-opacity="0.14" filter="url(#blur3)"/>
</g>
<g transform="translate(343.3 0) scale(-1 1)" fill="none" stroke-linecap="round">
<path d="M76.1 521.5 C89.1 547.5 105.1 581.5 110.6 619.5 S115.1 679.5 120.1 712.9" stroke="#fff" stroke-opacity="0.07" stroke-width="12" filter="url(#blur3)"/>
<path d="M76.1 521.5 C89.1 547.5 105.1 581.5 110.6 619.5 S115.1 679.5 120.1 712.9" stroke="#fff" stroke-opacity="0.12" stroke-width="5.4" filter="url(#blur2)"/>
<path d="M97.1 541.5 C111.1 564.5 121.1 599.5 123.1 629.5 S125.1 679.5 122.1 712.9" stroke="#fff" stroke-opacity="0.07" stroke-width="3" filter="url(#blur2)"/>
<path d="M76.1 547.5 C85.1 569.5 97.1 599.5 103.1 629.5 S111.1 679.5 117.1 712.9" stroke="#fff" stroke-opacity="0.06" stroke-width="3" filter="url(#blur2)"/>
<path d="M114.6 637.5 L120.1 712.9" stroke="#fff" stroke-opacity="0.2" stroke-width="5" filter="url(#blur3)"/>
<path d="M118.1 684.5 L120.1 712.9" stroke="#fff" stroke-opacity="0.22" stroke-width="3.5" filter="url(#blur2)"/>
</g>
<g transform="translate(343.3 0) scale(-1 1)">
<ellipse cx="77.1" cy="522.5" rx="5" ry="6" fill="#fff" fill-opacity="0.55" filter="url(#blur3)"/>
<ellipse cx="81.1" cy="541.5" rx="8" ry="11" fill="#fff" fill-opacity="0.2" filter="url(#blur3)"/>
<ellipse cx="120.6" cy="711.9" rx="6" ry="9" fill="#fff" fill-opacity="0.95" filter="url(#blur3)"/>
<ellipse cx="120.1" cy="707.9" rx="12" ry="14" fill="#fff" fill-opacity="0.22" filter="url(#blur3)"/>
<ellipse cx="79.1" cy="690.5" rx="11" ry="6" fill="#fff" fill-opacity="0.14" filter="url(#blur3)"/>
</g>
<rect x="120.5" y="612.9" width="6.4" height="6.4" fill="#40e6dc"/>
<path d="M75.5 541.2L77.8 543.5L75.5 545.8L73.2 543.5ZM82.7 525.1L85 527.4L82.7 529.7L80.4 527.4ZM85.3 544.1L87.6 546.4L85.3 548.7L83 546.4ZM89.7 545.1L92 547.4L89.7 549.7L87.4 547.4ZM91.9 547.7L94.2 550L91.9 552.3L89.6 550ZM93.6 549.9L95.9 552.2L93.6 554.5L91.3 552.2ZM95.1 552.1L97.4 554.4L95.1 556.7L92.8 554.4ZM96.3 554.3L98.6 556.6L96.3 558.9L94 556.6ZM97.3 556.5L99.6 558.8L97.3 561.1L95 558.8ZM98.5 558.7L100.8 561L98.5 563.3L96.2 561ZM99.5 560.9L101.8 563.2L99.5 565.5L97.2 563.2ZM91.9 556.5L94.2 558.8L91.9 561.1L89.6 558.8ZM92.6 558.7L94.9 561L92.6 563.3L90.3 561ZM93.4 560.9L95.7 563.2L93.4 565.5L91.1 563.2ZM87.2 559.7L89.5 562L87.2 564.3L84.9 562ZM89 565.3L91.3 567.6L89 569.9L86.7 567.6ZM91.9 572.3L94.2 574.6L91.9 576.9L89.6 574.6ZM95.5 566L97.8 568.3L95.5 570.6L93.2 568.3ZM100.9 565.3L103.2 567.6L100.9 569.9L98.6 567.6ZM102.8 570.4L105.1 572.7L102.8 575L100.5 572.7ZM103.9 572.6L106.2 574.9L103.9 577.2L101.6 574.9ZM108.2 586.9L110.5 589.2L108.2 591.5L105.9 589.2ZM94.8 581L97.1 583.3L94.8 585.6L92.5 583.3ZM95.8 583.5L98.1 585.8L95.8 588.1L93.5 585.8ZM96.7 585.7L99 588L96.7 590.3L94.4 588ZM98.8 592L101.1 594.3L98.8 596.6L96.5 594.3ZM100.4 596.6L102.7 598.9L100.4 601.2L98.1 598.9ZM101.4 598.8L103.7 601.1L101.4 603.4L99.1 601.1ZM102.4 601L104.7 603.3L102.4 605.6L100.1 603.3ZM103.6 602.9L105.9 605.2L103.6 607.5L101.3 605.2ZM101.2 614.8L103.5 617.1L101.2 619.4L98.9 617.1ZM105.2 620L107.5 622.3L105.2 624.6L102.9 622.3ZM111.5 618.2L113.8 620.5L111.5 622.8L109.2 620.5ZM117.2 616.7L119.5 619L117.2 621.3L114.9 619ZM116.7 622.6L119 624.9L116.7 627.2L114.4 624.9ZM106.4 629.6L108.7 631.9L106.4 634.2L104.1 631.9ZM107.1 631.8L109.4 634.1L107.1 636.4L104.8 634.1ZM107.8 634.1L110.1 636.4L107.8 638.7L105.5 636.4ZM108.6 636.3L110.9 638.6L108.6 640.9L106.3 638.6ZM119.4 640.3L121.7 642.6L119.4 644.9L117.1 642.6ZM120.1 641.9L122.4 644.2L120.1 646.5L117.8 644.2ZM90.8 683L93.1 685.3L90.8 687.6L88.5 685.3ZM113.5 684.9L115.8 687.2L113.5 689.5L111.2 687.2ZM139.7 702L142 704.3L139.7 706.6L137.4 704.3ZM142 700.1L144.3 702.4L142 704.7L139.7 702.4ZM109.8 700.1L112.1 702.4L109.8 704.7L107.5 702.4ZM86.3 694.9L88.6 697.2L86.3 699.5L84 697.2ZM82.6 697.4L84.9 699.7L82.6 702L80.3 699.7ZM80.7 699.8L83 702.1L80.7 704.4L78.4 702.1ZM78.2 705.3L80.5 707.6L78.2 709.9L75.9 707.6ZM93 697.4L95.3 699.7L93 702L90.7 699.7ZM95.2 699L97.5 701.3L95.2 703.6L92.9 701.3ZM97.4 700.5L99.7 702.8L97.4 705.1L95.1 702.8ZM99.7 702L102 704.3L99.7 706.6L97.4 704.3ZM101.5 703.3L103.8 705.6L101.5 707.9L99.2 705.6ZM89.3 707.8L91.6 710.1L89.3 712.4L87 710.1ZM103.4 707.8L105.7 710.1L103.4 712.4L101.1 710.1ZM267.3 519.3L269.6 521.6L267.3 523.9L265 521.6ZM267.3 530.2L269.6 532.5L267.3 534.8L265 532.5ZM267.3 542.6L269.6 544.9L267.3 547.2L265 544.9ZM255.3 528L257.6 530.3L255.3 532.6L253 530.3ZM257.5 526.1L259.8 528.4L257.5 530.7L255.2 528.4ZM257.5 542.6L259.8 544.9L257.5 547.2L255.2 544.9ZM260.4 547L262.7 549.3L260.4 551.6L258.1 549.3ZM259.7 548.9L262 551.2L259.7 553.5L257.4 551.2ZM246.5 543.4L248.8 545.7L246.5 548L244.2 545.7ZM252.4 540.1L254.7 542.4L252.4 544.7L250.1 542.4ZM251.4 542.6L253.7 544.9L251.4 547.2L249.1 544.9ZM250.5 545.1L252.8 547.4L250.5 549.7L248.2 547.4ZM249.5 547.7L251.8 550L249.5 552.3L247.2 550ZM248.4 549.9L250.7 552.2L248.4 554.5L246.1 552.2ZM246.5 553.6L248.8 555.9L246.5 558.2L244.2 555.9ZM245.5 556.2L247.8 558.5L245.5 560.8L243.2 558.5ZM244.5 558.7L246.8 561L244.5 563.3L242.2 561ZM243.3 561.6L245.6 563.9L243.3 566.2L241 563.9ZM242.2 564.1L244.5 566.4L242.2 568.7L239.9 566.4ZM241 567L243.3 569.3L241 571.6L238.7 569.3ZM238.9 571.8L241.2 574.1L238.9 576.4L236.6 574.1ZM238.1 574.7L240.4 577L238.1 579.3L235.8 577ZM252.4 552.8L254.7 555.1L252.4 557.4L250.1 555.1ZM250.9 557.2L253.2 559.5L250.9 561.8L248.6 559.5ZM249.5 560.1L251.8 562.4L249.5 564.7L247.2 562.4ZM248 563.8L250.3 566.1L248 568.4L245.7 566.1ZM257.5 555L259.8 557.3L257.5 559.6L255.2 557.3ZM255.3 560.1L257.6 562.4L255.3 564.7L253 562.4ZM253.8 565.3L256.1 567.6L253.8 569.9L251.5 567.6ZM251.6 570.8L253.9 573.1L251.6 575.4L249.3 573.1ZM249.2 576.9L251.5 579.2L249.2 581.5L246.9 579.2ZM248 579.9L250.3 582.2L248 584.5L245.7 582.2ZM233.7 588.6L236 590.9L233.7 593.2L231.4 590.9ZM233.1 590.8L235.4 593.1L233.1 595.4L230.8 593.1ZM232.5 593L234.8 595.3L232.5 597.6L230.2 595.3ZM231.2 596.9L233.5 599.2L231.2 601.5L228.9 599.2ZM236.3 597.4L238.6 599.7L236.3 602L234 599.7ZM229.7 601.3L232 603.6L229.7 605.9L227.4 603.6ZM234.1 603.9L236.4 606.2L234.1 608.5L231.8 606.2ZM239.2 605.4L241.5 607.7L239.2 610L236.9 607.7ZM228.3 606.1L230.6 608.4L228.3 610.7L226 608.4ZM227.6 608.3L229.9 610.6L227.6 612.9L225.3 610.6ZM233 609.1L235.3 611.4L233 613.7L230.7 611.4ZM232.7 611.2L235 613.5L232.7 615.8L230.4 613.5ZM238.8 607.6L241.1 609.9L238.8 612.2L236.5 609.9ZM231.4 613.7L233.7 616L231.4 618.3L229.1 616ZM237 614.3L239.3 616.6L237 618.9L234.7 616.6ZM223.2 626.3L225.5 628.6L223.2 630.9L220.9 628.6ZM222 632.1L224.3 634.4L222 636.7L219.7 634.4ZM221.4 636.3L223.7 638.6L221.4 640.9L219.1 638.6ZM220 643.2L222.3 645.5L220 647.8L217.7 645.5ZM252.2 683L254.5 685.3L252.2 687.6L249.9 685.3ZM249.9 684.9L252.2 687.2L249.9 689.5L247.6 687.2ZM247.7 686.4L250 688.7L247.7 691L245.4 688.7ZM201 701.6L203.3 703.9L201 706.2L198.7 703.9ZM203.2 703.3L205.5 705.6L203.2 707.9L200.9 705.6ZM231.8 707.2L234.1 709.5L231.8 711.8L229.5 709.5ZM242.5 701.3L244.8 703.6L242.5 705.9L240.2 703.6ZM244.3 700.1L246.6 702.4L244.3 704.7L242 702.4ZM246.2 698.9L248.5 701.2L246.2 703.5L243.9 701.2ZM248 698.1L250.3 700.4L248 702.7L245.7 700.4ZM253.6 695.3L255.9 697.6L253.6 699.9L251.3 697.6ZM256.6 694.9L258.9 697.2L256.6 699.5L254.3 697.2ZM260.8 697.1L263.1 699.4L260.8 701.7L258.5 699.4ZM262.2 699.3L264.5 701.6L262.2 703.9L259.9 701.6ZM263.3 701.1L265.6 703.4L263.3 705.7L261 703.4ZM236.6 708.2L238.9 710.5L236.6 712.8L234.3 710.5ZM251.7 708.2L254 710.5L251.7 712.8L249.4 710.5Z" fill="#d8341a"/>
<path d="M75.5 519.3L77.8 521.6L75.5 523.9L73.2 521.6ZM75.8 525.8L78.1 528.1L75.8 530.4L73.5 528.1ZM75.5 530.2L77.8 532.5L75.5 534.8L73.2 532.5ZM75.5 549.2L77.8 551.5L75.5 553.8L73.2 551.5ZM96.6 569.3L98.9 571.6L96.6 573.9L94.3 571.6ZM98.8 574.6L101.1 576.9L98.8 579.2L96.5 576.9ZM110.9 581.3L113.2 583.6L110.9 585.9L108.6 583.6ZM113.8 607.8L116.1 610.1L113.8 612.4L111.5 610.1ZM115.3 610.3L117.6 612.6L115.3 614.9L113 612.6ZM116.7 612.5L119 614.8L116.7 617.1L114.4 614.8ZM119 611.3L121.3 613.6L119 615.9L116.7 613.6ZM120.1 617.7L122.4 620L120.1 622.3L117.8 620ZM113 666.7L115.3 669L113 671.3L110.7 669ZM92.7 681.8L95 684.1L92.7 686.4L90.4 684.1ZM75.6 686.7L77.9 689L75.6 691.3L73.3 689ZM114.2 691.5L116.5 693.8L114.2 696.1L111.9 693.8ZM114.5 694.1L116.8 696.4L114.5 698.7L112.2 696.4ZM115.3 696.8L117.6 699.1L115.3 701.4L113 699.1ZM115.7 699.3L118 701.6L115.7 703.9L113.4 701.6ZM115.3 702L117.6 704.3L115.3 706.6L113 704.3ZM113.8 704.2L116.1 706.5L113.8 708.8L111.5 706.5ZM111.5 705.7L113.8 708L111.5 710.3L109.2 708ZM108.9 706.8L111.2 709.1L108.9 711.4L106.6 709.1ZM106.4 705.7L108.7 708L106.4 710.3L104.1 708ZM104.1 704.2L106.4 706.5L104.1 708.8L101.8 706.5ZM120.7 694.6L123 696.9L120.7 699.2L118.4 696.9ZM124.6 682.7L126.9 685L124.6 687.3L122.3 685ZM125.3 687.2L127.6 689.5L125.3 691.8L123 689.5ZM125.9 690.9L128.2 693.2L125.9 695.5L123.6 693.2ZM126.4 694.9L128.7 697.2L126.4 699.5L124.1 697.2ZM127.1 698.6L129.4 700.9L127.1 703.2L124.8 700.9ZM128.6 701.6L130.9 703.9L128.6 706.2L126.3 703.9ZM130.8 703.5L133.1 705.8L130.8 708.1L128.5 705.8ZM132.3 696.4L134.6 698.7L132.3 701L130 698.7ZM267 536.1L269.3 538.4L267 540.7L264.7 538.4ZM265.5 537.8L267.8 540.1L265.5 542.4L263.2 540.1ZM264.1 539.7L266.4 542L264.1 544.3L261.8 542ZM262.6 541.6L264.9 543.9L262.6 546.2L260.3 543.9ZM261.4 543.4L263.7 545.7L261.4 548L259.1 545.7ZM251.6 555.3L253.9 557.6L251.6 559.9L249.3 557.6ZM246.1 568.9L248.4 571.2L246.1 573.5L243.8 571.2ZM245.4 571.1L247.7 573.4L245.4 575.7L243.1 573.4ZM244.6 573L246.9 575.3L244.6 577.6L242.3 575.3ZM249.9 586.9L252.2 589.2L249.9 591.5L247.6 589.2ZM229.3 589.3L231.6 591.6L229.3 593.9L227 591.6ZM228.4 591.5L230.7 593.8L228.4 596.1L226.1 593.8ZM227.6 593.7L229.9 596L227.6 598.3L225.3 596ZM228 684.2L230.3 686.5L228 688.8L225.7 686.5ZM247.7 682.3L250 684.6L247.7 686.9L245.4 684.6ZM267.3 686.3L269.6 688.6L267.3 690.9L265 688.6ZM220.5 694.1L222.8 696.4L220.5 698.7L218.2 696.4ZM209.1 697.1L211.4 699.4L209.1 701.7L206.8 699.4ZM214.8 698.6L217.1 700.9L214.8 703.2L212.5 700.9ZM213.3 700.8L215.6 703.1L213.3 705.4L211 703.1ZM211.4 703.3L213.7 705.6L211.4 707.9L209.1 705.6ZM225.9 698.3L228.2 700.6L225.9 702.9L223.6 700.6ZM231.8 700.1L234.1 702.4L231.8 704.7L229.5 702.4ZM225.4 702.3L227.7 704.6L225.4 706.9L223.1 704.6ZM227.2 704.2L229.5 706.5L227.2 708.8L224.9 706.5ZM229.2 706L231.5 708.3L229.2 710.6L226.9 708.3ZM235.8 704.8L238.1 707.1L235.8 709.4L233.5 707.1ZM238.1 703.8L240.4 706.1L238.1 708.4L235.8 706.1ZM239.8 703L242.1 705.3L239.8 707.6L237.5 705.3Z" fill="#2a10cf"/>
</g>
<rect x="281.5" y="519.5" width="9.8" height="191.7" fill="url(#graybar)" stroke="#161616" stroke-width="1.4"/>
<text x="293.3" y="525.6" font-size="17.2">1.0</text>
<line x1="291.3" y1="557.8" x2="288.1" y2="557.8" stroke="#222" stroke-width="1.1" />
<text x="293.3" y="563.9" font-size="17.2">0.8</text>
<line x1="291.3" y1="596.2" x2="288.1" y2="596.2" stroke="#222" stroke-width="1.1" />
<text x="293.3" y="602.3" font-size="17.2">0.6</text>
<line x1="291.3" y1="634.5" x2="288.1" y2="634.5" stroke="#222" stroke-width="1.1" />
<text x="293.3" y="640.6" font-size="17.2">0.4</text>
<line x1="291.3" y1="672.9" x2="288.1" y2="672.9" stroke="#222" stroke-width="1.1" />
<text x="293.3" y="679" font-size="17.2">0.2</text>
<text x="293.3" y="717.3" font-size="17.2">0.0</text>
<g transform="translate(334.5 614.4) rotate(-90)">
<text x="-16.5" y="0" font-size="19.1">|</text>
<text x="-11.7" y="0" font-size="18" font-style="italic">M</text>
<text x="3.6" y="3.4" font-size="12.6" font-style="italic">z</text>
<text x="11.6" y="0" font-size="19.1">|</text>
</g>
<text x="3.5" y="530.8" font-size="27.5" font-weight="bold">(e)</text>
<rect x="72.9" y="724.6" width="13.6" height="13.2" fill="#40e6dc"/>
<text x="94.6" y="735.3" font-size="14.3">: point defect</text>
<line x1="204.4" y1="722.6" x2="266.6" y2="722.6" stroke="#000" stroke-width="2.4" />
<text x="233.4" y="741.6" font-size="18.2" text-anchor="middle">400 nm</text>
<path d="M79.8 751.5L89.1 760.7L79.8 769.9L70.5 760.7Z" fill="#d8341a"/>
<g stroke="#000" stroke-width="0.15">
<text x="90.8" y="765.5" font-size="17" class="sf">:</text>
<text x="95.2" y="765.5" font-size="16.8" class="sf" font-style="italic">β</text>
<text x="98.2" y="761" font-size="15.5" class="sf">ˆ</text>
<text x="106.4" y="759.6" font-size="12.4" class="sf" font-style="italic">d</text>
<text x="104.9" y="770.1" font-size="12.2" class="sf" font-style="italic">i</text>
<text x="122.4" y="766.9" font-size="20" class="sf">&gt;</text>
<text x="142" y="765.6" font-size="18" class="sf">0</text>
</g>
<path d="M193 751.5L202.3 760.7L193 769.9L183.7 760.7Z" fill="#2a10cf"/>
<g stroke="#000" stroke-width="0.15">
<text x="204.2" y="765.5" font-size="17" class="sf">:</text>
<text x="208.6" y="765.5" font-size="16.8" class="sf" font-style="italic">β</text>
<text x="211.6" y="761" font-size="15.5" class="sf">ˆ</text>
<text x="219.8" y="759.6" font-size="12.4" class="sf" font-style="italic">d</text>
<text x="218.3" y="770.1" font-size="12.2" class="sf" font-style="italic">i</text>
<text x="235.8" y="766.9" font-size="20" class="sf">&lt;</text>
<text x="255.4" y="765.6" font-size="18" class="sf">0</text>
</g>
</g>
<g id="pf">
<clipPath id="clip_pf"><rect x="401.2" y="519.5" width="193.1" height="191.4"/></clipPath>
<g clip-path="url(#clip_pf)">
<rect x="400.2" y="518.5" width="195.1" height="193.4" fill="#828282"/>
<g fill="none" stroke-linecap="round">
<path d="M402.2 521.5 C415.2 547.5 431.2 581.5 436.7 619.5 S441.2 679.5 446.2 712.9" stroke="#fff" stroke-opacity="0.07" stroke-width="12" filter="url(#blur3)"/>
<path d="M402.2 521.5 C415.2 547.5 431.2 581.5 436.7 619.5 S441.2 679.5 446.2 712.9" stroke="#fff" stroke-opacity="0.12" stroke-width="5.4" filter="url(#blur2)"/>
<path d="M423.2 541.5 C437.2 564.5 447.2 599.5 449.2 629.5 S451.2 679.5 448.2 712.9" stroke="#fff" stroke-opacity="0.07" stroke-width="3" filter="url(#blur2)"/>
<path d="M402.2 547.5 C411.2 569.5 423.2 599.5 429.2 629.5 S437.2 679.5 443.2 712.9" stroke="#fff" stroke-opacity="0.06" stroke-width="3" filter="url(#blur2)"/>
<path d="M440.7 637.5 L446.2 712.9" stroke="#fff" stroke-opacity="0.2" stroke-width="5" filter="url(#blur3)"/>
<path d="M444.2 684.5 L446.2 712.9" stroke="#fff" stroke-opacity="0.22" stroke-width="3.5" filter="url(#blur2)"/>
</g>
<g>
<ellipse cx="403.2" cy="522.5" rx="5" ry="6" fill="#fff" fill-opacity="0.55" filter="url(#blur3)"/>
<ellipse cx="407.2" cy="541.5" rx="8" ry="11" fill="#fff" fill-opacity="0.2" filter="url(#blur3)"/>
<ellipse cx="446.7" cy="711.9" rx="6" ry="9" fill="#fff" fill-opacity="0.95" filter="url(#blur3)"/>
<ellipse cx="446.2" cy="707.9" rx="12" ry="14" fill="#fff" fill-opacity="0.22" filter="url(#blur3)"/>
<ellipse cx="436.7" cy="620.5" rx="3.4" ry="4.6" fill="#fff" fill-opacity="0.5" filter="url(#blur2)"/>
<ellipse cx="405.2" cy="690.5" rx="11" ry="6" fill="#fff" fill-opacity="0.14" filter="url(#blur3)"/>
</g>
<g transform="translate(995.5 0) scale(-1 1)" fill="none" stroke-linecap="round">
<path d="M402.2 521.5 C415.2 547.5 431.2 581.5 436.7 619.5 S441.2 679.5 446.2 712.9" stroke="#fff" stroke-opacity="0.07" stroke-width="12" filter="url(#blur3)"/>
<path d="M402.2 521.5 C415.2 547.5 431.2 581.5 436.7 619.5 S441.2 679.5 446.2 712.9" stroke="#fff" stroke-opacity="0.12" stroke-width="5.4" filter="url(#blur2)"/>
<path d="M423.2 541.5 C437.2 564.5 447.2 599.5 449.2 629.5 S451.2 679.5 448.2 712.9" stroke="#fff" stroke-opacity="0.07" stroke-width="3" filter="url(#blur2)"/>
<path d="M402.2 547.5 C411.2 569.5 423.2 599.5 429.2 629.5 S437.2 679.5 443.2 712.9" stroke="#fff" stroke-opacity="0.06" stroke-width="3" filter="url(#blur2)"/>
<path d="M440.7 637.5 L446.2 712.9" stroke="#fff" stroke-opacity="0.2" stroke-width="5" filter="url(#blur3)"/>
<path d="M444.2 684.5 L446.2 712.9" stroke="#fff" stroke-opacity="0.22" stroke-width="3.5" filter="url(#blur2)"/>
</g>
<g transform="translate(995.5 0) scale(-1 1)">
<ellipse cx="403.2" cy="522.5" rx="5" ry="6" fill="#fff" fill-opacity="0.55" filter="url(#blur3)"/>
<ellipse cx="407.2" cy="541.5" rx="8" ry="11" fill="#fff" fill-opacity="0.2" filter="url(#blur3)"/>
<ellipse cx="446.7" cy="711.9" rx="6" ry="9" fill="#fff" fill-opacity="0.95" filter="url(#blur3)"/>
<ellipse cx="446.2" cy="707.9" rx="12" ry="14" fill="#fff" fill-opacity="0.22" filter="url(#blur3)"/>
<ellipse cx="405.2" cy="690.5" rx="11" ry="6" fill="#fff" fill-opacity="0.14" filter="url(#blur3)"/>
</g>
<rect x="446.6" y="612.9" width="6.4" height="6.4" fill="#40e6dc"/>
<path d="M401.6 519.3L403.9 521.6L401.6 523.9L399.3 521.6ZM401.6 530.2L403.9 532.5L401.6 534.8L399.3 532.5ZM401.6 541.2L403.9 543.5L401.6 545.8L399.3 543.5ZM418 556.5L420.3 558.8L418 561.1L415.7 558.8ZM418.7 558.7L421 561L418.7 563.3L416.4 561ZM419.5 560.9L421.8 563.2L419.5 565.5L417.2 563.2ZM421.6 566L423.9 568.3L421.6 570.6L419.3 568.3ZM437 581.3L439.3 583.6L437 585.9L434.7 583.6ZM445.1 611.3L447.4 613.6L445.1 615.9L442.8 613.6ZM427.3 614.8L429.6 617.1L427.3 619.4L425 617.1ZM437.6 618.2L439.9 620.5L437.6 622.8L435.3 620.5ZM418.8 681.8L421.1 684.1L418.8 686.4L416.5 684.1ZM401.7 686.7L404 689L401.7 691.3L399.4 689ZM446.8 694.6L449.1 696.9L446.8 699.2L444.5 696.9ZM458.4 696.4L460.7 698.7L458.4 701L456.1 698.7ZM415.4 707.8L417.7 710.1L415.4 712.4L413.1 710.1ZM593.4 519.3L595.7 521.6L593.4 523.9L591.1 521.6ZM593.4 530.2L595.7 532.5L593.4 534.8L591.1 532.5ZM593.4 542.6L595.7 544.9L593.4 547.2L591.1 544.9ZM583.6 542.6L585.9 544.9L583.6 547.2L581.3 544.9ZM578.5 552.8L580.8 555.1L578.5 557.4L576.2 555.1ZM577 557.2L579.3 559.5L577 561.8L574.7 559.5ZM575.6 560.1L577.9 562.4L575.6 564.7L573.3 562.4ZM574.1 563.8L576.4 566.1L574.1 568.4L571.8 566.1ZM576 586.9L578.3 589.2L576 591.5L573.7 589.2ZM555.4 589.3L557.7 591.6L555.4 593.9L553.1 591.6ZM554.5 591.5L556.8 593.8L554.5 596.1L552.2 593.8ZM553.7 593.7L556 596L553.7 598.3L551.4 596ZM573.8 682.3L576.1 684.6L573.8 686.9L571.5 684.6ZM593.4 686.3L595.7 688.6L593.4 690.9L591.1 688.6ZM546.6 694.1L548.9 696.4L546.6 698.7L544.3 696.4ZM535.2 697.1L537.5 699.4L535.2 701.7L532.9 699.4ZM577.8 708.2L580.1 710.5L577.8 712.8L575.5 710.5Z" fill="#d8341a"/>
<path d="M401.9 525.8L404.2 528.1L401.9 530.4L399.6 528.1ZM401.6 549.2L403.9 551.5L401.6 553.8L399.3 551.5ZM408.8 525.1L411.1 527.4L408.8 529.7L406.5 527.4ZM411.4 544.1L413.7 546.4L411.4 548.7L409.1 546.4ZM415.8 545.1L418.1 547.4L415.8 549.7L413.5 547.4ZM418 547.7L420.3 550L418 552.3L415.7 550ZM419.7 549.9L422 552.2L419.7 554.5L417.4 552.2ZM421.2 552.1L423.5 554.4L421.2 556.7L418.9 554.4ZM422.4 554.3L424.7 556.6L422.4 558.9L420.1 556.6ZM423.4 556.5L425.7 558.8L423.4 561.1L421.1 558.8ZM424.6 558.7L426.9 561L424.6 563.3L422.3 561ZM425.6 560.9L427.9 563.2L425.6 565.5L423.3 563.2ZM413.3 559.7L415.6 562L413.3 564.3L411 562ZM415.1 565.3L417.4 567.6L415.1 569.9L412.8 567.6ZM418 572.3L420.3 574.6L418 576.9L415.7 574.6ZM427 565.3L429.3 567.6L427 569.9L424.7 567.6ZM428.9 570.4L431.2 572.7L428.9 575L426.6 572.7ZM430 572.6L432.3 574.9L430 577.2L427.7 574.9ZM422.7 569.3L425 571.6L422.7 573.9L420.4 571.6ZM424.9 574.6L427.2 576.9L424.9 579.2L422.6 576.9ZM434.3 586.9L436.6 589.2L434.3 591.5L432 589.2ZM420.9 581L423.2 583.3L420.9 585.6L418.6 583.3ZM421.9 583.5L424.2 585.8L421.9 588.1L419.6 585.8ZM422.8 585.7L425.1 588L422.8 590.3L420.5 588ZM424.9 592L427.2 594.3L424.9 596.6L422.6 594.3ZM426.5 596.6L428.8 598.9L426.5 601.2L424.2 598.9ZM427.5 598.8L429.8 601.1L427.5 603.4L425.2 601.1ZM428.5 601L430.8 603.3L428.5 605.6L426.2 603.3ZM429.7 602.9L432 605.2L429.7 607.5L427.4 605.2ZM439.9 607.8L442.2 610.1L439.9 612.4L437.6 610.1ZM441.4 610.3L443.7 612.6L441.4 614.9L439.1 612.6ZM442.8 612.5L445.1 614.8L442.8 617.1L440.5 614.8ZM446.2 617.7L448.5 620L446.2 622.3L443.9 620ZM431.3 620L433.6 622.3L431.3 624.6L429 622.3ZM443.3 616.7L445.6 619L443.3 621.3L441 619ZM442.8 622.6L445.1 624.9L442.8 627.2L440.5 624.9ZM432.5 629.6L434.8 631.9L432.5 634.2L430.2 631.9ZM433.2 631.8L435.5 634.1L433.2 636.4L430.9 634.1ZM433.9 634.1L436.2 636.4L433.9 638.7L431.6 636.4ZM434.7 636.3L437 638.6L434.7 640.9L432.4 638.6ZM445.5 640.3L447.8 642.6L445.5 644.9L443.2 642.6ZM446.2 641.9L448.5 644.2L446.2 646.5L443.9 644.2ZM439.1 666.7L441.4 669L439.1 671.3L436.8 669ZM416.9 683L419.2 685.3L416.9 687.6L414.6 685.3ZM439.6 684.9L441.9 687.2L439.6 689.5L437.3 687.2ZM440.3 691.5L442.6 693.8L440.3 696.1L438 693.8ZM440.6 694.1L442.9 696.4L440.6 698.7L438.3 696.4ZM441.4 696.8L443.7 699.1L441.4 701.4L439.1 699.1ZM441.8 699.3L444.1 701.6L441.8 703.9L439.5 701.6ZM441.4 702L443.7 704.3L441.4 706.6L439.1 704.3ZM439.9 704.2L442.2 706.5L439.9 708.8L437.6 706.5ZM437.6 705.7L439.9 708L437.6 710.3L435.3 708ZM435 706.8L437.3 709.1L435 711.4L432.7 709.1ZM432.5 705.7L434.8 708L432.5 710.3L430.2 708ZM430.2 704.2L432.5 706.5L430.2 708.8L427.9 706.5ZM450.7 682.7L453 685L450.7 687.3L448.4 685ZM451.4 687.2L453.7 689.5L451.4 691.8L449.1 689.5ZM452 690.9L454.3 693.2L452 695.5L449.7 693.2ZM452.5 694.9L454.8 697.2L452.5 699.5L450.2 697.2ZM453.2 698.6L455.5 700.9L453.2 703.2L450.9 700.9ZM454.7 701.6L457 703.9L454.7 706.2L452.4 703.9ZM456.9 703.5L459.2 705.8L456.9 708.1L454.6 705.8ZM465.8 702L468.1 704.3L465.8 706.6L463.5 704.3ZM468.1 700.1L470.4 702.4L468.1 704.7L465.8 702.4ZM435.9 700.1L438.2 702.4L435.9 704.7L433.6 702.4ZM412.4 694.9L414.7 697.2L412.4 699.5L410.1 697.2ZM408.7 697.4L411 699.7L408.7 702L406.4 699.7ZM406.8 699.8L409.1 702.1L406.8 704.4L404.5 702.1ZM404.3 705.3L406.6 707.6L404.3 709.9L402 707.6ZM419.1 697.4L421.4 699.7L419.1 702L416.8 699.7ZM421.3 699L423.6 701.3L421.3 703.6L419 701.3ZM423.5 700.5L425.8 702.8L423.5 705.1L421.2 702.8ZM425.8 702L428.1 704.3L425.8 706.6L423.5 704.3ZM427.6 703.3L429.9 705.6L427.6 707.9L425.3 705.6ZM429.5 707.8L431.8 710.1L429.5 712.4L427.2 710.1ZM581.4 528L583.7 530.3L581.4 532.6L579.1 530.3ZM583.6 526.1L585.9 528.4L583.6 530.7L581.3 528.4ZM593.1 536.1L595.4 538.4L593.1 540.7L590.8 538.4ZM591.6 537.8L593.9 540.1L591.6 542.4L589.3 540.1ZM590.2 539.7L592.5 542L590.2 544.3L587.9 542ZM588.7 541.6L591 543.9L588.7 546.2L586.4 543.9ZM587.5 543.4L589.8 545.7L587.5 548L585.2 545.7ZM586.5 547L588.8 549.3L586.5 551.6L584.2 549.3ZM585.8 548.9L588.1 551.2L585.8 553.5L583.5 551.2ZM572.6 543.4L574.9 545.7L572.6 548L570.3 545.7ZM578.5 540.1L580.8 542.4L578.5 544.7L576.2 542.4ZM577.5 542.6L579.8 544.9L577.5 547.2L575.2 544.9ZM576.6 545.1L578.9 547.4L576.6 549.7L574.3 547.4ZM575.6 547.7L577.9 550L575.6 552.3L573.3 550ZM574.5 549.9L576.8 552.2L574.5 554.5L572.2 552.2ZM572.6 553.6L574.9 555.9L572.6 558.2L570.3 555.9ZM571.6 556.2L573.9 558.5L571.6 560.8L569.3 558.5ZM570.6 558.7L572.9 561L570.6 563.3L568.3 561ZM569.4 561.6L571.7 563.9L569.4 566.2L567.1 563.9ZM568.3 564.1L570.6 566.4L568.3 568.7L566 566.4ZM567.1 567L569.4 569.3L567.1 571.6L564.8 569.3ZM565 571.8L567.3 574.1L565 576.4L562.7 574.1ZM564.2 574.7L566.5 577L564.2 579.3L561.9 577ZM577.7 555.3L580 557.6L577.7 559.9L575.4 557.6ZM583.6 555L585.9 557.3L583.6 559.6L581.3 557.3ZM581.4 560.1L583.7 562.4L581.4 564.7L579.1 562.4ZM579.9 565.3L582.2 567.6L579.9 569.9L577.6 567.6ZM577.7 570.8L580 573.1L577.7 575.4L575.4 573.1ZM572.2 568.9L574.5 571.2L572.2 573.5L569.9 571.2ZM571.5 571.1L573.8 573.4L571.5 575.7L569.2 573.4ZM570.7 573L573 575.3L570.7 577.6L568.4 575.3ZM575.3 576.9L577.6 579.2L575.3 581.5L573 579.2ZM574.1 579.9L576.4 582.2L574.1 584.5L571.8 582.2ZM559.8 588.6L562.1 590.9L559.8 593.2L557.5 590.9ZM559.2 590.8L561.5 593.1L559.2 595.4L556.9 593.1ZM558.6 593L560.9 595.3L558.6 597.6L556.3 595.3ZM557.3 596.9L559.6 599.2L557.3 601.5L555 599.2ZM562.4 597.4L564.7 599.7L562.4 602L560.1 599.7ZM555.8 601.3L558.1 603.6L555.8 605.9L553.5 603.6ZM560.2 603.9L562.5 606.2L560.2 608.5L557.9 606.2ZM565.3 605.4L567.6 607.7L565.3 610L563 607.7ZM554.4 606.1L556.7 608.4L554.4 610.7L552.1 608.4ZM553.7 608.3L556 610.6L553.7 612.9L551.4 610.6ZM559.1 609.1L561.4 611.4L559.1 613.7L556.8 611.4ZM558.8 611.2L561.1 613.5L558.8 615.8L556.5 613.5ZM564.9 607.6L567.2 609.9L564.9 612.2L562.6 609.9ZM557.5 613.7L559.8 616L557.5 618.3L555.2 616ZM563.1 614.3L565.4 616.6L563.1 618.9L560.8 616.6ZM549.3 626.3L551.6 628.6L549.3 630.9L547 628.6ZM548.1 632.1L550.4 634.4L548.1 636.7L545.8 634.4ZM547.5 636.3L549.8 638.6L547.5 640.9L545.2 638.6ZM546.1 643.2L548.4 645.5L546.1 647.8L543.8 645.5ZM554.1 684.2L556.4 686.5L554.1 688.8L551.8 686.5ZM578.3 683L580.6 685.3L578.3 687.6L576 685.3ZM576 684.9L578.3 687.2L576 689.5L573.7 687.2ZM573.8 686.4L576.1 688.7L573.8 691L571.5 688.7ZM540.9 698.6L543.2 700.9L540.9 703.2L538.6 700.9ZM539.4 700.8L541.7 703.1L539.4 705.4L537.1 703.1ZM537.5 703.3L539.8 705.6L537.5 707.9L535.2 705.6ZM527.1 701.6L529.4 703.9L527.1 706.2L524.8 703.9ZM529.3 703.3L531.6 705.6L529.3 707.9L527 705.6ZM552 698.3L554.3 700.6L552 702.9L549.7 700.6ZM557.9 700.1L560.2 702.4L557.9 704.7L555.6 702.4ZM551.5 702.3L553.8 704.6L551.5 706.9L549.2 704.6ZM553.3 704.2L555.6 706.5L553.3 708.8L551 706.5ZM555.3 706L557.6 708.3L555.3 710.6L553 708.3ZM557.9 707.2L560.2 709.5L557.9 711.8L555.6 709.5ZM561.9 704.8L564.2 707.1L561.9 709.4L559.6 707.1ZM564.2 703.8L566.5 706.1L564.2 708.4L561.9 706.1ZM565.9 703L568.2 705.3L565.9 707.6L563.6 705.3ZM568.6 701.3L570.9 703.6L568.6 705.9L566.3 703.6ZM570.4 700.1L572.7 702.4L570.4 704.7L568.1 702.4ZM572.3 698.9L574.6 701.2L572.3 703.5L570 701.2ZM574.1 698.1L576.4 700.4L574.1 702.7L571.8 700.4ZM579.7 695.3L582 697.6L579.7 699.9L577.4 697.6ZM582.7 694.9L585 697.2L582.7 699.5L580.4 697.2ZM586.9 697.1L589.2 699.4L586.9 701.7L584.6 699.4ZM588.3 699.3L590.6 701.6L588.3 703.9L586 701.6ZM589.4 701.1L591.7 703.4L589.4 705.7L587.1 703.4ZM562.7 708.2L565 710.5L562.7 712.8L560.4 710.5Z" fill="#2a10cf"/>
</g>
<rect x="607.4" y="519.5" width="9.8" height="191.7" fill="url(#graybar)" stroke="#161616" stroke-width="1.4"/>
<text x="619.2" y="525.6" font-size="17.2">1.0</text>
<line x1="617.2" y1="557.8" x2="614" y2="557.8" stroke="#222" stroke-width="1.1" />
<text x="619.2" y="563.9" font-size="17.2">0.8</text>
<line x1="617.2" y1="596.2" x2="614" y2="596.2" stroke="#222" stroke-width="1.1" />
<text x="619.2" y="602.3" font-size="17.2">0.6</text>
<line x1="617.2" y1="634.5" x2="614" y2="634.5" stroke="#222" stroke-width="1.1" />
<text x="619.2" y="640.6" font-size="17.2">0.4</text>
<line x1="617.2" y1="672.9" x2="614" y2="672.9" stroke="#222" stroke-width="1.1" />
<text x="619.2" y="679" font-size="17.2">0.2</text>
<text x="619.2" y="717.3" font-size="17.2">0.0</text>
<g transform="translate(660.4 614.4) rotate(-90)">
<text x="-16.5" y="0" font-size="19.1">|</text>
<text x="-11.7" y="0" font-size="18" font-style="italic">M</text>
<text x="3.6" y="3.4" font-size="12.6" font-style="italic">z</text>
<text x="11.6" y="0" font-size="19.1">|</text>
</g>
<text x="332" y="530.8" font-size="27.5" font-weight="bold">(f)</text>
<rect x="398.5" y="724.6" width="13.6" height="13.2" fill="#40e6dc"/>
<text x="419.8" y="735.3" font-size="14.3">: point defect</text>
<line x1="530" y1="722.6" x2="592.6" y2="722.6" stroke="#000" stroke-width="2.4" />
<text x="559.3" y="741.6" font-size="18.2" text-anchor="middle">400 nm</text>
<path d="M405.4 751.5L414.7 760.7L405.4 769.9L396.1 760.7Z" fill="#d8341a"/>
<g stroke="#000" stroke-width="0.15">
<text x="416.6" y="765.5" font-size="17" class="sf">:</text>
<text x="421" y="765.5" font-size="16.8" class="sf" font-style="italic">β</text>
<text x="424" y="761" font-size="15.5" class="sf">ˆ</text>
<text x="432.7" y="759.6" font-size="12.4" class="sf" font-style="italic">ex</text>
<text x="431.1" y="770.1" font-size="12.2" class="sf" font-style="italic">i</text>
<text x="455.2" y="766.9" font-size="20" class="sf">&gt;</text>
<text x="474.8" y="765.6" font-size="18" class="sf">0</text>
</g>
<path d="M513 751.5L522.3 760.7L513 769.9L503.7 760.7Z" fill="#2a10cf"/>
<g stroke="#000" stroke-width="0.15">
<text x="523.4" y="765.5" font-size="17" class="sf">:</text>
<text x="527.8" y="765.5" font-size="16.8" class="sf" font-style="italic">β</text>
<text x="530.8" y="761" font-size="15.5" class="sf">ˆ</text>
<text x="539.5" y="759.6" font-size="12.4" class="sf" font-style="italic">ex</text>
<text x="537.9" y="770.1" font-size="12.2" class="sf" font-style="italic">i</text>
<text x="562" y="766.9" font-size="20" class="sf">&lt;</text>
<text x="581.6" y="765.6" font-size="18" class="sf">0</text>
</g>
</g>
</svg></body></html>
